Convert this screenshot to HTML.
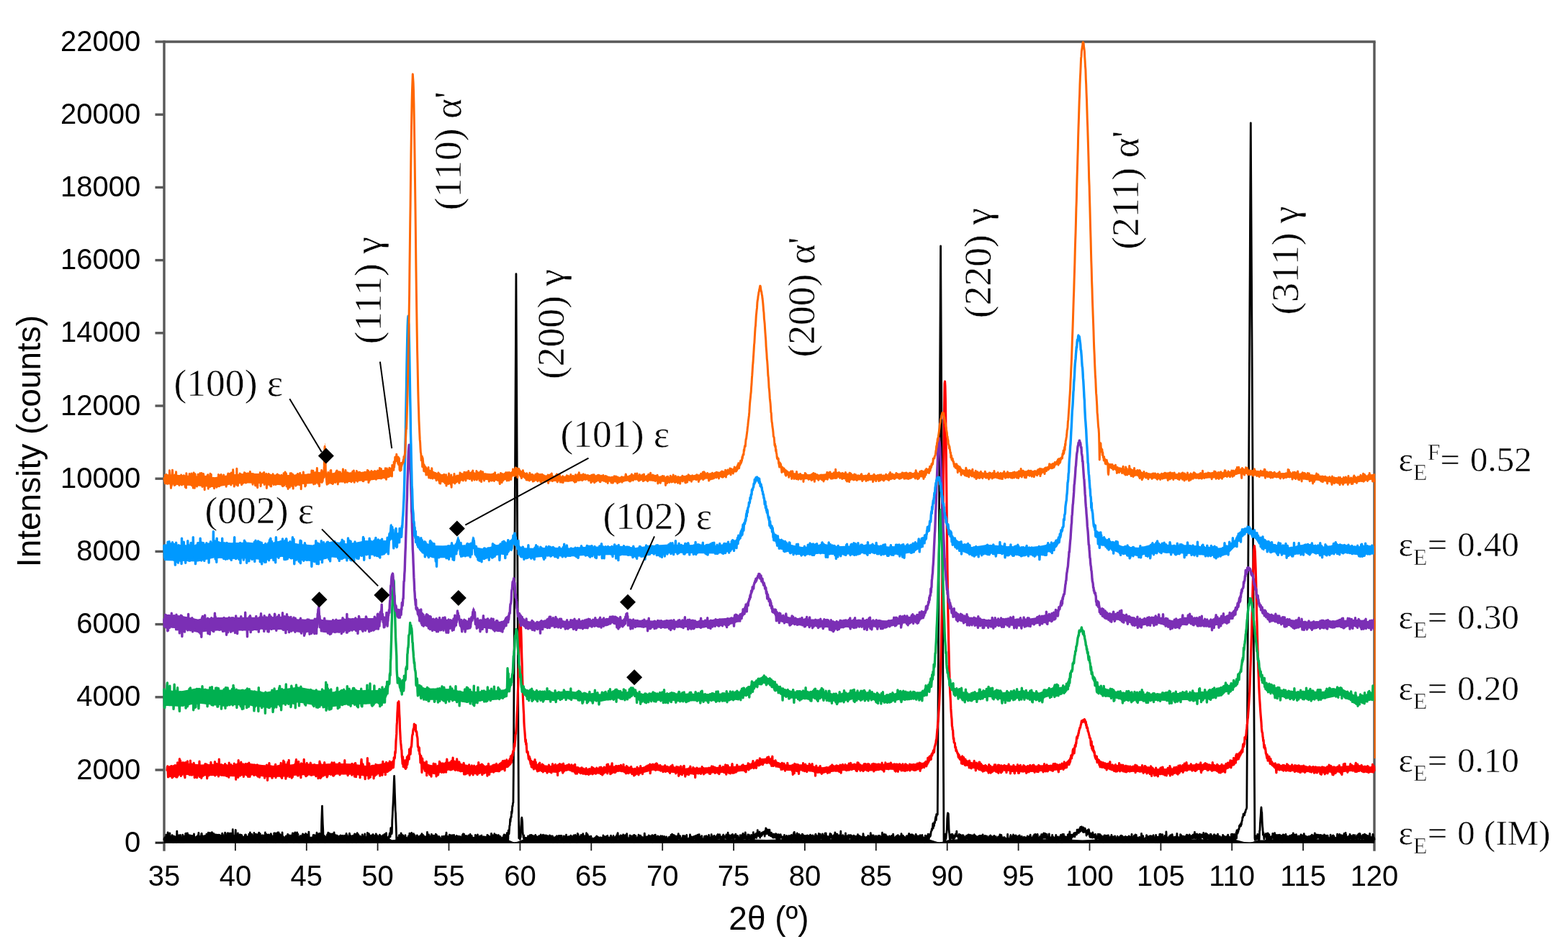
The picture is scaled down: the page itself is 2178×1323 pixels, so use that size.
<!DOCTYPE html>
<html lang="en"><head><meta charset="utf-8"><title>XRD patterns</title>
<style>
html,body{margin:0;padding:0;background:#fff;}
body{width:2178px;height:1323px;overflow:hidden;}
svg{display:block;filter:blur(0.7px);}
text{white-space:pre;}
</style></head><body>
<svg width="2178" height="1323" viewBox="0 0 2178 1323">
<rect x="0" y="0" width="2178" height="1323" fill="#fff"/>
<g stroke="#585858" stroke-width="3.4" fill="none" stroke-linecap="butt">
<line x1="228.0" y1="58.0" x2="1910.7" y2="58.0"/>
<line x1="1909.0" y1="58.0" x2="1909.0" y2="1182.7"/>
<line x1="228.0" y1="56.3" x2="228.0" y2="1182.7"/>
<line x1="215.5" y1="1171.2" x2="228.0" y2="1171.2"/>
<line x1="215.5" y1="1070.0" x2="228.0" y2="1070.0"/>
<line x1="215.5" y1="968.8" x2="228.0" y2="968.8"/>
<line x1="215.5" y1="867.6" x2="228.0" y2="867.6"/>
<line x1="215.5" y1="766.4" x2="228.0" y2="766.4"/>
<line x1="215.5" y1="665.2" x2="228.0" y2="665.2"/>
<line x1="215.5" y1="564.0" x2="228.0" y2="564.0"/>
<line x1="215.5" y1="462.8" x2="228.0" y2="462.8"/>
<line x1="215.5" y1="361.6" x2="228.0" y2="361.6"/>
<line x1="215.5" y1="260.4" x2="228.0" y2="260.4"/>
<line x1="215.5" y1="159.2" x2="228.0" y2="159.2"/>
<line x1="215.5" y1="58.0" x2="228.0" y2="58.0"/>
</g>
<g stroke="#1a1a1a" stroke-width="1.8" fill="none">
<line x1="216.0" y1="1171.2" x2="1909.0" y2="1171.2"/>
<line x1="326.9" y1="1171.2" x2="326.9" y2="1182.2"/>
<line x1="425.8" y1="1171.2" x2="425.8" y2="1182.2"/>
<line x1="524.6" y1="1171.2" x2="524.6" y2="1182.2"/>
<line x1="623.5" y1="1171.2" x2="623.5" y2="1182.2"/>
<line x1="722.4" y1="1171.2" x2="722.4" y2="1182.2"/>
<line x1="821.3" y1="1171.2" x2="821.3" y2="1182.2"/>
<line x1="920.2" y1="1171.2" x2="920.2" y2="1182.2"/>
<line x1="1019.1" y1="1171.2" x2="1019.1" y2="1182.2"/>
<line x1="1117.9" y1="1171.2" x2="1117.9" y2="1182.2"/>
<line x1="1216.8" y1="1171.2" x2="1216.8" y2="1182.2"/>
<line x1="1315.7" y1="1171.2" x2="1315.7" y2="1182.2"/>
<line x1="1414.6" y1="1171.2" x2="1414.6" y2="1182.2"/>
<line x1="1513.5" y1="1171.2" x2="1513.5" y2="1182.2"/>
<line x1="1612.4" y1="1171.2" x2="1612.4" y2="1182.2"/>
<line x1="1711.2" y1="1171.2" x2="1711.2" y2="1182.2"/>
<line x1="1810.1" y1="1171.2" x2="1810.1" y2="1182.2"/>
</g>
<g fill="none" stroke-linejoin="round" stroke-linecap="round">
<polygon fill="#000000" stroke="none" points="228.0,1162.7 436.8,1162.7 440.4,1162.8 442.4,1163.8 444.0,1163.8 452.3,1163.9 455.8,1162.8 532.6,1163.6 538.9,1164.2 544.4,1167.2 550.8,1166.8 556.7,1163.9 699.5,1165.3 703.8,1166.2 714.5,1170.8 720.0,1169.3 726.8,1166.4 733.5,1165.7 781.7,1166.2 1036.9,1166.2 1064.5,1167.1 1092.2,1166.2 1284.9,1166.2 1292.4,1167.1 1304.6,1170.7 1312.1,1169.0 1316.9,1167.2 1321.6,1167.1 1324.8,1166.4 1336.3,1166.2 1478.7,1166.3 1503.6,1167.5 1529.3,1166.3 1709.7,1166.2 1716.8,1166.9 1729.0,1170.3 1736.5,1171.2 1744.5,1168.2 1748.8,1167.5 1756.3,1167.4 1760.7,1166.3 1909.0,1166.2 1909.0,1171.2 228.0,1171.2"/>
<polyline stroke="#000000" stroke-width="2.8" points="228.0,1166.6 228.4,1164.7 228.8,1166.3 229.2,1170.4 229.6,1163.7 230.0,1165.6 230.4,1166.4 230.8,1160.1 231.2,1165.3 231.6,1161.0 232.0,1160.8 232.4,1163.9 232.7,1166.7 233.1,1156.9 233.5,1163.6 233.9,1166.6 234.3,1166.6 234.7,1164.2 235.1,1164.2 235.5,1160.6 235.9,1158.0 236.3,1168.9 236.7,1162.7 237.1,1166.2 237.5,1169.2 237.9,1168.4 238.3,1167.9 238.7,1165.4 239.1,1160.6 239.5,1161.0 239.9,1167.9 240.3,1170.4 240.7,1161.9 241.1,1166.0 241.4,1170.4 241.8,1167.3 242.2,1164.7 242.6,1162.5 243.0,1168.4 243.4,1163.5 243.8,1163.7 244.2,1169.1 244.6,1169.9 245.0,1170.4 245.4,1165.0 245.8,1155.1 246.2,1164.4 246.6,1161.9 247.0,1163.7 247.4,1165.9 247.8,1161.1 248.2,1160.8 248.6,1161.1 249.0,1161.8 249.4,1165.0 249.8,1168.5 250.1,1165.2 250.5,1160.4 250.9,1170.4 251.3,1170.4 251.7,1169.3 252.1,1164.0 252.5,1166.5 252.9,1165.0 253.3,1169.5 253.7,1160.2 254.1,1170.4 254.5,1167.5 254.9,1169.3 255.3,1168.8 255.7,1162.2 256.1,1166.8 256.5,1170.1 256.9,1166.0 257.3,1167.8 257.7,1158.4 258.1,1158.2 258.5,1165.9 258.9,1163.8 259.2,1168.7 259.6,1160.7 260.0,1164.6 260.4,1157.8 260.8,1167.3 261.2,1161.7 261.6,1160.1 262.0,1168.0 262.4,1169.4 262.8,1161.1 263.2,1167.9 263.6,1160.8 264.0,1162.6 264.4,1169.5 264.8,1161.2 265.2,1161.4 265.6,1167.0 266.0,1165.9 266.4,1164.9 266.8,1161.3 267.2,1168.2 267.6,1166.6 267.9,1165.3 268.3,1168.3 268.7,1164.4 269.1,1162.2 269.5,1158.9 269.9,1167.6 270.3,1168.8 270.7,1164.8 271.1,1168.6 271.5,1163.7 271.9,1169.0 272.3,1165.6 272.7,1168.6 273.1,1168.1 273.5,1162.3 273.9,1167.5 274.3,1163.9 274.7,1165.8 275.1,1160.6 275.5,1166.5 275.9,1157.4 276.3,1170.3 276.7,1166.5 277.0,1164.9 277.4,1166.0 277.8,1165.4 278.2,1166.3 278.6,1162.2 279.0,1169.2 279.4,1163.4 279.8,1158.9 280.2,1158.3 280.6,1170.0 281.0,1167.9 281.4,1161.7 281.8,1168.0 282.2,1162.0 282.6,1163.2 283.0,1163.2 283.4,1162.7 283.8,1167.3 284.2,1162.4 284.6,1161.5 285.0,1164.3 285.4,1164.1 285.7,1162.7 286.1,1169.1 286.5,1165.2 286.9,1159.2 287.3,1164.8 287.7,1164.8 288.1,1163.8 288.5,1165.6 288.9,1168.6 289.3,1157.1 289.7,1162.3 290.1,1166.9 290.5,1163.9 290.9,1164.8 291.3,1160.7 291.7,1157.3 292.1,1165.3 292.5,1161.9 292.9,1168.3 293.3,1167.7 293.7,1166.3 294.1,1162.7 294.4,1156.6 294.8,1158.9 295.2,1160.7 295.6,1169.1 296.0,1166.5 296.4,1162.0 296.8,1158.4 297.2,1162.3 297.6,1159.5 298.0,1164.7 298.4,1164.7 298.8,1163.5 299.2,1165.5 299.6,1159.8 300.0,1165.7 300.4,1161.7 300.8,1161.9 301.2,1164.8 301.6,1160.2 302.0,1166.1 302.4,1164.3 302.8,1160.7 303.2,1167.0 303.5,1167.3 303.9,1160.2 304.3,1163.5 304.7,1166.9 305.1,1160.4 305.5,1166.1 305.9,1166.7 306.3,1163.6 306.7,1161.6 307.1,1166.0 307.5,1164.5 307.9,1167.7 308.3,1161.7 308.7,1158.2 309.1,1159.7 309.5,1159.8 309.9,1168.0 310.3,1164.6 310.7,1166.5 311.1,1164.3 311.5,1164.0 311.9,1162.6 312.2,1167.9 312.6,1157.1 313.0,1163.0 313.4,1161.2 313.8,1162.0 314.2,1165.8 314.6,1165.4 315.0,1167.6 315.4,1161.9 315.8,1158.1 316.2,1169.0 316.6,1157.7 317.0,1170.1 317.4,1165.2 317.8,1167.3 318.2,1162.7 318.6,1162.5 319.0,1158.5 319.4,1158.0 319.8,1165.8 320.2,1162.4 320.6,1165.6 320.9,1161.5 321.3,1158.1 321.7,1163.5 322.1,1159.1 322.5,1167.8 322.9,1164.8 323.3,1152.7 323.7,1165.5 324.1,1164.7 324.5,1161.4 324.9,1169.0 325.3,1169.9 325.7,1165.7 326.1,1169.0 326.5,1162.6 326.9,1158.6 327.3,1153.4 327.7,1164.8 328.1,1163.9 328.5,1162.4 328.9,1168.9 329.3,1163.9 329.7,1163.4 330.0,1166.5 330.4,1158.0 330.8,1166.7 331.2,1167.3 331.6,1165.9 332.0,1161.8 332.4,1170.4 332.8,1166.5 333.2,1159.8 333.6,1168.4 334.0,1161.9 334.4,1161.6 334.8,1160.3 335.2,1161.2 335.6,1167.7 336.0,1160.9 336.4,1167.2 336.8,1167.3 337.2,1167.7 337.6,1163.7 338.0,1164.9 338.4,1164.5 338.7,1168.1 339.1,1163.1 339.5,1166.9 339.9,1164.1 340.3,1160.7 340.7,1160.1 341.1,1168.3 341.5,1160.1 341.9,1167.3 342.3,1165.5 342.7,1162.5 343.1,1169.4 343.5,1168.5 343.9,1168.3 344.3,1165.0 344.7,1170.4 345.1,1162.4 345.5,1163.9 345.9,1159.2 346.3,1170.2 346.7,1163.9 347.1,1162.9 347.4,1156.8 347.8,1158.8 348.2,1167.5 348.6,1166.6 349.0,1169.8 349.4,1168.9 349.8,1159.5 350.2,1165.8 350.6,1168.4 351.0,1169.3 351.4,1163.1 351.8,1166.5 352.2,1161.9 352.6,1162.3 353.0,1157.5 353.4,1165.7 353.8,1167.7 354.2,1165.6 354.6,1159.7 355.0,1170.0 355.4,1163.6 355.8,1159.5 356.2,1160.6 356.5,1160.7 356.9,1164.3 357.3,1167.0 357.7,1164.2 358.1,1162.0 358.5,1159.8 358.9,1158.8 359.3,1167.0 359.7,1157.2 360.1,1170.4 360.5,1165.6 360.9,1160.4 361.3,1158.7 361.7,1165.1 362.1,1165.7 362.5,1165.4 362.9,1164.4 363.3,1165.1 363.7,1163.0 364.1,1160.8 364.5,1161.9 364.9,1162.2 365.2,1164.0 365.6,1160.8 366.0,1167.5 366.4,1162.7 366.8,1166.9 367.2,1162.2 367.6,1169.9 368.0,1165.4 368.4,1157.0 368.8,1166.1 369.2,1161.3 369.6,1166.7 370.0,1159.5 370.4,1170.3 370.8,1164.3 371.2,1166.7 371.6,1162.0 372.0,1163.1 372.4,1160.2 372.8,1160.6 373.2,1159.9 373.6,1163.7 374.0,1168.1 374.3,1161.8 374.7,1163.5 375.1,1163.7 375.5,1165.4 375.9,1160.1 376.3,1158.6 376.7,1160.6 377.1,1168.6 377.5,1161.8 377.9,1169.8 378.3,1164.4 378.7,1162.2 379.1,1168.8 379.5,1165.1 379.9,1170.2 380.3,1167.6 380.7,1158.0 381.1,1162.4 381.5,1165.0 381.9,1157.9 382.3,1166.4 382.7,1159.2 383.0,1170.4 383.4,1164.3 383.8,1168.4 384.2,1158.1 384.6,1159.8 385.0,1159.6 385.4,1168.0 385.8,1156.8 386.2,1162.9 386.6,1167.6 387.0,1156.9 387.4,1161.8 387.8,1166.5 388.2,1158.8 388.6,1168.8 389.0,1160.0 389.4,1166.1 389.8,1163.4 390.2,1164.2 390.6,1165.8 391.0,1160.5 391.4,1162.3 391.7,1163.0 392.1,1157.0 392.5,1170.4 392.9,1167.0 393.3,1162.6 393.7,1166.5 394.1,1170.2 394.5,1166.1 394.9,1167.0 395.3,1165.6 395.7,1163.8 396.1,1166.2 396.5,1167.4 396.9,1170.4 397.3,1161.9 397.7,1170.4 398.1,1163.0 398.5,1162.7 398.9,1170.4 399.3,1162.0 399.7,1159.3 400.1,1161.9 400.5,1164.9 400.8,1163.9 401.2,1160.8 401.6,1161.7 402.0,1165.2 402.4,1161.5 402.8,1161.1 403.2,1167.9 403.6,1164.5 404.0,1168.0 404.4,1168.5 404.8,1169.0 405.2,1162.7 405.6,1160.3 406.0,1165.1 406.4,1158.0 406.8,1167.4 407.2,1165.1 407.6,1158.3 408.0,1170.4 408.4,1158.9 408.8,1169.7 409.2,1157.8 409.5,1167.5 409.9,1156.8 410.3,1165.9 410.7,1161.3 411.1,1159.9 411.5,1166.8 411.9,1164.3 412.3,1167.8 412.7,1156.8 413.1,1159.0 413.5,1160.9 413.9,1159.0 414.3,1168.3 414.7,1170.4 415.1,1165.9 415.5,1163.6 415.9,1167.8 416.3,1170.3 416.7,1164.6 417.1,1161.7 417.5,1164.7 417.9,1166.5 418.2,1169.0 418.6,1170.1 419.0,1161.8 419.4,1166.1 419.8,1160.7 420.2,1160.4 420.6,1158.9 421.0,1159.4 421.4,1165.1 421.8,1164.4 422.2,1160.1 422.6,1163.7 423.0,1168.1 423.4,1170.4 423.8,1165.0 424.2,1163.4 424.6,1158.5 425.0,1170.4 425.4,1160.7 425.8,1159.6 426.2,1160.2 426.6,1167.2 427.0,1163.9 427.3,1160.2 427.7,1163.7 428.1,1163.4 428.5,1163.7 428.9,1156.1 429.3,1164.3 429.7,1166.8 430.1,1165.7 430.5,1167.3 430.9,1166.9 431.3,1166.0 431.7,1168.8 432.1,1170.4 432.5,1164.9 432.9,1166.6 433.3,1170.4 433.7,1169.4 434.1,1169.4 434.5,1166.7 434.9,1162.5 435.3,1160.3 435.7,1169.6 436.0,1160.6 436.4,1160.9 436.8,1162.7 437.2,1160.6 437.6,1164.9 438.0,1165.6 438.4,1165.4 438.8,1169.7 439.2,1167.5 439.6,1169.1 440.0,1157.2 440.4,1160.6 440.8,1158.8 441.2,1170.4 441.6,1169.7 442.0,1170.4 442.4,1163.8 442.8,1159.3 443.2,1166.1 443.6,1158.2 444.0,1167.9 444.4,1160.5 444.8,1168.9 445.1,1161.8 445.5,1160.6 445.9,1161.4 446.3,1164.0 446.7,1142.6 447.1,1130.8 447.5,1120.1 447.9,1133.8 448.3,1145.1 448.7,1152.3 449.1,1164.3 449.5,1168.1 449.9,1166.8 450.3,1168.4 450.7,1161.6 451.1,1163.4 451.5,1170.4 451.9,1166.5 452.3,1163.5 452.7,1165.5 453.1,1168.6 453.5,1165.7 453.8,1169.3 454.2,1160.7 454.6,1167.1 455.0,1159.3 455.4,1164.1 455.8,1157.1 456.2,1166.6 456.6,1164.9 457.0,1164.6 457.4,1167.7 457.8,1158.2 458.2,1165.5 458.6,1165.8 459.0,1162.9 459.4,1168.3 459.8,1159.5 460.2,1164.2 460.6,1168.5 461.0,1159.0 461.4,1164.5 461.8,1163.6 462.2,1158.8 462.5,1167.9 462.9,1159.7 463.3,1165.5 463.7,1170.1 464.1,1157.0 464.5,1162.0 464.9,1160.9 465.3,1164.7 465.7,1160.4 466.1,1161.0 466.5,1168.8 466.9,1165.6 467.3,1169.3 467.7,1162.3 468.1,1161.0 468.5,1162.3 468.9,1164.1 469.3,1162.4 469.7,1170.2 470.1,1164.7 470.5,1170.2 470.9,1167.8 471.3,1168.8 471.6,1161.9 472.0,1167.8 472.4,1166.7 472.8,1163.4 473.2,1160.9 473.6,1168.9 474.0,1163.1 474.4,1161.6 474.8,1161.9 475.2,1164.1 475.6,1164.4 476.0,1162.1 476.4,1161.2 476.8,1162.2 477.2,1165.6 477.6,1165.2 478.0,1163.0 478.4,1167.3 478.8,1165.7 479.2,1161.2 479.6,1164.3 480.0,1167.1 480.3,1166.5 480.7,1169.1 481.1,1158.3 481.5,1170.4 481.9,1160.5 482.3,1162.7 482.7,1162.8 483.1,1170.2 483.5,1166.8 483.9,1163.6 484.3,1170.4 484.7,1167.2 485.1,1161.0 485.5,1158.2 485.9,1163.1 486.3,1167.8 486.7,1161.8 487.1,1161.3 487.5,1161.9 487.9,1165.8 488.3,1164.0 488.7,1168.1 489.0,1162.4 489.4,1170.4 489.8,1166.1 490.2,1161.4 490.6,1168.5 491.0,1166.5 491.4,1166.0 491.8,1167.3 492.2,1160.0 492.6,1158.9 493.0,1160.7 493.4,1160.7 493.8,1161.0 494.2,1159.6 494.6,1169.4 495.0,1170.4 495.4,1169.6 495.8,1164.4 496.2,1157.7 496.6,1160.6 497.0,1159.4 497.4,1164.9 497.8,1159.7 498.1,1169.4 498.5,1163.2 498.9,1162.0 499.3,1167.6 499.7,1166.9 500.1,1162.0 500.5,1163.3 500.9,1163.5 501.3,1163.8 501.7,1170.4 502.1,1165.4 502.5,1169.9 502.9,1165.0 503.3,1160.0 503.7,1164.1 504.1,1161.7 504.5,1167.5 504.9,1170.4 505.3,1165.5 505.7,1166.3 506.1,1167.1 506.5,1164.6 506.8,1159.0 507.2,1169.6 507.6,1165.1 508.0,1165.1 508.4,1165.6 508.8,1169.0 509.2,1169.4 509.6,1163.2 510.0,1164.9 510.4,1157.5 510.8,1160.7 511.2,1162.4 511.6,1162.0 512.0,1161.7 512.4,1158.6 512.8,1160.9 513.2,1164.1 513.6,1162.1 514.0,1161.1 514.4,1162.0 514.8,1170.4 515.2,1167.1 515.5,1166.8 515.9,1162.7 516.3,1165.2 516.7,1160.6 517.1,1165.8 517.5,1166.4 517.9,1159.6 518.3,1159.6 518.7,1162.7 519.1,1162.8 519.5,1165.6 519.9,1166.5 520.3,1169.2 520.7,1163.4 521.1,1161.2 521.5,1161.8 521.9,1169.6 522.3,1158.9 522.7,1168.6 523.1,1160.1 523.5,1165.0 523.9,1161.9 524.3,1164.1 524.6,1165.5 525.0,1161.8 525.4,1162.3 525.8,1168.5 526.2,1164.4 526.6,1166.9 527.0,1168.3 527.4,1160.1 527.8,1165.8 528.2,1161.3 528.6,1165.7 529.0,1169.3 529.4,1163.1 529.8,1169.8 530.2,1170.4 530.6,1161.9 531.0,1165.1 531.4,1161.6 531.8,1165.8 532.2,1160.6 532.6,1167.7 533.0,1167.7 533.3,1163.3 533.7,1168.4 534.1,1159.5 534.5,1169.4 534.9,1161.1 535.3,1168.3 535.7,1160.7 536.1,1159.4 536.5,1157.7 536.9,1169.7 537.3,1165.6 537.7,1163.3 538.1,1168.1 538.5,1170.4 538.9,1167.0 539.3,1164.4 539.7,1169.8 540.1,1162.8 540.5,1161.8 540.9,1160.7 541.3,1157.9 541.7,1163.1 542.1,1162.7 542.4,1157.4 542.8,1150.7 543.2,1156.4 543.6,1153.2 544.0,1158.9 544.4,1156.7 544.8,1139.8 545.2,1133.7 545.6,1124.0 546.0,1117.6 546.4,1108.7 546.8,1100.3 547.2,1087.2 547.6,1078.4 548.0,1088.9 548.4,1102.1 548.8,1112.6 549.2,1126.0 549.6,1130.6 550.0,1142.4 550.4,1153.6 550.8,1169.4 551.1,1164.7 551.5,1169.8 551.9,1168.4 552.3,1165.9 552.7,1164.1 553.1,1166.3 553.5,1165.6 553.9,1164.6 554.3,1160.8 554.7,1160.6 555.1,1164.2 555.5,1166.8 555.9,1165.3 556.3,1167.0 556.7,1167.3 557.1,1157.8 557.5,1159.8 557.9,1162.7 558.3,1160.1 558.7,1163.1 559.1,1165.5 559.5,1166.6 559.8,1160.9 560.2,1164.3 560.6,1162.7 561.0,1168.6 561.4,1168.1 561.8,1166.9 562.2,1168.0 562.6,1163.9 563.0,1160.7 563.4,1166.1 563.8,1163.8 564.2,1165.8 564.6,1164.6 565.0,1169.2 565.4,1170.4 565.8,1170.4 566.2,1164.5 566.6,1164.0 567.0,1163.6 567.4,1161.8 567.8,1166.8 568.2,1164.3 568.6,1165.0 568.9,1158.1 569.3,1161.0 569.7,1165.5 570.1,1168.9 570.5,1165.7 570.9,1161.5 571.3,1168.9 571.7,1157.4 572.1,1160.3 572.5,1165.1 572.9,1166.5 573.3,1163.2 573.7,1160.7 574.1,1167.1 574.5,1158.7 574.9,1162.9 575.3,1160.2 575.7,1161.9 576.1,1160.9 576.5,1167.1 576.9,1163.6 577.3,1167.2 577.6,1165.7 578.0,1167.4 578.4,1168.7 578.8,1166.9 579.2,1160.8 579.6,1160.8 580.0,1162.2 580.4,1165.5 580.8,1166.1 581.2,1170.3 581.6,1166.5 582.0,1165.6 582.4,1162.6 582.8,1168.0 583.2,1168.7 583.6,1166.4 584.0,1161.2 584.4,1169.5 584.8,1166.0 585.2,1160.4 585.6,1160.8 586.0,1158.6 586.3,1163.9 586.7,1163.3 587.1,1169.6 587.5,1168.1 587.9,1160.6 588.3,1166.3 588.7,1162.0 589.1,1166.2 589.5,1162.9 589.9,1163.5 590.3,1166.5 590.7,1163.0 591.1,1164.1 591.5,1165.9 591.9,1166.3 592.3,1166.2 592.7,1162.2 593.1,1161.5 593.5,1156.4 593.9,1163.5 594.3,1163.1 594.7,1168.1 595.1,1165.5 595.4,1169.3 595.8,1160.0 596.2,1165.9 596.6,1165.8 597.0,1162.1 597.4,1166.1 597.8,1163.0 598.2,1164.9 598.6,1165.6 599.0,1165.2 599.4,1159.5 599.8,1162.3 600.2,1162.5 600.6,1161.7 601.0,1165.4 601.4,1166.9 601.8,1161.2 602.2,1166.6 602.6,1164.3 603.0,1167.2 603.4,1165.7 603.8,1161.3 604.1,1169.0 604.5,1163.2 604.9,1163.7 605.3,1159.1 605.7,1169.1 606.1,1162.0 606.5,1160.4 606.9,1164.6 607.3,1166.2 607.7,1162.3 608.1,1169.4 608.5,1163.9 608.9,1165.6 609.3,1167.5 609.7,1162.3 610.1,1165.8 610.5,1163.4 610.9,1164.4 611.3,1167.5 611.7,1167.7 612.1,1166.8 612.5,1170.4 612.9,1167.1 613.2,1170.0 613.6,1165.6 614.0,1162.5 614.4,1170.4 614.8,1165.5 615.2,1168.3 615.6,1165.2 616.0,1165.3 616.4,1162.2 616.8,1165.6 617.2,1168.0 617.6,1168.5 618.0,1166.5 618.4,1169.4 618.8,1163.0 619.2,1160.6 619.6,1165.5 620.0,1157.2 620.4,1163.7 620.8,1162.1 621.2,1162.2 621.6,1169.0 621.9,1170.4 622.3,1164.4 622.7,1163.0 623.1,1164.7 623.5,1165.6 623.9,1166.5 624.3,1160.2 624.7,1165.0 625.1,1160.3 625.5,1162.2 625.9,1164.8 626.3,1170.4 626.7,1161.1 627.1,1161.6 627.5,1165.4 627.9,1166.7 628.3,1160.6 628.7,1169.7 629.1,1166.5 629.5,1166.3 629.9,1162.1 630.3,1169.4 630.6,1160.3 631.0,1164.6 631.4,1167.9 631.8,1164.6 632.2,1168.2 632.6,1163.3 633.0,1166.3 633.4,1162.3 633.8,1167.0 634.2,1161.4 634.6,1162.2 635.0,1164.6 635.4,1170.4 635.8,1169.9 636.2,1162.2 636.6,1168.5 637.0,1165.7 637.4,1167.3 637.8,1163.0 638.2,1162.4 638.6,1170.3 639.0,1162.7 639.4,1168.8 639.7,1165.0 640.1,1165.7 640.5,1170.4 640.9,1167.9 641.3,1166.6 641.7,1163.0 642.1,1161.7 642.5,1160.3 642.9,1164.8 643.3,1159.0 643.7,1163.6 644.1,1169.0 644.5,1159.2 644.9,1167.4 645.3,1163.1 645.7,1164.2 646.1,1164.8 646.5,1165.4 646.9,1164.6 647.3,1161.4 647.7,1163.3 648.1,1165.2 648.4,1165.9 648.8,1162.9 649.2,1162.4 649.6,1162.3 650.0,1162.6 650.4,1168.3 650.8,1160.8 651.2,1164.4 651.6,1164.9 652.0,1167.2 652.4,1161.3 652.8,1166.9 653.2,1159.5 653.6,1164.1 654.0,1169.7 654.4,1167.5 654.8,1165.5 655.2,1161.4 655.6,1168.7 656.0,1166.7 656.4,1165.1 656.8,1164.1 657.1,1166.2 657.5,1166.8 657.9,1166.5 658.3,1167.4 658.7,1164.3 659.1,1166.7 659.5,1167.0 659.9,1166.7 660.3,1160.3 660.7,1169.3 661.1,1166.3 661.5,1170.4 661.9,1163.5 662.3,1161.5 662.7,1167.6 663.1,1164.5 663.5,1160.0 663.9,1168.8 664.3,1164.3 664.7,1166.2 665.1,1165.5 665.5,1163.5 665.9,1165.2 666.2,1165.5 666.6,1162.0 667.0,1169.3 667.4,1164.6 667.8,1163.8 668.2,1164.4 668.6,1161.5 669.0,1161.1 669.4,1165.1 669.8,1166.9 670.2,1165.2 670.6,1164.2 671.0,1163.5 671.4,1163.3 671.8,1163.8 672.2,1162.7 672.6,1165.6 673.0,1167.5 673.4,1164.2 673.8,1165.7 674.2,1163.2 674.6,1165.0 674.9,1163.7 675.3,1168.7 675.7,1166.1 676.1,1164.1 676.5,1166.1 676.9,1160.3 677.3,1160.7 677.7,1162.1 678.1,1162.8 678.5,1161.6 678.9,1166.7 679.3,1165.6 679.7,1162.3 680.1,1168.0 680.5,1163.9 680.9,1163.9 681.3,1169.0 681.7,1162.7 682.1,1167.0 682.5,1158.3 682.9,1168.2 683.3,1163.9 683.6,1166.7 684.0,1161.4 684.4,1160.8 684.8,1162.0 685.2,1161.1 685.6,1163.3 686.0,1163.9 686.4,1167.8 686.8,1158.7 687.2,1161.2 687.6,1168.2 688.0,1162.4 688.4,1167.8 688.8,1161.9 689.2,1160.2 689.6,1167.3 690.0,1162.5 690.4,1163.4 690.8,1166.0 691.2,1166.5 691.6,1163.9 692.0,1160.6 692.4,1161.5 692.7,1160.7 693.1,1162.7 693.5,1169.3 693.9,1165.4 694.3,1163.8 694.7,1162.6 695.1,1162.4 695.5,1166.7 695.9,1165.2 696.3,1165.1 696.7,1167.7 697.1,1168.3 697.5,1165.5 697.9,1164.2 698.3,1168.1 698.7,1164.1 699.1,1167.2 699.5,1161.3 699.9,1166.3 700.3,1159.8 700.7,1164.0 701.1,1167.1 701.4,1166.3 701.8,1160.7 702.2,1165.0 702.6,1164.8 703.0,1167.1 703.4,1160.3 703.8,1166.6 704.2,1157.6 704.6,1165.6 705.0,1165.6 705.4,1159.0 705.8,1167.1 706.2,1153.9 706.6,1155.4 707.0,1158.8 707.4,1153.7 707.8,1147.4 708.2,1147.3 708.6,1138.5 709.0,1141.9 709.4,1137.4 709.8,1135.0 710.2,1135.6 710.5,1128.0 710.9,1130.5 711.3,1127.3 711.7,1120.1 712.1,1120.5 712.5,1115.8 712.9,1115.5 713.3,1074.6 713.7,997.7 714.1,921.4 714.5,844.3 714.9,768.8 715.3,689.8 715.7,613.0 716.1,535.5 716.5,459.1 716.9,380.6 717.3,463.2 717.7,547.1 718.1,626.8 718.5,711.6 718.9,793.3 719.2,875.6 719.6,956.5 720.0,1040.2 720.4,1123.2 720.8,1164.9 721.2,1163.2 721.6,1162.8 722.0,1160.9 722.4,1166.5 722.8,1157.1 723.2,1163.4 723.6,1149.5 724.0,1145.3 724.4,1137.6 724.8,1136.1 725.2,1138.7 725.6,1143.1 726.0,1155.6 726.4,1159.2 726.8,1160.9 727.2,1164.5 727.6,1160.7 727.9,1163.9 728.3,1168.3 728.7,1165.4 729.1,1167.5 729.5,1164.4 729.9,1167.2 730.3,1167.7 730.7,1167.2 731.1,1164.4 731.5,1168.8 731.9,1170.4 732.3,1164.8 732.7,1164.7 733.1,1169.1 733.5,1162.0 733.9,1167.5 734.3,1164.7 734.7,1167.1 735.1,1167.3 735.5,1164.5 735.9,1161.2 736.3,1160.6 736.7,1168.1 737.0,1167.5 737.4,1165.9 737.8,1166.0 738.2,1160.4 738.6,1164.1 739.0,1167.7 739.4,1165.1 739.8,1161.5 740.2,1162.9 740.6,1163.3 741.0,1167.3 741.4,1165.7 741.8,1162.0 742.2,1165.8 742.6,1165.0 743.0,1162.3 743.4,1164.5 743.8,1160.5 744.2,1162.5 744.6,1162.0 745.0,1162.5 745.4,1162.8 745.7,1165.8 746.1,1166.6 746.5,1167.6 746.9,1165.7 747.3,1162.9 747.7,1165.3 748.1,1167.2 748.5,1168.3 748.9,1161.6 749.3,1169.1 749.7,1165.8 750.1,1164.6 750.5,1165.8 750.9,1163.1 751.3,1159.9 751.7,1164.6 752.1,1161.4 752.5,1168.3 752.9,1169.5 753.3,1168.0 753.7,1165.7 754.1,1166.9 754.4,1160.2 754.8,1163.3 755.2,1161.2 755.6,1169.8 756.0,1164.4 756.4,1168.2 756.8,1160.8 757.2,1162.7 757.6,1166.0 758.0,1161.5 758.4,1161.9 758.8,1161.0 759.2,1163.5 759.6,1164.5 760.0,1163.3 760.4,1161.6 760.8,1162.0 761.2,1168.4 761.6,1168.3 762.0,1164.8 762.4,1163.3 762.8,1167.2 763.2,1164.8 763.5,1160.8 763.9,1165.9 764.3,1164.7 764.7,1165.7 765.1,1162.8 765.5,1167.2 765.9,1162.0 766.3,1164.4 766.7,1162.6 767.1,1163.9 767.5,1161.9 767.9,1164.7 768.3,1170.4 768.7,1167.9 769.1,1168.5 769.5,1164.1 769.9,1165.0 770.3,1169.0 770.7,1168.0 771.1,1163.7 771.5,1166.2 771.9,1167.2 772.2,1166.4 772.6,1165.5 773.0,1161.9 773.4,1161.7 773.8,1164.9 774.2,1170.4 774.6,1168.4 775.0,1165.3 775.4,1167.5 775.8,1166.4 776.2,1161.5 776.6,1161.7 777.0,1162.5 777.4,1163.7 777.8,1164.2 778.2,1161.5 778.6,1162.5 779.0,1166.4 779.4,1163.1 779.8,1166.5 780.2,1161.5 780.6,1168.9 781.0,1168.5 781.3,1169.3 781.7,1165.0 782.1,1168.6 782.5,1165.5 782.9,1170.4 783.3,1162.0 783.7,1163.4 784.1,1165.2 784.5,1166.5 784.9,1165.2 785.3,1162.5 785.7,1165.2 786.1,1165.6 786.5,1160.1 786.9,1164.6 787.3,1165.8 787.7,1163.2 788.1,1163.4 788.5,1163.7 788.9,1166.0 789.3,1165.7 789.7,1162.7 790.0,1165.8 790.4,1162.8 790.8,1164.7 791.2,1164.3 791.6,1162.3 792.0,1170.4 792.4,1167.1 792.8,1161.2 793.2,1164.9 793.6,1167.4 794.0,1163.4 794.4,1166.2 794.8,1162.7 795.2,1165.4 795.6,1165.8 796.0,1163.0 796.4,1167.3 796.8,1161.0 797.2,1166.8 797.6,1165.7 798.0,1168.6 798.4,1166.1 798.7,1165.7 799.1,1160.5 799.5,1161.9 799.9,1163.6 800.3,1168.2 800.7,1170.4 801.1,1169.3 801.5,1170.4 801.9,1168.3 802.3,1158.3 802.7,1164.0 803.1,1159.4 803.5,1168.3 803.9,1163.9 804.3,1166.2 804.7,1162.9 805.1,1164.7 805.5,1165.8 805.9,1162.4 806.3,1167.5 806.7,1162.7 807.1,1160.3 807.5,1163.1 807.8,1165.5 808.2,1168.5 808.6,1164.7 809.0,1166.2 809.4,1159.9 809.8,1158.7 810.2,1161.1 810.6,1167.7 811.0,1163.1 811.4,1162.9 811.8,1165.0 812.2,1161.9 812.6,1166.3 813.0,1162.7 813.4,1167.5 813.8,1162.7 814.2,1161.7 814.6,1157.7 815.0,1166.5 815.4,1161.9 815.8,1161.0 816.2,1159.5 816.5,1163.0 816.9,1161.7 817.3,1165.2 817.7,1163.9 818.1,1169.2 818.5,1163.8 818.9,1162.8 819.3,1166.2 819.7,1163.0 820.1,1164.9 820.5,1166.2 820.9,1162.2 821.3,1165.5 821.7,1168.9 822.1,1165.4 822.5,1165.8 822.9,1170.4 823.3,1166.8 823.7,1165.2 824.1,1167.4 824.5,1166.4 824.9,1167.2 825.2,1165.4 825.6,1168.3 826.0,1164.9 826.4,1164.5 826.8,1163.9 827.2,1166.5 827.6,1166.2 828.0,1168.5 828.4,1162.7 828.8,1161.9 829.2,1166.0 829.6,1167.4 830.0,1168.1 830.4,1163.2 830.8,1166.3 831.2,1169.8 831.6,1164.5 832.0,1164.0 832.4,1170.4 832.8,1166.3 833.2,1164.6 833.6,1168.2 834.0,1163.8 834.3,1163.9 834.7,1166.2 835.1,1166.0 835.5,1164.6 835.9,1164.4 836.3,1165.9 836.7,1165.6 837.1,1170.0 837.5,1165.7 837.9,1161.0 838.3,1170.1 838.7,1162.1 839.1,1164.7 839.5,1167.2 839.9,1165.3 840.3,1162.9 840.7,1164.7 841.1,1164.6 841.5,1166.9 841.9,1166.1 842.3,1162.3 842.7,1163.2 843.0,1163.5 843.4,1167.2 843.8,1161.4 844.2,1165.2 844.6,1168.1 845.0,1163.9 845.4,1165.4 845.8,1165.1 846.2,1168.1 846.6,1164.1 847.0,1167.5 847.4,1164.2 847.8,1165.9 848.2,1162.0 848.6,1161.2 849.0,1168.9 849.4,1170.4 849.8,1164.8 850.2,1164.7 850.6,1168.1 851.0,1163.4 851.4,1164.7 851.7,1164.8 852.1,1161.5 852.5,1170.4 852.9,1167.6 853.3,1168.3 853.7,1166.8 854.1,1164.5 854.5,1164.4 854.9,1163.3 855.3,1168.5 855.7,1165.6 856.1,1165.4 856.5,1160.8 856.9,1168.4 857.3,1165.6 857.7,1159.0 858.1,1157.6 858.5,1162.0 858.9,1161.9 859.3,1162.5 859.7,1162.9 860.1,1164.9 860.5,1167.9 860.8,1162.2 861.2,1164.5 861.6,1167.7 862.0,1160.8 862.4,1161.0 862.8,1164.4 863.2,1162.3 863.6,1161.8 864.0,1167.0 864.4,1164.9 864.8,1162.4 865.2,1166.9 865.6,1160.0 866.0,1164.0 866.4,1168.1 866.8,1169.3 867.2,1167.7 867.6,1161.9 868.0,1162.7 868.4,1160.7 868.8,1161.8 869.2,1167.1 869.5,1169.9 869.9,1167.7 870.3,1162.3 870.7,1158.6 871.1,1162.4 871.5,1166.8 871.9,1164.6 872.3,1165.7 872.7,1166.9 873.1,1168.0 873.5,1168.9 873.9,1164.7 874.3,1165.4 874.7,1164.8 875.1,1160.9 875.5,1166.7 875.9,1169.3 876.3,1166.2 876.7,1163.7 877.1,1161.8 877.5,1164.0 877.9,1164.2 878.3,1167.6 878.6,1164.8 879.0,1162.8 879.4,1166.0 879.8,1160.8 880.2,1162.3 880.6,1170.4 881.0,1160.5 881.4,1166.3 881.8,1161.4 882.2,1166.4 882.6,1162.8 883.0,1161.5 883.4,1165.0 883.8,1166.5 884.2,1165.4 884.6,1164.7 885.0,1167.1 885.4,1164.7 885.8,1166.4 886.2,1163.4 886.6,1168.1 887.0,1160.2 887.3,1161.5 887.7,1165.5 888.1,1161.1 888.5,1167.4 888.9,1166.2 889.3,1165.4 889.7,1161.1 890.1,1164.7 890.5,1169.5 890.9,1170.1 891.3,1164.3 891.7,1163.3 892.1,1164.0 892.5,1164.7 892.9,1169.3 893.3,1169.6 893.7,1165.9 894.1,1163.8 894.5,1163.2 894.9,1164.4 895.3,1158.2 895.7,1162.4 896.0,1168.1 896.4,1162.7 896.8,1162.9 897.2,1168.5 897.6,1163.2 898.0,1163.0 898.4,1163.0 898.8,1166.3 899.2,1167.8 899.6,1163.1 900.0,1167.6 900.4,1162.4 900.8,1165.2 901.2,1160.8 901.6,1165.8 902.0,1166.6 902.4,1165.3 902.8,1165.3 903.2,1162.0 903.6,1163.9 904.0,1165.8 904.4,1167.1 904.8,1161.8 905.1,1163.9 905.5,1167.9 905.9,1160.6 906.3,1170.4 906.7,1169.3 907.1,1163.0 907.5,1164.2 907.9,1165.1 908.3,1164.6 908.7,1160.8 909.1,1163.9 909.5,1165.7 909.9,1165.9 910.3,1160.2 910.7,1166.2 911.1,1165.4 911.5,1163.2 911.9,1166.6 912.3,1163.9 912.7,1163.7 913.1,1167.2 913.5,1161.8 913.8,1166.3 914.2,1166.3 914.6,1162.3 915.0,1164.2 915.4,1165.5 915.8,1163.4 916.2,1168.3 916.6,1164.0 917.0,1163.9 917.4,1168.1 917.8,1161.7 918.2,1162.9 918.6,1164.1 919.0,1165.2 919.4,1163.1 919.8,1170.0 920.2,1161.8 920.6,1164.1 921.0,1164.1 921.4,1168.4 921.8,1166.7 922.2,1169.7 922.5,1163.1 922.9,1162.4 923.3,1169.9 923.7,1166.2 924.1,1168.7 924.5,1168.4 924.9,1164.6 925.3,1168.1 925.7,1163.0 926.1,1164.4 926.5,1165.7 926.9,1166.4 927.3,1167.5 927.7,1169.8 928.1,1165.5 928.5,1167.6 928.9,1165.3 929.3,1163.2 929.7,1163.1 930.1,1165.9 930.5,1165.3 930.9,1169.1 931.3,1167.2 931.6,1165.7 932.0,1160.4 932.4,1163.0 932.8,1161.5 933.2,1164.5 933.6,1159.2 934.0,1167.0 934.4,1167.9 934.8,1165.4 935.2,1160.4 935.6,1165.4 936.0,1164.0 936.4,1166.5 936.8,1160.9 937.2,1163.8 937.6,1165.0 938.0,1165.4 938.4,1165.7 938.8,1162.2 939.2,1168.9 939.6,1168.1 940.0,1162.3 940.3,1166.7 940.7,1168.9 941.1,1163.2 941.5,1162.3 941.9,1160.9 942.3,1158.7 942.7,1160.8 943.1,1163.7 943.5,1165.1 943.9,1164.2 944.3,1165.4 944.7,1161.6 945.1,1166.3 945.5,1165.3 945.9,1165.1 946.3,1169.7 946.7,1164.8 947.1,1165.4 947.5,1164.9 947.9,1168.9 948.3,1164.0 948.7,1161.5 949.1,1169.5 949.4,1166.4 949.8,1167.2 950.2,1168.3 950.6,1161.6 951.0,1166.4 951.4,1165.0 951.8,1162.1 952.2,1168.3 952.6,1166.7 953.0,1167.1 953.4,1163.1 953.8,1160.5 954.2,1167.1 954.6,1166.9 955.0,1167.5 955.4,1167.8 955.8,1168.1 956.2,1168.0 956.6,1165.4 957.0,1166.8 957.4,1168.2 957.8,1164.5 958.1,1167.7 958.5,1159.9 958.9,1166.9 959.3,1163.0 959.7,1163.1 960.1,1162.7 960.5,1165.9 960.9,1163.2 961.3,1164.0 961.7,1170.0 962.1,1165.9 962.5,1167.9 962.9,1165.5 963.3,1162.7 963.7,1163.3 964.1,1165.2 964.5,1163.3 964.9,1164.3 965.3,1161.9 965.7,1162.2 966.1,1165.8 966.5,1166.4 966.8,1166.2 967.2,1161.2 967.6,1161.9 968.0,1162.1 968.4,1164.8 968.8,1160.9 969.2,1160.1 969.6,1170.4 970.0,1167.1 970.4,1167.1 970.8,1166.3 971.2,1159.7 971.6,1164.8 972.0,1166.8 972.4,1166.3 972.8,1165.9 973.2,1167.5 973.6,1162.7 974.0,1168.2 974.4,1163.6 974.8,1161.6 975.2,1168.1 975.6,1167.7 975.9,1166.0 976.3,1167.1 976.7,1169.4 977.1,1169.2 977.5,1168.9 977.9,1166.1 978.3,1163.7 978.7,1162.2 979.1,1166.7 979.5,1165.2 979.9,1163.9 980.3,1165.2 980.7,1165.8 981.1,1161.7 981.5,1167.6 981.9,1165.6 982.3,1164.1 982.7,1164.5 983.1,1165.4 983.5,1167.1 983.9,1162.2 984.3,1162.0 984.6,1160.3 985.0,1165.1 985.4,1167.3 985.8,1167.5 986.2,1167.6 986.6,1164.2 987.0,1165.4 987.4,1168.3 987.8,1166.1 988.2,1159.6 988.6,1166.5 989.0,1165.4 989.4,1162.1 989.8,1162.2 990.2,1164.6 990.6,1165.8 991.0,1163.1 991.4,1164.7 991.8,1168.6 992.2,1161.3 992.6,1166.2 993.0,1167.3 993.3,1165.7 993.7,1165.1 994.1,1165.8 994.5,1162.9 994.9,1163.3 995.3,1163.3 995.7,1166.1 996.1,1160.7 996.5,1163.3 996.9,1161.3 997.3,1159.5 997.7,1163.0 998.1,1165.2 998.5,1162.1 998.9,1163.1 999.3,1160.5 999.7,1159.7 1000.1,1163.8 1000.5,1162.5 1000.9,1165.5 1001.3,1162.6 1001.7,1166.3 1002.1,1166.4 1002.4,1165.8 1002.8,1166.5 1003.2,1167.2 1003.6,1165.8 1004.0,1161.9 1004.4,1160.7 1004.8,1160.1 1005.2,1166.6 1005.6,1162.4 1006.0,1161.9 1006.4,1162.8 1006.8,1164.2 1007.2,1162.4 1007.6,1163.3 1008.0,1163.0 1008.4,1164.6 1008.8,1160.0 1009.2,1162.3 1009.6,1163.2 1010.0,1162.9 1010.4,1166.5 1010.8,1165.4 1011.1,1157.2 1011.5,1166.2 1011.9,1164.8 1012.3,1160.1 1012.7,1162.6 1013.1,1163.4 1013.5,1165.8 1013.9,1167.5 1014.3,1161.5 1014.7,1165.1 1015.1,1163.8 1015.5,1160.9 1015.9,1165.1 1016.3,1163.2 1016.7,1165.4 1017.1,1159.7 1017.5,1159.5 1017.9,1165.1 1018.3,1161.8 1018.7,1165.9 1019.1,1162.9 1019.5,1165.0 1019.8,1163.2 1020.2,1162.7 1020.6,1160.3 1021.0,1162.4 1021.4,1161.8 1021.8,1159.2 1022.2,1160.8 1022.6,1166.2 1023.0,1162.5 1023.4,1161.7 1023.8,1167.4 1024.2,1164.9 1024.6,1161.5 1025.0,1165.3 1025.4,1163.6 1025.8,1164.7 1026.2,1167.2 1026.6,1165.8 1027.0,1166.4 1027.4,1163.6 1027.8,1162.3 1028.2,1160.6 1028.6,1166.4 1028.9,1163.4 1029.3,1169.3 1029.7,1163.9 1030.1,1164.5 1030.5,1168.3 1030.9,1160.2 1031.3,1168.1 1031.7,1159.3 1032.1,1158.4 1032.5,1162.7 1032.9,1159.9 1033.3,1164.3 1033.7,1164.9 1034.1,1160.7 1034.5,1162.6 1034.9,1164.9 1035.3,1156.9 1035.7,1164.9 1036.1,1162.1 1036.5,1165.3 1036.9,1164.5 1037.3,1164.2 1037.6,1166.8 1038.0,1166.4 1038.4,1165.1 1038.8,1159.8 1039.2,1165.6 1039.6,1162.3 1040.0,1164.8 1040.4,1160.2 1040.8,1162.1 1041.2,1162.8 1041.6,1164.0 1042.0,1166.0 1042.4,1166.7 1042.8,1166.2 1043.2,1167.5 1043.6,1160.4 1044.0,1163.5 1044.4,1161.0 1044.8,1163.0 1045.2,1167.6 1045.6,1163.7 1046.0,1163.1 1046.4,1156.6 1046.7,1163.3 1047.1,1159.0 1047.5,1165.5 1047.9,1162.0 1048.3,1163.1 1048.7,1162.9 1049.1,1163.6 1049.5,1161.1 1049.9,1158.9 1050.3,1158.3 1050.7,1164.4 1051.1,1162.3 1051.5,1161.0 1051.9,1159.2 1052.3,1153.6 1052.7,1158.5 1053.1,1156.2 1053.5,1161.7 1053.9,1157.7 1054.3,1156.5 1054.7,1156.9 1055.1,1156.0 1055.4,1160.3 1055.8,1164.2 1056.2,1158.4 1056.6,1160.6 1057.0,1161.2 1057.4,1160.4 1057.8,1161.6 1058.2,1157.5 1058.6,1160.6 1059.0,1157.5 1059.4,1157.7 1059.8,1158.6 1060.2,1156.2 1060.6,1158.2 1061.0,1157.3 1061.4,1157.7 1061.8,1158.4 1062.2,1162.2 1062.6,1154.6 1063.0,1155.6 1063.4,1158.1 1063.8,1151.0 1064.1,1157.8 1064.5,1158.9 1064.9,1152.5 1065.3,1152.6 1065.7,1157.9 1066.1,1158.3 1066.5,1155.8 1066.9,1156.4 1067.3,1153.2 1067.7,1159.5 1068.1,1160.7 1068.5,1157.7 1068.9,1153.1 1069.3,1158.0 1069.7,1160.5 1070.1,1161.4 1070.5,1158.0 1070.9,1161.8 1071.3,1157.2 1071.7,1157.6 1072.1,1158.6 1072.5,1160.4 1072.9,1163.1 1073.2,1159.3 1073.6,1161.2 1074.0,1164.0 1074.4,1163.4 1074.8,1159.2 1075.2,1162.1 1075.6,1163.8 1076.0,1162.2 1076.4,1162.6 1076.8,1161.5 1077.2,1163.9 1077.6,1158.6 1078.0,1163.5 1078.4,1159.2 1078.8,1166.1 1079.2,1162.1 1079.6,1167.1 1080.0,1162.4 1080.4,1160.0 1080.8,1161.4 1081.2,1162.4 1081.6,1159.7 1081.9,1164.6 1082.3,1165.9 1082.7,1167.7 1083.1,1165.1 1083.5,1164.0 1083.9,1162.7 1084.3,1159.6 1084.7,1163.4 1085.1,1163.7 1085.5,1162.3 1085.9,1164.0 1086.3,1163.6 1086.7,1163.6 1087.1,1169.0 1087.5,1163.5 1087.9,1167.0 1088.3,1162.6 1088.7,1167.6 1089.1,1168.7 1089.5,1160.5 1089.9,1168.6 1090.3,1163.4 1090.6,1164.8 1091.0,1163.1 1091.4,1169.9 1091.8,1165.6 1092.2,1168.5 1092.6,1161.5 1093.0,1162.7 1093.4,1165.8 1093.8,1167.7 1094.2,1166.4 1094.6,1165.0 1095.0,1166.7 1095.4,1163.7 1095.8,1161.3 1096.2,1165.2 1096.6,1163.4 1097.0,1165.0 1097.4,1167.3 1097.8,1163.9 1098.2,1162.9 1098.6,1160.8 1099.0,1162.4 1099.4,1170.4 1099.7,1160.5 1100.1,1163.0 1100.5,1166.2 1100.9,1166.3 1101.3,1161.0 1101.7,1167.8 1102.1,1164.5 1102.5,1157.7 1102.9,1159.0 1103.3,1156.4 1103.7,1158.1 1104.1,1159.0 1104.5,1164.5 1104.9,1167.7 1105.3,1162.5 1105.7,1164.3 1106.1,1161.3 1106.5,1169.9 1106.9,1161.3 1107.3,1157.8 1107.7,1170.1 1108.1,1168.9 1108.4,1164.7 1108.8,1160.6 1109.2,1167.3 1109.6,1162.5 1110.0,1159.3 1110.4,1164.1 1110.8,1163.0 1111.2,1166.5 1111.6,1160.9 1112.0,1164.6 1112.4,1163.8 1112.8,1164.5 1113.2,1167.7 1113.6,1160.9 1114.0,1165.7 1114.4,1159.1 1114.8,1163.7 1115.2,1159.9 1115.6,1161.4 1116.0,1162.7 1116.4,1161.7 1116.8,1166.2 1117.2,1161.3 1117.5,1166.4 1117.9,1161.8 1118.3,1163.6 1118.7,1162.9 1119.1,1166.8 1119.5,1161.4 1119.9,1162.3 1120.3,1166.8 1120.7,1169.2 1121.1,1164.6 1121.5,1161.0 1121.9,1167.4 1122.3,1165.5 1122.7,1163.0 1123.1,1161.7 1123.5,1165.5 1123.9,1167.1 1124.3,1162.1 1124.7,1167.4 1125.1,1164.1 1125.5,1160.1 1125.9,1165.1 1126.2,1160.8 1126.6,1167.2 1127.0,1163.9 1127.4,1165.0 1127.8,1161.7 1128.2,1164.2 1128.6,1165.1 1129.0,1160.9 1129.4,1164.9 1129.8,1167.4 1130.2,1164.5 1130.6,1164.6 1131.0,1162.5 1131.4,1167.1 1131.8,1167.7 1132.2,1168.2 1132.6,1159.8 1133.0,1159.2 1133.4,1164.0 1133.8,1165.7 1134.2,1161.1 1134.6,1166.7 1134.9,1166.9 1135.3,1168.8 1135.7,1163.0 1136.1,1162.7 1136.5,1167.6 1136.9,1163.2 1137.3,1158.5 1137.7,1167.9 1138.1,1166.8 1138.5,1166.7 1138.9,1161.8 1139.3,1159.1 1139.7,1162.3 1140.1,1162.4 1140.5,1163.1 1140.9,1163.3 1141.3,1165.1 1141.7,1164.2 1142.1,1164.3 1142.5,1159.0 1142.9,1169.0 1143.3,1165.8 1143.7,1165.8 1144.0,1162.5 1144.4,1161.1 1144.8,1165.1 1145.2,1165.4 1145.6,1163.8 1146.0,1158.1 1146.4,1161.3 1146.8,1166.0 1147.2,1157.8 1147.6,1161.4 1148.0,1161.4 1148.4,1164.0 1148.8,1167.1 1149.2,1163.9 1149.6,1166.9 1150.0,1162.6 1150.4,1164.9 1150.8,1167.8 1151.2,1163.5 1151.6,1165.3 1152.0,1168.3 1152.4,1164.0 1152.7,1160.6 1153.1,1158.4 1153.5,1160.8 1153.9,1163.9 1154.3,1159.1 1154.7,1163.2 1155.1,1163.1 1155.5,1161.5 1155.9,1166.7 1156.3,1167.7 1156.7,1164.1 1157.1,1165.2 1157.5,1167.2 1157.9,1160.9 1158.3,1166.2 1158.7,1167.6 1159.1,1167.3 1159.5,1159.8 1159.9,1157.0 1160.3,1165.8 1160.7,1158.5 1161.1,1163.0 1161.4,1166.4 1161.8,1168.4 1162.2,1162.0 1162.6,1164.0 1163.0,1159.2 1163.4,1161.4 1163.8,1163.1 1164.2,1161.6 1164.6,1165.9 1165.0,1166.3 1165.4,1165.5 1165.8,1160.9 1166.2,1164.1 1166.6,1162.9 1167.0,1168.6 1167.4,1166.8 1167.8,1155.2 1168.2,1164.6 1168.6,1162.1 1169.0,1166.0 1169.4,1164.4 1169.8,1168.9 1170.2,1162.6 1170.5,1167.3 1170.9,1160.7 1171.3,1168.1 1171.7,1167.8 1172.1,1165.9 1172.5,1166.6 1172.9,1162.4 1173.3,1162.1 1173.7,1168.5 1174.1,1165.7 1174.5,1158.0 1174.9,1166.5 1175.3,1162.1 1175.7,1161.6 1176.1,1162.8 1176.5,1166.8 1176.9,1167.5 1177.3,1166.9 1177.7,1164.9 1178.1,1166.5 1178.5,1160.7 1178.9,1164.3 1179.2,1161.9 1179.6,1164.6 1180.0,1161.8 1180.4,1162.7 1180.8,1160.6 1181.2,1161.2 1181.6,1161.2 1182.0,1160.8 1182.4,1166.1 1182.8,1165.0 1183.2,1164.9 1183.6,1166.6 1184.0,1161.9 1184.4,1166.8 1184.8,1166.1 1185.2,1162.1 1185.6,1163.6 1186.0,1161.2 1186.4,1163.4 1186.8,1162.1 1187.2,1162.6 1187.6,1164.7 1187.9,1169.2 1188.3,1162.5 1188.7,1165.2 1189.1,1165.1 1189.5,1162.7 1189.9,1164.8 1190.3,1167.6 1190.7,1161.7 1191.1,1167.9 1191.5,1159.7 1191.9,1163.2 1192.3,1165.9 1192.7,1164.6 1193.1,1163.9 1193.5,1161.6 1193.9,1165.4 1194.3,1161.8 1194.7,1165.2 1195.1,1164.4 1195.5,1163.2 1195.9,1165.5 1196.3,1170.0 1196.7,1163.2 1197.0,1163.2 1197.4,1163.0 1197.8,1164.4 1198.2,1163.3 1198.6,1166.1 1199.0,1158.6 1199.4,1161.6 1199.8,1167.1 1200.2,1166.6 1200.6,1162.8 1201.0,1164.5 1201.4,1163.6 1201.8,1165.3 1202.2,1165.4 1202.6,1164.8 1203.0,1166.4 1203.4,1167.3 1203.8,1163.4 1204.2,1164.4 1204.6,1166.9 1205.0,1163.5 1205.4,1164.9 1205.7,1161.5 1206.1,1166.9 1206.5,1162.9 1206.9,1165.2 1207.3,1169.0 1207.7,1162.4 1208.1,1164.1 1208.5,1164.8 1208.9,1163.5 1209.3,1157.6 1209.7,1166.4 1210.1,1161.8 1210.5,1165.7 1210.9,1167.7 1211.3,1161.0 1211.7,1164.0 1212.1,1165.6 1212.5,1167.4 1212.9,1165.7 1213.3,1160.8 1213.7,1166.5 1214.1,1167.0 1214.5,1162.3 1214.8,1167.1 1215.2,1165.5 1215.6,1167.4 1216.0,1166.3 1216.4,1167.4 1216.8,1161.7 1217.2,1162.6 1217.6,1167.8 1218.0,1167.7 1218.4,1165.5 1218.8,1163.0 1219.2,1164.2 1219.6,1166.6 1220.0,1161.4 1220.4,1161.9 1220.8,1162.3 1221.2,1162.3 1221.6,1169.6 1222.0,1161.3 1222.4,1163.1 1222.8,1167.4 1223.2,1164.3 1223.5,1163.1 1223.9,1163.2 1224.3,1168.6 1224.7,1162.9 1225.1,1164.6 1225.5,1157.1 1225.9,1167.0 1226.3,1160.2 1226.7,1168.9 1227.1,1163.5 1227.5,1160.2 1227.9,1169.2 1228.3,1159.4 1228.7,1163.2 1229.1,1161.9 1229.5,1166.0 1229.9,1163.8 1230.3,1160.0 1230.7,1163.4 1231.1,1165.9 1231.5,1168.8 1231.9,1165.4 1232.2,1162.2 1232.6,1163.6 1233.0,1165.8 1233.4,1167.1 1233.8,1166.8 1234.2,1165.3 1234.6,1164.0 1235.0,1163.5 1235.4,1161.8 1235.8,1165.0 1236.2,1166.4 1236.6,1168.9 1237.0,1163.2 1237.4,1165.2 1237.8,1166.1 1238.2,1165.4 1238.6,1161.5 1239.0,1164.9 1239.4,1168.8 1239.8,1164.0 1240.2,1167.3 1240.6,1159.2 1241.0,1161.8 1241.3,1169.1 1241.7,1166.9 1242.1,1163.8 1242.5,1165.2 1242.9,1167.0 1243.3,1165.3 1243.7,1167.2 1244.1,1163.9 1244.5,1162.8 1244.9,1167.1 1245.3,1166.4 1245.7,1161.7 1246.1,1164.2 1246.5,1164.2 1246.9,1168.3 1247.3,1160.7 1247.7,1164.9 1248.1,1166.2 1248.5,1168.1 1248.9,1163.1 1249.3,1165.6 1249.7,1164.9 1250.0,1167.0 1250.4,1162.1 1250.8,1162.2 1251.2,1166.7 1251.6,1164.0 1252.0,1158.7 1252.4,1160.2 1252.8,1167.5 1253.2,1164.9 1253.6,1166.1 1254.0,1168.2 1254.4,1161.3 1254.8,1167.9 1255.2,1163.3 1255.6,1164.7 1256.0,1163.1 1256.4,1167.5 1256.8,1165.6 1257.2,1164.5 1257.6,1167.2 1258.0,1166.7 1258.4,1164.6 1258.7,1164.2 1259.1,1161.8 1259.5,1164.0 1259.9,1161.6 1260.3,1167.6 1260.7,1163.2 1261.1,1166.0 1261.5,1164.1 1261.9,1166.4 1262.3,1159.3 1262.7,1158.5 1263.1,1167.2 1263.5,1162.0 1263.9,1163.2 1264.3,1160.0 1264.7,1164.6 1265.1,1163.8 1265.5,1162.2 1265.9,1168.7 1266.3,1162.1 1266.7,1159.6 1267.1,1164.7 1267.5,1169.9 1267.8,1161.4 1268.2,1163.2 1268.6,1162.4 1269.0,1160.8 1269.4,1167.6 1269.8,1166.6 1270.2,1162.3 1270.6,1164.1 1271.0,1164.6 1271.4,1165.3 1271.8,1165.9 1272.2,1159.4 1272.6,1165.4 1273.0,1161.4 1273.4,1163.9 1273.8,1162.1 1274.2,1165.9 1274.6,1163.1 1275.0,1166.3 1275.4,1161.8 1275.8,1165.9 1276.2,1168.9 1276.5,1165.8 1276.9,1163.5 1277.3,1162.2 1277.7,1166.4 1278.1,1160.6 1278.5,1161.3 1278.9,1163.9 1279.3,1162.4 1279.7,1167.4 1280.1,1167.4 1280.5,1160.6 1280.9,1160.5 1281.3,1163.1 1281.7,1163.3 1282.1,1168.6 1282.5,1168.8 1282.9,1166.8 1283.3,1164.3 1283.7,1164.4 1284.1,1170.4 1284.5,1163.9 1284.9,1164.5 1285.3,1161.2 1285.6,1162.4 1286.0,1166.7 1286.4,1164.3 1286.8,1162.5 1287.2,1165.1 1287.6,1167.9 1288.0,1161.5 1288.4,1162.4 1288.8,1162.1 1289.2,1159.2 1289.6,1163.4 1290.0,1168.4 1290.4,1165.0 1290.8,1163.1 1291.2,1162.9 1291.6,1159.3 1292.0,1162.5 1292.4,1161.6 1292.8,1159.7 1293.2,1156.0 1293.6,1155.1 1294.0,1154.3 1294.3,1151.8 1294.7,1153.5 1295.1,1151.7 1295.5,1148.4 1295.9,1144.5 1296.3,1150.9 1296.7,1145.9 1297.1,1144.4 1297.5,1147.6 1297.9,1142.3 1298.3,1144.0 1298.7,1142.7 1299.1,1138.7 1299.5,1136.4 1299.9,1134.7 1300.3,1139.6 1300.7,1131.6 1301.1,1134.0 1301.5,1131.4 1301.9,1131.2 1302.3,1131.9 1302.7,1060.1 1303.0,988.2 1303.4,915.3 1303.8,846.5 1304.2,774.7 1304.6,700.6 1305.0,628.7 1305.4,556.9 1305.8,484.4 1306.2,415.4 1306.6,342.0 1307.0,415.8 1307.4,491.2 1307.8,566.0 1308.2,640.5 1308.6,717.7 1309.0,790.1 1309.4,863.6 1309.8,939.4 1310.2,1016.1 1310.6,1088.4 1311.0,1169.0 1311.4,1160.9 1311.8,1164.4 1312.1,1162.6 1312.5,1169.3 1312.9,1165.4 1313.3,1159.2 1313.7,1166.5 1314.1,1164.8 1314.5,1158.8 1314.9,1157.4 1315.3,1153.1 1315.7,1137.6 1316.1,1133.1 1316.5,1129.8 1316.9,1130.5 1317.3,1130.8 1317.7,1141.9 1318.1,1152.6 1318.5,1157.3 1318.9,1161.2 1319.3,1166.0 1319.7,1166.4 1320.1,1168.0 1320.5,1163.5 1320.8,1159.8 1321.2,1161.2 1321.6,1162.4 1322.0,1159.4 1322.4,1164.3 1322.8,1163.8 1323.2,1159.5 1323.6,1165.6 1324.0,1166.5 1324.4,1169.3 1324.8,1161.6 1325.2,1164.9 1325.6,1164.1 1326.0,1164.5 1326.4,1160.8 1326.8,1162.0 1327.2,1159.1 1327.6,1160.8 1328.0,1162.0 1328.4,1159.8 1328.8,1155.2 1329.2,1160.7 1329.5,1161.5 1329.9,1162.2 1330.3,1162.0 1330.7,1161.4 1331.1,1162.2 1331.5,1167.2 1331.9,1166.3 1332.3,1159.4 1332.7,1159.5 1333.1,1167.1 1333.5,1166.8 1333.9,1161.1 1334.3,1160.3 1334.7,1168.9 1335.1,1169.7 1335.5,1167.5 1335.9,1163.7 1336.3,1162.4 1336.7,1163.9 1337.1,1160.7 1337.5,1168.6 1337.9,1163.8 1338.3,1161.0 1338.6,1165.3 1339.0,1169.3 1339.4,1164.1 1339.8,1163.1 1340.2,1166.1 1340.6,1168.6 1341.0,1165.8 1341.4,1164.4 1341.8,1165.7 1342.2,1161.3 1342.6,1164.1 1343.0,1164.1 1343.4,1164.3 1343.8,1165.0 1344.2,1160.6 1344.6,1163.9 1345.0,1166.1 1345.4,1159.8 1345.8,1166.7 1346.2,1164.0 1346.6,1166.0 1347.0,1165.2 1347.3,1166.6 1347.7,1160.4 1348.1,1167.3 1348.5,1163.1 1348.9,1166.4 1349.3,1168.4 1349.7,1164.1 1350.1,1161.0 1350.5,1163.6 1350.9,1168.8 1351.3,1162.9 1351.7,1165.1 1352.1,1161.7 1352.5,1164.2 1352.9,1160.1 1353.3,1159.8 1353.7,1167.4 1354.1,1166.5 1354.5,1161.1 1354.9,1167.5 1355.3,1165.5 1355.7,1166.8 1356.0,1162.4 1356.4,1168.2 1356.8,1167.0 1357.2,1168.2 1357.6,1165.9 1358.0,1164.2 1358.4,1168.3 1358.8,1162.3 1359.2,1166.5 1359.6,1170.2 1360.0,1165.1 1360.4,1161.5 1360.8,1162.8 1361.2,1169.2 1361.6,1163.4 1362.0,1161.4 1362.4,1169.3 1362.8,1164.9 1363.2,1161.3 1363.6,1164.6 1364.0,1169.3 1364.4,1163.7 1364.8,1162.4 1365.1,1159.9 1365.5,1161.6 1365.9,1165.1 1366.3,1165.7 1366.7,1168.2 1367.1,1167.4 1367.5,1164.7 1367.9,1165.5 1368.3,1161.3 1368.7,1162.0 1369.1,1162.3 1369.5,1164.5 1369.9,1164.7 1370.3,1168.4 1370.7,1161.8 1371.1,1163.2 1371.5,1168.7 1371.9,1164.7 1372.3,1163.7 1372.7,1166.5 1373.1,1167.7 1373.5,1163.6 1373.8,1164.8 1374.2,1162.1 1374.6,1167.4 1375.0,1161.9 1375.4,1165.9 1375.8,1160.8 1376.2,1162.3 1376.6,1161.9 1377.0,1165.4 1377.4,1162.6 1377.8,1169.9 1378.2,1165.2 1378.6,1167.1 1379.0,1166.5 1379.4,1166.7 1379.8,1162.5 1380.2,1169.1 1380.6,1165.5 1381.0,1161.3 1381.4,1169.9 1381.8,1162.9 1382.2,1164.7 1382.6,1168.9 1382.9,1168.0 1383.3,1162.7 1383.7,1167.7 1384.1,1167.2 1384.5,1166.3 1384.9,1164.9 1385.3,1168.1 1385.7,1167.8 1386.1,1170.4 1386.5,1163.0 1386.9,1164.5 1387.3,1168.2 1387.7,1164.4 1388.1,1162.7 1388.5,1163.6 1388.9,1159.9 1389.3,1163.4 1389.7,1165.3 1390.1,1167.3 1390.5,1166.7 1390.9,1160.4 1391.3,1169.6 1391.6,1163.3 1392.0,1165.6 1392.4,1163.6 1392.8,1168.5 1393.2,1168.7 1393.6,1167.2 1394.0,1167.0 1394.4,1166.1 1394.8,1163.6 1395.2,1168.3 1395.6,1163.8 1396.0,1167.9 1396.4,1169.4 1396.8,1167.6 1397.2,1165.3 1397.6,1167.9 1398.0,1165.3 1398.4,1165.3 1398.8,1166.8 1399.2,1167.5 1399.6,1159.5 1400.0,1163.8 1400.3,1168.0 1400.7,1166.3 1401.1,1165.6 1401.5,1167.5 1401.9,1168.4 1402.3,1170.3 1402.7,1169.0 1403.1,1165.0 1403.5,1162.3 1403.9,1160.5 1404.3,1162.0 1404.7,1165.9 1405.1,1168.6 1405.5,1169.9 1405.9,1164.4 1406.3,1162.9 1406.7,1169.0 1407.1,1161.9 1407.5,1159.9 1407.9,1168.8 1408.3,1168.1 1408.7,1167.1 1409.1,1165.5 1409.4,1170.4 1409.8,1164.4 1410.2,1161.1 1410.6,1165.6 1411.0,1160.9 1411.4,1162.7 1411.8,1166.5 1412.2,1162.3 1412.6,1166.1 1413.0,1163.0 1413.4,1167.6 1413.8,1162.4 1414.2,1167.0 1414.6,1165.9 1415.0,1164.0 1415.4,1161.4 1415.8,1166.8 1416.2,1160.8 1416.6,1165.3 1417.0,1165.2 1417.4,1167.3 1417.8,1163.7 1418.1,1163.6 1418.5,1162.9 1418.9,1167.0 1419.3,1162.4 1419.7,1164.8 1420.1,1166.4 1420.5,1164.4 1420.9,1168.1 1421.3,1165.0 1421.7,1166.4 1422.1,1169.2 1422.5,1163.2 1422.9,1167.0 1423.3,1166.9 1423.7,1166.3 1424.1,1165.6 1424.5,1163.8 1424.9,1165.6 1425.3,1165.5 1425.7,1167.7 1426.1,1169.8 1426.5,1166.7 1426.8,1167.7 1427.2,1161.9 1427.6,1162.7 1428.0,1165.0 1428.4,1164.2 1428.8,1164.0 1429.2,1164.3 1429.6,1167.2 1430.0,1164.0 1430.4,1161.8 1430.8,1163.3 1431.2,1160.1 1431.6,1163.8 1432.0,1163.8 1432.4,1163.8 1432.8,1167.4 1433.2,1167.3 1433.6,1167.6 1434.0,1164.3 1434.4,1163.8 1434.8,1164.8 1435.2,1161.9 1435.6,1168.2 1435.9,1164.0 1436.3,1166.3 1436.7,1159.8 1437.1,1162.2 1437.5,1167.5 1437.9,1166.5 1438.3,1159.4 1438.7,1165.8 1439.1,1167.5 1439.5,1167.1 1439.9,1168.9 1440.3,1164.1 1440.7,1167.9 1441.1,1159.3 1441.5,1162.2 1441.9,1164.1 1442.3,1168.3 1442.7,1164.6 1443.1,1167.5 1443.5,1169.6 1443.9,1164.2 1444.3,1170.4 1444.6,1162.3 1445.0,1165.9 1445.4,1165.5 1445.8,1168.6 1446.2,1163.7 1446.6,1159.6 1447.0,1160.5 1447.4,1165.9 1447.8,1159.6 1448.2,1162.7 1448.6,1163.7 1449.0,1163.0 1449.4,1164.2 1449.8,1157.8 1450.2,1163.9 1450.6,1163.5 1451.0,1164.3 1451.4,1160.2 1451.8,1158.3 1452.2,1162.7 1452.6,1162.3 1453.0,1162.4 1453.4,1161.1 1453.7,1165.5 1454.1,1159.3 1454.5,1163.5 1454.9,1165.1 1455.3,1163.6 1455.7,1162.9 1456.1,1165.2 1456.5,1166.5 1456.9,1167.8 1457.3,1159.0 1457.7,1163.8 1458.1,1163.3 1458.5,1164.2 1458.9,1163.7 1459.3,1168.4 1459.7,1165.4 1460.1,1167.0 1460.5,1164.2 1460.9,1166.1 1461.3,1163.1 1461.7,1160.3 1462.1,1164.8 1462.4,1166.1 1462.8,1163.1 1463.2,1165.6 1463.6,1164.6 1464.0,1163.9 1464.4,1166.5 1464.8,1166.2 1465.2,1164.1 1465.6,1165.6 1466.0,1169.0 1466.4,1164.0 1466.8,1160.5 1467.2,1165.2 1467.6,1170.4 1468.0,1167.4 1468.4,1164.9 1468.8,1165.5 1469.2,1164.5 1469.6,1162.8 1470.0,1168.3 1470.4,1167.4 1470.8,1164.6 1471.1,1165.6 1471.5,1164.3 1471.9,1164.9 1472.3,1163.6 1472.7,1162.0 1473.1,1161.8 1473.5,1160.3 1473.9,1162.4 1474.3,1170.4 1474.7,1167.2 1475.1,1167.5 1475.5,1170.4 1475.9,1159.4 1476.3,1162.8 1476.7,1167.4 1477.1,1166.0 1477.5,1159.5 1477.9,1169.6 1478.3,1162.5 1478.7,1162.3 1479.1,1167.3 1479.5,1166.6 1479.9,1167.6 1480.2,1163.1 1480.6,1167.0 1481.0,1165.8 1481.4,1165.3 1481.8,1163.2 1482.2,1166.4 1482.6,1164.6 1483.0,1162.5 1483.4,1159.8 1483.8,1168.2 1484.2,1165.6 1484.6,1162.8 1485.0,1158.9 1485.4,1165.5 1485.8,1155.8 1486.2,1163.1 1486.6,1161.9 1487.0,1163.3 1487.4,1160.2 1487.8,1167.1 1488.2,1164.3 1488.6,1161.0 1488.9,1160.1 1489.3,1162.8 1489.7,1160.7 1490.1,1163.1 1490.5,1161.1 1490.9,1159.8 1491.3,1159.5 1491.7,1158.0 1492.1,1161.9 1492.5,1161.3 1492.9,1162.9 1493.3,1157.3 1493.7,1159.7 1494.1,1159.3 1494.5,1157.3 1494.9,1159.1 1495.3,1159.9 1495.7,1159.3 1496.1,1153.2 1496.5,1154.5 1496.9,1153.6 1497.3,1153.1 1497.6,1155.1 1498.0,1156.1 1498.4,1157.5 1498.8,1155.3 1499.2,1153.0 1499.6,1153.8 1500.0,1150.9 1500.4,1155.6 1500.8,1149.4 1501.2,1152.8 1501.6,1150.9 1502.0,1154.4 1502.4,1148.9 1502.8,1153.3 1503.2,1153.4 1503.6,1151.8 1504.0,1155.1 1504.4,1156.3 1504.8,1150.0 1505.2,1151.3 1505.6,1156.5 1506.0,1153.7 1506.4,1155.1 1506.7,1153.3 1507.1,1151.2 1507.5,1152.4 1507.9,1156.4 1508.3,1154.7 1508.7,1156.3 1509.1,1161.2 1509.5,1154.7 1509.9,1157.9 1510.3,1159.6 1510.7,1155.2 1511.1,1153.3 1511.5,1156.9 1511.9,1155.4 1512.3,1152.7 1512.7,1154.0 1513.1,1159.0 1513.5,1162.0 1513.9,1159.3 1514.3,1163.5 1514.7,1159.6 1515.1,1158.0 1515.4,1161.9 1515.8,1162.1 1516.2,1162.7 1516.6,1163.8 1517.0,1158.7 1517.4,1164.1 1517.8,1157.0 1518.2,1161.9 1518.6,1162.9 1519.0,1163.6 1519.4,1160.8 1519.8,1159.9 1520.2,1162.5 1520.6,1162.4 1521.0,1164.2 1521.4,1164.6 1521.8,1159.3 1522.2,1168.1 1522.6,1168.0 1523.0,1162.0 1523.4,1163.2 1523.8,1165.5 1524.1,1164.3 1524.5,1163.5 1524.9,1164.8 1525.3,1159.1 1525.7,1163.2 1526.1,1164.2 1526.5,1160.6 1526.9,1168.7 1527.3,1161.5 1527.7,1159.4 1528.1,1166.6 1528.5,1162.1 1528.9,1165.3 1529.3,1161.0 1529.7,1163.7 1530.1,1162.8 1530.5,1163.1 1530.9,1166.3 1531.3,1163.4 1531.7,1162.5 1532.1,1163.4 1532.5,1170.4 1532.9,1166.2 1533.2,1165.0 1533.6,1167.2 1534.0,1160.8 1534.4,1164.3 1534.8,1164.3 1535.2,1165.2 1535.6,1161.1 1536.0,1167.7 1536.4,1161.3 1536.8,1167.5 1537.2,1164.9 1537.6,1162.6 1538.0,1169.0 1538.4,1161.1 1538.8,1169.2 1539.2,1166.9 1539.6,1161.0 1540.0,1167.2 1540.4,1164.7 1540.8,1166.0 1541.2,1166.1 1541.6,1165.0 1541.9,1165.1 1542.3,1163.8 1542.7,1162.6 1543.1,1167.7 1543.5,1167.6 1543.9,1160.4 1544.3,1164.9 1544.7,1167.2 1545.1,1166.7 1545.5,1164.4 1545.9,1165.7 1546.3,1163.0 1546.7,1164.3 1547.1,1164.3 1547.5,1163.1 1547.9,1164.5 1548.3,1166.2 1548.7,1162.0 1549.1,1164.0 1549.5,1168.7 1549.9,1165.5 1550.3,1170.1 1550.7,1164.7 1551.0,1165.4 1551.4,1165.3 1551.8,1164.6 1552.2,1162.1 1552.6,1164.9 1553.0,1165.6 1553.4,1167.2 1553.8,1168.2 1554.2,1163.7 1554.6,1165.5 1555.0,1164.2 1555.4,1166.5 1555.8,1165.5 1556.2,1162.0 1556.6,1163.2 1557.0,1166.9 1557.4,1161.2 1557.8,1169.8 1558.2,1161.7 1558.6,1164.7 1559.0,1161.9 1559.4,1162.8 1559.7,1170.4 1560.1,1164.4 1560.5,1169.6 1560.9,1163.7 1561.3,1166.2 1561.7,1163.4 1562.1,1170.4 1562.5,1163.9 1562.9,1166.1 1563.3,1162.4 1563.7,1169.8 1564.1,1166.2 1564.5,1163.5 1564.9,1165.4 1565.3,1168.6 1565.7,1163.1 1566.1,1168.0 1566.5,1167.0 1566.9,1170.3 1567.3,1164.2 1567.7,1164.9 1568.1,1161.9 1568.4,1168.3 1568.8,1166.0 1569.2,1170.4 1569.6,1163.1 1570.0,1168.2 1570.4,1168.8 1570.8,1163.6 1571.2,1165.4 1571.6,1164.7 1572.0,1159.3 1572.4,1166.2 1572.8,1163.7 1573.2,1164.4 1573.6,1168.6 1574.0,1163.4 1574.4,1166.9 1574.8,1167.0 1575.2,1162.1 1575.6,1161.1 1576.0,1167.9 1576.4,1162.9 1576.8,1163.5 1577.2,1160.0 1577.5,1166.6 1577.9,1165.9 1578.3,1160.3 1578.7,1165.1 1579.1,1164.4 1579.5,1163.7 1579.9,1165.5 1580.3,1168.4 1580.7,1164.7 1581.1,1165.1 1581.5,1168.5 1581.9,1166.2 1582.3,1164.9 1582.7,1163.3 1583.1,1168.0 1583.5,1170.1 1583.9,1165.7 1584.3,1166.1 1584.7,1166.0 1585.1,1166.5 1585.5,1158.4 1585.9,1162.4 1586.2,1163.6 1586.6,1163.6 1587.0,1163.6 1587.4,1166.6 1587.8,1161.7 1588.2,1167.8 1588.6,1169.3 1589.0,1165.5 1589.4,1166.0 1589.8,1167.0 1590.2,1168.4 1590.6,1168.0 1591.0,1165.0 1591.4,1164.4 1591.8,1164.9 1592.2,1163.0 1592.6,1160.6 1593.0,1163.0 1593.4,1164.1 1593.8,1165.8 1594.2,1163.7 1594.6,1162.7 1594.9,1164.3 1595.3,1168.4 1595.7,1166.6 1596.1,1170.4 1596.5,1164.7 1596.9,1161.8 1597.3,1165.5 1597.7,1162.5 1598.1,1163.2 1598.5,1161.6 1598.9,1168.4 1599.3,1167.7 1599.7,1162.3 1600.1,1164.6 1600.5,1169.1 1600.9,1165.6 1601.3,1161.8 1601.7,1162.8 1602.1,1160.7 1602.5,1163.3 1602.9,1169.1 1603.3,1165.1 1603.7,1165.6 1604.0,1164.2 1604.4,1165.3 1604.8,1163.7 1605.2,1170.4 1605.6,1160.5 1606.0,1166.3 1606.4,1167.7 1606.8,1163.7 1607.2,1162.9 1607.6,1166.0 1608.0,1170.4 1608.4,1165.4 1608.8,1163.3 1609.2,1163.2 1609.6,1167.9 1610.0,1165.6 1610.4,1164.8 1610.8,1159.4 1611.2,1160.9 1611.6,1160.1 1612.0,1159.1 1612.4,1169.6 1612.7,1167.0 1613.1,1165.5 1613.5,1162.4 1613.9,1163.8 1614.3,1165.3 1614.7,1159.6 1615.1,1168.0 1615.5,1165.3 1615.9,1168.5 1616.3,1163.7 1616.7,1165.4 1617.1,1164.7 1617.5,1165.0 1617.9,1161.3 1618.3,1163.9 1618.7,1168.0 1619.1,1163.1 1619.5,1166.5 1619.9,1155.8 1620.3,1161.9 1620.7,1164.7 1621.1,1164.3 1621.5,1166.5 1621.8,1167.2 1622.2,1169.6 1622.6,1166.1 1623.0,1170.4 1623.4,1167.0 1623.8,1162.7 1624.2,1163.2 1624.6,1165.9 1625.0,1167.1 1625.4,1162.2 1625.8,1160.7 1626.2,1162.3 1626.6,1164.3 1627.0,1168.8 1627.4,1167.9 1627.8,1166.5 1628.2,1159.6 1628.6,1163.1 1629.0,1168.1 1629.4,1162.8 1629.8,1167.0 1630.2,1168.7 1630.5,1165.5 1630.9,1167.5 1631.3,1168.2 1631.7,1164.6 1632.1,1163.1 1632.5,1168.2 1632.9,1165.7 1633.3,1169.0 1633.7,1162.8 1634.1,1164.1 1634.5,1163.1 1634.9,1158.4 1635.3,1165.2 1635.7,1165.5 1636.1,1163.2 1636.5,1163.5 1636.9,1165.1 1637.3,1166.3 1637.7,1167.7 1638.1,1163.9 1638.5,1168.2 1638.9,1167.2 1639.2,1165.7 1639.6,1159.6 1640.0,1166.3 1640.4,1165.3 1640.8,1160.6 1641.2,1167.6 1641.6,1161.8 1642.0,1162.4 1642.4,1166.7 1642.8,1165.1 1643.2,1164.5 1643.6,1162.2 1644.0,1164.8 1644.4,1163.4 1644.8,1162.6 1645.2,1167.5 1645.6,1165.3 1646.0,1164.1 1646.4,1162.8 1646.8,1163.8 1647.2,1163.4 1647.6,1167.0 1648.0,1160.7 1648.3,1166.0 1648.7,1160.1 1649.1,1167.0 1649.5,1162.2 1649.9,1163.9 1650.3,1161.2 1650.7,1161.6 1651.1,1165.9 1651.5,1167.4 1651.9,1162.4 1652.3,1160.0 1652.7,1163.1 1653.1,1162.5 1653.5,1166.1 1653.9,1162.2 1654.3,1165.8 1654.7,1162.4 1655.1,1161.6 1655.5,1161.7 1655.9,1162.3 1656.3,1164.5 1656.7,1161.1 1657.0,1160.1 1657.4,1162.3 1657.8,1164.6 1658.2,1159.7 1658.6,1163.0 1659.0,1163.4 1659.4,1156.5 1659.8,1160.2 1660.2,1164.9 1660.6,1163.9 1661.0,1161.0 1661.4,1160.8 1661.8,1162.1 1662.2,1159.2 1662.6,1158.9 1663.0,1167.4 1663.4,1161.5 1663.8,1162.9 1664.2,1161.9 1664.6,1164.3 1665.0,1161.4 1665.4,1160.0 1665.7,1165.5 1666.1,1164.9 1666.5,1159.1 1666.9,1166.9 1667.3,1162.8 1667.7,1168.5 1668.1,1162.6 1668.5,1161.5 1668.9,1159.9 1669.3,1161.5 1669.7,1163.2 1670.1,1161.9 1670.5,1163.5 1670.9,1161.7 1671.3,1163.2 1671.7,1157.3 1672.1,1165.0 1672.5,1164.2 1672.9,1164.2 1673.3,1165.0 1673.7,1166.6 1674.1,1159.6 1674.5,1168.1 1674.8,1158.2 1675.2,1164.6 1675.6,1161.2 1676.0,1159.4 1676.4,1158.9 1676.8,1165.3 1677.2,1164.3 1677.6,1160.2 1678.0,1164.2 1678.4,1162.9 1678.8,1162.6 1679.2,1165.5 1679.6,1161.1 1680.0,1167.6 1680.4,1165.2 1680.8,1163.7 1681.2,1159.4 1681.6,1168.9 1682.0,1159.4 1682.4,1163.1 1682.8,1163.3 1683.2,1161.4 1683.5,1163.7 1683.9,1165.4 1684.3,1168.9 1684.7,1162.8 1685.1,1163.7 1685.5,1165.1 1685.9,1161.5 1686.3,1159.9 1686.7,1167.8 1687.1,1160.0 1687.5,1167.3 1687.9,1167.0 1688.3,1165.0 1688.7,1161.4 1689.1,1167.3 1689.5,1163.5 1689.9,1166.6 1690.3,1160.8 1690.7,1169.3 1691.1,1165.7 1691.5,1159.1 1691.9,1163.1 1692.2,1168.4 1692.6,1162.5 1693.0,1163.7 1693.4,1166.3 1693.8,1167.8 1694.2,1162.1 1694.6,1164.5 1695.0,1163.8 1695.4,1166.9 1695.8,1166.2 1696.2,1166.0 1696.6,1163.6 1697.0,1164.5 1697.4,1168.1 1697.8,1163.8 1698.2,1167.6 1698.6,1160.4 1699.0,1164.9 1699.4,1161.6 1699.8,1163.8 1700.2,1164.8 1700.6,1166.6 1701.0,1162.7 1701.3,1163.9 1701.7,1163.6 1702.1,1162.9 1702.5,1164.7 1702.9,1165.3 1703.3,1168.4 1703.7,1162.9 1704.1,1166.6 1704.5,1162.4 1704.9,1166.3 1705.3,1160.5 1705.7,1160.2 1706.1,1168.4 1706.5,1164.7 1706.9,1167.4 1707.3,1162.8 1707.7,1167.2 1708.1,1163.7 1708.5,1165.2 1708.9,1166.3 1709.3,1169.5 1709.7,1163.9 1710.0,1167.2 1710.4,1159.5 1710.8,1170.1 1711.2,1164.5 1711.6,1164.0 1712.0,1159.2 1712.4,1167.1 1712.8,1165.0 1713.2,1161.3 1713.6,1162.4 1714.0,1161.1 1714.4,1159.4 1714.8,1166.9 1715.2,1163.4 1715.6,1162.2 1716.0,1166.3 1716.4,1163.8 1716.8,1162.8 1717.2,1156.7 1717.6,1164.9 1718.0,1153.8 1718.4,1157.4 1718.8,1154.0 1719.1,1158.0 1719.5,1154.1 1719.9,1156.1 1720.3,1152.5 1720.7,1152.9 1721.1,1152.3 1721.5,1147.3 1721.9,1149.5 1722.3,1147.1 1722.7,1145.8 1723.1,1146.1 1723.5,1148.2 1723.9,1144.0 1724.3,1146.2 1724.7,1142.9 1725.1,1140.8 1725.5,1140.1 1725.9,1135.7 1726.3,1136.3 1726.7,1134.9 1727.1,1131.1 1727.5,1132.5 1727.8,1130.9 1728.2,1131.0 1728.6,1133.0 1729.0,1130.3 1729.4,1128.5 1729.8,1129.2 1730.2,1126.7 1730.6,1125.3 1731.0,1124.7 1731.4,1124.1 1731.8,1121.9 1732.2,1053.1 1732.6,986.6 1733.0,917.8 1733.4,850.0 1733.8,783.1 1734.2,713.6 1734.6,647.1 1735.0,579.8 1735.4,509.7 1735.8,442.4 1736.2,374.9 1736.5,306.5 1736.9,238.9 1737.3,170.8 1737.7,243.4 1738.1,314.5 1738.5,382.2 1738.9,455.6 1739.3,524.9 1739.7,596.4 1740.1,667.6 1740.5,738.6 1740.9,809.8 1741.3,879.6 1741.7,951.0 1742.1,1020.8 1742.5,1093.5 1742.9,1164.7 1743.3,1167.4 1743.7,1162.9 1744.1,1163.4 1744.5,1161.8 1744.9,1164.9 1745.3,1166.4 1745.6,1162.1 1746.0,1163.0 1746.4,1164.5 1746.8,1159.3 1747.2,1160.3 1747.6,1160.2 1748.0,1166.8 1748.4,1160.1 1748.8,1168.8 1749.2,1165.7 1749.6,1154.6 1750.0,1153.9 1750.4,1144.0 1750.8,1137.8 1751.2,1132.9 1751.6,1125.5 1752.0,1122.0 1752.4,1127.8 1752.8,1129.1 1753.2,1141.1 1753.6,1148.1 1754.0,1151.7 1754.3,1160.2 1754.7,1156.7 1755.1,1158.2 1755.5,1161.6 1755.9,1166.2 1756.3,1161.2 1756.7,1160.1 1757.1,1162.3 1757.5,1161.0 1757.9,1161.7 1758.3,1158.6 1758.7,1158.5 1759.1,1160.9 1759.5,1167.3 1759.9,1166.1 1760.3,1165.8 1760.7,1163.0 1761.1,1157.9 1761.5,1161.8 1761.9,1163.7 1762.3,1166.4 1762.7,1160.9 1763.0,1159.8 1763.4,1170.4 1763.8,1167.5 1764.2,1164.9 1764.6,1163.4 1765.0,1165.2 1765.4,1166.2 1765.8,1162.6 1766.2,1162.6 1766.6,1164.7 1767.0,1163.1 1767.4,1164.3 1767.8,1158.3 1768.2,1162.7 1768.6,1162.5 1769.0,1163.4 1769.4,1164.6 1769.8,1166.8 1770.2,1163.7 1770.6,1157.7 1771.0,1162.4 1771.4,1167.2 1771.8,1166.9 1772.1,1166.6 1772.5,1160.3 1772.9,1160.9 1773.3,1161.7 1773.7,1167.4 1774.1,1160.6 1774.5,1168.4 1774.9,1166.7 1775.3,1167.6 1775.7,1160.5 1776.1,1167.9 1776.5,1163.2 1776.9,1164.0 1777.3,1160.5 1777.7,1160.3 1778.1,1164.2 1778.5,1165.2 1778.9,1161.3 1779.3,1165.9 1779.7,1167.7 1780.1,1167.3 1780.5,1161.2 1780.8,1170.4 1781.2,1160.8 1781.6,1163.3 1782.0,1167.1 1782.4,1159.9 1782.8,1164.0 1783.2,1161.9 1783.6,1166.4 1784.0,1160.7 1784.4,1166.0 1784.8,1168.1 1785.2,1162.9 1785.6,1168.3 1786.0,1159.4 1786.4,1164.1 1786.8,1168.1 1787.2,1162.1 1787.6,1165.1 1788.0,1168.1 1788.4,1165.9 1788.8,1162.4 1789.2,1163.0 1789.6,1162.8 1789.9,1166.7 1790.3,1162.4 1790.7,1164.2 1791.1,1162.3 1791.5,1162.0 1791.9,1161.2 1792.3,1167.2 1792.7,1166.0 1793.1,1165.7 1793.5,1164.1 1793.9,1160.9 1794.3,1160.4 1794.7,1163.5 1795.1,1168.1 1795.5,1166.5 1795.9,1163.0 1796.3,1157.9 1796.7,1162.8 1797.1,1163.9 1797.5,1164.1 1797.9,1166.3 1798.3,1165.3 1798.6,1160.2 1799.0,1163.2 1799.4,1165.7 1799.8,1162.8 1800.2,1162.1 1800.6,1159.7 1801.0,1163.2 1801.4,1168.8 1801.8,1167.2 1802.2,1162.8 1802.6,1162.7 1803.0,1164.4 1803.4,1166.7 1803.8,1161.8 1804.2,1165.4 1804.6,1164.4 1805.0,1169.1 1805.4,1166.7 1805.8,1162.5 1806.2,1161.8 1806.6,1165.4 1807.0,1159.8 1807.3,1162.7 1807.7,1160.8 1808.1,1162.7 1808.5,1170.0 1808.9,1160.9 1809.3,1163.7 1809.7,1168.9 1810.1,1161.4 1810.5,1164.6 1810.9,1165.5 1811.3,1158.7 1811.7,1164.7 1812.1,1164.2 1812.5,1161.3 1812.9,1163.5 1813.3,1164.0 1813.7,1167.3 1814.1,1164.6 1814.5,1162.5 1814.9,1167.4 1815.3,1167.7 1815.7,1164.6 1816.1,1164.6 1816.4,1166.6 1816.8,1163.0 1817.2,1163.3 1817.6,1166.7 1818.0,1162.5 1818.4,1163.9 1818.8,1167.4 1819.2,1166.5 1819.6,1169.4 1820.0,1163.8 1820.4,1161.7 1820.8,1162.6 1821.2,1162.6 1821.6,1165.0 1822.0,1168.3 1822.4,1160.1 1822.8,1163.3 1823.2,1161.7 1823.6,1166.0 1824.0,1168.7 1824.4,1161.8 1824.8,1166.7 1825.1,1165.0 1825.5,1160.7 1825.9,1168.2 1826.3,1157.8 1826.7,1164.7 1827.1,1162.6 1827.5,1163.9 1827.9,1165.6 1828.3,1164.1 1828.7,1159.9 1829.1,1164.9 1829.5,1162.6 1829.9,1162.1 1830.3,1163.9 1830.7,1160.2 1831.1,1163.2 1831.5,1163.9 1831.9,1163.8 1832.3,1160.7 1832.7,1165.2 1833.1,1162.9 1833.5,1166.2 1833.8,1160.4 1834.2,1165.8 1834.6,1166.6 1835.0,1161.0 1835.4,1164.3 1835.8,1165.1 1836.2,1160.8 1836.6,1162.1 1837.0,1166.3 1837.4,1161.3 1837.8,1163.5 1838.2,1167.5 1838.6,1167.7 1839.0,1162.0 1839.4,1159.9 1839.8,1167.3 1840.2,1165.9 1840.6,1167.4 1841.0,1164.0 1841.4,1165.1 1841.8,1161.2 1842.2,1162.7 1842.6,1164.1 1842.9,1162.3 1843.3,1168.7 1843.7,1164.8 1844.1,1161.2 1844.5,1164.0 1844.9,1166.2 1845.3,1166.5 1845.7,1164.8 1846.1,1166.5 1846.5,1168.6 1846.9,1164.4 1847.3,1166.8 1847.7,1168.3 1848.1,1160.1 1848.5,1162.5 1848.9,1168.3 1849.3,1163.7 1849.7,1167.8 1850.1,1162.8 1850.5,1167.3 1850.9,1164.1 1851.3,1161.1 1851.6,1165.0 1852.0,1160.9 1852.4,1167.7 1852.8,1161.9 1853.2,1164.4 1853.6,1167.7 1854.0,1170.0 1854.4,1164.2 1854.8,1167.4 1855.2,1167.3 1855.6,1165.0 1856.0,1168.9 1856.4,1165.7 1856.8,1167.2 1857.2,1163.5 1857.6,1159.2 1858.0,1162.3 1858.4,1167.0 1858.8,1169.2 1859.2,1164.9 1859.6,1167.2 1860.0,1167.4 1860.3,1161.5 1860.7,1159.3 1861.1,1164.3 1861.5,1162.6 1861.9,1163.1 1862.3,1161.8 1862.7,1166.6 1863.1,1160.7 1863.5,1162.3 1863.9,1168.0 1864.3,1168.3 1864.7,1168.2 1865.1,1162.7 1865.5,1164.6 1865.9,1160.7 1866.3,1166.2 1866.7,1162.0 1867.1,1158.5 1867.5,1164.8 1867.9,1164.8 1868.3,1164.3 1868.7,1164.9 1869.1,1157.5 1869.4,1167.9 1869.8,1160.1 1870.2,1168.3 1870.6,1166.8 1871.0,1165.8 1871.4,1168.3 1871.8,1166.3 1872.2,1163.1 1872.6,1169.0 1873.0,1162.5 1873.4,1162.3 1873.8,1167.5 1874.2,1166.3 1874.6,1163.8 1875.0,1159.3 1875.4,1161.5 1875.8,1163.9 1876.2,1162.8 1876.6,1161.3 1877.0,1165.3 1877.4,1163.5 1877.8,1162.1 1878.1,1165.8 1878.5,1164.0 1878.9,1165.2 1879.3,1162.2 1879.7,1160.4 1880.1,1166.7 1880.5,1162.2 1880.9,1162.3 1881.3,1164.7 1881.7,1164.1 1882.1,1160.7 1882.5,1165.3 1882.9,1163.4 1883.3,1163.9 1883.7,1164.5 1884.1,1163.1 1884.5,1165.6 1884.9,1167.6 1885.3,1160.8 1885.7,1163.0 1886.1,1162.6 1886.5,1160.4 1886.9,1161.0 1887.2,1158.9 1887.6,1162.0 1888.0,1165.8 1888.4,1164.2 1888.8,1158.4 1889.2,1159.1 1889.6,1163.2 1890.0,1162.1 1890.4,1162.6 1890.8,1165.2 1891.2,1161.8 1891.6,1163.4 1892.0,1165.9 1892.4,1163.2 1892.8,1164.4 1893.2,1160.2 1893.6,1162.3 1894.0,1165.2 1894.4,1160.5 1894.8,1163.8 1895.2,1162.0 1895.6,1159.2 1895.9,1164.7 1896.3,1167.2 1896.7,1166.2 1897.1,1166.4 1897.5,1160.3 1897.9,1161.5 1898.3,1166.7 1898.7,1162.6 1899.1,1163.2 1899.5,1165.6 1899.9,1161.5 1900.3,1161.8 1900.7,1164.1 1901.1,1166.0 1901.5,1162.4 1901.9,1166.0 1902.3,1162.9 1902.7,1158.5 1903.1,1165.6 1903.5,1164.6 1903.9,1165.2 1904.3,1168.8 1904.6,1163.6 1905.0,1164.2 1905.4,1168.2 1905.8,1164.8 1906.2,1170.4 1906.6,1162.9 1907.0,1159.3 1907.4,1160.4 1907.8,1170.4 1908.2,1163.7 1908.6,1164.7 1909.0,1166.3"/>
<polygon fill="#ff0000" stroke="none" points="232.0,1064.9 255.3,1060.3 278.6,1062.4 302.0,1061.8 324.9,1063.0 348.2,1060.9 372.0,1064.1 394.9,1063.4 418.2,1060.7 441.6,1062.1 464.9,1060.7 488.3,1061.3 511.6,1064.5 541.7,1058.9 544.8,1057.6 546.4,1055.9 548.4,1047.8 550.0,1029.3 552.3,981.6 553.1,972.8 553.5,972.8 557.5,1039.8 559.1,1051.5 559.8,1053.9 561.0,1055.4 562.6,1055.6 564.6,1054.6 566.2,1052.3 567.8,1048.3 570.1,1037.7 574.1,1012.2 575.3,1007.3 576.1,1006.3 577.6,1010.4 582.0,1038.6 584.8,1051.2 587.9,1057.9 589.9,1059.8 592.3,1061.1 597.4,1062.7 604.5,1063.9 627.9,1057.2 651.2,1064.1 674.6,1064.5 690.4,1062.5 700.3,1059.8 706.2,1056.0 708.6,1053.1 710.5,1049.6 713.3,1041.0 715.7,1026.0 718.5,985.5 721.6,883.7 722.8,863.3 724.0,883.9 727.2,986.0 729.9,1026.7 732.3,1041.9 735.1,1050.6 737.0,1054.3 739.4,1057.3 742.2,1059.7 745.4,1061.5 752.5,1063.1 763.2,1063.9 790.8,1062.8 814.2,1068.9 860.8,1063.4 884.2,1068.4 907.5,1062.2 954.2,1068.2 977.1,1066.6 1012.3,1065.3 1031.3,1063.9 1038.0,1062.8 1047.1,1060.1 1057.4,1054.7 1063.4,1053.5 1070.5,1054.6 1084.3,1060.4 1093.4,1062.8 1102.9,1063.0 1117.2,1062.1 1140.5,1066.6 1163.8,1063.4 1186.8,1061.8 1210.1,1063.2 1233.4,1061.1 1253.2,1062.7 1262.7,1062.9 1274.6,1062.0 1282.1,1060.0 1287.2,1056.7 1291.6,1052.2 1294.7,1046.7 1297.5,1039.3 1299.5,1031.0 1301.5,1018.2 1304.2,985.4 1306.2,939.6 1307.8,875.0 1311.4,582.9 1312.5,528.7 1313.7,582.7 1316.9,852.2 1318.5,925.6 1320.1,969.2 1322.4,1005.6 1325.6,1029.2 1327.6,1037.3 1329.9,1043.7 1332.7,1048.7 1336.3,1052.7 1340.2,1055.5 1345.4,1057.7 1360.0,1062.0 1373.5,1064.9 1396.4,1062.9 1420.1,1065.1 1443.1,1063.5 1463.6,1062.8 1476.3,1061.1 1479.9,1059.6 1483.0,1057.1 1485.8,1053.6 1488.2,1049.3 1492.5,1037.3 1500.8,1007.5 1503.2,1002.1 1505.2,1000.7 1507.1,1002.5 1509.1,1006.9 1517.4,1035.9 1522.2,1048.4 1524.5,1052.6 1527.3,1056.0 1530.5,1058.4 1534.4,1060.0 1544.3,1062.3 1559.0,1064.4 1583.1,1064.8 1606.4,1068.7 1629.4,1067.5 1653.1,1062.4 1676.0,1061.6 1699.4,1064.2 1710.4,1057.8 1714.8,1054.3 1718.8,1050.0 1725.9,1038.0 1727.8,1032.4 1729.8,1024.1 1732.6,1004.4 1734.6,980.2 1736.5,941.0 1740.9,788.0 1741.7,767.2 1742.5,759.6 1743.3,767.5 1744.1,788.8 1748.0,933.1 1750.8,989.5 1752.8,1012.3 1755.1,1029.2 1757.9,1041.1 1761.9,1050.9 1765.4,1056.2 1769.4,1060.1 1774.1,1062.0 1780.1,1063.1 1792.7,1063.3 1814.5,1064.8 1839.4,1065.4 1862.3,1065.1 1885.7,1062.7 1909.0,1066.4 1909.0,1074.7 1885.7,1071.1 1862.3,1073.4 1839.4,1073.7 1812.9,1072.9 1781.2,1071.0 1774.5,1069.7 1769.4,1067.4 1765.8,1063.5 1762.7,1058.5 1758.7,1048.6 1755.5,1034.8 1752.8,1014.4 1750.8,990.8 1748.0,933.5 1744.1,788.8 1743.3,767.5 1742.5,759.6 1741.7,767.2 1740.9,788.0 1736.5,941.5 1734.6,981.4 1732.2,1010.2 1729.0,1031.6 1725.1,1045.3 1718.4,1057.4 1714.4,1061.9 1709.7,1066.0 1699.4,1072.1 1689.5,1071.5 1676.0,1069.8 1653.1,1070.6 1629.4,1075.8 1606.4,1077.1 1583.1,1073.1 1559.0,1072.6 1544.3,1070.4 1534.8,1068.0 1530.9,1066.3 1527.7,1063.7 1524.9,1060.1 1522.6,1055.7 1517.8,1042.2 1509.1,1008.9 1507.1,1004.1 1505.2,1002.2 1503.2,1003.6 1500.8,1009.4 1492.1,1043.7 1487.8,1056.4 1485.4,1061.1 1482.6,1064.8 1479.9,1067.2 1476.3,1069.0 1471.5,1070.1 1463.2,1070.9 1420.1,1073.4 1396.4,1071.2 1373.5,1073.1 1359.6,1070.0 1346.2,1065.7 1341.0,1063.4 1337.1,1060.5 1333.5,1056.3 1330.3,1050.4 1328.0,1043.4 1326.0,1034.9 1322.4,1007.7 1320.1,970.3 1318.5,926.1 1316.9,852.3 1313.7,582.7 1312.5,528.7 1311.4,582.9 1307.8,875.2 1306.2,940.2 1304.2,986.8 1301.5,1020.8 1299.5,1034.6 1297.1,1045.4 1294.3,1053.5 1290.8,1059.9 1286.4,1064.6 1281.3,1067.9 1273.4,1070.1 1261.1,1071.0 1233.4,1069.4 1210.1,1071.5 1186.8,1070.1 1163.8,1071.7 1140.5,1074.9 1117.2,1070.4 1102.9,1071.3 1093.4,1070.9 1084.3,1068.2 1070.5,1061.7 1063.4,1060.4 1056.6,1062.0 1047.1,1067.4 1043.6,1068.8 1032.5,1071.8 1010.8,1073.7 977.1,1074.9 954.2,1076.6 907.5,1070.6 884.2,1076.8 860.8,1071.8 814.2,1077.3 790.8,1071.1 762.4,1072.5 752.5,1071.8 745.7,1070.2 743.0,1068.7 740.2,1066.3 737.8,1063.3 735.9,1059.5 732.7,1049.1 730.3,1034.0 728.7,1016.7 727.2,988.1 724.0,884.5 722.8,863.7 721.6,884.3 718.5,987.7 716.9,1016.2 715.3,1033.5 712.9,1048.5 709.8,1058.9 707.8,1062.6 705.4,1065.6 702.6,1067.9 699.1,1069.9 689.2,1072.9 674.2,1075.2 651.2,1075.4 627.9,1069.1 604.5,1076.2 597.4,1074.9 592.7,1073.4 589.9,1071.6 587.9,1069.2 584.8,1060.9 582.4,1048.9 578.0,1017.9 576.9,1012.6 576.1,1011.4 575.3,1012.5 574.1,1017.6 570.1,1045.4 567.8,1057.7 565.0,1065.0 563.4,1066.5 561.8,1066.3 560.6,1064.8 559.5,1061.5 557.9,1051.0 553.5,978.3 553.1,978.4 552.3,987.2 550.0,1035.8 548.0,1058.8 546.8,1064.8 545.2,1068.7 543.2,1071.1 540.1,1072.7 511.6,1079.1 488.3,1076.4 464.9,1076.4 441.6,1078.2 418.2,1076.9 394.9,1079.6 372.0,1080.3 348.2,1077.1 324.9,1079.2 302.0,1078.0 278.6,1078.6 255.3,1076.5 232.0,1081.1"/>
<polyline stroke="#ff0000" stroke-width="3.2" points="232.0,1070.5 232.4,1065.9 232.7,1064.9 233.1,1070.6 233.5,1079.8 233.9,1071.9 234.3,1072.0 234.7,1075.8 235.1,1076.4 235.5,1078.3 235.9,1076.1 236.3,1068.3 236.7,1069.3 237.1,1072.7 237.5,1068.3 237.9,1064.6 238.3,1075.6 238.7,1076.1 239.1,1080.9 239.5,1077.0 239.9,1069.1 240.3,1079.8 240.7,1076.3 241.1,1078.2 241.4,1071.2 241.8,1073.5 242.2,1068.9 242.6,1078.3 243.0,1063.5 243.4,1070.4 243.8,1068.7 244.2,1075.1 244.6,1079.9 245.0,1074.3 245.4,1064.5 245.8,1080.0 246.2,1078.4 246.6,1059.8 247.0,1078.1 247.4,1069.5 247.8,1069.5 248.2,1063.7 248.6,1068.3 249.0,1072.5 249.4,1054.7 249.8,1066.0 250.1,1069.2 250.5,1056.8 250.9,1064.6 251.3,1078.5 251.7,1064.1 252.1,1070.4 252.5,1076.8 252.9,1063.6 253.3,1065.8 253.7,1059.8 254.1,1061.6 254.5,1072.4 254.9,1059.9 255.3,1060.3 255.7,1062.2 256.1,1078.1 256.5,1068.6 256.9,1080.6 257.3,1065.7 257.7,1059.5 258.1,1072.1 258.5,1067.0 258.9,1075.2 259.2,1059.9 259.6,1063.2 260.0,1069.5 260.4,1057.9 260.8,1072.5 261.2,1068.2 261.6,1069.7 262.0,1072.4 262.4,1065.4 262.8,1063.8 263.2,1076.8 263.6,1065.7 264.0,1076.3 264.4,1057.1 264.8,1073.5 265.2,1074.7 265.6,1077.0 266.0,1061.9 266.4,1066.8 266.8,1077.0 267.2,1064.0 267.6,1070.2 267.9,1073.5 268.3,1071.7 268.7,1071.5 269.1,1060.3 269.5,1062.9 269.9,1070.8 270.3,1080.7 270.7,1069.9 271.1,1073.3 271.5,1064.8 271.9,1065.6 272.3,1074.2 272.7,1072.7 273.1,1064.4 273.5,1080.7 273.9,1064.0 274.3,1066.3 274.7,1068.4 275.1,1069.5 275.5,1073.8 275.9,1077.8 276.3,1065.9 276.7,1063.8 277.0,1058.2 277.4,1079.6 277.8,1073.3 278.2,1067.8 278.6,1072.1 279.0,1075.6 279.4,1074.4 279.8,1081.3 280.2,1079.2 280.6,1075.6 281.0,1071.3 281.4,1067.0 281.8,1071.7 282.2,1078.1 282.6,1065.9 283.0,1071.8 283.4,1064.7 283.8,1071.5 284.2,1069.3 284.6,1069.3 285.0,1061.5 285.4,1065.1 285.7,1073.9 286.1,1067.3 286.5,1065.2 286.9,1062.2 287.3,1071.0 287.7,1081.8 288.1,1073.1 288.5,1065.5 288.9,1069.5 289.3,1063.4 289.7,1078.0 290.1,1070.5 290.5,1075.8 290.9,1064.7 291.3,1068.8 291.7,1070.5 292.1,1066.7 292.5,1075.7 292.9,1059.3 293.3,1068.3 293.7,1067.7 294.1,1075.8 294.4,1075.8 294.8,1063.2 295.2,1070.7 295.6,1076.3 296.0,1072.6 296.4,1075.4 296.8,1066.1 297.2,1067.2 297.6,1063.9 298.0,1066.7 298.4,1058.6 298.8,1078.0 299.2,1071.1 299.6,1073.3 300.0,1068.3 300.4,1062.0 300.8,1061.4 301.2,1072.8 301.6,1074.3 302.0,1075.4 302.4,1076.4 302.8,1071.9 303.2,1061.5 303.5,1079.0 303.9,1068.6 304.3,1055.1 304.7,1065.7 305.1,1062.4 305.5,1072.4 305.9,1071.5 306.3,1074.5 306.7,1066.3 307.1,1069.3 307.5,1062.7 307.9,1077.2 308.3,1067.0 308.7,1063.4 309.1,1075.5 309.5,1070.1 309.9,1071.4 310.3,1067.1 310.7,1077.5 311.1,1076.9 311.5,1077.4 311.9,1069.0 312.2,1074.1 312.6,1061.5 313.0,1066.3 313.4,1077.8 313.8,1063.2 314.2,1065.1 314.6,1069.7 315.0,1069.2 315.4,1078.6 315.8,1071.7 316.2,1064.7 316.6,1072.5 317.0,1067.8 317.4,1069.2 317.8,1080.2 318.2,1060.1 318.6,1077.6 319.0,1064.4 319.4,1070.3 319.8,1074.5 320.2,1075.8 320.6,1075.9 320.9,1062.6 321.3,1073.0 321.7,1075.2 322.1,1065.8 322.5,1074.4 322.9,1075.2 323.3,1074.5 323.7,1073.5 324.1,1070.9 324.5,1074.1 324.9,1068.7 325.3,1061.1 325.7,1067.2 326.1,1073.5 326.5,1072.5 326.9,1076.7 327.3,1072.3 327.7,1083.1 328.1,1062.6 328.5,1079.4 328.9,1072.5 329.3,1071.0 329.7,1079.8 330.0,1061.9 330.4,1067.6 330.8,1080.3 331.2,1056.6 331.6,1068.9 332.0,1067.7 332.4,1077.1 332.8,1065.7 333.2,1066.6 333.6,1078.0 334.0,1061.2 334.4,1066.5 334.8,1059.2 335.2,1066.5 335.6,1065.7 336.0,1067.1 336.4,1072.4 336.8,1064.7 337.2,1069.3 337.6,1061.8 338.0,1066.2 338.4,1079.4 338.7,1075.4 339.1,1073.7 339.5,1067.0 339.9,1065.9 340.3,1062.9 340.7,1066.6 341.1,1061.5 341.5,1075.4 341.9,1062.4 342.3,1073.2 342.7,1077.1 343.1,1068.2 343.5,1061.5 343.9,1075.1 344.3,1065.7 344.7,1079.4 345.1,1074.5 345.5,1071.2 345.9,1060.2 346.3,1064.8 346.7,1071.9 347.1,1079.3 347.4,1064.9 347.8,1070.2 348.2,1073.7 348.6,1064.9 349.0,1076.2 349.4,1070.6 349.8,1065.5 350.2,1063.8 350.6,1074.5 351.0,1069.4 351.4,1070.1 351.8,1071.4 352.2,1076.1 352.6,1069.1 353.0,1077.5 353.4,1063.1 353.8,1064.4 354.2,1068.6 354.6,1070.9 355.0,1068.2 355.4,1076.5 355.8,1074.1 356.2,1077.0 356.5,1077.4 356.9,1063.7 357.3,1062.9 357.7,1073.9 358.1,1079.2 358.5,1066.5 358.9,1073.2 359.3,1074.9 359.7,1076.6 360.1,1077.9 360.5,1080.1 360.9,1067.1 361.3,1065.2 361.7,1073.7 362.1,1074.6 362.5,1066.6 362.9,1074.0 363.3,1065.5 363.7,1067.1 364.1,1072.7 364.5,1069.3 364.9,1065.0 365.2,1069.4 365.6,1067.8 366.0,1066.2 366.4,1068.1 366.8,1072.5 367.2,1064.9 367.6,1081.1 368.0,1070.4 368.4,1073.5 368.8,1075.5 369.2,1072.7 369.6,1073.3 370.0,1069.3 370.4,1063.2 370.8,1068.9 371.2,1076.1 371.6,1084.5 372.0,1075.3 372.4,1074.6 372.8,1069.4 373.2,1063.6 373.6,1063.4 374.0,1060.6 374.3,1072.4 374.7,1065.6 375.1,1077.6 375.5,1075.6 375.9,1071.6 376.3,1066.5 376.7,1065.0 377.1,1066.5 377.5,1073.9 377.9,1081.2 378.3,1081.2 378.7,1075.6 379.1,1066.8 379.5,1076.8 379.9,1067.3 380.3,1070.2 380.7,1066.6 381.1,1066.9 381.5,1070.2 381.9,1069.7 382.3,1065.1 382.7,1062.3 383.0,1080.7 383.4,1066.2 383.8,1067.1 384.2,1074.2 384.6,1073.6 385.0,1071.3 385.4,1071.9 385.8,1070.7 386.2,1064.9 386.6,1068.1 387.0,1074.7 387.4,1072.4 387.8,1064.4 388.2,1066.4 388.6,1064.2 389.0,1065.2 389.4,1076.3 389.8,1078.8 390.2,1060.3 390.6,1072.9 391.0,1080.5 391.4,1074.6 391.7,1081.4 392.1,1072.3 392.5,1068.4 392.9,1070.5 393.3,1070.6 393.7,1057.2 394.1,1071.8 394.5,1068.4 394.9,1058.9 395.3,1076.2 395.7,1076.6 396.1,1067.6 396.5,1069.0 396.9,1082.1 397.3,1062.5 397.7,1077.4 398.1,1065.9 398.5,1078.9 398.9,1067.5 399.3,1072.2 399.7,1059.4 400.1,1074.3 400.5,1072.5 400.8,1070.6 401.2,1056.3 401.6,1073.4 402.0,1079.7 402.4,1076.9 402.8,1067.8 403.2,1072.1 403.6,1070.8 404.0,1070.9 404.4,1073.5 404.8,1065.4 405.2,1081.1 405.6,1072.6 406.0,1078.0 406.4,1079.6 406.8,1071.0 407.2,1072.5 407.6,1070.8 408.0,1075.2 408.4,1067.9 408.8,1070.6 409.2,1062.7 409.5,1072.7 409.9,1071.2 410.3,1071.5 410.7,1061.0 411.1,1058.0 411.5,1055.6 411.9,1072.2 412.3,1065.5 412.7,1070.3 413.1,1074.0 413.5,1078.0 413.9,1065.9 414.3,1077.9 414.7,1058.4 415.1,1064.9 415.5,1069.8 415.9,1074.4 416.3,1076.0 416.7,1075.5 417.1,1075.3 417.5,1071.1 417.9,1080.7 418.2,1062.1 418.6,1061.0 419.0,1068.5 419.4,1070.8 419.8,1068.9 420.2,1061.8 420.6,1075.7 421.0,1063.2 421.4,1062.2 421.8,1072.4 422.2,1055.4 422.6,1062.0 423.0,1070.4 423.4,1065.6 423.8,1067.8 424.2,1077.3 424.6,1077.1 425.0,1078.6 425.4,1069.6 425.8,1068.1 426.2,1060.4 426.6,1077.6 427.0,1074.4 427.3,1068.9 427.7,1075.0 428.1,1074.9 428.5,1068.8 428.9,1071.0 429.3,1069.3 429.7,1063.0 430.1,1067.7 430.5,1072.6 430.9,1067.2 431.3,1060.0 431.7,1067.4 432.1,1077.1 432.5,1070.0 432.9,1066.2 433.3,1077.1 433.7,1071.7 434.1,1075.2 434.5,1074.4 434.9,1071.9 435.3,1075.3 435.7,1075.0 436.0,1065.2 436.4,1076.2 436.8,1062.7 437.2,1064.0 437.6,1063.3 438.0,1066.2 438.4,1076.2 438.8,1078.7 439.2,1077.3 439.6,1074.0 440.0,1068.3 440.4,1071.4 440.8,1071.1 441.2,1069.9 441.6,1064.7 442.0,1081.7 442.4,1075.2 442.8,1076.5 443.2,1076.3 443.6,1064.4 444.0,1058.0 444.4,1074.6 444.8,1060.7 445.1,1081.4 445.5,1073.1 445.9,1064.7 446.3,1080.0 446.7,1069.1 447.1,1064.0 447.5,1072.8 447.9,1073.3 448.3,1072.7 448.7,1071.1 449.1,1078.1 449.5,1071.2 449.9,1073.1 450.3,1068.6 450.7,1059.6 451.1,1069.6 451.5,1076.8 451.9,1067.6 452.3,1073.0 452.7,1076.4 453.1,1076.9 453.5,1070.7 453.8,1064.4 454.2,1080.0 454.6,1066.1 455.0,1078.3 455.4,1067.1 455.8,1063.1 456.2,1064.6 456.6,1069.1 457.0,1074.6 457.4,1066.6 457.8,1071.0 458.2,1069.9 458.6,1073.4 459.0,1070.6 459.4,1076.3 459.8,1072.1 460.2,1061.9 460.6,1061.3 461.0,1059.9 461.4,1074.4 461.8,1069.5 462.2,1074.9 462.5,1077.9 462.9,1067.0 463.3,1078.1 463.7,1077.4 464.1,1059.9 464.5,1062.0 464.9,1062.0 465.3,1076.0 465.7,1074.2 466.1,1062.7 466.5,1066.5 466.9,1064.3 467.3,1068.8 467.7,1068.0 468.1,1064.5 468.5,1065.4 468.9,1072.4 469.3,1069.7 469.7,1067.4 470.1,1066.0 470.5,1074.2 470.9,1070.0 471.3,1060.6 471.6,1060.5 472.0,1076.8 472.4,1069.9 472.8,1062.3 473.2,1072.1 473.6,1069.9 474.0,1068.8 474.4,1066.7 474.8,1062.7 475.2,1073.2 475.6,1071.5 476.0,1068.8 476.4,1071.3 476.8,1067.6 477.2,1074.6 477.6,1073.5 478.0,1070.8 478.4,1065.9 478.8,1056.7 479.2,1068.9 479.6,1074.0 480.0,1065.8 480.3,1072.9 480.7,1063.5 481.1,1070.3 481.5,1069.3 481.9,1067.3 482.3,1071.9 482.7,1072.5 483.1,1077.7 483.5,1072.2 483.9,1068.2 484.3,1066.0 484.7,1074.1 485.1,1075.0 485.5,1070.5 485.9,1070.0 486.3,1070.9 486.7,1068.1 487.1,1072.2 487.5,1066.9 487.9,1065.9 488.3,1073.4 488.7,1077.2 489.0,1061.3 489.4,1069.8 489.8,1065.3 490.2,1069.4 490.6,1075.2 491.0,1070.8 491.4,1063.2 491.8,1070.2 492.2,1077.3 492.6,1079.1 493.0,1060.9 493.4,1065.6 493.8,1060.7 494.2,1078.6 494.6,1079.6 495.0,1068.2 495.4,1065.1 495.8,1070.2 496.2,1067.8 496.6,1075.0 497.0,1066.3 497.4,1071.5 497.8,1064.7 498.1,1069.7 498.5,1072.3 498.9,1064.3 499.3,1065.4 499.7,1065.8 500.1,1080.7 500.5,1070.9 500.9,1064.4 501.3,1075.0 501.7,1058.7 502.1,1055.3 502.5,1063.3 502.9,1069.0 503.3,1072.0 503.7,1074.6 504.1,1061.9 504.5,1066.0 504.9,1069.7 505.3,1070.1 505.7,1065.5 506.1,1077.2 506.5,1073.1 506.8,1076.1 507.2,1082.6 507.6,1074.0 508.0,1066.4 508.4,1074.1 508.8,1070.1 509.2,1070.3 509.6,1074.1 510.0,1067.7 510.4,1053.5 510.8,1077.0 511.2,1075.0 511.6,1066.4 512.0,1082.0 512.4,1074.3 512.8,1060.8 513.2,1072.9 513.6,1073.1 514.0,1074.9 514.4,1080.2 514.8,1071.9 515.2,1074.2 515.5,1075.8 515.9,1071.5 516.3,1064.5 516.7,1074.5 517.1,1071.2 517.5,1069.3 517.9,1075.4 518.3,1064.0 518.7,1069.6 519.1,1081.8 519.5,1071.8 519.9,1073.2 520.3,1068.7 520.7,1078.2 521.1,1071.6 521.5,1066.7 521.9,1062.3 522.3,1068.3 522.7,1066.2 523.1,1076.3 523.5,1073.2 523.9,1072.8 524.3,1069.1 524.6,1063.0 525.0,1072.6 525.4,1067.8 525.8,1064.6 526.2,1065.8 526.6,1074.9 527.0,1067.4 527.4,1075.1 527.8,1078.2 528.2,1072.1 528.6,1071.4 529.0,1071.1 529.4,1066.7 529.8,1072.5 530.2,1063.6 530.6,1071.6 531.0,1077.3 531.4,1065.3 531.8,1058.4 532.2,1064.2 532.6,1072.3 533.0,1061.6 533.3,1071.7 533.7,1063.7 534.1,1063.9 534.5,1072.9 534.9,1067.9 535.3,1076.7 535.7,1064.3 536.1,1065.6 536.5,1059.4 536.9,1066.2 537.3,1065.3 537.7,1067.4 538.1,1072.6 538.5,1064.4 538.9,1067.3 539.3,1060.9 539.7,1070.2 540.1,1068.9 540.5,1070.4 540.9,1063.1 541.3,1058.1 541.7,1067.6 542.1,1067.4 542.4,1059.0 542.8,1068.6 543.2,1067.4 543.6,1065.1 544.0,1059.7 544.4,1066.2 544.8,1066.7 545.2,1061.1 545.6,1058.1 546.0,1066.2 546.4,1066.7 546.8,1062.1 547.2,1052.8 547.6,1052.5 548.0,1054.2 548.4,1053.2 548.8,1044.7 549.2,1046.6 549.6,1041.4 550.0,1029.6 550.4,1025.2 550.8,1019.9 551.1,1008.1 551.5,1003.4 551.9,991.7 552.3,985.2 552.7,976.4 553.1,976.5 553.5,976.4 553.9,974.9 554.3,981.2 554.7,992.1 555.1,998.0 555.5,1012.5 555.9,1019.6 556.3,1027.4 556.7,1032.2 557.1,1035.9 557.5,1040.9 557.9,1042.7 558.3,1052.0 558.7,1054.6 559.1,1061.5 559.5,1051.6 559.8,1055.1 560.2,1065.4 560.6,1064.1 561.0,1057.1 561.4,1058.2 561.8,1057.6 562.2,1066.8 562.6,1065.2 563.0,1062.2 563.4,1068.5 563.8,1063.8 564.2,1061.8 564.6,1066.7 565.0,1056.9 565.4,1052.0 565.8,1062.6 566.2,1059.1 566.6,1056.0 567.0,1049.9 567.4,1053.5 567.8,1050.2 568.2,1055.1 568.6,1041.2 568.9,1045.3 569.3,1047.5 569.7,1046.5 570.1,1048.1 570.5,1041.8 570.9,1038.2 571.3,1038.4 571.7,1036.3 572.1,1029.5 572.5,1023.4 572.9,1020.9 573.3,1020.9 573.7,1015.9 574.1,1013.4 574.5,1012.5 574.9,1013.8 575.3,1006.1 575.7,1009.7 576.1,1011.1 576.5,1009.6 576.9,1013.1 577.3,1007.6 577.6,1016.5 578.0,1016.3 578.4,1016.4 578.8,1017.3 579.2,1022.9 579.6,1023.7 580.0,1026.4 580.4,1037.8 580.8,1037.4 581.2,1037.5 581.6,1043.4 582.0,1042.5 582.4,1039.2 582.8,1047.9 583.2,1047.6 583.6,1050.8 584.0,1059.9 584.4,1058.1 584.8,1050.4 585.2,1054.6 585.6,1061.8 586.0,1073.4 586.3,1064.0 586.7,1054.2 587.1,1060.8 587.5,1059.9 587.9,1066.6 588.3,1065.5 588.7,1062.9 589.1,1059.9 589.5,1064.2 589.9,1068.7 590.3,1071.3 590.7,1061.7 591.1,1070.6 591.5,1065.2 591.9,1060.2 592.3,1058.3 592.7,1077.7 593.1,1067.0 593.5,1073.4 593.9,1064.5 594.3,1067.7 594.7,1073.7 595.1,1069.5 595.4,1066.6 595.8,1071.3 596.2,1073.3 596.6,1076.4 597.0,1076.5 597.4,1072.7 597.8,1070.0 598.2,1073.7 598.6,1076.4 599.0,1079.1 599.4,1069.9 599.8,1066.5 600.2,1073.5 600.6,1072.3 601.0,1072.5 601.4,1072.2 601.8,1070.4 602.2,1061.1 602.6,1068.2 603.0,1074.0 603.4,1067.0 603.8,1066.4 604.1,1074.4 604.5,1067.1 604.9,1061.9 605.3,1071.0 605.7,1071.4 606.1,1078.9 606.5,1067.3 606.9,1067.9 607.3,1067.6 607.7,1066.3 608.1,1070.5 608.5,1076.8 608.9,1074.9 609.3,1068.7 609.7,1066.4 610.1,1063.4 610.5,1058.3 610.9,1067.0 611.3,1069.0 611.7,1071.6 612.1,1060.3 612.5,1071.1 612.9,1067.3 613.2,1069.9 613.6,1073.5 614.0,1068.0 614.4,1064.5 614.8,1061.2 615.2,1060.9 615.6,1065.2 616.0,1071.7 616.4,1073.4 616.8,1065.6 617.2,1072.4 617.6,1072.5 618.0,1071.5 618.4,1061.7 618.8,1060.5 619.2,1065.3 619.6,1073.1 620.0,1060.4 620.4,1059.4 620.8,1055.1 621.2,1061.5 621.6,1066.2 621.9,1062.8 622.3,1067.9 622.7,1062.7 623.1,1064.8 623.5,1061.3 623.9,1066.8 624.3,1064.7 624.7,1069.5 625.1,1063.0 625.5,1065.2 625.9,1064.9 626.3,1070.0 626.7,1059.7 627.1,1057.7 627.5,1059.9 627.9,1059.3 628.3,1069.2 628.7,1059.0 629.1,1053.2 629.5,1066.6 629.9,1064.8 630.3,1064.4 630.6,1062.1 631.0,1065.1 631.4,1058.0 631.8,1069.9 632.2,1065.6 632.6,1070.3 633.0,1067.1 633.4,1063.1 633.8,1064.0 634.2,1064.7 634.6,1054.9 635.0,1057.5 635.4,1068.2 635.8,1070.6 636.2,1064.1 636.6,1065.4 637.0,1061.5 637.4,1067.1 637.8,1058.8 638.2,1060.6 638.6,1071.2 639.0,1061.6 639.4,1069.3 639.7,1062.7 640.1,1071.8 640.5,1071.6 640.9,1067.3 641.3,1065.6 641.7,1065.3 642.1,1069.6 642.5,1064.2 642.9,1067.7 643.3,1067.2 643.7,1070.9 644.1,1060.4 644.5,1076.0 644.9,1062.6 645.3,1075.3 645.7,1065.8 646.1,1065.9 646.5,1076.0 646.9,1067.5 647.3,1069.1 647.7,1072.5 648.1,1064.1 648.4,1074.9 648.8,1072.4 649.2,1067.2 649.6,1068.4 650.0,1067.0 650.4,1074.3 650.8,1070.7 651.2,1064.4 651.6,1062.9 652.0,1075.3 652.4,1077.3 652.8,1070.9 653.2,1069.7 653.6,1066.6 654.0,1075.2 654.4,1070.0 654.8,1072.5 655.2,1063.9 655.6,1064.6 656.0,1071.7 656.4,1073.4 656.8,1070.2 657.1,1076.8 657.5,1072.0 657.9,1070.5 658.3,1070.1 658.7,1064.2 659.1,1068.4 659.5,1070.0 659.9,1067.5 660.3,1074.6 660.7,1069.3 661.1,1068.7 661.5,1069.5 661.9,1075.2 662.3,1071.6 662.7,1064.4 663.1,1076.6 663.5,1070.4 663.9,1071.7 664.3,1071.8 664.7,1059.5 665.1,1074.6 665.5,1065.2 665.9,1069.9 666.2,1068.8 666.6,1073.1 667.0,1067.8 667.4,1063.2 667.8,1071.5 668.2,1069.0 668.6,1071.3 669.0,1065.8 669.4,1062.2 669.8,1076.6 670.2,1065.9 670.6,1063.0 671.0,1065.0 671.4,1069.9 671.8,1072.0 672.2,1074.7 672.6,1064.8 673.0,1065.4 673.4,1073.0 673.8,1065.7 674.2,1071.8 674.6,1071.4 674.9,1071.0 675.3,1068.5 675.7,1071.6 676.1,1064.8 676.5,1070.5 676.9,1078.2 677.3,1074.6 677.7,1074.2 678.1,1069.2 678.5,1061.4 678.9,1066.6 679.3,1071.8 679.7,1076.3 680.1,1071.8 680.5,1071.7 680.9,1068.9 681.3,1069.9 681.7,1068.5 682.1,1068.6 682.5,1068.9 682.9,1069.5 683.3,1071.1 683.6,1065.6 684.0,1070.0 684.4,1063.9 684.8,1068.4 685.2,1071.1 685.6,1073.1 686.0,1063.0 686.4,1064.3 686.8,1063.2 687.2,1068.3 687.6,1063.2 688.0,1068.1 688.4,1071.2 688.8,1067.8 689.2,1064.4 689.6,1061.4 690.0,1070.1 690.4,1068.9 690.8,1063.6 691.2,1068.2 691.6,1071.6 692.0,1066.8 692.4,1069.3 692.7,1063.9 693.1,1071.7 693.5,1071.7 693.9,1061.7 694.3,1070.4 694.7,1061.5 695.1,1066.5 695.5,1066.2 695.9,1068.3 696.3,1060.2 696.7,1066.3 697.1,1068.3 697.5,1065.5 697.9,1064.9 698.3,1057.6 698.7,1065.4 699.1,1061.5 699.5,1064.9 699.9,1061.2 700.3,1066.7 700.7,1057.1 701.1,1070.8 701.4,1058.3 701.8,1061.4 702.2,1064.7 702.6,1063.8 703.0,1063.5 703.4,1059.8 703.8,1055.9 704.2,1060.2 704.6,1060.8 705.0,1065.6 705.4,1061.0 705.8,1059.4 706.2,1064.4 706.6,1058.6 707.0,1061.0 707.4,1058.9 707.8,1062.8 708.2,1054.6 708.6,1056.0 709.0,1061.6 709.4,1050.9 709.8,1053.4 710.2,1060.0 710.5,1055.8 710.9,1049.7 711.3,1054.6 711.7,1048.1 712.1,1050.2 712.5,1045.0 712.9,1043.3 713.3,1044.0 713.7,1043.3 714.1,1039.0 714.5,1033.5 714.9,1037.5 715.3,1031.9 715.7,1027.9 716.1,1020.7 716.5,1019.9 716.9,1015.8 717.3,1010.0 717.7,1001.6 718.1,992.9 718.5,986.7 718.9,977.8 719.2,966.2 719.6,955.4 720.0,943.1 720.4,925.8 720.8,913.0 721.2,897.9 721.6,883.4 722.0,873.8 722.4,867.2 722.8,864.3 723.2,865.4 723.6,871.6 724.0,882.5 724.4,897.6 724.8,913.9 725.2,924.9 725.6,942.5 726.0,954.6 726.4,968.2 726.8,977.5 727.2,986.2 727.6,992.6 727.9,1003.5 728.3,1010.3 728.7,1014.4 729.1,1019.3 729.5,1025.8 729.9,1031.2 730.3,1027.9 730.7,1034.7 731.1,1032.8 731.5,1040.3 731.9,1045.5 732.3,1045.6 732.7,1045.4 733.1,1044.6 733.5,1048.1 733.9,1050.8 734.3,1054.7 734.7,1054.9 735.1,1051.2 735.5,1052.0 735.9,1057.0 736.3,1054.0 736.7,1059.6 737.0,1061.2 737.4,1062.4 737.8,1057.7 738.2,1065.7 738.6,1060.1 739.0,1064.1 739.4,1066.5 739.8,1060.7 740.2,1058.5 740.6,1059.0 741.0,1064.8 741.4,1069.0 741.8,1064.3 742.2,1066.0 742.6,1065.3 743.0,1055.6 743.4,1062.4 743.8,1065.7 744.2,1059.1 744.6,1068.1 745.0,1066.3 745.4,1069.3 745.7,1068.9 746.1,1067.3 746.5,1071.9 746.9,1068.1 747.3,1066.2 747.7,1064.2 748.1,1063.8 748.5,1061.7 748.9,1071.2 749.3,1070.6 749.7,1060.2 750.1,1064.9 750.5,1065.9 750.9,1069.5 751.3,1067.0 751.7,1070.5 752.1,1068.8 752.5,1071.4 752.9,1065.0 753.3,1062.2 753.7,1070.0 754.1,1066.5 754.4,1072.8 754.8,1063.4 755.2,1067.0 755.6,1065.1 756.0,1071.2 756.4,1070.7 756.8,1069.2 757.2,1070.9 757.6,1071.3 758.0,1069.3 758.4,1065.4 758.8,1065.9 759.2,1069.5 759.6,1069.9 760.0,1074.1 760.4,1069.0 760.8,1067.5 761.2,1066.4 761.6,1072.2 762.0,1069.0 762.4,1063.1 762.8,1069.9 763.2,1071.7 763.5,1072.3 763.9,1066.6 764.3,1071.4 764.7,1071.9 765.1,1073.0 765.5,1070.0 765.9,1074.0 766.3,1072.9 766.7,1070.3 767.1,1069.7 767.5,1061.7 767.9,1069.2 768.3,1069.4 768.7,1065.4 769.1,1063.7 769.5,1072.3 769.9,1069.5 770.3,1066.6 770.7,1071.6 771.1,1069.3 771.5,1062.4 771.9,1072.5 772.2,1069.5 772.6,1066.9 773.0,1066.2 773.4,1064.6 773.8,1071.2 774.2,1066.1 774.6,1077.4 775.0,1063.2 775.4,1067.3 775.8,1063.0 776.2,1068.4 776.6,1068.8 777.0,1071.3 777.4,1061.5 777.8,1067.6 778.2,1064.8 778.6,1062.7 779.0,1063.6 779.4,1069.7 779.8,1062.3 780.2,1069.5 780.6,1071.2 781.0,1066.4 781.3,1070.0 781.7,1074.1 782.1,1073.1 782.5,1061.2 782.9,1069.4 783.3,1071.8 783.7,1067.4 784.1,1064.2 784.5,1068.3 784.9,1069.9 785.3,1069.7 785.7,1064.5 786.1,1070.3 786.5,1065.5 786.9,1063.9 787.3,1070.0 787.7,1069.1 788.1,1067.9 788.5,1069.5 788.9,1063.1 789.3,1065.4 789.7,1066.4 790.0,1067.8 790.4,1062.3 790.8,1069.4 791.2,1068.4 791.6,1067.1 792.0,1070.4 792.4,1065.1 792.8,1063.8 793.2,1065.8 793.6,1068.1 794.0,1062.8 794.4,1068.8 794.8,1071.8 795.2,1067.1 795.6,1069.3 796.0,1066.4 796.4,1066.3 796.8,1071.1 797.2,1063.6 797.6,1069.9 798.0,1073.1 798.4,1063.2 798.7,1062.4 799.1,1069.9 799.5,1075.2 799.9,1066.4 800.3,1071.1 800.7,1072.2 801.1,1070.9 801.5,1075.1 801.9,1067.9 802.3,1068.8 802.7,1066.5 803.1,1068.3 803.5,1069.6 803.9,1070.4 804.3,1067.9 804.7,1072.6 805.1,1071.2 805.5,1073.2 805.9,1071.3 806.3,1074.6 806.7,1074.0 807.1,1071.6 807.5,1067.1 807.8,1069.1 808.2,1066.8 808.6,1072.1 809.0,1073.9 809.4,1072.1 809.8,1075.2 810.2,1073.0 810.6,1068.3 811.0,1073.3 811.4,1069.0 811.8,1069.0 812.2,1071.0 812.6,1070.7 813.0,1074.6 813.4,1075.8 813.8,1075.3 814.2,1067.6 814.6,1073.3 815.0,1073.0 815.4,1071.2 815.8,1069.5 816.2,1073.0 816.5,1074.0 816.9,1074.3 817.3,1075.9 817.7,1076.3 818.1,1070.7 818.5,1068.5 818.9,1073.4 819.3,1068.9 819.7,1074.4 820.1,1071.7 820.5,1074.8 820.9,1072.0 821.3,1068.6 821.7,1070.4 822.1,1066.1 822.5,1070.5 822.9,1074.2 823.3,1075.8 823.7,1067.0 824.1,1071.1 824.5,1074.3 824.9,1071.3 825.2,1068.1 825.6,1069.8 826.0,1069.9 826.4,1070.9 826.8,1071.4 827.2,1073.9 827.6,1075.2 828.0,1073.4 828.4,1071.7 828.8,1067.2 829.2,1072.6 829.6,1072.4 830.0,1073.7 830.4,1070.4 830.8,1070.0 831.2,1070.2 831.6,1074.2 832.0,1068.3 832.4,1069.1 832.8,1066.7 833.2,1073.6 833.6,1069.6 834.0,1074.0 834.3,1075.5 834.7,1066.1 835.1,1067.3 835.5,1072.8 835.9,1068.1 836.3,1072.2 836.7,1077.0 837.1,1074.5 837.5,1072.7 837.9,1070.8 838.3,1075.1 838.7,1073.5 839.1,1066.0 839.5,1068.2 839.9,1066.6 840.3,1070.3 840.7,1073.3 841.1,1073.1 841.5,1068.4 841.9,1069.8 842.3,1071.6 842.7,1068.3 843.0,1062.7 843.4,1070.5 843.8,1075.0 844.2,1066.5 844.6,1062.0 845.0,1067.6 845.4,1066.1 845.8,1070.8 846.2,1066.5 846.6,1066.7 847.0,1065.9 847.4,1065.3 847.8,1075.7 848.2,1072.4 848.6,1075.2 849.0,1066.9 849.4,1068.3 849.8,1062.7 850.2,1060.8 850.6,1073.9 851.0,1070.2 851.4,1067.5 851.7,1071.2 852.1,1070.3 852.5,1067.5 852.9,1070.8 853.3,1070.3 853.7,1073.6 854.1,1067.7 854.5,1069.3 854.9,1073.3 855.3,1072.5 855.7,1064.3 856.1,1069.0 856.5,1067.0 856.9,1071.4 857.3,1066.6 857.7,1065.0 858.1,1068.3 858.5,1066.0 858.9,1071.4 859.3,1064.3 859.7,1071.0 860.1,1065.5 860.5,1068.4 860.8,1070.8 861.2,1068.8 861.6,1071.2 862.0,1065.0 862.4,1063.3 862.8,1069.8 863.2,1065.1 863.6,1071.7 864.0,1071.5 864.4,1071.7 864.8,1068.1 865.2,1069.4 865.6,1070.0 866.0,1062.3 866.4,1071.3 866.8,1067.7 867.2,1072.9 867.6,1070.8 868.0,1072.4 868.4,1069.3 868.8,1072.2 869.2,1071.5 869.5,1074.9 869.9,1067.2 870.3,1064.7 870.7,1074.3 871.1,1073.7 871.5,1068.3 871.9,1065.9 872.3,1068.0 872.7,1071.8 873.1,1074.6 873.5,1070.7 873.9,1070.6 874.3,1071.6 874.7,1067.9 875.1,1067.0 875.5,1071.0 875.9,1071.8 876.3,1065.9 876.7,1065.4 877.1,1074.0 877.5,1068.0 877.9,1075.6 878.3,1068.3 878.6,1070.7 879.0,1073.7 879.4,1072.7 879.8,1070.0 880.2,1074.2 880.6,1077.8 881.0,1074.0 881.4,1072.2 881.8,1068.4 882.2,1077.0 882.6,1071.4 883.0,1074.4 883.4,1071.5 883.8,1070.8 884.2,1075.0 884.6,1074.5 885.0,1066.1 885.4,1066.9 885.8,1072.5 886.2,1070.8 886.6,1073.9 887.0,1076.9 887.3,1067.8 887.7,1071.5 888.1,1070.8 888.5,1069.1 888.9,1073.8 889.3,1074.0 889.7,1064.7 890.1,1070.4 890.5,1070.4 890.9,1071.3 891.3,1068.7 891.7,1072.0 892.1,1067.5 892.5,1075.7 892.9,1069.8 893.3,1069.0 893.7,1068.7 894.1,1067.0 894.5,1066.9 894.9,1068.2 895.3,1071.0 895.7,1069.9 896.0,1070.3 896.4,1069.2 896.8,1067.4 897.2,1065.3 897.6,1069.7 898.0,1069.5 898.4,1066.4 898.8,1070.9 899.2,1064.1 899.6,1069.6 900.0,1067.8 900.4,1064.8 900.8,1067.7 901.2,1063.5 901.6,1064.9 902.0,1069.6 902.4,1065.5 902.8,1062.1 903.2,1074.7 903.6,1071.1 904.0,1069.3 904.4,1065.7 904.8,1064.9 905.1,1068.7 905.5,1063.0 905.9,1066.9 906.3,1062.4 906.7,1067.4 907.1,1062.2 907.5,1068.8 907.9,1066.8 908.3,1069.1 908.7,1064.6 909.1,1066.9 909.5,1064.1 909.9,1068.1 910.3,1061.9 910.7,1070.3 911.1,1066.7 911.5,1069.4 911.9,1060.9 912.3,1065.7 912.7,1061.5 913.1,1065.1 913.5,1063.3 913.8,1068.9 914.2,1068.5 914.6,1066.1 915.0,1064.0 915.4,1068.6 915.8,1066.9 916.2,1068.9 916.6,1067.0 917.0,1063.6 917.4,1065.0 917.8,1071.2 918.2,1070.1 918.6,1068.0 919.0,1068.6 919.4,1068.6 919.8,1065.9 920.2,1065.4 920.6,1070.4 921.0,1072.7 921.4,1065.3 921.8,1071.2 922.2,1066.1 922.5,1067.3 922.9,1071.2 923.3,1071.8 923.7,1063.5 924.1,1067.0 924.5,1072.5 924.9,1067.7 925.3,1070.3 925.7,1065.9 926.1,1066.0 926.5,1067.8 926.9,1066.7 927.3,1065.5 927.7,1068.4 928.1,1069.9 928.5,1070.5 928.9,1072.1 929.3,1068.5 929.7,1071.7 930.1,1071.5 930.5,1074.4 930.9,1072.4 931.3,1070.5 931.6,1064.8 932.0,1068.7 932.4,1068.1 932.8,1065.5 933.2,1066.8 933.6,1069.4 934.0,1063.0 934.4,1070.8 934.8,1070.1 935.2,1067.9 935.6,1067.3 936.0,1066.4 936.4,1069.2 936.8,1069.7 937.2,1069.5 937.6,1072.6 938.0,1068.4 938.4,1070.2 938.8,1075.0 939.2,1068.8 939.6,1065.6 940.0,1067.0 940.3,1068.2 940.7,1067.5 941.1,1071.9 941.5,1066.2 941.9,1070.3 942.3,1066.2 942.7,1078.3 943.1,1075.9 943.5,1072.5 943.9,1074.8 944.3,1069.1 944.7,1075.8 945.1,1067.4 945.5,1064.9 945.9,1070.2 946.3,1073.6 946.7,1072.5 947.1,1075.3 947.5,1076.7 947.9,1071.9 948.3,1070.6 948.7,1072.2 949.1,1065.2 949.4,1074.1 949.8,1068.2 950.2,1064.4 950.6,1070.0 951.0,1068.2 951.4,1074.5 951.8,1079.1 952.2,1075.3 952.6,1073.3 953.0,1075.9 953.4,1074.3 953.8,1071.3 954.2,1068.8 954.6,1075.9 955.0,1073.8 955.4,1069.1 955.8,1074.3 956.2,1075.8 956.6,1076.7 957.0,1067.8 957.4,1068.0 957.8,1072.4 958.1,1070.4 958.5,1070.8 958.9,1065.2 959.3,1068.5 959.7,1071.9 960.1,1073.1 960.5,1074.3 960.9,1072.0 961.3,1074.9 961.7,1071.3 962.1,1070.3 962.5,1069.4 962.9,1066.6 963.3,1069.0 963.7,1075.4 964.1,1074.0 964.5,1072.9 964.9,1074.4 965.3,1068.2 965.7,1080.5 966.1,1071.3 966.5,1069.6 966.8,1070.5 967.2,1069.8 967.6,1069.8 968.0,1067.2 968.4,1070.7 968.8,1074.7 969.2,1068.3 969.6,1072.3 970.0,1068.4 970.4,1075.0 970.8,1069.2 971.2,1071.8 971.6,1073.9 972.0,1068.1 972.4,1072.1 972.8,1069.8 973.2,1073.0 973.6,1075.4 974.0,1071.2 974.4,1071.8 974.8,1071.6 975.2,1065.7 975.6,1068.1 975.9,1070.6 976.3,1072.6 976.7,1067.4 977.1,1072.7 977.5,1076.0 977.9,1069.3 978.3,1069.6 978.7,1070.6 979.1,1074.5 979.5,1071.8 979.9,1069.1 980.3,1068.3 980.7,1072.2 981.1,1071.8 981.5,1069.3 981.9,1072.4 982.3,1070.4 982.7,1070.5 983.1,1070.3 983.5,1070.8 983.9,1069.5 984.3,1070.0 984.6,1068.8 985.0,1067.2 985.4,1075.1 985.8,1071.9 986.2,1067.6 986.6,1075.5 987.0,1074.1 987.4,1070.3 987.8,1066.4 988.2,1065.9 988.6,1064.9 989.0,1072.3 989.4,1067.7 989.8,1067.4 990.2,1067.9 990.6,1065.3 991.0,1071.8 991.4,1069.6 991.8,1072.4 992.2,1069.3 992.6,1071.9 993.0,1066.4 993.3,1074.4 993.7,1068.9 994.1,1070.9 994.5,1072.4 994.9,1072.3 995.3,1069.3 995.7,1069.9 996.1,1073.4 996.5,1071.2 996.9,1071.7 997.3,1074.2 997.7,1069.4 998.1,1073.3 998.5,1068.3 998.9,1075.7 999.3,1074.2 999.7,1064.6 1000.1,1064.2 1000.5,1069.5 1000.9,1070.2 1001.3,1071.7 1001.7,1067.8 1002.1,1072.2 1002.4,1072.3 1002.8,1070.9 1003.2,1069.0 1003.6,1071.3 1004.0,1069.9 1004.4,1065.5 1004.8,1071.4 1005.2,1068.9 1005.6,1071.7 1006.0,1073.7 1006.4,1072.0 1006.8,1070.1 1007.2,1069.5 1007.6,1062.9 1008.0,1068.6 1008.4,1074.0 1008.8,1076.1 1009.2,1069.4 1009.6,1067.9 1010.0,1063.5 1010.4,1073.2 1010.8,1069.0 1011.1,1063.8 1011.5,1069.1 1011.9,1068.7 1012.3,1074.2 1012.7,1071.2 1013.1,1066.9 1013.5,1074.1 1013.9,1068.6 1014.3,1067.5 1014.7,1075.0 1015.1,1068.3 1015.5,1073.2 1015.9,1068.1 1016.3,1070.2 1016.7,1063.5 1017.1,1061.6 1017.5,1068.6 1017.9,1074.4 1018.3,1066.9 1018.7,1071.7 1019.1,1068.0 1019.5,1069.0 1019.8,1073.9 1020.2,1071.4 1020.6,1067.4 1021.0,1068.7 1021.4,1069.1 1021.8,1067.4 1022.2,1073.1 1022.6,1070.5 1023.0,1072.3 1023.4,1067.7 1023.8,1063.0 1024.2,1066.7 1024.6,1068.1 1025.0,1065.9 1025.4,1070.7 1025.8,1069.8 1026.2,1068.9 1026.6,1066.1 1027.0,1070.7 1027.4,1065.4 1027.8,1068.0 1028.2,1069.2 1028.6,1068.1 1028.9,1066.8 1029.3,1069.7 1029.7,1068.5 1030.1,1070.3 1030.5,1063.9 1030.9,1066.6 1031.3,1069.0 1031.7,1070.0 1032.1,1062.9 1032.5,1064.1 1032.9,1064.7 1033.3,1070.4 1033.7,1064.5 1034.1,1064.6 1034.5,1066.3 1034.9,1072.0 1035.3,1071.1 1035.7,1066.9 1036.1,1072.9 1036.5,1064.7 1036.9,1065.7 1037.3,1064.5 1037.6,1067.9 1038.0,1068.7 1038.4,1068.6 1038.8,1066.7 1039.2,1060.8 1039.6,1061.8 1040.0,1069.8 1040.4,1067.5 1040.8,1066.7 1041.2,1067.1 1041.6,1062.2 1042.0,1064.4 1042.4,1067.8 1042.8,1064.5 1043.2,1062.5 1043.6,1062.4 1044.0,1066.0 1044.4,1065.6 1044.8,1061.0 1045.2,1063.3 1045.6,1060.3 1046.0,1057.5 1046.4,1066.8 1046.7,1066.6 1047.1,1067.6 1047.5,1062.6 1047.9,1066.7 1048.3,1062.4 1048.7,1063.3 1049.1,1062.0 1049.5,1059.7 1049.9,1062.2 1050.3,1067.5 1050.7,1066.1 1051.1,1056.8 1051.5,1062.1 1051.9,1062.7 1052.3,1056.5 1052.7,1062.7 1053.1,1059.9 1053.5,1058.3 1053.9,1064.0 1054.3,1062.3 1054.7,1059.7 1055.1,1063.2 1055.4,1053.9 1055.8,1062.9 1056.2,1062.5 1056.6,1059.0 1057.0,1055.5 1057.4,1057.1 1057.8,1059.6 1058.2,1055.7 1058.6,1059.0 1059.0,1060.7 1059.4,1062.7 1059.8,1061.3 1060.2,1055.6 1060.6,1057.6 1061.0,1058.9 1061.4,1059.9 1061.8,1057.5 1062.2,1059.3 1062.6,1058.2 1063.0,1059.6 1063.4,1055.5 1063.8,1057.2 1064.1,1056.4 1064.5,1058.5 1064.9,1060.2 1065.3,1060.3 1065.7,1052.6 1066.1,1053.7 1066.5,1055.6 1066.9,1055.1 1067.3,1055.2 1067.7,1051.8 1068.1,1054.3 1068.5,1055.5 1068.9,1059.5 1069.3,1059.0 1069.7,1059.8 1070.1,1061.1 1070.5,1056.8 1070.9,1055.0 1071.3,1058.5 1071.7,1064.3 1072.1,1059.0 1072.5,1053.4 1072.9,1051.2 1073.2,1062.7 1073.6,1057.8 1074.0,1064.5 1074.4,1064.3 1074.8,1060.7 1075.2,1058.0 1075.6,1061.2 1076.0,1060.0 1076.4,1062.8 1076.8,1059.9 1077.2,1056.8 1077.6,1062.4 1078.0,1065.1 1078.4,1063.7 1078.8,1060.0 1079.2,1063.5 1079.6,1061.5 1080.0,1062.1 1080.4,1065.3 1080.8,1061.7 1081.2,1062.9 1081.6,1060.8 1081.9,1063.0 1082.3,1065.3 1082.7,1061.7 1083.1,1065.4 1083.5,1063.0 1083.9,1063.9 1084.3,1063.2 1084.7,1062.1 1085.1,1069.3 1085.5,1063.1 1085.9,1062.5 1086.3,1060.3 1086.7,1068.3 1087.1,1069.0 1087.5,1063.5 1087.9,1065.8 1088.3,1064.1 1088.7,1064.4 1089.1,1061.0 1089.5,1062.8 1089.9,1063.1 1090.3,1069.7 1090.6,1071.1 1091.0,1067.0 1091.4,1067.4 1091.8,1065.8 1092.2,1066.0 1092.6,1068.0 1093.0,1064.7 1093.4,1068.0 1093.8,1060.4 1094.2,1064.8 1094.6,1066.1 1095.0,1064.7 1095.4,1068.1 1095.8,1064.4 1096.2,1069.5 1096.6,1068.0 1097.0,1068.1 1097.4,1067.4 1097.8,1065.9 1098.2,1064.4 1098.6,1066.5 1099.0,1068.8 1099.4,1067.3 1099.7,1069.7 1100.1,1067.8 1100.5,1071.8 1100.9,1063.0 1101.3,1076.5 1101.7,1071.0 1102.1,1064.8 1102.5,1067.1 1102.9,1073.3 1103.3,1074.7 1103.7,1061.4 1104.1,1066.7 1104.5,1067.6 1104.9,1071.1 1105.3,1067.3 1105.7,1066.9 1106.1,1062.4 1106.5,1070.3 1106.9,1062.6 1107.3,1071.6 1107.7,1068.4 1108.1,1067.5 1108.4,1062.5 1108.8,1065.6 1109.2,1067.1 1109.6,1075.4 1110.0,1068.2 1110.4,1064.9 1110.8,1065.4 1111.2,1064.1 1111.6,1069.8 1112.0,1065.5 1112.4,1065.6 1112.8,1065.0 1113.2,1069.3 1113.6,1068.8 1114.0,1065.8 1114.4,1064.9 1114.8,1070.9 1115.2,1066.6 1115.6,1060.6 1116.0,1069.8 1116.4,1069.1 1116.8,1065.5 1117.2,1069.4 1117.5,1071.7 1117.9,1069.8 1118.3,1068.4 1118.7,1062.0 1119.1,1071.2 1119.5,1064.4 1119.9,1069.3 1120.3,1067.6 1120.7,1072.6 1121.1,1071.6 1121.5,1066.4 1121.9,1068.0 1122.3,1065.6 1122.7,1068.2 1123.1,1068.6 1123.5,1064.6 1123.9,1067.2 1124.3,1061.7 1124.7,1071.0 1125.1,1065.7 1125.5,1068.2 1125.9,1070.8 1126.2,1064.5 1126.6,1069.6 1127.0,1066.8 1127.4,1063.2 1127.8,1067.5 1128.2,1061.5 1128.6,1071.1 1129.0,1068.4 1129.4,1070.0 1129.8,1066.0 1130.2,1066.1 1130.6,1070.8 1131.0,1072.1 1131.4,1070.5 1131.8,1072.2 1132.2,1069.1 1132.6,1078.2 1133.0,1070.8 1133.4,1071.9 1133.8,1064.0 1134.2,1070.3 1134.6,1072.5 1134.9,1070.8 1135.3,1070.1 1135.7,1073.4 1136.1,1073.1 1136.5,1068.8 1136.9,1073.0 1137.3,1069.2 1137.7,1069.9 1138.1,1066.3 1138.5,1069.3 1138.9,1067.6 1139.3,1064.5 1139.7,1070.7 1140.1,1073.6 1140.5,1071.5 1140.9,1069.3 1141.3,1075.4 1141.7,1067.9 1142.1,1073.3 1142.5,1072.4 1142.9,1073.8 1143.3,1071.2 1143.7,1069.7 1144.0,1073.4 1144.4,1069.5 1144.8,1069.1 1145.2,1067.3 1145.6,1069.7 1146.0,1072.1 1146.4,1072.2 1146.8,1071.6 1147.2,1067.3 1147.6,1072.4 1148.0,1066.6 1148.4,1070.7 1148.8,1071.1 1149.2,1068.2 1149.6,1074.4 1150.0,1069.3 1150.4,1071.0 1150.8,1069.7 1151.2,1072.8 1151.6,1072.6 1152.0,1069.2 1152.4,1073.7 1152.7,1069.5 1153.1,1066.9 1153.5,1064.9 1153.9,1065.7 1154.3,1065.4 1154.7,1065.7 1155.1,1065.9 1155.5,1063.6 1155.9,1063.0 1156.3,1064.0 1156.7,1066.3 1157.1,1065.6 1157.5,1064.6 1157.9,1070.7 1158.3,1068.8 1158.7,1070.4 1159.1,1070.6 1159.5,1065.8 1159.9,1066.3 1160.3,1064.8 1160.7,1064.7 1161.1,1068.5 1161.4,1071.3 1161.8,1063.8 1162.2,1064.8 1162.6,1067.1 1163.0,1064.5 1163.4,1064.4 1163.8,1065.1 1164.2,1070.8 1164.6,1071.8 1165.0,1071.9 1165.4,1067.0 1165.8,1065.8 1166.2,1072.4 1166.6,1069.2 1167.0,1063.2 1167.4,1065.8 1167.8,1065.3 1168.2,1074.1 1168.6,1068.4 1169.0,1069.4 1169.4,1066.8 1169.8,1063.0 1170.2,1068.1 1170.5,1062.3 1170.9,1069.0 1171.3,1064.2 1171.7,1066.7 1172.1,1069.5 1172.5,1066.6 1172.9,1067.3 1173.3,1066.0 1173.7,1068.2 1174.1,1062.7 1174.5,1063.6 1174.9,1070.2 1175.3,1066.6 1175.7,1068.9 1176.1,1070.6 1176.5,1064.8 1176.9,1064.3 1177.3,1066.0 1177.7,1064.1 1178.1,1068.7 1178.5,1067.2 1178.9,1070.2 1179.2,1061.0 1179.6,1064.6 1180.0,1069.9 1180.4,1068.3 1180.8,1067.7 1181.2,1067.8 1181.6,1060.4 1182.0,1067.2 1182.4,1064.9 1182.8,1067.1 1183.2,1069.4 1183.6,1063.3 1184.0,1068.7 1184.4,1062.9 1184.8,1066.0 1185.2,1068.0 1185.6,1067.3 1186.0,1066.0 1186.4,1065.1 1186.8,1062.0 1187.2,1066.7 1187.6,1065.2 1187.9,1064.4 1188.3,1066.1 1188.7,1062.9 1189.1,1070.8 1189.5,1067.5 1189.9,1067.3 1190.3,1071.7 1190.7,1062.7 1191.1,1059.8 1191.5,1065.1 1191.9,1066.4 1192.3,1060.1 1192.7,1063.2 1193.1,1066.5 1193.5,1065.4 1193.9,1069.1 1194.3,1062.5 1194.7,1064.2 1195.1,1071.1 1195.5,1069.6 1195.9,1066.9 1196.3,1065.5 1196.7,1064.8 1197.0,1069.4 1197.4,1068.3 1197.8,1066.4 1198.2,1070.6 1198.6,1069.8 1199.0,1071.5 1199.4,1067.7 1199.8,1067.5 1200.2,1061.8 1200.6,1065.4 1201.0,1070.0 1201.4,1067.0 1201.8,1061.7 1202.2,1065.7 1202.6,1067.0 1203.0,1062.0 1203.4,1063.0 1203.8,1069.0 1204.2,1070.5 1204.6,1068.8 1205.0,1067.1 1205.4,1067.0 1205.7,1061.6 1206.1,1071.3 1206.5,1068.8 1206.9,1068.3 1207.3,1062.2 1207.7,1065.3 1208.1,1068.9 1208.5,1066.1 1208.9,1067.7 1209.3,1066.2 1209.7,1067.4 1210.1,1064.3 1210.5,1067.3 1210.9,1066.2 1211.3,1062.0 1211.7,1068.7 1212.1,1063.7 1212.5,1068.5 1212.9,1067.1 1213.3,1061.4 1213.7,1071.9 1214.1,1069.4 1214.5,1070.3 1214.8,1070.5 1215.2,1066.2 1215.6,1061.8 1216.0,1066.2 1216.4,1063.0 1216.8,1069.8 1217.2,1069.8 1217.6,1062.4 1218.0,1063.2 1218.4,1069.6 1218.8,1067.0 1219.2,1063.8 1219.6,1065.7 1220.0,1062.2 1220.4,1069.7 1220.8,1068.0 1221.2,1062.1 1221.6,1066.2 1222.0,1062.7 1222.4,1067.9 1222.8,1065.8 1223.2,1064.1 1223.5,1063.2 1223.9,1063.7 1224.3,1066.5 1224.7,1069.1 1225.1,1060.2 1225.5,1067.9 1225.9,1066.6 1226.3,1070.1 1226.7,1066.9 1227.1,1069.1 1227.5,1065.8 1227.9,1072.1 1228.3,1067.2 1228.7,1065.5 1229.1,1065.7 1229.5,1065.6 1229.9,1059.9 1230.3,1062.8 1230.7,1066.8 1231.1,1064.1 1231.5,1062.6 1231.9,1068.3 1232.2,1064.5 1232.6,1061.9 1233.0,1066.9 1233.4,1061.5 1233.8,1065.1 1234.2,1068.8 1234.6,1063.4 1235.0,1061.3 1235.4,1064.1 1235.8,1067.0 1236.2,1065.1 1236.6,1062.6 1237.0,1065.9 1237.4,1060.2 1237.8,1061.0 1238.2,1063.3 1238.6,1065.8 1239.0,1065.9 1239.4,1063.0 1239.8,1066.2 1240.2,1064.8 1240.6,1067.1 1241.0,1067.6 1241.3,1067.7 1241.7,1062.1 1242.1,1062.0 1242.5,1065.0 1242.9,1071.1 1243.3,1068.2 1243.7,1068.5 1244.1,1072.1 1244.5,1062.1 1244.9,1070.9 1245.3,1064.7 1245.7,1070.7 1246.1,1062.0 1246.5,1069.5 1246.9,1063.3 1247.3,1072.3 1247.7,1067.5 1248.1,1069.8 1248.5,1069.1 1248.9,1062.1 1249.3,1066.5 1249.7,1062.8 1250.0,1062.0 1250.4,1065.3 1250.8,1065.4 1251.2,1063.2 1251.6,1068.5 1252.0,1070.9 1252.4,1065.1 1252.8,1070.7 1253.2,1070.2 1253.6,1063.9 1254.0,1061.8 1254.4,1068.4 1254.8,1067.6 1255.2,1070.8 1255.6,1066.4 1256.0,1065.7 1256.4,1067.9 1256.8,1067.8 1257.2,1071.4 1257.6,1061.8 1258.0,1069.0 1258.4,1066.0 1258.7,1066.6 1259.1,1062.7 1259.5,1067.2 1259.9,1070.6 1260.3,1069.5 1260.7,1063.8 1261.1,1069.6 1261.5,1066.0 1261.9,1066.3 1262.3,1065.6 1262.7,1069.9 1263.1,1066.4 1263.5,1062.1 1263.9,1071.0 1264.3,1069.5 1264.7,1065.3 1265.1,1067.6 1265.5,1064.6 1265.9,1062.7 1266.3,1064.5 1266.7,1066.6 1267.1,1064.2 1267.5,1063.1 1267.8,1069.5 1268.2,1065.7 1268.6,1062.3 1269.0,1063.0 1269.4,1065.7 1269.8,1070.5 1270.2,1069.9 1270.6,1067.3 1271.0,1062.6 1271.4,1063.4 1271.8,1068.0 1272.2,1070.1 1272.6,1062.7 1273.0,1067.8 1273.4,1063.7 1273.8,1066.1 1274.2,1061.1 1274.6,1069.0 1275.0,1067.5 1275.4,1068.3 1275.8,1061.0 1276.2,1066.9 1276.5,1062.5 1276.9,1064.0 1277.3,1060.1 1277.7,1066.7 1278.1,1071.4 1278.5,1067.3 1278.9,1060.9 1279.3,1068.1 1279.7,1066.9 1280.1,1066.8 1280.5,1067.1 1280.9,1062.5 1281.3,1061.3 1281.7,1063.1 1282.1,1063.8 1282.5,1063.0 1282.9,1062.8 1283.3,1062.2 1283.7,1066.6 1284.1,1060.6 1284.5,1062.2 1284.9,1061.5 1285.3,1059.4 1285.6,1059.9 1286.0,1058.5 1286.4,1060.6 1286.8,1064.8 1287.2,1062.7 1287.6,1060.6 1288.0,1062.0 1288.4,1058.1 1288.8,1053.4 1289.2,1060.0 1289.6,1054.8 1290.0,1054.9 1290.4,1055.5 1290.8,1051.9 1291.2,1054.8 1291.6,1051.1 1292.0,1055.7 1292.4,1050.6 1292.8,1055.2 1293.2,1055.4 1293.6,1050.7 1294.0,1048.2 1294.3,1047.6 1294.7,1050.0 1295.1,1047.3 1295.5,1046.0 1295.9,1047.0 1296.3,1043.3 1296.7,1044.7 1297.1,1042.2 1297.5,1045.4 1297.9,1040.7 1298.3,1037.6 1298.7,1036.7 1299.1,1035.1 1299.5,1033.4 1299.9,1032.6 1300.3,1028.3 1300.7,1028.9 1301.1,1023.9 1301.5,1018.5 1301.9,1013.9 1302.3,1011.2 1302.7,1003.9 1303.0,1003.2 1303.4,998.8 1303.8,991.2 1304.2,985.8 1304.6,979.1 1305.0,970.2 1305.4,960.8 1305.8,952.0 1306.2,940.0 1306.6,927.1 1307.0,914.0 1307.4,894.9 1307.8,873.1 1308.2,851.7 1308.6,827.8 1309.0,798.6 1309.4,767.8 1309.8,732.5 1310.2,695.0 1310.6,656.8 1311.0,617.0 1311.4,582.2 1311.8,555.7 1312.1,533.2 1312.5,530.0 1312.9,536.4 1313.3,553.5 1313.7,582.6 1314.1,617.4 1314.5,658.4 1314.9,694.8 1315.3,732.9 1315.7,768.0 1316.1,800.1 1316.5,825.6 1316.9,853.4 1317.3,873.3 1317.7,893.5 1318.1,909.8 1318.5,927.1 1318.9,938.9 1319.3,951.9 1319.7,962.1 1320.1,968.9 1320.5,976.7 1320.8,984.4 1321.2,990.2 1321.6,995.8 1322.0,999.3 1322.4,1009.1 1322.8,1010.3 1323.2,1014.5 1323.6,1014.5 1324.0,1022.2 1324.4,1027.0 1324.8,1025.7 1325.2,1031.8 1325.6,1032.2 1326.0,1032.8 1326.4,1032.7 1326.8,1039.0 1327.2,1038.6 1327.6,1038.5 1328.0,1043.6 1328.4,1042.1 1328.8,1043.0 1329.2,1045.0 1329.5,1045.1 1329.9,1046.7 1330.3,1047.5 1330.7,1047.2 1331.1,1051.7 1331.5,1052.8 1331.9,1048.9 1332.3,1049.8 1332.7,1051.7 1333.1,1054.7 1333.5,1055.3 1333.9,1053.4 1334.3,1054.9 1334.7,1054.5 1335.1,1053.6 1335.5,1060.9 1335.9,1058.4 1336.3,1053.5 1336.7,1050.9 1337.1,1061.6 1337.5,1054.0 1337.9,1057.2 1338.3,1059.3 1338.6,1052.5 1339.0,1059.8 1339.4,1056.7 1339.8,1060.9 1340.2,1063.2 1340.6,1056.5 1341.0,1055.2 1341.4,1063.6 1341.8,1063.1 1342.2,1057.9 1342.6,1057.7 1343.0,1062.8 1343.4,1061.7 1343.8,1058.9 1344.2,1059.3 1344.6,1061.4 1345.0,1058.0 1345.4,1063.2 1345.8,1060.5 1346.2,1067.0 1346.6,1057.1 1347.0,1064.7 1347.3,1062.5 1347.7,1062.1 1348.1,1063.5 1348.5,1067.4 1348.9,1062.4 1349.3,1067.9 1349.7,1063.6 1350.1,1062.0 1350.5,1062.6 1350.9,1063.8 1351.3,1065.8 1351.7,1063.0 1352.1,1061.8 1352.5,1066.7 1352.9,1059.0 1353.3,1057.5 1353.7,1064.8 1354.1,1063.8 1354.5,1064.7 1354.9,1066.3 1355.3,1070.9 1355.7,1063.3 1356.0,1064.6 1356.4,1060.2 1356.8,1063.2 1357.2,1065.0 1357.6,1067.2 1358.0,1065.7 1358.4,1065.9 1358.8,1061.7 1359.2,1068.0 1359.6,1066.1 1360.0,1059.0 1360.4,1069.6 1360.8,1059.1 1361.2,1063.8 1361.6,1065.6 1362.0,1065.3 1362.4,1068.0 1362.8,1061.6 1363.2,1070.5 1363.6,1063.1 1364.0,1070.2 1364.4,1063.7 1364.8,1069.0 1365.1,1072.1 1365.5,1067.3 1365.9,1068.3 1366.3,1064.7 1366.7,1069.8 1367.1,1071.3 1367.5,1064.9 1367.9,1064.4 1368.3,1065.2 1368.7,1063.6 1369.1,1070.2 1369.5,1069.3 1369.9,1064.4 1370.3,1070.4 1370.7,1067.1 1371.1,1070.9 1371.5,1068.1 1371.9,1069.2 1372.3,1069.6 1372.7,1070.8 1373.1,1074.1 1373.5,1065.1 1373.8,1062.5 1374.2,1067.7 1374.6,1070.2 1375.0,1065.5 1375.4,1067.0 1375.8,1064.6 1376.2,1074.1 1376.6,1067.0 1377.0,1069.1 1377.4,1066.6 1377.8,1069.1 1378.2,1072.6 1378.6,1070.6 1379.0,1069.1 1379.4,1071.2 1379.8,1070.5 1380.2,1065.7 1380.6,1066.0 1381.0,1067.9 1381.4,1062.8 1381.8,1070.7 1382.2,1066.7 1382.6,1066.2 1382.9,1062.9 1383.3,1072.2 1383.7,1070.8 1384.1,1068.0 1384.5,1069.4 1384.9,1072.9 1385.3,1066.9 1385.7,1069.0 1386.1,1069.6 1386.5,1063.2 1386.9,1074.3 1387.3,1067.5 1387.7,1067.0 1388.1,1063.3 1388.5,1065.3 1388.9,1071.6 1389.3,1069.7 1389.7,1065.6 1390.1,1068.2 1390.5,1074.0 1390.9,1063.8 1391.3,1065.6 1391.6,1066.8 1392.0,1072.4 1392.4,1067.1 1392.8,1066.6 1393.2,1068.4 1393.6,1068.0 1394.0,1069.5 1394.4,1064.1 1394.8,1066.3 1395.2,1063.7 1395.6,1063.9 1396.0,1066.1 1396.4,1070.7 1396.8,1066.7 1397.2,1069.7 1397.6,1067.0 1398.0,1073.6 1398.4,1067.1 1398.8,1070.2 1399.2,1065.3 1399.6,1070.2 1400.0,1064.9 1400.3,1065.7 1400.7,1065.2 1401.1,1062.2 1401.5,1067.6 1401.9,1066.9 1402.3,1068.8 1402.7,1068.0 1403.1,1069.9 1403.5,1075.0 1403.9,1066.8 1404.3,1071.4 1404.7,1068.0 1405.1,1071.6 1405.5,1065.6 1405.9,1069.4 1406.3,1071.4 1406.7,1068.4 1407.1,1067.8 1407.5,1067.9 1407.9,1063.4 1408.3,1068.6 1408.7,1070.6 1409.1,1074.7 1409.4,1074.8 1409.8,1067.7 1410.2,1065.6 1410.6,1065.7 1411.0,1068.6 1411.4,1068.9 1411.8,1068.5 1412.2,1069.9 1412.6,1070.4 1413.0,1069.8 1413.4,1062.6 1413.8,1067.7 1414.2,1067.6 1414.6,1074.5 1415.0,1071.1 1415.4,1074.3 1415.8,1066.2 1416.2,1064.4 1416.6,1065.5 1417.0,1067.6 1417.4,1063.3 1417.8,1064.8 1418.1,1067.7 1418.5,1069.1 1418.9,1067.4 1419.3,1066.7 1419.7,1070.2 1420.1,1067.5 1420.5,1071.1 1420.9,1065.7 1421.3,1071.8 1421.7,1063.7 1422.1,1070.3 1422.5,1069.9 1422.9,1064.4 1423.3,1065.2 1423.7,1070.6 1424.1,1068.7 1424.5,1069.7 1424.9,1068.3 1425.3,1067.4 1425.7,1074.5 1426.1,1065.5 1426.5,1073.4 1426.8,1065.3 1427.2,1066.9 1427.6,1064.6 1428.0,1065.3 1428.4,1064.9 1428.8,1068.3 1429.2,1072.8 1429.6,1068.0 1430.0,1066.1 1430.4,1070.1 1430.8,1063.4 1431.2,1068.1 1431.6,1064.6 1432.0,1069.5 1432.4,1067.0 1432.8,1071.3 1433.2,1064.8 1433.6,1065.3 1434.0,1069.3 1434.4,1063.6 1434.8,1067.2 1435.2,1071.3 1435.6,1066.8 1435.9,1063.1 1436.3,1067.7 1436.7,1067.9 1437.1,1073.5 1437.5,1065.2 1437.9,1071.5 1438.3,1068.9 1438.7,1067.7 1439.1,1067.0 1439.5,1069.5 1439.9,1071.7 1440.3,1072.3 1440.7,1070.4 1441.1,1070.4 1441.5,1071.7 1441.9,1065.9 1442.3,1072.7 1442.7,1063.4 1443.1,1064.6 1443.5,1066.3 1443.9,1068.5 1444.3,1064.9 1444.6,1070.2 1445.0,1066.2 1445.4,1067.1 1445.8,1066.2 1446.2,1068.2 1446.6,1067.2 1447.0,1065.5 1447.4,1069.5 1447.8,1070.6 1448.2,1071.1 1448.6,1069.7 1449.0,1072.8 1449.4,1064.8 1449.8,1067.7 1450.2,1069.9 1450.6,1061.6 1451.0,1065.5 1451.4,1067.9 1451.8,1071.6 1452.2,1069.7 1452.6,1072.0 1453.0,1069.8 1453.4,1070.7 1453.7,1067.0 1454.1,1062.9 1454.5,1068.4 1454.9,1064.6 1455.3,1071.9 1455.7,1065.4 1456.1,1070.5 1456.5,1065.0 1456.9,1065.0 1457.3,1068.8 1457.7,1065.2 1458.1,1068.2 1458.5,1066.5 1458.9,1066.1 1459.3,1064.2 1459.7,1069.8 1460.1,1065.6 1460.5,1070.7 1460.9,1070.2 1461.3,1064.3 1461.7,1065.5 1462.1,1067.1 1462.4,1071.3 1462.8,1065.3 1463.2,1061.6 1463.6,1066.4 1464.0,1066.1 1464.4,1066.3 1464.8,1069.2 1465.2,1067.2 1465.6,1061.4 1466.0,1068.9 1466.4,1067.7 1466.8,1064.3 1467.2,1064.8 1467.6,1068.3 1468.0,1062.4 1468.4,1067.4 1468.8,1068.9 1469.2,1064.0 1469.6,1069.0 1470.0,1071.2 1470.4,1072.8 1470.8,1066.8 1471.1,1069.3 1471.5,1066.7 1471.9,1062.8 1472.3,1068.7 1472.7,1065.3 1473.1,1065.6 1473.5,1066.2 1473.9,1068.3 1474.3,1066.4 1474.7,1064.2 1475.1,1061.0 1475.5,1064.4 1475.9,1064.5 1476.3,1067.7 1476.7,1064.5 1477.1,1069.3 1477.5,1066.7 1477.9,1063.7 1478.3,1058.8 1478.7,1065.9 1479.1,1067.2 1479.5,1062.7 1479.9,1065.3 1480.2,1065.6 1480.6,1061.8 1481.0,1064.7 1481.4,1066.7 1481.8,1065.6 1482.2,1060.4 1482.6,1062.6 1483.0,1058.8 1483.4,1061.7 1483.8,1060.7 1484.2,1059.1 1484.6,1059.7 1485.0,1062.7 1485.4,1056.3 1485.8,1060.6 1486.2,1057.8 1486.6,1058.6 1487.0,1053.2 1487.4,1052.9 1487.8,1050.0 1488.2,1049.5 1488.6,1053.9 1488.9,1049.2 1489.3,1049.7 1489.7,1049.9 1490.1,1043.6 1490.5,1041.6 1490.9,1040.9 1491.3,1045.8 1491.7,1040.1 1492.1,1046.8 1492.5,1042.4 1492.9,1038.5 1493.3,1035.5 1493.7,1035.2 1494.1,1037.5 1494.5,1032.3 1494.9,1033.4 1495.3,1027.5 1495.7,1024.3 1496.1,1025.7 1496.5,1026.2 1496.9,1022.3 1497.3,1022.5 1497.6,1022.2 1498.0,1018.6 1498.4,1018.8 1498.8,1015.2 1499.2,1014.4 1499.6,1012.7 1500.0,1011.1 1500.4,1011.6 1500.8,1009.8 1501.2,1007.5 1501.6,1006.9 1502.0,1004.0 1502.4,1001.9 1502.8,1003.7 1503.2,1003.1 1503.6,1001.4 1504.0,1001.1 1504.4,1003.2 1504.8,1000.7 1505.2,1003.0 1505.6,1001.4 1506.0,1001.4 1506.4,999.6 1506.7,1000.9 1507.1,1000.9 1507.5,1002.0 1507.9,1005.3 1508.3,1003.1 1508.7,1008.4 1509.1,1006.7 1509.5,1011.6 1509.9,1009.9 1510.3,1012.3 1510.7,1011.6 1511.1,1016.1 1511.5,1016.4 1511.9,1017.7 1512.3,1019.2 1512.7,1021.3 1513.1,1022.1 1513.5,1025.3 1513.9,1025.0 1514.3,1026.0 1514.7,1026.5 1515.1,1032.7 1515.4,1036.1 1515.8,1030.9 1516.2,1030.4 1516.6,1040.1 1517.0,1035.9 1517.4,1040.4 1517.8,1042.6 1518.2,1037.3 1518.6,1040.9 1519.0,1044.5 1519.4,1043.0 1519.8,1046.4 1520.2,1044.8 1520.6,1050.4 1521.0,1050.8 1521.4,1053.2 1521.8,1051.5 1522.2,1054.8 1522.6,1053.6 1523.0,1054.4 1523.4,1051.0 1523.8,1058.1 1524.1,1059.6 1524.5,1057.6 1524.9,1057.9 1525.3,1058.0 1525.7,1058.2 1526.1,1058.7 1526.5,1056.4 1526.9,1062.8 1527.3,1061.1 1527.7,1062.4 1528.1,1065.8 1528.5,1061.1 1528.9,1059.2 1529.3,1061.0 1529.7,1059.2 1530.1,1061.1 1530.5,1059.5 1530.9,1066.5 1531.3,1061.1 1531.7,1063.1 1532.1,1064.4 1532.5,1059.8 1532.9,1064.7 1533.2,1061.2 1533.6,1066.6 1534.0,1062.2 1534.4,1063.8 1534.8,1060.9 1535.2,1067.5 1535.6,1061.2 1536.0,1065.8 1536.4,1063.8 1536.8,1063.6 1537.2,1069.8 1537.6,1062.7 1538.0,1062.1 1538.4,1062.2 1538.8,1061.3 1539.2,1064.9 1539.6,1063.9 1540.0,1063.7 1540.4,1064.2 1540.8,1067.8 1541.2,1061.8 1541.6,1059.3 1541.9,1058.8 1542.3,1069.0 1542.7,1066.6 1543.1,1064.4 1543.5,1067.5 1543.9,1064.9 1544.3,1065.5 1544.7,1069.9 1545.1,1062.8 1545.5,1068.4 1545.9,1065.6 1546.3,1064.4 1546.7,1068.9 1547.1,1069.5 1547.5,1071.5 1547.9,1064.2 1548.3,1067.5 1548.7,1071.2 1549.1,1070.4 1549.5,1062.5 1549.9,1072.1 1550.3,1070.1 1550.7,1069.9 1551.0,1071.6 1551.4,1065.3 1551.8,1071.9 1552.2,1066.4 1552.6,1064.3 1553.0,1064.3 1553.4,1068.0 1553.8,1063.9 1554.2,1065.4 1554.6,1060.5 1555.0,1066.3 1555.4,1072.0 1555.8,1070.4 1556.2,1065.1 1556.6,1069.8 1557.0,1066.1 1557.4,1063.1 1557.8,1067.1 1558.2,1065.0 1558.6,1070.7 1559.0,1065.1 1559.4,1063.4 1559.7,1067.9 1560.1,1063.3 1560.5,1072.0 1560.9,1070.0 1561.3,1069.6 1561.7,1069.0 1562.1,1065.7 1562.5,1066.1 1562.9,1072.3 1563.3,1064.4 1563.7,1066.1 1564.1,1064.3 1564.5,1072.9 1564.9,1067.3 1565.3,1066.3 1565.7,1065.9 1566.1,1071.8 1566.5,1064.9 1566.9,1071.4 1567.3,1070.5 1567.7,1068.1 1568.1,1065.4 1568.4,1069.8 1568.8,1070.7 1569.2,1072.0 1569.6,1068.6 1570.0,1065.1 1570.4,1071.7 1570.8,1068.8 1571.2,1071.3 1571.6,1068.1 1572.0,1069.0 1572.4,1068.1 1572.8,1070.1 1573.2,1069.9 1573.6,1070.2 1574.0,1065.0 1574.4,1070.6 1574.8,1066.0 1575.2,1069.1 1575.6,1069.6 1576.0,1065.8 1576.4,1070.3 1576.8,1063.1 1577.2,1073.6 1577.5,1069.5 1577.9,1070.7 1578.3,1065.6 1578.7,1063.8 1579.1,1068.3 1579.5,1064.5 1579.9,1069.1 1580.3,1066.2 1580.7,1067.7 1581.1,1066.8 1581.5,1067.7 1581.9,1070.8 1582.3,1067.9 1582.7,1072.1 1583.1,1066.5 1583.5,1072.2 1583.9,1071.9 1584.3,1068.4 1584.7,1068.0 1585.1,1070.7 1585.5,1066.7 1585.9,1070.3 1586.2,1068.5 1586.6,1063.5 1587.0,1068.9 1587.4,1068.1 1587.8,1068.7 1588.2,1074.5 1588.6,1068.6 1589.0,1071.6 1589.4,1067.5 1589.8,1068.9 1590.2,1064.5 1590.6,1071.9 1591.0,1064.8 1591.4,1066.1 1591.8,1068.5 1592.2,1068.9 1592.6,1066.4 1593.0,1074.8 1593.4,1073.2 1593.8,1072.4 1594.2,1068.2 1594.6,1073.7 1594.9,1073.1 1595.3,1066.6 1595.7,1069.3 1596.1,1073.5 1596.5,1067.6 1596.9,1068.0 1597.3,1075.7 1597.7,1075.2 1598.1,1067.7 1598.5,1064.9 1598.9,1074.2 1599.3,1071.1 1599.7,1078.3 1600.1,1073.0 1600.5,1066.8 1600.9,1070.1 1601.3,1067.6 1601.7,1069.6 1602.1,1071.7 1602.5,1069.6 1602.9,1074.5 1603.3,1073.5 1603.7,1077.9 1604.0,1072.8 1604.4,1071.4 1604.8,1069.8 1605.2,1073.6 1605.6,1067.0 1606.0,1077.3 1606.4,1068.8 1606.8,1072.3 1607.2,1074.7 1607.6,1074.3 1608.0,1072.1 1608.4,1078.8 1608.8,1071.8 1609.2,1070.6 1609.6,1071.1 1610.0,1069.4 1610.4,1069.7 1610.8,1069.6 1611.2,1072.6 1611.6,1075.7 1612.0,1067.2 1612.4,1075.7 1612.7,1074.8 1613.1,1069.3 1613.5,1070.1 1613.9,1066.5 1614.3,1074.8 1614.7,1070.9 1615.1,1066.0 1615.5,1076.0 1615.9,1072.8 1616.3,1075.4 1616.7,1069.4 1617.1,1075.3 1617.5,1075.7 1617.9,1077.2 1618.3,1071.5 1618.7,1074.0 1619.1,1072.6 1619.5,1073.3 1619.9,1072.7 1620.3,1077.8 1620.7,1070.4 1621.1,1073.2 1621.5,1070.9 1621.8,1068.8 1622.2,1067.3 1622.6,1071.3 1623.0,1073.3 1623.4,1074.9 1623.8,1073.7 1624.2,1072.8 1624.6,1070.2 1625.0,1064.6 1625.4,1078.0 1625.8,1066.9 1626.2,1074.6 1626.6,1075.3 1627.0,1072.8 1627.4,1074.4 1627.8,1071.3 1628.2,1069.3 1628.6,1076.5 1629.0,1075.9 1629.4,1069.0 1629.8,1074.5 1630.2,1073.7 1630.5,1073.0 1630.9,1066.7 1631.3,1074.4 1631.7,1071.5 1632.1,1072.3 1632.5,1073.6 1632.9,1071.1 1633.3,1073.1 1633.7,1066.1 1634.1,1068.1 1634.5,1075.0 1634.9,1069.3 1635.3,1070.0 1635.7,1070.4 1636.1,1076.2 1636.5,1072.3 1636.9,1064.2 1637.3,1069.8 1637.7,1067.1 1638.1,1074.1 1638.5,1072.3 1638.9,1071.2 1639.2,1063.6 1639.6,1069.1 1640.0,1070.5 1640.4,1069.7 1640.8,1071.4 1641.2,1070.5 1641.6,1068.2 1642.0,1065.3 1642.4,1066.2 1642.8,1063.6 1643.2,1073.3 1643.6,1069.9 1644.0,1067.4 1644.4,1065.6 1644.8,1068.8 1645.2,1061.0 1645.6,1063.1 1646.0,1069.5 1646.4,1065.1 1646.8,1066.8 1647.2,1068.1 1647.6,1066.5 1648.0,1059.5 1648.3,1062.4 1648.7,1070.9 1649.1,1069.4 1649.5,1067.1 1649.9,1068.9 1650.3,1066.1 1650.7,1064.1 1651.1,1065.3 1651.5,1066.3 1651.9,1067.9 1652.3,1067.9 1652.7,1066.2 1653.1,1065.9 1653.5,1069.2 1653.9,1065.0 1654.3,1061.9 1654.7,1068.3 1655.1,1063.8 1655.5,1065.2 1655.9,1071.2 1656.3,1064.8 1656.7,1070.1 1657.0,1067.9 1657.4,1068.6 1657.8,1064.3 1658.2,1066.6 1658.6,1065.4 1659.0,1068.3 1659.4,1070.8 1659.8,1064.1 1660.2,1064.2 1660.6,1071.4 1661.0,1064.0 1661.4,1068.6 1661.8,1061.9 1662.2,1070.2 1662.6,1067.2 1663.0,1068.4 1663.4,1064.3 1663.8,1068.4 1664.2,1062.9 1664.6,1068.4 1665.0,1067.5 1665.4,1062.8 1665.7,1064.0 1666.1,1063.0 1666.5,1064.2 1666.9,1064.9 1667.3,1066.6 1667.7,1059.8 1668.1,1071.0 1668.5,1073.6 1668.9,1065.9 1669.3,1070.8 1669.7,1070.8 1670.1,1068.1 1670.5,1070.0 1670.9,1067.4 1671.3,1066.9 1671.7,1067.0 1672.1,1064.8 1672.5,1062.2 1672.9,1066.2 1673.3,1068.3 1673.7,1067.3 1674.1,1060.6 1674.5,1068.5 1674.8,1061.8 1675.2,1067.2 1675.6,1063.4 1676.0,1061.6 1676.4,1068.9 1676.8,1062.2 1677.2,1070.5 1677.6,1069.6 1678.0,1067.6 1678.4,1070.2 1678.8,1066.9 1679.2,1064.2 1679.6,1062.9 1680.0,1064.1 1680.4,1067.3 1680.8,1063.5 1681.2,1067.4 1681.6,1068.8 1682.0,1068.3 1682.4,1070.2 1682.8,1064.6 1683.2,1070.4 1683.5,1071.3 1683.9,1068.9 1684.3,1059.6 1684.7,1067.8 1685.1,1069.8 1685.5,1070.3 1685.9,1063.2 1686.3,1068.1 1686.7,1064.1 1687.1,1067.1 1687.5,1063.8 1687.9,1070.1 1688.3,1069.8 1688.7,1066.4 1689.1,1068.7 1689.5,1068.0 1689.9,1066.2 1690.3,1071.3 1690.7,1062.4 1691.1,1067.1 1691.5,1063.2 1691.9,1066.4 1692.2,1072.3 1692.6,1070.4 1693.0,1064.9 1693.4,1073.6 1693.8,1072.1 1694.2,1069.5 1694.6,1068.6 1695.0,1064.7 1695.4,1074.0 1695.8,1069.7 1696.2,1064.8 1696.6,1071.7 1697.0,1062.3 1697.4,1067.2 1697.8,1069.8 1698.2,1072.4 1698.6,1068.4 1699.0,1067.5 1699.4,1066.6 1699.8,1064.1 1700.2,1066.2 1700.6,1064.3 1701.0,1064.3 1701.3,1072.7 1701.7,1073.2 1702.1,1066.3 1702.5,1067.4 1702.9,1061.7 1703.3,1065.5 1703.7,1062.3 1704.1,1064.5 1704.5,1063.7 1704.9,1066.4 1705.3,1060.1 1705.7,1067.0 1706.1,1066.7 1706.5,1065.3 1706.9,1064.0 1707.3,1064.5 1707.7,1059.8 1708.1,1063.1 1708.5,1060.8 1708.9,1056.9 1709.3,1065.7 1709.7,1061.1 1710.0,1066.8 1710.4,1057.1 1710.8,1061.9 1711.2,1057.7 1711.6,1057.9 1712.0,1060.4 1712.4,1061.4 1712.8,1063.0 1713.2,1062.6 1713.6,1053.4 1714.0,1062.5 1714.4,1058.9 1714.8,1058.0 1715.2,1059.6 1715.6,1058.2 1716.0,1054.0 1716.4,1060.1 1716.8,1049.7 1717.2,1051.4 1717.6,1048.2 1718.0,1051.9 1718.4,1053.2 1718.8,1054.8 1719.1,1049.2 1719.5,1048.1 1719.9,1050.9 1720.3,1055.0 1720.7,1049.1 1721.1,1052.8 1721.5,1051.6 1721.9,1046.2 1722.3,1048.2 1722.7,1049.9 1723.1,1047.5 1723.5,1047.0 1723.9,1047.5 1724.3,1043.4 1724.7,1043.0 1725.1,1045.5 1725.5,1043.9 1725.9,1045.0 1726.3,1037.9 1726.7,1034.4 1727.1,1035.2 1727.5,1037.6 1727.8,1032.8 1728.2,1035.0 1728.6,1033.4 1729.0,1024.5 1729.4,1025.6 1729.8,1027.1 1730.2,1026.6 1730.6,1022.6 1731.0,1020.4 1731.4,1014.7 1731.8,1013.2 1732.2,1006.6 1732.6,1006.0 1733.0,999.4 1733.4,997.5 1733.8,991.0 1734.2,986.0 1734.6,980.3 1735.0,974.0 1735.4,967.2 1735.8,960.8 1736.2,948.5 1736.5,940.1 1736.9,929.0 1737.3,919.0 1737.7,905.7 1738.1,892.6 1738.5,881.6 1738.9,864.2 1739.3,851.5 1739.7,832.5 1740.1,817.0 1740.5,802.2 1740.9,790.6 1741.3,775.5 1741.7,764.8 1742.1,761.8 1742.5,758.7 1742.9,762.4 1743.3,767.0 1743.7,777.7 1744.1,788.8 1744.5,801.6 1744.9,817.8 1745.3,833.0 1745.6,852.0 1746.0,864.5 1746.4,880.1 1746.8,897.3 1747.2,908.7 1747.6,922.4 1748.0,934.0 1748.4,944.4 1748.8,955.3 1749.2,963.3 1749.6,970.9 1750.0,976.4 1750.4,983.2 1750.8,989.3 1751.2,994.6 1751.6,999.5 1752.0,1004.0 1752.4,1011.2 1752.8,1015.8 1753.2,1018.0 1753.6,1018.2 1754.0,1023.7 1754.3,1024.7 1754.7,1030.0 1755.1,1028.2 1755.5,1034.7 1755.9,1039.0 1756.3,1035.0 1756.7,1037.0 1757.1,1041.0 1757.5,1039.2 1757.9,1042.0 1758.3,1047.1 1758.7,1047.2 1759.1,1049.4 1759.5,1051.4 1759.9,1053.7 1760.3,1048.9 1760.7,1050.9 1761.1,1057.2 1761.5,1053.4 1761.9,1054.3 1762.3,1056.3 1762.7,1057.2 1763.0,1051.4 1763.4,1056.4 1763.8,1057.0 1764.2,1061.3 1764.6,1057.9 1765.0,1054.7 1765.4,1060.4 1765.8,1061.2 1766.2,1062.1 1766.6,1058.5 1767.0,1063.2 1767.4,1060.3 1767.8,1061.0 1768.2,1063.6 1768.6,1064.1 1769.0,1063.3 1769.4,1064.4 1769.8,1063.5 1770.2,1063.7 1770.6,1063.8 1771.0,1066.5 1771.4,1060.8 1771.8,1063.4 1772.1,1068.0 1772.5,1069.1 1772.9,1073.9 1773.3,1065.8 1773.7,1069.0 1774.1,1069.5 1774.5,1068.8 1774.9,1062.5 1775.3,1063.6 1775.7,1063.8 1776.1,1069.3 1776.5,1062.5 1776.9,1067.8 1777.3,1070.0 1777.7,1067.2 1778.1,1065.2 1778.5,1064.6 1778.9,1064.5 1779.3,1068.2 1779.7,1067.6 1780.1,1066.9 1780.5,1068.1 1780.8,1070.0 1781.2,1068.1 1781.6,1065.0 1782.0,1063.4 1782.4,1068.6 1782.8,1071.1 1783.2,1065.3 1783.6,1063.6 1784.0,1064.1 1784.4,1067.0 1784.8,1064.4 1785.2,1068.3 1785.6,1066.1 1786.0,1064.6 1786.4,1071.2 1786.8,1067.1 1787.2,1069.8 1787.6,1061.8 1788.0,1064.7 1788.4,1070.1 1788.8,1070.4 1789.2,1063.0 1789.6,1068.6 1789.9,1069.1 1790.3,1066.7 1790.7,1071.1 1791.1,1067.0 1791.5,1066.0 1791.9,1066.7 1792.3,1066.6 1792.7,1071.3 1793.1,1069.1 1793.5,1068.9 1793.9,1066.9 1794.3,1066.6 1794.7,1062.9 1795.1,1066.3 1795.5,1065.1 1795.9,1068.7 1796.3,1066.2 1796.7,1069.0 1797.1,1067.5 1797.5,1067.4 1797.9,1070.0 1798.3,1072.4 1798.6,1063.6 1799.0,1065.8 1799.4,1065.9 1799.8,1071.8 1800.2,1067.7 1800.6,1065.0 1801.0,1064.2 1801.4,1067.8 1801.8,1067.2 1802.2,1070.1 1802.6,1067.1 1803.0,1072.4 1803.4,1066.8 1803.8,1063.8 1804.2,1071.9 1804.6,1064.1 1805.0,1069.6 1805.4,1066.8 1805.8,1073.5 1806.2,1068.1 1806.6,1073.4 1807.0,1064.9 1807.3,1065.7 1807.7,1071.2 1808.1,1066.5 1808.5,1064.9 1808.9,1070.8 1809.3,1070.7 1809.7,1072.2 1810.1,1065.7 1810.5,1066.1 1810.9,1064.1 1811.3,1067.3 1811.7,1071.4 1812.1,1070.6 1812.5,1073.5 1812.9,1071.5 1813.3,1065.3 1813.7,1065.8 1814.1,1071.9 1814.5,1068.1 1814.9,1070.2 1815.3,1070.4 1815.7,1066.3 1816.1,1067.1 1816.4,1070.1 1816.8,1068.5 1817.2,1067.9 1817.6,1068.6 1818.0,1068.5 1818.4,1067.9 1818.8,1068.6 1819.2,1065.2 1819.6,1072.5 1820.0,1067.3 1820.4,1067.2 1820.8,1066.5 1821.2,1069.6 1821.6,1073.1 1822.0,1072.3 1822.4,1068.9 1822.8,1066.5 1823.2,1070.4 1823.6,1069.7 1824.0,1065.5 1824.4,1066.4 1824.8,1071.1 1825.1,1066.2 1825.5,1074.2 1825.9,1071.8 1826.3,1069.8 1826.7,1067.2 1827.1,1070.1 1827.5,1065.8 1827.9,1066.4 1828.3,1072.4 1828.7,1073.7 1829.1,1073.5 1829.5,1073.9 1829.9,1073.0 1830.3,1070.2 1830.7,1066.5 1831.1,1071.0 1831.5,1069.4 1831.9,1066.5 1832.3,1069.5 1832.7,1066.6 1833.1,1071.9 1833.5,1067.7 1833.8,1075.3 1834.2,1071.3 1834.6,1067.6 1835.0,1072.3 1835.4,1076.3 1835.8,1075.2 1836.2,1070.3 1836.6,1065.9 1837.0,1066.5 1837.4,1070.9 1837.8,1072.7 1838.2,1068.6 1838.6,1066.3 1839.0,1073.3 1839.4,1070.9 1839.8,1070.2 1840.2,1076.0 1840.6,1067.8 1841.0,1070.2 1841.4,1074.2 1841.8,1071.0 1842.2,1070.9 1842.6,1073.5 1842.9,1072.9 1843.3,1067.5 1843.7,1065.5 1844.1,1074.8 1844.5,1070.3 1844.9,1071.1 1845.3,1067.0 1845.7,1067.9 1846.1,1063.2 1846.5,1068.2 1846.9,1066.4 1847.3,1068.3 1847.7,1067.5 1848.1,1066.6 1848.5,1064.3 1848.9,1071.9 1849.3,1065.0 1849.7,1069.9 1850.1,1074.0 1850.5,1070.2 1850.9,1076.3 1851.3,1067.9 1851.6,1071.5 1852.0,1076.8 1852.4,1071.3 1852.8,1065.8 1853.2,1067.4 1853.6,1074.9 1854.0,1071.1 1854.4,1071.5 1854.8,1070.1 1855.2,1074.3 1855.6,1069.6 1856.0,1072.3 1856.4,1067.5 1856.8,1067.1 1857.2,1069.0 1857.6,1067.0 1858.0,1065.7 1858.4,1068.7 1858.8,1070.9 1859.2,1068.1 1859.6,1069.4 1860.0,1071.6 1860.3,1063.5 1860.7,1072.5 1861.1,1066.1 1861.5,1070.1 1861.9,1070.7 1862.3,1074.2 1862.7,1069.7 1863.1,1066.4 1863.5,1072.9 1863.9,1076.5 1864.3,1072.7 1864.7,1068.5 1865.1,1072.1 1865.5,1066.0 1865.9,1070.2 1866.3,1061.9 1866.7,1064.2 1867.1,1070.4 1867.5,1069.2 1867.9,1067.4 1868.3,1061.4 1868.7,1067.1 1869.1,1069.4 1869.4,1069.8 1869.8,1065.3 1870.2,1070.0 1870.6,1070.8 1871.0,1070.3 1871.4,1069.4 1871.8,1073.3 1872.2,1072.0 1872.6,1065.6 1873.0,1066.6 1873.4,1070.0 1873.8,1066.7 1874.2,1068.0 1874.6,1067.8 1875.0,1065.0 1875.4,1069.5 1875.8,1061.6 1876.2,1067.2 1876.6,1064.8 1877.0,1069.5 1877.4,1070.6 1877.8,1068.0 1878.1,1063.5 1878.5,1068.9 1878.9,1070.5 1879.3,1071.1 1879.7,1066.6 1880.1,1069.1 1880.5,1070.2 1880.9,1066.5 1881.3,1067.2 1881.7,1070.0 1882.1,1070.7 1882.5,1072.4 1882.9,1062.2 1883.3,1060.4 1883.7,1068.3 1884.1,1066.3 1884.5,1072.5 1884.9,1067.7 1885.3,1071.5 1885.7,1062.1 1886.1,1065.1 1886.5,1064.1 1886.9,1070.1 1887.2,1071.3 1887.6,1065.3 1888.0,1071.4 1888.4,1066.4 1888.8,1065.7 1889.2,1065.4 1889.6,1070.2 1890.0,1070.1 1890.4,1069.8 1890.8,1068.7 1891.2,1063.3 1891.6,1071.6 1892.0,1068.2 1892.4,1065.3 1892.8,1071.1 1893.2,1069.8 1893.6,1072.7 1894.0,1071.6 1894.4,1071.3 1894.8,1066.4 1895.2,1072.7 1895.6,1071.8 1895.9,1065.2 1896.3,1068.9 1896.7,1065.5 1897.1,1071.9 1897.5,1072.2 1897.9,1068.6 1898.3,1072.1 1898.7,1066.2 1899.1,1072.6 1899.5,1064.5 1899.9,1067.8 1900.3,1066.9 1900.7,1065.2 1901.1,1073.6 1901.5,1067.6 1901.9,1072.8 1902.3,1069.0 1902.7,1068.6 1903.1,1068.2 1903.5,1072.4 1903.9,1070.3 1904.3,1068.5 1904.6,1066.5 1905.0,1072.5 1905.4,1071.0 1905.8,1067.5 1906.2,1066.8 1906.6,1062.3 1907.0,1070.0 1907.4,1071.5 1907.8,1067.7 1908.2,1071.1 1908.6,1064.8 1909.0,1071.0"/>
<polygon fill="#00b050" stroke="none" points="228.0,959.1 251.3,960.4 274.7,955.9 298.0,958.4 344.7,958.6 368.0,961.9 391.4,957.8 414.7,954.6 438.0,958.9 461.4,961.4 484.7,958.7 516.3,959.3 525.8,958.7 531.8,957.4 536.1,954.5 538.5,951.6 539.7,947.9 540.9,939.9 542.8,907.0 545.6,819.4 546.4,806.1 546.8,806.0 550.8,913.6 551.9,932.4 553.5,943.6 555.1,946.9 556.3,947.6 557.9,947.5 560.2,945.0 561.8,940.3 564.6,921.9 568.9,874.2 569.7,869.6 570.5,868.7 572.1,878.2 576.5,927.8 578.8,943.7 580.4,949.1 582.4,952.5 585.2,954.5 589.1,955.8 596.6,956.6 624.7,957.3 648.4,961.9 671.4,959.9 690.0,959.3 699.9,958.2 702.2,957.3 703.4,955.9 704.2,951.1 705.4,930.3 705.8,929.9 707.4,950.7 707.8,951.2 708.2,950.8 709.0,949.0 710.5,942.4 712.5,926.1 715.7,882.1 716.9,872.7 717.3,872.7 718.1,877.9 722.0,930.6 724.4,946.7 726.4,952.6 728.7,956.0 732.3,958.5 737.4,959.9 750.1,961.4 764.7,962.2 788.5,960.1 811.8,963.1 835.1,964.5 858.5,959.8 867.2,961.5 870.7,961.5 873.1,960.7 877.5,957.5 879.0,957.0 880.6,957.6 886.6,962.8 890.9,963.9 928.5,962.9 975.2,964.2 1019.5,962.9 1025.8,961.6 1033.7,958.2 1039.2,954.8 1054.3,943.4 1058.2,941.4 1061.8,940.8 1064.9,941.3 1068.5,942.9 1080.8,952.5 1087.9,956.8 1094.2,959.0 1103.3,960.4 1115.2,961.2 1138.5,959.7 1161.8,965.1 1185.2,961.4 1208.5,961.9 1231.9,966.5 1255.2,960.9 1269.4,961.8 1278.5,961.3 1282.9,958.7 1286.4,955.7 1289.2,952.4 1291.6,948.4 1295.1,938.5 1297.9,921.6 1299.5,903.4 1301.1,874.2 1305.4,731.9 1306.6,714.7 1307.8,732.3 1312.1,875.7 1313.7,904.9 1315.3,923.1 1317.7,938.1 1321.2,948.8 1323.6,953.0 1326.0,955.8 1329.5,958.5 1333.5,960.5 1339.8,962.6 1348.5,964.3 1371.9,958.0 1395.2,962.9 1418.5,960.0 1441.9,963.0 1454.9,958.3 1465.2,954.0 1472.3,955.2 1477.1,954.3 1479.9,952.3 1482.2,949.1 1486.6,938.8 1489.3,928.3 1497.6,884.8 1500.0,877.2 1501.2,875.4 1502.0,875.2 1504.0,877.6 1506.0,883.7 1514.7,924.4 1519.4,941.0 1522.2,947.2 1524.9,951.4 1528.5,954.7 1532.9,956.9 1540.8,959.1 1552.6,961.1 1581.9,964.0 1649.9,962.8 1675.6,961.4 1688.7,957.3 1699.0,953.2 1707.3,951.8 1712.8,949.2 1716.8,945.3 1720.3,938.9 1723.1,930.3 1725.5,918.9 1727.8,903.0 1734.6,841.7 1735.8,835.1 1736.9,832.8 1738.1,835.3 1739.3,842.0 1745.6,900.8 1749.6,926.0 1752.0,935.3 1754.7,942.6 1757.9,947.7 1761.5,951.2 1765.8,953.7 1774.9,957.1 1792.3,960.9 1815.7,960.6 1839.0,961.1 1862.3,956.0 1885.7,967.9 1909.0,961.3 1909.0,971.7 1885.7,978.3 1862.3,966.4 1839.0,971.5 1815.7,970.9 1792.3,971.0 1782.8,969.2 1775.3,967.0 1766.2,963.1 1762.3,960.6 1758.3,956.3 1755.1,950.6 1752.4,942.6 1750.0,932.4 1745.6,902.9 1739.3,842.0 1738.1,835.3 1736.9,832.8 1735.8,835.1 1734.6,841.8 1727.5,908.5 1725.1,925.0 1722.7,937.2 1719.9,946.6 1716.4,953.8 1712.0,958.5 1706.5,961.4 1699.0,963.0 1688.7,967.3 1675.6,971.5 1648.3,973.1 1581.9,974.3 1552.2,971.3 1540.8,969.1 1532.9,966.6 1528.5,964.1 1525.3,960.8 1522.6,956.3 1519.8,949.5 1515.1,931.2 1506.0,884.3 1504.0,877.8 1502.0,875.2 1501.2,875.4 1500.0,877.2 1497.6,885.3 1488.9,934.8 1486.2,946.1 1481.8,957.7 1479.5,961.3 1476.7,963.6 1471.9,964.9 1465.2,964.0 1454.9,968.5 1441.9,973.3 1418.5,970.4 1395.2,973.2 1371.9,968.3 1348.5,974.4 1340.6,972.7 1334.7,970.8 1330.3,968.5 1326.8,965.6 1324.0,962.1 1321.6,957.5 1318.1,945.6 1315.3,926.9 1313.7,907.8 1312.1,877.6 1307.8,732.4 1306.6,714.7 1305.4,732.0 1301.1,876.1 1299.5,906.3 1297.9,925.5 1295.1,944.3 1291.6,956.3 1289.2,961.0 1286.4,964.8 1282.9,968.2 1278.5,971.0 1269.4,971.9 1255.2,971.2 1231.9,976.9 1208.5,972.3 1185.2,971.8 1161.8,975.5 1138.5,970.1 1115.2,971.6 1103.7,970.8 1094.2,969.2 1087.9,966.7 1080.8,961.9 1068.5,951.1 1064.9,949.2 1061.8,948.6 1058.2,949.3 1054.3,951.5 1039.6,964.1 1033.7,968.2 1025.8,971.8 1019.5,973.3 975.2,974.7 928.5,973.4 891.7,974.3 887.0,973.1 880.6,967.3 879.0,966.6 877.5,967.2 872.7,970.9 870.3,971.8 866.4,971.7 858.5,970.3 835.1,975.0 811.8,973.5 788.5,970.6 764.7,973.2 749.7,972.7 737.8,971.5 732.7,969.9 729.1,967.1 726.8,963.0 724.8,956.3 722.0,936.1 718.1,881.0 717.3,875.8 716.9,875.7 715.7,885.4 712.5,931.3 710.5,948.9 708.6,958.4 707.8,960.3 707.4,960.0 705.8,940.2 705.4,940.7 703.8,965.4 703.0,967.8 701.8,968.9 697.9,971.0 690.4,972.5 671.4,973.9 648.4,976.7 624.7,972.9 597.8,972.8 590.3,972.1 586.0,970.5 583.2,968.0 580.8,963.1 579.2,956.7 576.9,939.5 572.1,881.3 570.5,871.2 569.7,872.1 568.9,877.0 564.6,929.0 561.8,950.9 559.8,958.4 557.9,961.1 556.7,961.0 555.9,960.2 553.9,955.4 552.3,945.1 550.8,920.4 546.8,809.8 546.4,810.0 545.6,823.5 542.8,913.7 540.9,949.4 539.7,959.1 537.7,967.0 535.3,971.7 531.4,975.3 526.6,976.9 519.5,978.0 508.0,978.7 484.7,978.9 461.4,982.5 438.0,980.5 414.7,976.2 391.4,979.4 368.0,983.5 344.7,980.2 298.0,979.9 274.7,977.5 251.3,982.0 228.0,980.7"/>
<polyline stroke="#00b050" stroke-width="3.4" points="228.0,957.9 228.4,981.9 228.8,983.7 229.2,965.2 229.6,967.4 230.0,979.7 230.4,978.3 230.8,972.4 231.2,965.6 231.6,968.3 232.0,952.1 232.4,948.9 232.7,973.8 233.1,962.9 233.5,977.2 233.9,971.2 234.3,958.6 234.7,968.9 235.1,966.3 235.5,979.6 235.9,953.1 236.3,977.6 236.7,974.4 237.1,968.3 237.5,961.3 237.9,978.3 238.3,974.6 238.7,969.7 239.1,975.9 239.5,971.4 239.9,969.0 240.3,974.6 240.7,968.1 241.1,985.4 241.4,976.2 241.8,961.8 242.2,951.2 242.6,969.3 243.0,959.5 243.4,975.9 243.8,977.0 244.2,961.0 244.6,972.7 245.0,967.6 245.4,961.7 245.8,969.8 246.2,969.9 246.6,955.7 247.0,966.6 247.4,962.9 247.8,972.4 248.2,974.5 248.6,970.6 249.0,982.9 249.4,988.4 249.8,967.3 250.1,977.9 250.5,961.8 250.9,972.2 251.3,979.3 251.7,968.6 252.1,964.6 252.5,962.1 252.9,977.2 253.3,964.4 253.7,973.8 254.1,980.4 254.5,979.2 254.9,961.7 255.3,972.0 255.7,963.7 256.1,975.5 256.5,962.8 256.9,972.2 257.3,969.6 257.7,963.4 258.1,984.1 258.5,966.1 258.9,973.6 259.2,973.3 259.6,978.4 260.0,966.7 260.4,981.8 260.8,968.9 261.2,978.1 261.6,977.4 262.0,978.8 262.4,969.5 262.8,959.6 263.2,957.1 263.6,962.4 264.0,974.3 264.4,956.0 264.8,972.6 265.2,973.8 265.6,975.2 266.0,960.0 266.4,968.5 266.8,962.1 267.2,962.1 267.6,968.2 267.9,974.0 268.3,959.6 268.7,986.8 269.1,967.5 269.5,963.2 269.9,975.5 270.3,983.6 270.7,971.7 271.1,965.7 271.5,960.7 271.9,982.7 272.3,970.4 272.7,963.1 273.1,958.8 273.5,957.4 273.9,977.1 274.3,964.1 274.7,971.9 275.1,963.6 275.5,961.1 275.9,984.6 276.3,975.2 276.7,957.4 277.0,960.5 277.4,974.1 277.8,962.3 278.2,971.8 278.6,962.5 279.0,966.7 279.4,975.4 279.8,965.7 280.2,962.1 280.6,968.1 281.0,953.8 281.4,962.6 281.8,966.2 282.2,962.3 282.6,966.2 283.0,964.0 283.4,971.3 283.8,970.4 284.2,967.8 284.6,963.8 285.0,958.2 285.4,976.7 285.7,975.0 286.1,975.2 286.5,972.0 286.9,975.2 287.3,973.1 287.7,970.7 288.1,981.8 288.5,964.1 288.9,960.9 289.3,966.4 289.7,961.1 290.1,959.5 290.5,969.0 290.9,975.5 291.3,971.6 291.7,955.5 292.1,975.0 292.5,971.6 292.9,971.6 293.3,963.0 293.7,976.1 294.1,979.6 294.4,954.6 294.8,964.0 295.2,961.9 295.6,970.5 296.0,980.1 296.4,966.6 296.8,962.0 297.2,971.5 297.6,968.8 298.0,967.9 298.4,968.7 298.8,972.6 299.2,978.9 299.6,956.2 300.0,966.4 300.4,965.9 300.8,972.0 301.2,955.9 301.6,961.8 302.0,982.1 302.4,969.9 302.8,982.0 303.2,960.4 303.5,956.8 303.9,962.1 304.3,960.9 304.7,973.7 305.1,971.8 305.5,968.2 305.9,966.5 306.3,965.4 306.7,961.8 307.1,966.5 307.5,985.1 307.9,976.5 308.3,972.2 308.7,969.9 309.1,974.3 309.5,971.2 309.9,980.1 310.3,973.9 310.7,968.9 311.1,957.9 311.5,966.2 311.9,972.4 312.2,959.3 312.6,974.0 313.0,984.2 313.4,955.8 313.8,979.7 314.2,955.8 314.6,964.3 315.0,962.2 315.4,957.2 315.8,980.2 316.2,956.0 316.6,966.2 317.0,963.6 317.4,962.7 317.8,967.8 318.2,974.7 318.6,964.4 319.0,979.7 319.4,963.6 319.8,965.5 320.2,975.8 320.6,972.4 320.9,977.1 321.3,969.0 321.7,968.2 322.1,962.3 322.5,957.5 322.9,970.8 323.3,980.0 323.7,968.5 324.1,952.4 324.5,974.9 324.9,955.6 325.3,964.5 325.7,974.1 326.1,965.1 326.5,973.5 326.9,972.9 327.3,967.1 327.7,976.5 328.1,965.9 328.5,958.3 328.9,983.5 329.3,974.1 329.7,965.3 330.0,972.7 330.4,965.0 330.8,970.1 331.2,965.2 331.6,959.4 332.0,975.4 332.4,978.3 332.8,978.8 333.2,967.7 333.6,973.1 334.0,980.6 334.4,981.4 334.8,974.3 335.2,959.4 335.6,967.1 336.0,983.7 336.4,985.4 336.8,966.8 337.2,959.1 337.6,960.5 338.0,984.9 338.4,972.9 338.7,966.9 339.1,973.2 339.5,972.3 339.9,970.6 340.3,963.4 340.7,964.9 341.1,959.3 341.5,960.9 341.9,973.9 342.3,968.7 342.7,983.6 343.1,960.3 343.5,957.0 343.9,958.8 344.3,975.1 344.7,974.8 345.1,977.7 345.5,982.0 345.9,969.2 346.3,957.7 346.7,971.2 347.1,961.4 347.4,969.1 347.8,973.6 348.2,971.7 348.6,975.7 349.0,963.7 349.4,967.9 349.8,975.4 350.2,977.0 350.6,979.7 351.0,966.1 351.4,978.9 351.8,974.1 352.2,976.1 352.6,971.1 353.0,987.9 353.4,968.0 353.8,961.0 354.2,982.2 354.6,963.4 355.0,967.0 355.4,968.4 355.8,972.9 356.2,972.3 356.5,978.3 356.9,962.9 357.3,976.2 357.7,977.9 358.1,980.6 358.5,978.7 358.9,988.5 359.3,955.6 359.7,978.0 360.1,980.9 360.5,968.9 360.9,969.6 361.3,963.8 361.7,962.1 362.1,968.2 362.5,965.1 362.9,963.2 363.3,975.1 363.7,983.6 364.1,981.9 364.5,969.6 364.9,968.7 365.2,964.7 365.6,973.3 366.0,980.6 366.4,981.3 366.8,968.2 367.2,964.7 367.6,966.7 368.0,969.1 368.4,991.2 368.8,962.0 369.2,976.5 369.6,973.6 370.0,982.3 370.4,973.0 370.8,979.5 371.2,966.5 371.6,970.6 372.0,967.8 372.4,966.0 372.8,983.3 373.2,980.5 373.6,976.9 374.0,972.4 374.3,983.5 374.7,972.5 375.1,977.0 375.5,978.8 375.9,981.7 376.3,973.5 376.7,972.9 377.1,975.4 377.5,976.0 377.9,959.1 378.3,961.8 378.7,972.2 379.1,989.5 379.5,983.2 379.9,972.1 380.3,983.9 380.7,971.0 381.1,957.0 381.5,966.0 381.9,972.9 382.3,971.9 382.7,971.3 383.0,962.7 383.4,964.4 383.8,982.9 384.2,971.3 384.6,966.0 385.0,967.8 385.4,973.0 385.8,966.3 386.2,970.7 386.6,960.3 387.0,967.7 387.4,970.1 387.8,956.0 388.2,970.5 388.6,953.5 389.0,981.1 389.4,972.9 389.8,977.8 390.2,965.3 390.6,986.7 391.0,975.2 391.4,964.7 391.7,957.7 392.1,969.0 392.5,974.6 392.9,977.0 393.3,976.6 393.7,966.5 394.1,970.2 394.5,971.5 394.9,976.8 395.3,973.8 395.7,969.6 396.1,958.9 396.5,979.3 396.9,964.5 397.3,951.0 397.7,974.5 398.1,962.2 398.5,975.0 398.9,969.0 399.3,968.5 399.7,972.8 400.1,970.0 400.5,975.4 400.8,978.2 401.2,971.4 401.6,968.2 402.0,965.0 402.4,974.8 402.8,969.9 403.2,962.9 403.6,971.6 404.0,982.6 404.4,978.6 404.8,953.2 405.2,955.5 405.6,963.2 406.0,972.4 406.4,971.2 406.8,962.3 407.2,963.1 407.6,977.3 408.0,965.4 408.4,964.0 408.8,977.2 409.2,965.6 409.5,975.9 409.9,959.7 410.3,983.7 410.7,971.8 411.1,962.0 411.5,952.0 411.9,973.7 412.3,955.2 412.7,971.3 413.1,965.8 413.5,969.0 413.9,963.0 414.3,969.6 414.7,959.1 415.1,962.2 415.5,980.9 415.9,956.7 416.3,965.8 416.7,975.5 417.1,960.6 417.5,964.5 417.9,954.2 418.2,963.1 418.6,959.6 419.0,973.5 419.4,973.0 419.8,964.9 420.2,968.9 420.6,959.5 421.0,968.5 421.4,973.0 421.8,975.6 422.2,966.3 422.6,968.9 423.0,974.1 423.4,978.5 423.8,973.4 424.2,973.5 424.6,980.1 425.0,963.1 425.4,968.8 425.8,963.5 426.2,971.1 426.6,970.2 427.0,965.6 427.3,975.9 427.7,961.7 428.1,959.0 428.5,967.6 428.9,972.7 429.3,970.0 429.7,969.8 430.1,972.6 430.5,966.6 430.9,961.1 431.3,960.2 431.7,958.6 432.1,971.7 432.5,965.2 432.9,961.7 433.3,967.8 433.7,968.0 434.1,970.4 434.5,977.2 434.9,980.0 435.3,973.6 435.7,980.8 436.0,981.5 436.4,971.5 436.8,976.2 437.2,971.8 437.6,978.1 438.0,962.3 438.4,964.9 438.8,966.8 439.2,958.9 439.6,982.9 440.0,976.5 440.4,965.6 440.8,966.9 441.2,976.1 441.6,983.2 442.0,970.0 442.4,977.3 442.8,963.7 443.2,971.7 443.6,974.3 444.0,982.1 444.4,968.1 444.8,979.0 445.1,979.0 445.5,973.8 445.9,969.8 446.3,970.1 446.7,965.1 447.1,974.8 447.5,958.0 447.9,961.7 448.3,959.7 448.7,978.3 449.1,982.8 449.5,970.0 449.9,960.0 450.3,975.3 450.7,982.3 451.1,979.5 451.5,981.6 451.9,963.5 452.3,973.3 452.7,948.3 453.1,987.3 453.5,975.6 453.8,985.6 454.2,951.4 454.6,964.6 455.0,969.9 455.4,956.9 455.8,967.7 456.2,968.6 456.6,973.3 457.0,959.2 457.4,986.1 457.8,975.8 458.2,975.4 458.6,975.3 459.0,961.8 459.4,985.6 459.8,958.0 460.2,984.8 460.6,978.7 461.0,963.5 461.4,966.0 461.8,977.4 462.2,979.1 462.5,965.9 462.9,968.3 463.3,975.2 463.7,973.8 464.1,975.4 464.5,964.7 464.9,977.8 465.3,972.9 465.7,965.7 466.1,963.6 466.5,962.1 466.9,972.9 467.3,963.3 467.7,974.3 468.1,962.8 468.5,955.9 468.9,963.6 469.3,984.6 469.7,963.9 470.1,963.6 470.5,963.1 470.9,975.6 471.3,967.0 471.6,983.0 472.0,961.8 472.4,973.8 472.8,972.0 473.2,960.5 473.6,976.1 474.0,966.5 474.4,962.1 474.8,959.5 475.2,963.8 475.6,979.6 476.0,972.2 476.4,962.3 476.8,971.7 477.2,970.8 477.6,958.2 478.0,961.6 478.4,978.1 478.8,967.8 479.2,960.6 479.6,969.4 480.0,973.7 480.3,966.9 480.7,967.2 481.1,974.0 481.5,965.9 481.9,972.3 482.3,953.6 482.7,975.3 483.1,969.6 483.5,979.0 483.9,963.0 484.3,971.9 484.7,979.0 485.1,957.3 485.5,964.5 485.9,976.2 486.3,960.0 486.7,969.5 487.1,981.2 487.5,961.8 487.9,965.8 488.3,970.4 488.7,968.2 489.0,973.6 489.4,969.2 489.8,961.7 490.2,957.5 490.6,956.4 491.0,968.3 491.4,966.4 491.8,956.4 492.2,959.5 492.6,979.2 493.0,975.1 493.4,969.6 493.8,959.3 494.2,959.4 494.6,977.1 495.0,959.7 495.4,972.8 495.8,980.5 496.2,981.5 496.6,968.9 497.0,980.1 497.4,982.9 497.8,964.0 498.1,964.0 498.5,971.9 498.9,972.8 499.3,964.6 499.7,969.9 500.1,975.3 500.5,967.5 500.9,969.6 501.3,970.6 501.7,957.2 502.1,981.0 502.5,967.6 502.9,981.9 503.3,974.4 503.7,973.6 504.1,969.5 504.5,975.0 504.9,969.0 505.3,973.7 505.7,961.4 506.1,967.8 506.5,975.1 506.8,960.4 507.2,972.6 507.6,970.6 508.0,976.5 508.4,976.8 508.8,964.0 509.2,976.0 509.6,964.2 510.0,952.1 510.4,975.3 510.8,975.0 511.2,973.2 511.6,963.5 512.0,962.2 512.4,970.0 512.8,971.7 513.2,958.9 513.6,967.0 514.0,950.0 514.4,975.0 514.8,976.3 515.2,964.2 515.5,969.8 515.9,965.1 516.3,980.0 516.7,975.7 517.1,981.0 517.5,971.1 517.9,980.1 518.3,972.9 518.7,961.5 519.1,978.9 519.5,971.6 519.9,953.0 520.3,977.0 520.7,964.2 521.1,966.0 521.5,963.7 521.9,967.1 522.3,972.2 522.7,975.3 523.1,967.0 523.5,969.5 523.9,968.4 524.3,971.7 524.6,970.0 525.0,973.5 525.4,972.6 525.8,976.8 526.2,977.3 526.6,960.3 527.0,957.6 527.4,958.1 527.8,981.6 528.2,965.1 528.6,968.8 529.0,971.4 529.4,977.0 529.8,960.5 530.2,979.8 530.6,968.0 531.0,954.9 531.4,968.9 531.8,960.6 532.2,961.9 532.6,976.0 533.0,976.0 533.3,961.4 533.7,969.5 534.1,961.2 534.5,976.1 534.9,962.5 535.3,961.9 535.7,961.1 536.1,963.0 536.5,953.9 536.9,954.9 537.3,954.7 537.7,947.4 538.1,963.9 538.5,956.6 538.9,949.4 539.3,947.4 539.7,949.8 540.1,948.7 540.5,950.6 540.9,949.4 541.3,938.1 541.7,935.5 542.1,938.4 542.4,920.7 542.8,914.9 543.2,901.2 543.6,889.2 544.0,872.6 544.4,859.2 544.8,845.3 545.2,833.7 545.6,823.9 546.0,816.4 546.4,809.7 546.8,806.2 547.2,808.2 547.6,823.4 548.0,831.6 548.4,843.6 548.8,858.0 549.2,873.0 549.6,887.7 550.0,894.6 550.4,903.5 550.8,911.3 551.1,930.4 551.5,937.1 551.9,942.2 552.3,949.1 552.7,945.2 553.1,946.5 553.5,942.3 553.9,946.8 554.3,947.4 554.7,945.7 555.1,943.5 555.5,945.7 555.9,950.2 556.3,952.3 556.7,956.6 557.1,960.3 557.5,950.6 557.9,959.7 558.3,965.0 558.7,947.7 559.1,945.4 559.5,948.0 559.8,957.2 560.2,952.1 560.6,960.0 561.0,956.0 561.4,939.2 561.8,939.6 562.2,946.0 562.6,942.4 563.0,944.8 563.4,940.8 563.8,928.8 564.2,928.1 564.6,926.8 565.0,925.8 565.4,929.8 565.8,909.5 566.2,907.5 566.6,900.5 567.0,899.9 567.4,895.1 567.8,883.0 568.2,882.5 568.6,881.3 568.9,880.3 569.3,872.4 569.7,865.5 570.1,874.0 570.5,873.6 570.9,869.2 571.3,877.9 571.7,872.8 572.1,877.2 572.5,883.1 572.9,892.5 573.3,893.5 573.7,902.3 574.1,906.2 574.5,912.9 574.9,916.3 575.3,922.0 575.7,920.5 576.1,927.2 576.5,931.1 576.9,932.2 577.3,934.9 577.6,941.2 578.0,951.8 578.4,952.9 578.8,953.0 579.2,942.9 579.6,947.6 580.0,960.8 580.4,966.8 580.8,957.7 581.2,954.8 581.6,965.2 582.0,954.4 582.4,963.6 582.8,952.4 583.2,957.9 583.6,955.1 584.0,956.7 584.4,967.5 584.8,970.6 585.2,954.0 585.6,956.8 586.0,957.9 586.3,967.6 586.7,957.1 587.1,966.2 587.5,956.7 587.9,968.7 588.3,958.9 588.7,972.1 589.1,965.8 589.5,965.1 589.9,965.5 590.3,969.4 590.7,969.0 591.1,961.2 591.5,961.3 591.9,972.5 592.3,958.8 592.7,965.3 593.1,957.4 593.5,955.4 593.9,970.1 594.3,963.2 594.7,958.9 595.1,974.5 595.4,956.9 595.8,974.4 596.2,964.5 596.6,971.3 597.0,970.1 597.4,967.4 597.8,968.8 598.2,968.6 598.6,970.7 599.0,969.1 599.4,969.9 599.8,964.5 600.2,964.2 600.6,958.8 601.0,967.1 601.4,966.7 601.8,958.3 602.2,962.3 602.6,961.8 603.0,960.5 603.4,975.3 603.8,975.1 604.1,968.0 604.5,958.3 604.9,960.2 605.3,958.4 605.7,967.6 606.1,961.3 606.5,960.6 606.9,962.8 607.3,958.6 607.7,957.2 608.1,971.3 608.5,976.0 608.9,958.7 609.3,960.9 609.7,964.4 610.1,960.1 610.5,956.7 610.9,974.3 611.3,961.9 611.7,961.3 612.1,960.1 612.5,969.6 612.9,958.9 613.2,965.0 613.6,956.9 614.0,954.0 614.4,968.1 614.8,972.7 615.2,964.8 615.6,968.0 616.0,973.4 616.4,973.9 616.8,955.1 617.2,958.3 617.6,968.4 618.0,967.2 618.4,960.5 618.8,964.2 619.2,976.7 619.6,967.3 620.0,967.7 620.4,969.3 620.8,961.6 621.2,963.9 621.6,972.1 621.9,967.0 622.3,960.5 622.7,964.5 623.1,971.3 623.5,962.9 623.9,974.9 624.3,968.1 624.7,959.9 625.1,960.5 625.5,954.2 625.9,971.1 626.3,961.3 626.7,969.3 627.1,961.7 627.5,964.4 627.9,956.9 628.3,961.8 628.7,973.8 629.1,970.4 629.5,963.1 629.9,966.8 630.3,965.7 630.6,965.4 631.0,970.7 631.4,965.2 631.8,965.1 632.2,960.0 632.6,964.1 633.0,953.8 633.4,973.0 633.8,972.1 634.2,968.7 634.6,975.6 635.0,969.3 635.4,971.7 635.8,968.1 636.2,969.4 636.6,969.5 637.0,966.8 637.4,965.4 637.8,968.2 638.2,980.9 638.6,961.3 639.0,971.4 639.4,961.4 639.7,964.7 640.1,972.5 640.5,963.9 640.9,969.7 641.3,964.1 641.7,964.6 642.1,968.8 642.5,965.9 642.9,968.9 643.3,974.4 643.7,967.7 644.1,965.3 644.5,971.7 644.9,962.3 645.3,961.9 645.7,958.0 646.1,966.1 646.5,968.9 646.9,963.9 647.3,967.2 647.7,970.4 648.1,965.2 648.4,955.1 648.8,975.4 649.2,964.6 649.6,970.4 650.0,956.3 650.4,963.0 650.8,972.5 651.2,964.5 651.6,966.5 652.0,969.7 652.4,965.0 652.8,958.4 653.2,977.9 653.6,961.5 654.0,969.1 654.4,970.5 654.8,961.7 655.2,968.1 655.6,963.2 656.0,970.8 656.4,969.5 656.8,971.7 657.1,979.0 657.5,965.1 657.9,968.7 658.3,953.1 658.7,980.8 659.1,962.3 659.5,965.6 659.9,976.9 660.3,970.4 660.7,973.9 661.1,971.4 661.5,971.1 661.9,962.8 662.3,973.4 662.7,966.3 663.1,976.7 663.5,964.3 663.9,955.1 664.3,965.2 664.7,965.1 665.1,969.5 665.5,970.6 665.9,973.0 666.2,972.9 666.6,971.9 667.0,973.1 667.4,972.1 667.8,972.5 668.2,962.9 668.6,963.1 669.0,970.9 669.4,960.2 669.8,969.3 670.2,963.3 670.6,965.8 671.0,966.4 671.4,962.0 671.8,967.4 672.2,959.9 672.6,975.0 673.0,972.4 673.4,961.1 673.8,968.7 674.2,971.5 674.6,973.3 674.9,967.3 675.3,974.8 675.7,974.1 676.1,970.5 676.5,962.2 676.9,974.0 677.3,955.0 677.7,966.4 678.1,961.1 678.5,966.5 678.9,970.3 679.3,959.9 679.7,959.9 680.1,970.7 680.5,962.0 680.9,963.8 681.3,973.6 681.7,969.2 682.1,970.9 682.5,957.2 682.9,960.8 683.3,967.9 683.6,965.9 684.0,960.6 684.4,969.1 684.8,966.6 685.2,963.3 685.6,969.1 686.0,968.7 686.4,954.3 686.8,964.2 687.2,967.9 687.6,962.0 688.0,964.6 688.4,961.9 688.8,961.7 689.2,970.6 689.6,962.9 690.0,963.2 690.4,962.3 690.8,969.4 691.2,962.1 691.6,967.8 692.0,955.5 692.4,966.6 692.7,960.8 693.1,968.5 693.5,971.6 693.9,958.0 694.3,962.0 694.7,965.1 695.1,965.5 695.5,961.7 695.9,961.7 696.3,966.4 696.7,968.1 697.1,966.2 697.5,969.5 697.9,961.2 698.3,970.3 698.7,963.0 699.1,962.0 699.5,966.1 699.9,963.3 700.3,968.6 700.7,961.5 701.1,966.1 701.4,960.6 701.8,964.6 702.2,963.6 702.6,962.6 703.0,967.6 703.4,967.4 703.8,960.1 704.2,962.5 704.6,949.1 705.0,928.8 705.4,936.1 705.8,937.3 706.2,936.2 706.6,953.2 707.0,950.3 707.4,960.8 707.8,956.6 708.2,954.7 708.6,947.4 709.0,944.3 709.4,952.4 709.8,952.0 710.2,944.2 710.5,942.6 710.9,948.0 711.3,938.9 711.7,936.6 712.1,936.4 712.5,930.2 712.9,920.6 713.3,911.7 713.7,911.5 714.1,905.4 714.5,903.2 714.9,897.5 715.3,887.3 715.7,883.4 716.1,882.2 716.5,880.8 716.9,876.1 717.3,874.6 717.7,876.5 718.1,878.1 718.5,883.1 718.9,889.6 719.2,898.2 719.6,902.4 720.0,909.6 720.4,910.4 720.8,922.0 721.2,927.9 721.6,926.0 722.0,930.5 722.4,940.9 722.8,938.3 723.2,937.2 723.6,940.4 724.0,951.1 724.4,955.0 724.8,956.2 725.2,961.3 725.6,958.4 726.0,961.5 726.4,954.9 726.8,955.1 727.2,953.9 727.6,956.3 727.9,957.9 728.3,965.1 728.7,959.6 729.1,960.7 729.5,964.4 729.9,960.7 730.3,965.6 730.7,960.1 731.1,967.5 731.5,962.3 731.9,963.1 732.3,971.3 732.7,959.6 733.1,965.3 733.5,962.9 733.9,960.8 734.3,968.6 734.7,973.5 735.1,962.3 735.5,969.3 735.9,969.9 736.3,959.0 736.7,958.9 737.0,964.3 737.4,961.2 737.8,965.8 738.2,967.5 738.6,957.1 739.0,974.3 739.4,968.1 739.8,968.2 740.2,960.3 740.6,972.7 741.0,964.4 741.4,963.4 741.8,970.9 742.2,969.3 742.6,964.7 743.0,970.1 743.4,961.6 743.8,968.6 744.2,963.2 744.6,972.2 745.0,968.4 745.4,959.5 745.7,964.7 746.1,961.2 746.5,974.6 746.9,961.3 747.3,963.9 747.7,965.8 748.1,965.0 748.5,963.9 748.9,963.3 749.3,968.4 749.7,963.2 750.1,960.9 750.5,961.5 750.9,973.3 751.3,968.5 751.7,972.1 752.1,961.5 752.5,964.4 752.9,966.0 753.3,970.3 753.7,961.1 754.1,971.3 754.4,975.0 754.8,968.4 755.2,973.3 755.6,964.7 756.0,967.9 756.4,961.0 756.8,969.5 757.2,966.8 757.6,964.0 758.0,966.7 758.4,970.0 758.8,967.4 759.2,965.4 759.6,969.5 760.0,956.6 760.4,963.7 760.8,969.1 761.2,969.3 761.6,964.4 762.0,969.7 762.4,967.4 762.8,964.0 763.2,960.8 763.5,967.8 763.9,965.2 764.3,968.1 764.7,975.1 765.1,962.2 765.5,964.2 765.9,969.0 766.3,963.2 766.7,963.1 767.1,967.8 767.5,972.2 767.9,964.0 768.3,965.9 768.7,971.6 769.1,972.4 769.5,967.3 769.9,968.3 770.3,963.6 770.7,972.1 771.1,959.7 771.5,971.6 771.9,972.7 772.2,975.5 772.6,967.2 773.0,969.5 773.4,964.6 773.8,970.4 774.2,970.8 774.6,968.6 775.0,966.0 775.4,966.3 775.8,962.0 776.2,968.7 776.6,964.7 777.0,962.2 777.4,971.1 777.8,962.9 778.2,972.5 778.6,964.0 779.0,970.1 779.4,966.5 779.8,962.7 780.2,962.9 780.6,971.3 781.0,968.6 781.3,968.5 781.7,964.4 782.1,968.2 782.5,964.3 782.9,966.1 783.3,958.9 783.7,966.2 784.1,967.8 784.5,961.4 784.9,961.2 785.3,965.2 785.7,965.1 786.1,972.5 786.5,968.3 786.9,965.0 787.3,965.4 787.7,968.7 788.1,969.4 788.5,962.3 788.9,969.8 789.3,968.4 789.7,967.8 790.0,962.4 790.4,968.2 790.8,970.7 791.2,968.4 791.6,966.4 792.0,968.6 792.4,969.8 792.8,956.9 793.2,971.9 793.6,972.4 794.0,963.6 794.4,963.2 794.8,965.6 795.2,967.0 795.6,965.0 796.0,962.6 796.4,963.4 796.8,964.2 797.2,965.7 797.6,964.3 798.0,966.3 798.4,965.3 798.7,967.4 799.1,965.3 799.5,963.5 799.9,968.1 800.3,969.8 800.7,968.6 801.1,962.7 801.5,966.8 801.9,961.8 802.3,967.6 802.7,964.3 803.1,972.8 803.5,970.0 803.9,960.1 804.3,969.3 804.7,973.2 805.1,962.0 805.5,969.1 805.9,961.5 806.3,965.3 806.7,971.3 807.1,966.0 807.5,964.0 807.8,973.1 808.2,966.9 808.6,973.1 809.0,977.4 809.4,968.1 809.8,976.0 810.2,971.5 810.6,969.6 811.0,963.7 811.4,963.2 811.8,966.2 812.2,966.6 812.6,969.0 813.0,968.4 813.4,963.8 813.8,969.8 814.2,964.5 814.6,970.9 815.0,969.3 815.4,976.9 815.8,967.6 816.2,966.8 816.5,969.7 816.9,975.4 817.3,971.6 817.7,973.7 818.1,971.6 818.5,969.0 818.9,961.4 819.3,968.8 819.7,970.2 820.1,971.5 820.5,972.8 820.9,969.3 821.3,973.9 821.7,967.0 822.1,973.8 822.5,964.7 822.9,971.9 823.3,977.1 823.7,974.9 824.1,964.8 824.5,972.5 824.9,967.1 825.2,965.2 825.6,970.5 826.0,965.8 826.4,959.3 826.8,971.0 827.2,962.9 827.6,965.5 828.0,968.5 828.4,974.0 828.8,968.8 829.2,972.4 829.6,967.2 830.0,962.7 830.4,971.8 830.8,968.2 831.2,969.3 831.6,968.8 832.0,979.0 832.4,975.1 832.8,972.2 833.2,969.7 833.6,968.6 834.0,972.6 834.3,970.6 834.7,973.2 835.1,972.2 835.5,970.6 835.9,964.8 836.3,962.3 836.7,968.9 837.1,971.7 837.5,965.3 837.9,964.2 838.3,963.4 838.7,963.5 839.1,964.3 839.5,967.0 839.9,962.3 840.3,971.2 840.7,965.5 841.1,961.5 841.5,964.4 841.9,968.5 842.3,969.2 842.7,970.5 843.0,968.3 843.4,970.1 843.8,966.4 844.2,971.8 844.6,971.5 845.0,963.3 845.4,960.5 845.8,971.7 846.2,962.5 846.6,967.7 847.0,962.2 847.4,957.8 847.8,969.8 848.2,971.7 848.6,966.9 849.0,966.8 849.4,968.3 849.8,962.7 850.2,966.8 850.6,966.0 851.0,961.1 851.4,967.0 851.7,971.8 852.1,972.3 852.5,972.0 852.9,960.5 853.3,967.9 853.7,967.9 854.1,967.7 854.5,963.4 854.9,958.5 855.3,966.4 855.7,965.1 856.1,975.2 856.5,958.2 856.9,967.0 857.3,969.4 857.7,967.9 858.1,964.5 858.5,967.7 858.9,960.3 859.3,964.2 859.7,969.5 860.1,963.3 860.5,963.3 860.8,964.1 861.2,965.5 861.6,960.4 862.0,971.1 862.4,966.5 862.8,967.0 863.2,967.9 863.6,967.0 864.0,963.1 864.4,971.5 864.8,962.7 865.2,963.9 865.6,970.6 866.0,966.3 866.4,957.9 866.8,969.3 867.2,960.0 867.6,968.1 868.0,972.8 868.4,966.9 868.8,959.4 869.2,970.0 869.5,966.8 869.9,968.6 870.3,970.3 870.7,966.3 871.1,966.1 871.5,971.9 871.9,969.3 872.3,969.7 872.7,965.7 873.1,963.6 873.5,961.9 873.9,967.6 874.3,958.0 874.7,969.2 875.1,963.1 875.5,968.2 875.9,967.3 876.3,956.2 876.7,955.9 877.1,960.1 877.5,967.1 877.9,960.9 878.3,963.8 878.6,962.9 879.0,955.9 879.4,960.3 879.8,957.3 880.2,959.9 880.6,958.4 881.0,960.8 881.4,962.7 881.8,967.4 882.2,963.5 882.6,959.0 883.0,966.3 883.4,962.6 883.8,966.5 884.2,967.4 884.6,976.5 885.0,970.6 885.4,966.7 885.8,966.2 886.2,967.9 886.6,971.3 887.0,970.8 887.3,971.6 887.7,964.9 888.1,961.4 888.5,972.7 888.9,968.6 889.3,971.9 889.7,978.2 890.1,969.1 890.5,965.1 890.9,965.0 891.3,968.6 891.7,967.1 892.1,975.0 892.5,971.8 892.9,969.2 893.3,970.5 893.7,972.3 894.1,972.9 894.5,972.8 894.9,965.5 895.3,970.2 895.7,975.8 896.0,963.9 896.4,969.7 896.8,968.7 897.2,964.1 897.6,976.7 898.0,968.9 898.4,968.9 898.8,971.8 899.2,974.7 899.6,971.5 900.0,967.4 900.4,966.4 900.8,975.8 901.2,973.5 901.6,966.1 902.0,963.9 902.4,972.3 902.8,970.3 903.2,972.4 903.6,964.1 904.0,970.6 904.4,972.7 904.8,974.7 905.1,965.1 905.5,970.9 905.9,966.6 906.3,963.5 906.7,962.8 907.1,962.1 907.5,966.1 907.9,968.4 908.3,966.4 908.7,974.6 909.1,965.7 909.5,963.2 909.9,967.6 910.3,963.6 910.7,966.9 911.1,975.0 911.5,967.7 911.9,970.8 912.3,972.9 912.7,970.2 913.1,964.0 913.5,970.8 913.8,968.6 914.2,970.0 914.6,970.6 915.0,971.9 915.4,966.2 915.8,969.6 916.2,969.3 916.6,962.5 917.0,965.3 917.4,968.3 917.8,974.0 918.2,970.6 918.6,969.1 919.0,965.4 919.4,971.2 919.8,962.0 920.2,967.3 920.6,968.6 921.0,966.6 921.4,976.6 921.8,970.8 922.2,973.7 922.5,958.7 922.9,969.2 923.3,972.8 923.7,971.1 924.1,972.7 924.5,976.3 924.9,967.3 925.3,975.5 925.7,965.4 926.1,969.3 926.5,965.3 926.9,963.8 927.3,966.5 927.7,976.8 928.1,970.0 928.5,968.1 928.9,965.4 929.3,966.1 929.7,973.6 930.1,971.8 930.5,965.5 930.9,963.8 931.3,969.7 931.6,968.7 932.0,975.4 932.4,975.6 932.8,962.7 933.2,965.8 933.6,972.3 934.0,971.3 934.4,972.4 934.8,963.2 935.2,970.6 935.6,963.5 936.0,972.2 936.4,965.4 936.8,963.7 937.2,966.2 937.6,966.3 938.0,973.5 938.4,966.2 938.8,976.2 939.2,974.9 939.6,969.2 940.0,973.5 940.3,971.4 940.7,969.4 941.1,970.5 941.5,973.3 941.9,968.2 942.3,973.6 942.7,962.5 943.1,961.5 943.5,961.6 943.9,963.5 944.3,969.2 944.7,974.8 945.1,969.8 945.5,970.0 945.9,974.1 946.3,969.0 946.7,972.1 947.1,966.9 947.5,963.5 947.9,962.8 948.3,964.6 948.7,974.8 949.1,966.9 949.4,972.1 949.8,969.0 950.2,961.9 950.6,969.2 951.0,967.5 951.4,970.3 951.8,968.9 952.2,974.3 952.6,973.3 953.0,975.6 953.4,973.8 953.8,971.9 954.2,975.0 954.6,974.6 955.0,969.8 955.4,968.1 955.8,965.2 956.2,967.8 956.6,967.3 957.0,974.1 957.4,970.6 957.8,968.1 958.1,962.5 958.5,963.2 958.9,971.1 959.3,972.4 959.7,962.1 960.1,972.7 960.5,969.8 960.9,966.9 961.3,968.9 961.7,971.1 962.1,965.2 962.5,971.2 962.9,971.7 963.3,966.1 963.7,968.6 964.1,970.5 964.5,970.8 964.9,969.2 965.3,969.2 965.7,966.5 966.1,961.7 966.5,962.8 966.8,963.3 967.2,967.6 967.6,964.3 968.0,968.3 968.4,974.1 968.8,967.1 969.2,971.1 969.6,972.0 970.0,963.1 970.4,968.8 970.8,963.6 971.2,965.3 971.6,966.7 972.0,964.9 972.4,965.7 972.8,977.0 973.2,973.2 973.6,961.3 974.0,968.9 974.4,968.3 974.8,970.2 975.2,960.3 975.6,965.1 975.9,972.6 976.3,971.5 976.7,969.9 977.1,975.3 977.5,967.2 977.9,965.1 978.3,971.0 978.7,966.6 979.1,968.8 979.5,964.7 979.9,973.0 980.3,965.1 980.7,968.8 981.1,970.0 981.5,970.7 981.9,965.9 982.3,967.2 982.7,973.5 983.1,975.1 983.5,974.4 983.9,976.5 984.3,970.5 984.6,972.9 985.0,968.1 985.4,968.3 985.8,969.8 986.2,964.6 986.6,967.6 987.0,972.1 987.4,965.0 987.8,967.6 988.2,973.5 988.6,965.0 989.0,963.8 989.4,971.9 989.8,966.9 990.2,963.8 990.6,971.7 991.0,966.5 991.4,967.9 991.8,964.4 992.2,972.7 992.6,965.2 993.0,970.2 993.3,971.1 993.7,967.6 994.1,964.9 994.5,975.2 994.9,961.1 995.3,969.5 995.7,967.5 996.1,974.2 996.5,969.6 996.9,969.3 997.3,960.9 997.7,967.3 998.1,968.8 998.5,973.2 998.9,968.9 999.3,974.6 999.7,965.6 1000.1,965.8 1000.5,970.9 1000.9,970.7 1001.3,967.9 1001.7,966.6 1002.1,972.0 1002.4,971.6 1002.8,965.9 1003.2,974.1 1003.6,963.7 1004.0,972.9 1004.4,969.5 1004.8,973.9 1005.2,970.6 1005.6,963.8 1006.0,969.8 1006.4,965.4 1006.8,973.9 1007.2,972.7 1007.6,972.2 1008.0,969.6 1008.4,964.8 1008.8,968.0 1009.2,960.8 1009.6,964.2 1010.0,975.7 1010.4,963.4 1010.8,965.9 1011.1,964.9 1011.5,965.3 1011.9,968.6 1012.3,970.9 1012.7,973.0 1013.1,970.2 1013.5,972.6 1013.9,969.6 1014.3,960.9 1014.7,965.1 1015.1,967.9 1015.5,970.6 1015.9,968.3 1016.3,965.7 1016.7,967.0 1017.1,962.8 1017.5,967.4 1017.9,961.2 1018.3,967.5 1018.7,972.8 1019.1,963.6 1019.5,963.5 1019.8,963.5 1020.2,967.4 1020.6,969.6 1021.0,965.2 1021.4,961.9 1021.8,964.8 1022.2,967.4 1022.6,967.5 1023.0,964.4 1023.4,971.3 1023.8,960.3 1024.2,968.2 1024.6,966.0 1025.0,962.0 1025.4,971.9 1025.8,967.5 1026.2,962.2 1026.6,969.1 1027.0,966.2 1027.4,962.6 1027.8,966.0 1028.2,967.6 1028.6,966.9 1028.9,972.7 1029.3,959.9 1029.7,969.4 1030.1,968.4 1030.5,957.3 1030.9,962.3 1031.3,966.4 1031.7,956.6 1032.1,969.7 1032.5,962.2 1032.9,956.2 1033.3,956.2 1033.7,956.9 1034.1,963.9 1034.5,957.9 1034.9,964.1 1035.3,963.4 1035.7,963.5 1036.1,961.1 1036.5,966.5 1036.9,963.6 1037.3,965.9 1037.6,956.3 1038.0,962.5 1038.4,965.4 1038.8,960.7 1039.2,962.0 1039.6,954.7 1040.0,963.2 1040.4,961.3 1040.8,969.0 1041.2,954.6 1041.6,955.8 1042.0,961.2 1042.4,962.6 1042.8,963.3 1043.2,955.5 1043.6,953.0 1044.0,950.7 1044.4,947.0 1044.8,949.9 1045.2,956.8 1045.6,961.2 1046.0,952.1 1046.4,955.2 1046.7,948.7 1047.1,957.1 1047.5,956.5 1047.9,951.1 1048.3,952.0 1048.7,948.1 1049.1,949.7 1049.5,947.8 1049.9,953.3 1050.3,948.9 1050.7,946.0 1051.1,949.2 1051.5,953.9 1051.9,954.7 1052.3,947.8 1052.7,945.7 1053.1,943.5 1053.5,948.8 1053.9,943.1 1054.3,944.5 1054.7,944.7 1055.1,950.0 1055.4,944.4 1055.8,950.7 1056.2,949.7 1056.6,943.1 1057.0,942.7 1057.4,945.7 1057.8,950.8 1058.2,949.5 1058.6,947.8 1059.0,949.2 1059.4,941.1 1059.8,946.5 1060.2,947.8 1060.6,947.4 1061.0,941.2 1061.4,938.9 1061.8,948.5 1062.2,942.4 1062.6,941.8 1063.0,943.3 1063.4,945.8 1063.8,940.9 1064.1,949.8 1064.5,951.8 1064.9,946.2 1065.3,945.8 1065.7,943.3 1066.1,949.4 1066.5,949.9 1066.9,949.8 1067.3,949.8 1067.7,943.7 1068.1,943.9 1068.5,949.8 1068.9,943.5 1069.3,942.9 1069.7,952.0 1070.1,949.7 1070.5,949.4 1070.9,945.2 1071.3,944.5 1071.7,951.3 1072.1,954.5 1072.5,946.1 1072.9,954.7 1073.2,954.7 1073.6,946.6 1074.0,954.3 1074.4,952.9 1074.8,948.6 1075.2,955.1 1075.6,957.1 1076.0,959.0 1076.4,947.7 1076.8,959.8 1077.2,951.6 1077.6,957.6 1078.0,959.0 1078.4,954.0 1078.8,951.4 1079.2,957.7 1079.6,954.6 1080.0,954.8 1080.4,954.2 1080.8,955.7 1081.2,962.9 1081.6,958.4 1081.9,956.8 1082.3,959.1 1082.7,961.3 1083.1,955.5 1083.5,954.4 1083.9,960.4 1084.3,963.9 1084.7,962.7 1085.1,961.9 1085.5,964.5 1085.9,963.7 1086.3,957.1 1086.7,961.9 1087.1,973.1 1087.5,956.9 1087.9,961.5 1088.3,961.6 1088.7,966.5 1089.1,961.5 1089.5,962.9 1089.9,958.7 1090.3,960.2 1090.6,960.0 1091.0,967.3 1091.4,959.2 1091.8,968.3 1092.2,963.5 1092.6,965.7 1093.0,961.7 1093.4,966.1 1093.8,967.3 1094.2,958.5 1094.6,962.0 1095.0,968.0 1095.4,960.2 1095.8,971.0 1096.2,960.6 1096.6,970.7 1097.0,964.1 1097.4,965.0 1097.8,962.3 1098.2,964.3 1098.6,966.9 1099.0,969.1 1099.4,962.9 1099.7,967.1 1100.1,961.8 1100.5,966.5 1100.9,965.4 1101.3,961.3 1101.7,958.6 1102.1,970.0 1102.5,963.3 1102.9,976.4 1103.3,967.4 1103.7,970.2 1104.1,967.5 1104.5,965.8 1104.9,964.9 1105.3,963.2 1105.7,964.6 1106.1,968.8 1106.5,965.7 1106.9,963.9 1107.3,960.8 1107.7,968.1 1108.1,962.8 1108.4,971.5 1108.8,964.0 1109.2,964.1 1109.6,960.7 1110.0,966.8 1110.4,961.1 1110.8,973.3 1111.2,962.3 1111.6,960.8 1112.0,963.2 1112.4,962.7 1112.8,963.3 1113.2,971.9 1113.6,967.9 1114.0,963.1 1114.4,961.7 1114.8,960.9 1115.2,970.2 1115.6,959.9 1116.0,965.5 1116.4,966.5 1116.8,968.2 1117.2,968.8 1117.5,970.5 1117.9,964.6 1118.3,970.7 1118.7,967.8 1119.1,955.8 1119.5,969.7 1119.9,966.8 1120.3,964.2 1120.7,961.1 1121.1,965.4 1121.5,970.8 1121.9,961.7 1122.3,968.2 1122.7,964.2 1123.1,965.4 1123.5,965.8 1123.9,971.6 1124.3,963.3 1124.7,964.9 1125.1,969.3 1125.5,970.7 1125.9,973.9 1126.2,961.5 1126.6,962.1 1127.0,974.1 1127.4,962.3 1127.8,963.7 1128.2,965.1 1128.6,963.1 1129.0,962.3 1129.4,960.4 1129.8,961.2 1130.2,968.8 1130.6,964.3 1131.0,958.3 1131.4,963.0 1131.8,970.4 1132.2,959.3 1132.6,957.3 1133.0,964.5 1133.4,960.1 1133.8,970.7 1134.2,963.0 1134.6,972.2 1134.9,966.5 1135.3,965.9 1135.7,960.3 1136.1,974.4 1136.5,969.2 1136.9,971.1 1137.3,965.0 1137.7,961.1 1138.1,969.4 1138.5,966.8 1138.9,970.5 1139.3,966.8 1139.7,959.2 1140.1,961.8 1140.5,958.5 1140.9,964.1 1141.3,956.5 1141.7,957.9 1142.1,959.0 1142.5,964.0 1142.9,966.5 1143.3,958.3 1143.7,971.9 1144.0,973.4 1144.4,963.8 1144.8,963.4 1145.2,968.1 1145.6,963.5 1146.0,967.1 1146.4,963.6 1146.8,961.8 1147.2,960.3 1147.6,969.5 1148.0,968.8 1148.4,973.4 1148.8,965.7 1149.2,968.1 1149.6,970.7 1150.0,969.1 1150.4,964.3 1150.8,973.2 1151.2,960.4 1151.6,974.0 1152.0,960.2 1152.4,973.9 1152.7,971.9 1153.1,970.1 1153.5,964.5 1153.9,969.3 1154.3,974.0 1154.7,971.6 1155.1,971.9 1155.5,977.3 1155.9,966.0 1156.3,967.5 1156.7,973.0 1157.1,973.1 1157.5,972.7 1157.9,964.1 1158.3,966.4 1158.7,972.5 1159.1,967.0 1159.5,971.4 1159.9,964.5 1160.3,964.4 1160.7,975.5 1161.1,968.7 1161.4,964.1 1161.8,968.9 1162.2,977.5 1162.6,978.5 1163.0,976.9 1163.4,976.6 1163.8,970.0 1164.2,972.9 1164.6,974.4 1165.0,973.2 1165.4,968.4 1165.8,974.8 1166.2,961.6 1166.6,966.8 1167.0,970.0 1167.4,967.1 1167.8,974.6 1168.2,974.7 1168.6,971.2 1169.0,970.7 1169.4,973.6 1169.8,964.1 1170.2,967.6 1170.5,969.4 1170.9,966.0 1171.3,965.9 1171.7,974.5 1172.1,975.8 1172.5,959.6 1172.9,963.7 1173.3,968.8 1173.7,968.6 1174.1,970.1 1174.5,972.8 1174.9,963.0 1175.3,964.4 1175.7,967.7 1176.1,967.8 1176.5,964.7 1176.9,970.0 1177.3,966.9 1177.7,974.6 1178.1,966.5 1178.5,968.8 1178.9,965.4 1179.2,970.0 1179.6,972.1 1180.0,964.5 1180.4,963.0 1180.8,967.7 1181.2,966.6 1181.6,959.7 1182.0,967.9 1182.4,971.0 1182.8,961.9 1183.2,967.6 1183.6,961.5 1184.0,964.2 1184.4,959.1 1184.8,961.2 1185.2,969.3 1185.6,968.2 1186.0,974.2 1186.4,958.4 1186.8,965.0 1187.2,975.5 1187.6,968.8 1187.9,971.3 1188.3,967.6 1188.7,969.4 1189.1,962.9 1189.5,968.6 1189.9,973.4 1190.3,967.5 1190.7,966.7 1191.1,960.0 1191.5,968.4 1191.9,964.7 1192.3,965.8 1192.7,971.0 1193.1,966.8 1193.5,967.0 1193.9,971.5 1194.3,970.4 1194.7,964.8 1195.1,961.9 1195.5,973.3 1195.9,960.2 1196.3,962.0 1196.7,972.2 1197.0,964.4 1197.4,961.3 1197.8,972.0 1198.2,969.7 1198.6,962.9 1199.0,960.1 1199.4,961.8 1199.8,967.9 1200.2,965.7 1200.6,959.5 1201.0,968.5 1201.4,973.8 1201.8,961.4 1202.2,971.3 1202.6,966.1 1203.0,967.9 1203.4,968.9 1203.8,971.5 1204.2,968.3 1204.6,967.8 1205.0,965.4 1205.4,970.2 1205.7,962.6 1206.1,973.8 1206.5,970.2 1206.9,965.9 1207.3,966.1 1207.7,968.7 1208.1,959.8 1208.5,966.7 1208.9,965.5 1209.3,962.6 1209.7,967.6 1210.1,965.5 1210.5,972.9 1210.9,969.9 1211.3,961.6 1211.7,968.4 1212.1,971.6 1212.5,968.8 1212.9,964.4 1213.3,966.2 1213.7,966.9 1214.1,964.2 1214.5,969.8 1214.8,967.5 1215.2,972.2 1215.6,971.4 1216.0,970.5 1216.4,971.2 1216.8,975.3 1217.2,966.0 1217.6,970.7 1218.0,976.4 1218.4,963.0 1218.8,968.2 1219.2,975.1 1219.6,977.5 1220.0,964.7 1220.4,970.6 1220.8,971.6 1221.2,966.1 1221.6,970.1 1222.0,970.7 1222.4,967.3 1222.8,971.8 1223.2,970.0 1223.5,966.0 1223.9,978.0 1224.3,963.7 1224.7,967.4 1225.1,965.8 1225.5,968.6 1225.9,973.9 1226.3,961.7 1226.7,967.3 1227.1,970.8 1227.5,972.0 1227.9,968.3 1228.3,976.2 1228.7,974.9 1229.1,972.7 1229.5,974.3 1229.9,972.6 1230.3,975.7 1230.7,967.4 1231.1,968.5 1231.5,965.9 1231.9,971.6 1232.2,971.1 1232.6,976.4 1233.0,973.5 1233.4,965.8 1233.8,974.3 1234.2,967.0 1234.6,974.8 1235.0,971.5 1235.4,973.7 1235.8,976.1 1236.2,969.5 1236.6,964.4 1237.0,973.7 1237.4,974.4 1237.8,975.3 1238.2,969.4 1238.6,965.3 1239.0,973.8 1239.4,972.0 1239.8,962.7 1240.2,966.1 1240.6,964.1 1241.0,971.7 1241.3,972.4 1241.7,971.2 1242.1,972.8 1242.5,968.0 1242.9,965.2 1243.3,975.1 1243.7,966.9 1244.1,972.3 1244.5,972.0 1244.9,964.4 1245.3,968.2 1245.7,968.7 1246.1,969.3 1246.5,967.2 1246.9,958.9 1247.3,967.0 1247.7,970.4 1248.1,960.8 1248.5,966.8 1248.9,965.7 1249.3,967.3 1249.7,969.6 1250.0,967.0 1250.4,968.0 1250.8,960.5 1251.2,973.4 1251.6,970.4 1252.0,975.6 1252.4,971.9 1252.8,962.2 1253.2,969.4 1253.6,970.5 1254.0,971.8 1254.4,968.0 1254.8,960.1 1255.2,968.0 1255.6,965.5 1256.0,968.9 1256.4,965.7 1256.8,972.4 1257.2,963.7 1257.6,969.2 1258.0,961.2 1258.4,969.6 1258.7,969.8 1259.1,971.7 1259.5,965.5 1259.9,970.3 1260.3,967.1 1260.7,971.8 1261.1,962.3 1261.5,967.3 1261.9,968.9 1262.3,964.1 1262.7,964.5 1263.1,971.6 1263.5,963.2 1263.9,969.1 1264.3,967.1 1264.7,961.1 1265.1,970.8 1265.5,969.6 1265.9,971.2 1266.3,964.3 1266.7,970.0 1267.1,970.6 1267.5,965.5 1267.8,968.9 1268.2,963.4 1268.6,961.5 1269.0,971.0 1269.4,965.9 1269.8,968.1 1270.2,961.8 1270.6,966.7 1271.0,963.2 1271.4,968.7 1271.8,966.3 1272.2,967.2 1272.6,972.0 1273.0,972.1 1273.4,966.4 1273.8,966.6 1274.2,963.1 1274.6,968.6 1275.0,965.2 1275.4,966.0 1275.8,968.8 1276.2,965.0 1276.5,965.6 1276.9,973.1 1277.3,969.5 1277.7,965.2 1278.1,967.9 1278.5,967.4 1278.9,967.6 1279.3,964.0 1279.7,968.4 1280.1,971.8 1280.5,969.5 1280.9,973.8 1281.3,963.5 1281.7,960.3 1282.1,963.7 1282.5,960.8 1282.9,960.9 1283.3,963.4 1283.7,961.0 1284.1,966.8 1284.5,962.3 1284.9,957.7 1285.3,958.7 1285.6,959.0 1286.0,952.6 1286.4,959.7 1286.8,961.2 1287.2,966.1 1287.6,956.7 1288.0,955.1 1288.4,955.2 1288.8,955.8 1289.2,958.8 1289.6,951.6 1290.0,959.4 1290.4,953.9 1290.8,961.3 1291.2,956.6 1291.6,948.3 1292.0,951.0 1292.4,953.3 1292.8,943.0 1293.2,943.7 1293.6,954.2 1294.0,948.6 1294.3,946.0 1294.7,937.7 1295.1,938.7 1295.5,944.0 1295.9,933.4 1296.3,933.6 1296.7,938.1 1297.1,923.4 1297.5,927.6 1297.9,926.6 1298.3,922.8 1298.7,916.3 1299.1,907.5 1299.5,907.9 1299.9,898.5 1300.3,892.2 1300.7,883.7 1301.1,872.6 1301.5,865.7 1301.9,855.4 1302.3,844.2 1302.7,830.4 1303.0,816.6 1303.4,802.7 1303.8,786.1 1304.2,770.1 1304.6,758.9 1305.0,744.1 1305.4,733.1 1305.8,724.2 1306.2,715.2 1306.6,708.8 1307.0,717.1 1307.4,722.9 1307.8,729.1 1308.2,747.3 1308.6,759.0 1309.0,776.9 1309.4,787.8 1309.8,804.2 1310.2,819.6 1310.6,832.3 1311.0,847.3 1311.4,855.9 1311.8,866.5 1312.1,877.7 1312.5,887.8 1312.9,892.5 1313.3,897.8 1313.7,907.8 1314.1,906.0 1314.5,915.1 1314.9,923.2 1315.3,928.6 1315.7,930.0 1316.1,935.1 1316.5,934.8 1316.9,934.5 1317.3,940.5 1317.7,941.8 1318.1,944.3 1318.5,943.9 1318.9,952.3 1319.3,944.6 1319.7,944.8 1320.1,948.5 1320.5,954.1 1320.8,955.3 1321.2,951.7 1321.6,950.9 1322.0,958.5 1322.4,950.6 1322.8,951.6 1323.2,958.5 1323.6,952.3 1324.0,949.6 1324.4,961.3 1324.8,960.6 1325.2,965.0 1325.6,961.7 1326.0,957.6 1326.4,959.2 1326.8,966.8 1327.2,961.8 1327.6,959.0 1328.0,964.8 1328.4,960.3 1328.8,956.6 1329.2,958.9 1329.5,963.0 1329.9,962.9 1330.3,958.6 1330.7,966.7 1331.1,971.0 1331.5,968.4 1331.9,966.7 1332.3,959.4 1332.7,957.7 1333.1,961.5 1333.5,967.3 1333.9,965.6 1334.3,966.2 1334.7,964.0 1335.1,970.0 1335.5,956.3 1335.9,961.6 1336.3,971.2 1336.7,967.9 1337.1,972.9 1337.5,972.9 1337.9,967.5 1338.3,964.0 1338.6,963.1 1339.0,964.5 1339.4,971.0 1339.8,965.8 1340.2,975.8 1340.6,966.8 1341.0,965.2 1341.4,958.2 1341.8,970.5 1342.2,971.6 1342.6,965.4 1343.0,962.9 1343.4,969.2 1343.8,969.3 1344.2,969.5 1344.6,973.7 1345.0,970.8 1345.4,967.8 1345.8,965.9 1346.2,965.1 1346.6,968.0 1347.0,966.8 1347.3,970.1 1347.7,973.4 1348.1,970.4 1348.5,964.7 1348.9,966.3 1349.3,963.8 1349.7,973.9 1350.1,965.4 1350.5,971.8 1350.9,963.0 1351.3,971.3 1351.7,963.5 1352.1,966.1 1352.5,962.8 1352.9,962.9 1353.3,970.5 1353.7,969.4 1354.1,961.8 1354.5,969.1 1354.9,963.3 1355.3,966.1 1355.7,970.5 1356.0,968.8 1356.4,968.1 1356.8,975.4 1357.2,967.7 1357.6,971.3 1358.0,967.3 1358.4,971.4 1358.8,965.5 1359.2,965.9 1359.6,971.1 1360.0,970.7 1360.4,958.2 1360.8,965.1 1361.2,958.2 1361.6,971.0 1362.0,971.4 1362.4,964.0 1362.8,967.2 1363.2,963.2 1363.6,962.5 1364.0,963.5 1364.4,965.4 1364.8,970.9 1365.1,970.7 1365.5,965.5 1365.9,959.6 1366.3,968.6 1366.7,966.5 1367.1,967.2 1367.5,968.5 1367.9,963.7 1368.3,962.5 1368.7,960.7 1369.1,961.9 1369.5,963.6 1369.9,968.5 1370.3,957.4 1370.7,967.4 1371.1,973.1 1371.5,966.3 1371.9,957.2 1372.3,958.4 1372.7,963.8 1373.1,954.4 1373.5,960.5 1373.8,958.5 1374.2,963.4 1374.6,967.3 1375.0,967.0 1375.4,959.3 1375.8,962.0 1376.2,956.8 1376.6,967.0 1377.0,963.0 1377.4,963.0 1377.8,959.5 1378.2,957.4 1378.6,956.3 1379.0,970.8 1379.4,962.9 1379.8,962.6 1380.2,971.8 1380.6,965.9 1381.0,968.5 1381.4,967.3 1381.8,968.0 1382.2,966.2 1382.6,960.2 1382.9,962.5 1383.3,967.9 1383.7,969.4 1384.1,965.9 1384.5,958.9 1384.9,968.5 1385.3,963.7 1385.7,970.8 1386.1,971.8 1386.5,964.2 1386.9,959.6 1387.3,962.3 1387.7,967.8 1388.1,969.1 1388.5,963.9 1388.9,964.8 1389.3,969.1 1389.7,959.9 1390.1,968.3 1390.5,963.5 1390.9,961.8 1391.3,967.9 1391.6,974.3 1392.0,977.3 1392.4,967.5 1392.8,968.6 1393.2,965.1 1393.6,969.2 1394.0,972.6 1394.4,963.5 1394.8,967.6 1395.2,965.3 1395.6,969.0 1396.0,973.1 1396.4,976.5 1396.8,963.1 1397.2,963.9 1397.6,969.1 1398.0,971.1 1398.4,966.5 1398.8,960.5 1399.2,966.4 1399.6,970.0 1400.0,973.7 1400.3,964.5 1400.7,962.5 1401.1,970.4 1401.5,963.6 1401.9,964.2 1402.3,973.9 1402.7,973.2 1403.1,969.8 1403.5,963.4 1403.9,969.9 1404.3,960.6 1404.7,961.6 1405.1,964.9 1405.5,965.7 1405.9,966.7 1406.3,964.2 1406.7,970.7 1407.1,966.5 1407.5,972.7 1407.9,959.9 1408.3,968.7 1408.7,959.8 1409.1,968.9 1409.4,970.6 1409.8,971.9 1410.2,966.0 1410.6,962.1 1411.0,969.8 1411.4,962.8 1411.8,966.2 1412.2,968.2 1412.6,957.7 1413.0,964.4 1413.4,966.5 1413.8,961.1 1414.2,968.0 1414.6,961.6 1415.0,964.2 1415.4,967.0 1415.8,972.7 1416.2,969.7 1416.6,966.1 1417.0,965.2 1417.4,961.3 1417.8,962.9 1418.1,968.6 1418.5,962.9 1418.9,972.0 1419.3,956.3 1419.7,966.0 1420.1,965.3 1420.5,961.7 1420.9,965.2 1421.3,960.5 1421.7,965.7 1422.1,967.0 1422.5,964.9 1422.9,972.2 1423.3,964.3 1423.7,969.8 1424.1,963.8 1424.5,969.3 1424.9,959.7 1425.3,959.5 1425.7,964.7 1426.1,965.2 1426.5,963.8 1426.8,966.8 1427.2,965.7 1427.6,970.9 1428.0,967.8 1428.4,964.6 1428.8,966.2 1429.2,968.4 1429.6,965.9 1430.0,968.2 1430.4,972.2 1430.8,960.2 1431.2,961.9 1431.6,970.0 1432.0,963.1 1432.4,970.2 1432.8,959.3 1433.2,967.5 1433.6,975.2 1434.0,964.5 1434.4,975.9 1434.8,962.8 1435.2,972.1 1435.6,968.5 1435.9,968.5 1436.3,965.9 1436.7,970.3 1437.1,963.8 1437.5,970.4 1437.9,969.3 1438.3,968.8 1438.7,971.9 1439.1,972.6 1439.5,960.8 1439.9,972.6 1440.3,969.3 1440.7,962.9 1441.1,963.4 1441.5,966.6 1441.9,970.5 1442.3,966.8 1442.7,965.2 1443.1,968.1 1443.5,974.2 1443.9,968.8 1444.3,964.6 1444.6,972.3 1445.0,971.5 1445.4,973.2 1445.8,965.8 1446.2,969.9 1446.6,970.2 1447.0,966.0 1447.4,964.7 1447.8,975.9 1448.2,971.5 1448.6,968.4 1449.0,970.0 1449.4,961.8 1449.8,959.7 1450.2,965.1 1450.6,958.8 1451.0,964.3 1451.4,967.4 1451.8,965.0 1452.2,959.0 1452.6,965.7 1453.0,962.1 1453.4,965.2 1453.7,966.9 1454.1,966.5 1454.5,959.2 1454.9,962.9 1455.3,966.6 1455.7,958.8 1456.1,959.1 1456.5,966.7 1456.9,957.9 1457.3,956.4 1457.7,958.7 1458.1,959.9 1458.5,969.6 1458.9,966.0 1459.3,962.2 1459.7,965.0 1460.1,959.6 1460.5,968.4 1460.9,960.6 1461.3,959.1 1461.7,960.7 1462.1,962.3 1462.4,959.0 1462.8,961.2 1463.2,959.6 1463.6,964.5 1464.0,966.5 1464.4,954.0 1464.8,968.5 1465.2,952.0 1465.6,954.1 1466.0,959.8 1466.4,954.5 1466.8,966.4 1467.2,966.5 1467.6,964.7 1468.0,951.3 1468.4,959.9 1468.8,955.2 1469.2,954.0 1469.6,952.4 1470.0,966.8 1470.4,958.1 1470.8,957.0 1471.1,964.8 1471.5,963.1 1471.9,957.1 1472.3,957.5 1472.7,964.6 1473.1,963.1 1473.5,956.3 1473.9,956.3 1474.3,964.1 1474.7,962.5 1475.1,956.9 1475.5,960.0 1475.9,956.6 1476.3,960.1 1476.7,952.6 1477.1,959.2 1477.5,958.3 1477.9,963.2 1478.3,961.7 1478.7,961.5 1479.1,958.0 1479.5,961.7 1479.9,955.9 1480.2,956.1 1480.6,957.6 1481.0,959.8 1481.4,950.2 1481.8,950.5 1482.2,952.3 1482.6,953.1 1483.0,951.9 1483.4,957.7 1483.8,947.7 1484.2,949.7 1484.6,953.3 1485.0,945.5 1485.4,943.4 1485.8,949.2 1486.2,942.0 1486.6,935.7 1487.0,941.3 1487.4,934.6 1487.8,933.9 1488.2,932.1 1488.6,932.6 1488.9,933.3 1489.3,931.5 1489.7,930.2 1490.1,922.0 1490.5,923.4 1490.9,921.0 1491.3,919.9 1491.7,921.7 1492.1,916.2 1492.5,913.2 1492.9,910.6 1493.3,909.6 1493.7,904.9 1494.1,905.3 1494.5,904.2 1494.9,898.3 1495.3,898.3 1495.7,896.9 1496.1,894.3 1496.5,891.6 1496.9,887.7 1497.3,885.6 1497.6,885.1 1498.0,882.8 1498.4,883.3 1498.8,878.5 1499.2,876.2 1499.6,877.7 1500.0,877.9 1500.4,876.7 1500.8,876.0 1501.2,876.3 1501.6,876.1 1502.0,873.6 1502.4,871.9 1502.8,874.7 1503.2,877.1 1503.6,875.6 1504.0,879.0 1504.4,881.2 1504.8,877.8 1505.2,877.2 1505.6,881.1 1506.0,884.0 1506.4,883.6 1506.7,887.1 1507.1,888.5 1507.5,890.5 1507.9,892.4 1508.3,896.7 1508.7,896.9 1509.1,898.7 1509.5,902.9 1509.9,901.7 1510.3,906.3 1510.7,908.0 1511.1,906.1 1511.5,911.2 1511.9,915.3 1512.3,917.4 1512.7,912.2 1513.1,915.4 1513.5,918.1 1513.9,921.1 1514.3,921.6 1514.7,926.6 1515.1,931.2 1515.4,926.4 1515.8,930.2 1516.2,936.7 1516.6,935.8 1517.0,934.1 1517.4,937.6 1517.8,938.7 1518.2,943.2 1518.6,940.3 1519.0,942.4 1519.4,945.2 1519.8,941.5 1520.2,946.9 1520.6,942.6 1521.0,952.7 1521.4,944.8 1521.8,951.9 1522.2,949.7 1522.6,949.0 1523.0,950.9 1523.4,960.1 1523.8,961.9 1524.1,948.2 1524.5,953.7 1524.9,953.7 1525.3,956.3 1525.7,963.5 1526.1,963.7 1526.5,955.9 1526.9,960.5 1527.3,956.0 1527.7,957.4 1528.1,955.3 1528.5,955.9 1528.9,961.9 1529.3,953.2 1529.7,964.4 1530.1,956.8 1530.5,956.8 1530.9,961.6 1531.3,964.9 1531.7,966.7 1532.1,966.9 1532.5,964.1 1532.9,962.5 1533.2,953.4 1533.6,964.7 1534.0,957.3 1534.4,960.5 1534.8,965.4 1535.2,964.2 1535.6,967.2 1536.0,958.3 1536.4,964.6 1536.8,964.6 1537.2,967.0 1537.6,964.8 1538.0,964.6 1538.4,958.9 1538.8,966.8 1539.2,961.3 1539.6,959.4 1540.0,964.5 1540.4,963.3 1540.8,960.4 1541.2,959.5 1541.6,967.2 1541.9,964.8 1542.3,957.2 1542.7,967.9 1543.1,966.7 1543.5,970.3 1543.9,961.7 1544.3,962.4 1544.7,957.8 1545.1,964.9 1545.5,959.9 1545.9,966.2 1546.3,961.5 1546.7,958.9 1547.1,974.3 1547.5,960.5 1547.9,973.3 1548.3,964.9 1548.7,968.1 1549.1,964.5 1549.5,962.8 1549.9,965.1 1550.3,963.4 1550.7,967.0 1551.0,963.8 1551.4,963.4 1551.8,963.0 1552.2,964.9 1552.6,965.2 1553.0,961.2 1553.4,962.0 1553.8,962.7 1554.2,966.3 1554.6,970.5 1555.0,969.9 1555.4,968.0 1555.8,964.7 1556.2,960.7 1556.6,964.6 1557.0,966.5 1557.4,967.8 1557.8,971.7 1558.2,968.4 1558.6,966.6 1559.0,965.3 1559.4,977.0 1559.7,963.4 1560.1,974.3 1560.5,963.2 1560.9,965.2 1561.3,973.0 1561.7,966.7 1562.1,973.7 1562.5,969.1 1562.9,971.3 1563.3,969.0 1563.7,972.0 1564.1,969.9 1564.5,970.8 1564.9,960.7 1565.3,972.6 1565.7,969.5 1566.1,964.7 1566.5,961.4 1566.9,961.8 1567.3,973.5 1567.7,960.4 1568.1,966.8 1568.4,963.0 1568.8,962.4 1569.2,969.2 1569.6,971.7 1570.0,967.6 1570.4,968.2 1570.8,973.5 1571.2,963.3 1571.6,975.7 1572.0,961.9 1572.4,966.4 1572.8,970.8 1573.2,972.8 1573.6,974.0 1574.0,971.8 1574.4,969.9 1574.8,969.4 1575.2,968.4 1575.6,972.7 1576.0,961.5 1576.4,964.2 1576.8,971.6 1577.2,963.2 1577.5,969.0 1577.9,969.6 1578.3,966.8 1578.7,963.4 1579.1,975.0 1579.5,962.2 1579.9,965.4 1580.3,976.5 1580.7,964.9 1581.1,965.6 1581.5,971.5 1581.9,972.9 1582.3,967.4 1582.7,967.7 1583.1,961.8 1583.5,968.8 1583.9,967.1 1584.3,969.8 1584.7,971.4 1585.1,971.5 1585.5,963.9 1585.9,964.4 1586.2,958.8 1586.6,971.7 1587.0,967.4 1587.4,967.5 1587.8,962.0 1588.2,974.1 1588.6,966.7 1589.0,970.6 1589.4,968.7 1589.8,973.8 1590.2,965.4 1590.6,972.4 1591.0,971.6 1591.4,972.4 1591.8,965.1 1592.2,976.4 1592.6,971.7 1593.0,967.3 1593.4,970.5 1593.8,962.7 1594.2,971.3 1594.6,976.4 1594.9,972.0 1595.3,965.1 1595.7,968.1 1596.1,963.4 1596.5,966.4 1596.9,965.5 1597.3,966.9 1597.7,973.0 1598.1,973.6 1598.5,972.6 1598.9,973.1 1599.3,965.4 1599.7,969.5 1600.1,970.6 1600.5,966.1 1600.9,968.2 1601.3,967.9 1601.7,963.6 1602.1,972.9 1602.5,975.6 1602.9,965.8 1603.3,963.6 1603.7,968.8 1604.0,966.2 1604.4,972.3 1604.8,965.8 1605.2,972.4 1605.6,967.3 1606.0,968.7 1606.4,967.0 1606.8,967.9 1607.2,965.0 1607.6,968.8 1608.0,964.8 1608.4,973.2 1608.8,972.5 1609.2,968.9 1609.6,971.0 1610.0,967.0 1610.4,968.7 1610.8,968.9 1611.2,970.3 1611.6,974.3 1612.0,971.1 1612.4,971.7 1612.7,966.5 1613.1,966.4 1613.5,966.7 1613.9,965.8 1614.3,970.9 1614.7,962.8 1615.1,966.9 1615.5,972.1 1615.9,968.1 1616.3,967.5 1616.7,963.3 1617.1,968.3 1617.5,972.2 1617.9,969.2 1618.3,965.7 1618.7,967.5 1619.1,964.1 1619.5,962.7 1619.9,966.3 1620.3,969.6 1620.7,973.5 1621.1,968.9 1621.5,962.5 1621.8,965.5 1622.2,973.5 1622.6,963.7 1623.0,970.4 1623.4,973.1 1623.8,968.9 1624.2,960.3 1624.6,977.6 1625.0,974.1 1625.4,961.0 1625.8,968.4 1626.2,976.0 1626.6,967.4 1627.0,969.7 1627.4,977.2 1627.8,967.5 1628.2,967.4 1628.6,967.8 1629.0,966.6 1629.4,963.6 1629.8,963.3 1630.2,965.9 1630.5,968.7 1630.9,970.1 1631.3,974.3 1631.7,965.7 1632.1,970.3 1632.5,975.8 1632.9,963.7 1633.3,961.3 1633.7,972.5 1634.1,966.4 1634.5,970.9 1634.9,971.1 1635.3,970.9 1635.7,975.0 1636.1,969.2 1636.5,969.4 1636.9,965.9 1637.3,973.0 1637.7,967.7 1638.1,969.3 1638.5,970.6 1638.9,966.4 1639.2,963.1 1639.6,970.8 1640.0,975.6 1640.4,963.5 1640.8,968.9 1641.2,967.6 1641.6,970.4 1642.0,965.3 1642.4,966.9 1642.8,961.7 1643.2,965.6 1643.6,967.7 1644.0,968.1 1644.4,965.0 1644.8,970.7 1645.2,962.7 1645.6,969.3 1646.0,970.7 1646.4,970.7 1646.8,968.3 1647.2,970.5 1647.6,971.2 1648.0,960.9 1648.3,968.5 1648.7,967.3 1649.1,970.8 1649.5,970.1 1649.9,970.1 1650.3,965.5 1650.7,964.8 1651.1,972.1 1651.5,964.7 1651.9,967.0 1652.3,973.2 1652.7,963.8 1653.1,962.1 1653.5,970.2 1653.9,973.0 1654.3,969.1 1654.7,966.0 1655.1,964.2 1655.5,967.7 1655.9,968.3 1656.3,967.4 1656.7,960.0 1657.0,969.7 1657.4,973.9 1657.8,972.2 1658.2,973.9 1658.6,963.2 1659.0,968.7 1659.4,967.8 1659.8,966.1 1660.2,965.4 1660.6,969.3 1661.0,968.2 1661.4,969.2 1661.8,973.7 1662.2,964.6 1662.6,967.0 1663.0,978.2 1663.4,967.7 1663.8,964.9 1664.2,966.2 1664.6,970.1 1665.0,969.4 1665.4,965.7 1665.7,957.5 1666.1,968.0 1666.5,956.7 1666.9,967.0 1667.3,969.5 1667.7,968.1 1668.1,962.5 1668.5,975.6 1668.9,966.9 1669.3,965.9 1669.7,965.8 1670.1,962.4 1670.5,973.1 1670.9,967.2 1671.3,972.2 1671.7,964.9 1672.1,970.4 1672.5,968.6 1672.9,969.7 1673.3,961.8 1673.7,958.8 1674.1,963.6 1674.5,961.3 1674.8,966.7 1675.2,962.2 1675.6,966.5 1676.0,964.2 1676.4,976.0 1676.8,965.4 1677.2,968.3 1677.6,961.6 1678.0,969.4 1678.4,962.5 1678.8,962.1 1679.2,959.6 1679.6,964.3 1680.0,971.3 1680.4,958.8 1680.8,964.8 1681.2,962.0 1681.6,972.4 1682.0,959.3 1682.4,965.7 1682.8,970.4 1683.2,965.3 1683.5,961.4 1683.9,962.4 1684.3,957.6 1684.7,964.5 1685.1,965.6 1685.5,969.3 1685.9,962.1 1686.3,961.9 1686.7,955.9 1687.1,967.1 1687.5,960.9 1687.9,959.1 1688.3,963.4 1688.7,969.8 1689.1,968.2 1689.5,964.5 1689.9,966.3 1690.3,957.3 1690.7,966.5 1691.1,966.1 1691.5,964.3 1691.9,966.5 1692.2,956.9 1692.6,959.9 1693.0,966.7 1693.4,960.0 1693.8,957.3 1694.2,959.2 1694.6,958.5 1695.0,966.1 1695.4,959.2 1695.8,955.6 1696.2,964.8 1696.6,965.9 1697.0,958.9 1697.4,960.3 1697.8,960.0 1698.2,964.3 1698.6,961.1 1699.0,955.5 1699.4,954.1 1699.8,962.6 1700.2,953.5 1700.6,955.4 1701.0,955.4 1701.3,960.1 1701.7,957.4 1702.1,953.6 1702.5,948.9 1702.9,952.7 1703.3,959.9 1703.7,956.2 1704.1,958.5 1704.5,952.0 1704.9,959.7 1705.3,959.7 1705.7,955.0 1706.1,956.2 1706.5,963.9 1706.9,956.7 1707.3,960.2 1707.7,960.8 1708.1,961.6 1708.5,953.7 1708.9,960.9 1709.3,955.3 1709.7,960.5 1710.0,949.7 1710.4,951.3 1710.8,950.2 1711.2,952.2 1711.6,955.8 1712.0,957.8 1712.4,958.5 1712.8,955.7 1713.2,953.0 1713.6,945.4 1714.0,954.6 1714.4,952.3 1714.8,952.0 1715.2,953.0 1715.6,953.3 1716.0,952.4 1716.4,948.8 1716.8,952.8 1717.2,946.5 1717.6,943.9 1718.0,951.1 1718.4,950.7 1718.8,948.1 1719.1,948.6 1719.5,940.6 1719.9,937.0 1720.3,941.4 1720.7,941.4 1721.1,944.7 1721.5,935.9 1721.9,936.0 1722.3,934.5 1722.7,933.8 1723.1,933.6 1723.5,930.6 1723.9,933.3 1724.3,926.3 1724.7,924.7 1725.1,921.6 1725.5,917.1 1725.9,919.6 1726.3,914.2 1726.7,916.8 1727.1,911.8 1727.5,900.2 1727.8,904.0 1728.2,901.7 1728.6,896.4 1729.0,894.0 1729.4,890.8 1729.8,888.3 1730.2,882.4 1730.6,880.0 1731.0,875.8 1731.4,873.5 1731.8,867.2 1732.2,861.7 1732.6,860.0 1733.0,853.1 1733.4,850.0 1733.8,846.8 1734.2,842.7 1734.6,839.7 1735.0,841.4 1735.4,838.4 1735.8,836.2 1736.2,831.5 1736.5,833.0 1736.9,833.4 1737.3,831.9 1737.7,832.7 1738.1,836.7 1738.5,836.8 1738.9,838.2 1739.3,841.6 1739.7,846.7 1740.1,850.1 1740.5,846.5 1740.9,855.9 1741.3,861.7 1741.7,863.1 1742.1,869.2 1742.5,870.8 1742.9,874.9 1743.3,880.8 1743.7,884.0 1744.1,886.4 1744.5,890.1 1744.9,892.9 1745.3,897.0 1745.6,900.4 1746.0,905.4 1746.4,904.8 1746.8,907.6 1747.2,916.8 1747.6,914.3 1748.0,919.4 1748.4,918.1 1748.8,922.1 1749.2,929.3 1749.6,928.5 1750.0,931.3 1750.4,934.2 1750.8,939.0 1751.2,933.1 1751.6,939.3 1752.0,941.4 1752.4,941.1 1752.8,945.7 1753.2,938.3 1753.6,948.6 1754.0,944.0 1754.3,944.8 1754.7,945.7 1755.1,942.8 1755.5,949.7 1755.9,944.0 1756.3,942.3 1756.7,954.5 1757.1,949.8 1757.5,949.8 1757.9,957.3 1758.3,950.6 1758.7,949.9 1759.1,949.2 1759.5,958.9 1759.9,954.8 1760.3,959.3 1760.7,951.1 1761.1,955.5 1761.5,961.8 1761.9,952.0 1762.3,959.1 1762.7,956.4 1763.0,950.2 1763.4,961.2 1763.8,956.8 1764.2,958.7 1764.6,954.2 1765.0,963.7 1765.4,952.8 1765.8,951.4 1766.2,954.8 1766.6,952.0 1767.0,956.5 1767.4,956.0 1767.8,956.3 1768.2,955.2 1768.6,962.2 1769.0,963.7 1769.4,957.8 1769.8,952.7 1770.2,959.7 1770.6,964.6 1771.0,969.7 1771.4,956.8 1771.8,957.4 1772.1,964.1 1772.5,956.4 1772.9,958.1 1773.3,961.9 1773.7,964.6 1774.1,970.6 1774.5,962.9 1774.9,955.4 1775.3,957.0 1775.7,967.4 1776.1,960.4 1776.5,961.1 1776.9,955.6 1777.3,960.1 1777.7,963.4 1778.1,968.4 1778.5,973.0 1778.9,964.6 1779.3,964.3 1779.7,961.6 1780.1,963.1 1780.5,964.3 1780.8,965.6 1781.2,963.0 1781.6,967.3 1782.0,962.3 1782.4,965.3 1782.8,961.0 1783.2,958.7 1783.6,964.6 1784.0,959.8 1784.4,961.3 1784.8,968.6 1785.2,962.7 1785.6,959.3 1786.0,962.8 1786.4,970.1 1786.8,965.9 1787.2,962.7 1787.6,962.5 1788.0,964.7 1788.4,969.7 1788.8,963.1 1789.2,962.1 1789.6,964.6 1789.9,960.2 1790.3,967.7 1790.7,966.4 1791.1,966.9 1791.5,960.9 1791.9,971.5 1792.3,967.1 1792.7,970.4 1793.1,969.6 1793.5,970.3 1793.9,961.2 1794.3,970.0 1794.7,964.9 1795.1,965.1 1795.5,961.7 1795.9,963.8 1796.3,962.7 1796.7,972.3 1797.1,963.1 1797.5,971.6 1797.9,956.8 1798.3,969.4 1798.6,967.3 1799.0,965.9 1799.4,964.2 1799.8,967.4 1800.2,964.6 1800.6,968.2 1801.0,963.1 1801.4,967.7 1801.8,973.4 1802.2,967.8 1802.6,970.0 1803.0,961.7 1803.4,963.0 1803.8,971.9 1804.2,963.7 1804.6,966.2 1805.0,962.8 1805.4,963.2 1805.8,969.4 1806.2,964.3 1806.6,959.3 1807.0,969.6 1807.3,964.6 1807.7,963.3 1808.1,969.7 1808.5,961.9 1808.9,962.3 1809.3,964.3 1809.7,971.6 1810.1,961.3 1810.5,966.4 1810.9,963.4 1811.3,971.9 1811.7,966.3 1812.1,963.4 1812.5,962.6 1812.9,970.1 1813.3,961.2 1813.7,966.4 1814.1,970.1 1814.5,956.1 1814.9,964.9 1815.3,971.1 1815.7,968.9 1816.1,964.6 1816.4,960.2 1816.8,963.0 1817.2,965.0 1817.6,972.5 1818.0,963.5 1818.4,966.5 1818.8,959.6 1819.2,961.0 1819.6,971.3 1820.0,957.5 1820.4,963.3 1820.8,962.7 1821.2,974.0 1821.6,962.2 1822.0,967.2 1822.4,967.8 1822.8,971.7 1823.2,959.9 1823.6,968.9 1824.0,960.1 1824.4,963.4 1824.8,966.0 1825.1,963.8 1825.5,965.7 1825.9,972.0 1826.3,964.9 1826.7,966.3 1827.1,966.5 1827.5,965.9 1827.9,965.3 1828.3,969.9 1828.7,970.2 1829.1,964.9 1829.5,966.3 1829.9,962.2 1830.3,958.6 1830.7,964.8 1831.1,966.6 1831.5,972.7 1831.9,960.6 1832.3,958.7 1832.7,965.6 1833.1,966.3 1833.5,962.5 1833.8,969.0 1834.2,958.6 1834.6,972.3 1835.0,967.6 1835.4,962.9 1835.8,965.7 1836.2,970.4 1836.6,967.7 1837.0,963.3 1837.4,969.1 1837.8,962.2 1838.2,964.9 1838.6,963.4 1839.0,966.5 1839.4,966.7 1839.8,964.0 1840.2,968.4 1840.6,970.1 1841.0,963.7 1841.4,960.2 1841.8,962.4 1842.2,967.8 1842.6,965.7 1842.9,957.2 1843.3,964.8 1843.7,968.1 1844.1,961.4 1844.5,961.0 1844.9,958.7 1845.3,960.9 1845.7,966.2 1846.1,960.7 1846.5,956.1 1846.9,965.4 1847.3,956.4 1847.7,966.3 1848.1,962.4 1848.5,961.6 1848.9,959.2 1849.3,958.7 1849.7,965.1 1850.1,965.9 1850.5,957.7 1850.9,966.7 1851.3,963.7 1851.6,965.0 1852.0,962.3 1852.4,959.2 1852.8,957.7 1853.2,963.5 1853.6,964.8 1854.0,961.5 1854.4,959.7 1854.8,961.6 1855.2,962.4 1855.6,968.0 1856.0,957.9 1856.4,958.5 1856.8,964.0 1857.2,964.7 1857.6,954.9 1858.0,957.1 1858.4,966.4 1858.8,969.4 1859.2,961.9 1859.6,961.5 1860.0,957.7 1860.3,956.4 1860.7,965.4 1861.1,956.1 1861.5,963.4 1861.9,964.9 1862.3,955.7 1862.7,958.1 1863.1,959.7 1863.5,956.6 1863.9,970.5 1864.3,964.2 1864.7,965.7 1865.1,961.4 1865.5,966.7 1865.9,961.3 1866.3,964.2 1866.7,960.5 1867.1,963.9 1867.5,962.1 1867.9,969.0 1868.3,962.9 1868.7,968.4 1869.1,969.8 1869.4,970.0 1869.8,962.6 1870.2,961.8 1870.6,970.1 1871.0,966.7 1871.4,970.2 1871.8,961.2 1872.2,964.1 1872.6,967.1 1873.0,967.2 1873.4,971.0 1873.8,963.9 1874.2,963.9 1874.6,970.1 1875.0,964.1 1875.4,966.2 1875.8,970.9 1876.2,972.7 1876.6,961.0 1877.0,965.0 1877.4,970.8 1877.8,972.3 1878.1,971.0 1878.5,975.4 1878.9,968.2 1879.3,968.7 1879.7,971.9 1880.1,970.5 1880.5,967.0 1880.9,969.1 1881.3,976.3 1881.7,968.8 1882.1,969.3 1882.5,973.5 1882.9,962.6 1883.3,977.7 1883.7,966.8 1884.1,978.3 1884.5,977.9 1884.9,974.3 1885.3,972.7 1885.7,970.5 1886.1,981.2 1886.5,977.1 1886.9,971.8 1887.2,976.2 1887.6,969.5 1888.0,975.2 1888.4,978.9 1888.8,968.5 1889.2,973.3 1889.6,965.0 1890.0,972.0 1890.4,970.8 1890.8,973.3 1891.2,972.5 1891.6,969.3 1892.0,966.6 1892.4,976.6 1892.8,967.2 1893.2,976.3 1893.6,976.6 1894.0,969.7 1894.4,967.6 1894.8,968.8 1895.2,977.7 1895.6,962.8 1895.9,972.1 1896.3,968.1 1896.7,971.8 1897.1,971.5 1897.5,974.2 1897.9,974.6 1898.3,967.7 1898.7,969.0 1899.1,974.8 1899.5,966.6 1899.9,967.0 1900.3,967.4 1900.7,961.7 1901.1,968.4 1901.5,972.1 1901.9,960.5 1902.3,972.5 1902.7,968.6 1903.1,962.1 1903.5,967.8 1903.9,970.3 1904.3,970.9 1904.6,965.9 1905.0,964.5 1905.4,967.7 1905.8,972.6 1906.2,967.5 1906.6,964.4 1907.0,952.9 1907.4,966.2 1907.8,964.0 1908.2,964.3 1908.6,971.8 1909.0,973.2"/>
<polygon fill="#7b2fb5" stroke="none" points="228.0,853.4 251.3,855.4 274.7,860.5 298.0,858.0 358.5,857.7 360.5,856.6 362.5,851.1 364.5,856.5 366.0,857.4 391.4,856.8 414.7,860.5 437.6,860.7 439.2,859.9 440.0,857.8 442.4,839.5 442.8,839.5 443.2,841.8 445.1,858.1 445.9,860.2 447.1,861.1 461.4,861.9 484.7,859.2 523.9,858.9 525.4,858.1 526.6,855.6 529.4,843.4 530.2,844.2 532.2,853.4 533.3,856.2 534.5,856.8 536.5,855.9 538.9,852.3 540.9,841.2 544.0,800.5 544.8,794.8 545.2,794.7 549.6,841.1 551.1,847.5 552.3,848.7 553.9,848.2 556.7,844.4 558.3,838.7 559.8,827.1 561.0,811.9 563.4,757.8 567.0,638.9 568.2,620.6 568.6,620.6 568.9,623.8 569.7,639.0 574.1,780.1 576.9,827.9 578.8,841.8 581.2,848.5 583.2,851.4 586.0,853.9 592.7,857.3 599.0,859.0 605.3,859.9 631.0,861.2 632.2,860.3 633.0,858.6 635.4,848.4 636.2,847.6 638.6,857.6 640.1,861.3 642.5,862.1 648.1,862.5 652.0,862.1 653.2,861.5 654.4,859.4 657.1,844.4 657.9,843.2 660.7,857.6 661.5,859.7 662.7,860.9 671.8,860.5 685.6,862.9 694.7,863.8 698.7,862.4 701.8,860.6 703.8,858.6 706.6,852.0 709.0,837.5 712.1,807.2 713.3,802.3 714.5,806.8 718.9,844.4 721.6,855.0 723.6,858.0 727.2,860.5 732.7,862.7 741.4,865.0 765.1,859.7 788.5,863.3 834.7,860.5 842.7,860.5 845.4,859.7 849.4,857.0 851.0,856.5 858.1,860.7 866.0,861.3 867.2,860.9 868.0,860.0 870.3,851.1 871.1,852.2 873.1,860.1 874.3,861.4 876.3,861.7 928.5,863.0 951.8,862.1 975.2,862.9 998.5,859.7 1012.7,858.6 1019.1,857.5 1024.6,855.4 1028.6,852.6 1032.1,848.5 1035.3,843.3 1038.4,836.3 1049.5,805.7 1051.9,801.5 1054.3,800.0 1056.6,801.5 1059.0,805.6 1068.9,833.3 1074.4,845.1 1077.2,849.1 1080.0,852.0 1083.1,854.2 1087.1,855.7 1099.7,858.0 1112.8,859.6 1138.5,861.2 1161.8,863.5 1185.2,860.9 1231.9,862.3 1255.2,857.0 1264.7,856.8 1271.8,855.8 1276.2,854.5 1279.7,852.5 1283.3,849.2 1286.0,845.2 1290.0,835.2 1293.2,818.0 1295.1,798.4 1297.1,768.3 1302.7,631.1 1303.8,613.3 1304.2,611.1 1304.6,611.1 1306.2,630.9 1311.8,768.1 1315.3,814.6 1318.1,831.8 1321.6,842.7 1324.0,846.9 1326.4,849.8 1329.5,852.5 1333.5,854.6 1341.4,856.8 1371.9,861.3 1395.2,859.4 1418.9,861.2 1456.9,855.6 1461.7,854.0 1465.2,852.1 1468.8,847.8 1472.7,840.5 1476.3,829.8 1479.1,817.0 1481.8,798.6 1486.6,751.2 1495.3,636.8 1497.3,619.9 1498.4,614.6 1499.2,613.3 1500.0,613.9 1501.2,618.4 1503.2,634.3 1512.3,755.3 1515.1,784.5 1517.8,806.8 1521.0,824.3 1524.5,836.3 1528.9,844.5 1531.7,847.5 1534.8,849.8 1538.8,851.4 1544.3,852.4 1559.0,852.8 1582.3,860.6 1605.6,856.3 1629.0,862.2 1652.3,856.7 1675.6,862.2 1687.9,860.0 1697.0,857.7 1703.7,855.3 1708.9,852.4 1712.8,848.7 1716.4,843.4 1719.5,836.6 1722.7,827.3 1731.4,794.8 1733.4,790.4 1735.0,789.5 1736.5,791.1 1738.5,796.1 1746.4,826.2 1751.2,839.3 1754.0,844.4 1756.7,848.0 1759.9,850.9 1763.8,853.1 1776.1,857.2 1789.2,860.4 1815.7,863.8 1885.7,860.9 1909.0,864.3 1909.0,874.2 1885.7,870.8 1815.7,873.6 1788.0,869.8 1775.7,866.6 1764.2,862.3 1760.3,859.8 1756.7,856.2 1754.0,852.0 1751.2,846.1 1746.4,831.1 1738.5,797.5 1736.5,792.1 1735.0,790.4 1733.4,791.4 1731.4,796.1 1722.3,833.8 1719.5,843.0 1716.4,850.8 1712.8,856.8 1708.9,861.1 1704.1,864.2 1697.4,866.9 1687.9,869.5 1675.6,871.8 1652.3,866.4 1629.0,872.0 1605.6,866.0 1582.3,870.2 1559.0,862.1 1544.7,861.4 1539.6,860.2 1535.2,858.3 1532.1,855.7 1529.3,852.3 1524.9,843.4 1521.4,830.2 1518.2,811.9 1515.4,789.4 1512.7,760.3 1503.2,634.3 1501.2,618.4 1500.0,613.9 1499.2,613.3 1498.4,614.6 1497.3,619.9 1495.3,636.8 1486.2,756.3 1481.4,803.8 1478.7,822.7 1475.5,838.0 1471.9,849.0 1468.0,856.6 1464.0,861.0 1460.1,863.2 1455.7,864.7 1418.9,870.8 1395.2,869.1 1371.9,870.9 1342.2,866.2 1334.7,864.0 1330.7,861.8 1327.6,859.1 1324.8,855.6 1322.4,851.2 1318.5,838.4 1315.7,821.0 1313.7,800.3 1311.8,769.3 1306.2,630.9 1304.6,611.1 1304.2,611.1 1303.8,613.3 1302.7,631.1 1296.7,776.7 1294.7,805.4 1292.8,824.3 1289.6,842.0 1287.6,848.5 1285.3,853.8 1282.5,858.0 1278.9,861.5 1275.4,863.6 1270.6,865.2 1263.9,866.2 1255.2,866.6 1231.9,872.1 1185.2,870.8 1161.8,873.4 1138.5,871.0 1112.4,869.4 1099.4,867.6 1087.5,865.1 1083.5,863.4 1080.4,861.0 1077.2,857.3 1074.4,852.6 1068.9,839.1 1059.4,808.8 1056.6,803.3 1054.3,801.7 1051.9,803.3 1049.5,808.0 1038.4,842.5 1035.3,850.5 1032.1,856.5 1028.6,861.2 1024.6,864.5 1019.5,866.8 1013.1,868.2 998.5,869.4 975.2,872.8 951.8,872.0 928.5,872.9 879.8,871.8 875.1,871.2 873.5,870.3 871.1,861.8 870.3,860.7 868.0,869.5 867.2,870.5 865.6,871.0 861.6,871.1 858.1,870.5 851.0,866.1 849.4,866.6 845.0,869.6 842.3,870.3 788.5,873.3 765.1,870.0 741.4,875.8 733.1,873.8 727.6,871.5 724.4,869.1 722.0,865.3 720.4,860.3 718.9,851.8 714.5,812.2 713.3,807.8 712.1,812.7 708.6,847.7 706.2,862.2 703.4,869.6 701.4,872.0 698.3,874.2 695.1,875.6 692.7,875.7 671.8,873.1 666.2,873.5 663.1,873.1 661.9,872.2 660.7,869.3 657.9,854.9 657.1,856.2 655.2,868.2 654.0,872.4 652.4,874.3 649.6,875.3 643.7,875.3 640.1,873.8 638.6,870.1 636.2,860.1 635.4,861.0 632.6,872.2 631.8,873.5 630.3,874.3 621.6,874.6 607.3,874.1 600.6,873.3 593.5,871.5 589.5,869.7 586.3,867.5 584.0,864.9 582.0,861.5 579.2,852.4 577.3,838.5 574.5,793.7 569.7,639.3 568.9,623.9 568.6,620.6 568.2,620.6 567.0,639.2 563.4,760.7 561.0,817.1 558.3,846.8 556.3,855.3 553.9,859.5 552.7,859.8 551.5,858.4 550.0,852.4 545.2,802.4 544.8,802.5 544.0,808.4 540.9,850.5 538.5,865.0 536.5,869.2 534.9,870.5 533.7,870.5 532.6,868.7 530.2,858.5 529.4,857.8 526.2,871.4 524.6,873.7 521.5,874.9 484.7,876.5 461.4,879.8 449.9,879.1 446.7,877.9 445.5,876.3 443.2,858.7 442.8,856.4 442.4,856.4 439.6,876.0 438.4,877.5 433.7,878.7 414.7,878.8 391.4,875.1 366.0,875.5 364.5,874.5 362.5,869.1 360.5,874.6 358.5,875.7 344.7,876.4 298.0,876.4 274.7,878.9 251.3,873.8 228.0,871.8"/>
<polyline stroke="#7b2fb5" stroke-width="3.4" points="228.0,860.5 228.4,870.4 228.8,868.4 229.2,870.6 229.6,856.2 230.0,854.4 230.4,871.8 230.8,855.4 231.2,855.9 231.6,867.9 232.0,867.4 232.4,862.2 232.7,876.8 233.1,857.2 233.5,876.2 233.9,864.1 234.3,855.4 234.7,857.3 235.1,863.6 235.5,872.4 235.9,866.5 236.3,867.6 236.7,866.3 237.1,862.1 237.5,866.3 237.9,868.2 238.3,852.1 238.7,857.0 239.1,861.1 239.5,861.7 239.9,870.9 240.3,857.5 240.7,862.0 241.1,864.4 241.4,865.0 241.8,855.7 242.2,870.6 242.6,860.7 243.0,857.4 243.4,862.0 243.8,866.9 244.2,858.7 244.6,874.8 245.0,854.1 245.4,867.8 245.8,860.5 246.2,856.9 246.6,874.7 247.0,867.1 247.4,865.4 247.8,857.2 248.2,867.0 248.6,859.4 249.0,865.2 249.4,879.9 249.8,859.7 250.1,867.7 250.5,859.2 250.9,875.9 251.3,855.3 251.7,871.9 252.1,860.8 252.5,856.0 252.9,884.5 253.3,860.9 253.7,860.2 254.1,862.0 254.5,874.8 254.9,867.8 255.3,864.9 255.7,877.4 256.1,870.2 256.5,878.1 256.9,860.0 257.3,859.9 257.7,863.8 258.1,858.8 258.5,873.9 258.9,860.6 259.2,863.6 259.6,866.3 260.0,871.6 260.4,862.5 260.8,875.9 261.2,870.9 261.6,853.4 262.0,873.9 262.4,869.7 262.8,862.7 263.2,875.0 263.6,871.5 264.0,860.8 264.4,875.9 264.8,860.1 265.2,870.9 265.6,868.9 266.0,874.7 266.4,866.8 266.8,858.6 267.2,868.2 267.6,877.9 267.9,866.8 268.3,864.6 268.7,860.9 269.1,872.3 269.5,870.2 269.9,872.4 270.3,869.8 270.7,869.0 271.1,865.5 271.5,866.2 271.9,864.5 272.3,867.8 272.7,868.4 273.1,874.0 273.5,874.7 273.9,872.1 274.3,864.3 274.7,869.9 275.1,873.0 275.5,870.7 275.9,866.7 276.3,873.1 276.7,878.7 277.0,863.9 277.4,869.3 277.8,877.0 278.2,861.4 278.6,880.7 279.0,861.6 279.4,864.5 279.8,885.3 280.2,863.9 280.6,858.4 281.0,867.4 281.4,856.5 281.8,868.2 282.2,874.7 282.6,876.4 283.0,863.7 283.4,865.9 283.8,872.2 284.2,864.4 284.6,854.9 285.0,862.5 285.4,863.6 285.7,864.2 286.1,871.9 286.5,866.3 286.9,868.7 287.3,871.1 287.7,872.5 288.1,865.1 288.5,859.1 288.9,880.4 289.3,866.9 289.7,869.8 290.1,867.0 290.5,869.5 290.9,870.9 291.3,881.3 291.7,873.0 292.1,871.9 292.5,875.2 292.9,874.0 293.3,870.4 293.7,858.7 294.1,868.8 294.4,874.3 294.8,860.7 295.2,871.6 295.6,876.8 296.0,870.8 296.4,863.7 296.8,877.6 297.2,872.8 297.6,869.7 298.0,863.8 298.4,852.3 298.8,868.3 299.2,856.9 299.6,874.7 300.0,868.7 300.4,871.0 300.8,866.8 301.2,864.7 301.6,864.9 302.0,862.6 302.4,864.0 302.8,863.8 303.2,859.5 303.5,874.2 303.9,873.0 304.3,863.9 304.7,875.3 305.1,865.5 305.5,863.4 305.9,866.2 306.3,865.7 306.7,861.0 307.1,861.8 307.5,862.7 307.9,866.1 308.3,865.6 308.7,871.4 309.1,860.5 309.5,877.4 309.9,866.3 310.3,877.2 310.7,872.3 311.1,858.4 311.5,865.1 311.9,872.5 312.2,876.9 312.6,868.9 313.0,865.5 313.4,870.1 313.8,876.6 314.2,861.9 314.6,882.2 315.0,867.6 315.4,866.7 315.8,863.4 316.2,866.9 316.6,878.7 317.0,867.1 317.4,865.2 317.8,863.8 318.2,858.2 318.6,869.8 319.0,861.0 319.4,864.8 319.8,862.5 320.2,876.6 320.6,878.2 320.9,869.6 321.3,873.6 321.7,858.7 322.1,868.0 322.5,863.4 322.9,876.7 323.3,876.7 323.7,858.7 324.1,868.4 324.5,865.7 324.9,865.6 325.3,865.6 325.7,868.1 326.1,864.4 326.5,879.5 326.9,872.0 327.3,866.6 327.7,855.9 328.1,863.9 328.5,860.2 328.9,862.7 329.3,869.2 329.7,880.6 330.0,859.5 330.4,862.2 330.8,864.4 331.2,869.2 331.6,873.8 332.0,870.7 332.4,868.9 332.8,872.3 333.2,865.8 333.6,862.3 334.0,860.8 334.4,874.0 334.8,856.6 335.2,865.6 335.6,872.9 336.0,869.1 336.4,863.2 336.8,875.0 337.2,868.5 337.6,863.3 338.0,864.9 338.4,870.4 338.7,872.6 339.1,869.2 339.5,872.0 339.9,860.4 340.3,870.9 340.7,851.3 341.1,870.7 341.5,869.1 341.9,864.2 342.3,864.3 342.7,860.2 343.1,871.6 343.5,884.7 343.9,862.0 344.3,866.6 344.7,863.0 345.1,866.2 345.5,868.5 345.9,859.4 346.3,857.5 346.7,874.8 347.1,870.0 347.4,855.8 347.8,857.5 348.2,878.6 348.6,861.9 349.0,862.1 349.4,867.7 349.8,861.6 350.2,868.6 350.6,863.1 351.0,875.1 351.4,864.7 351.8,862.0 352.2,870.4 352.6,865.5 353.0,862.9 353.4,863.4 353.8,862.3 354.2,860.5 354.6,871.3 355.0,872.3 355.4,870.5 355.8,856.4 356.2,874.8 356.5,862.1 356.9,864.9 357.3,867.4 357.7,871.5 358.1,864.8 358.5,872.0 358.9,863.9 359.3,878.1 359.7,867.7 360.1,874.4 360.5,862.4 360.9,872.2 361.3,873.5 361.7,862.7 362.1,865.6 362.5,852.8 362.9,861.7 363.3,866.0 363.7,871.5 364.1,873.2 364.5,867.8 364.9,865.4 365.2,864.2 365.6,860.8 366.0,862.7 366.4,857.9 366.8,877.4 367.2,855.7 367.6,868.9 368.0,867.5 368.4,864.6 368.8,870.5 369.2,873.7 369.6,862.3 370.0,857.9 370.4,863.4 370.8,873.7 371.2,864.3 371.6,865.0 372.0,877.6 372.4,861.5 372.8,870.4 373.2,878.0 373.6,856.5 374.0,861.2 374.3,854.1 374.7,859.2 375.1,857.7 375.5,866.3 375.9,861.0 376.3,857.0 376.7,871.2 377.1,874.4 377.5,873.2 377.9,867.5 378.3,865.9 378.7,860.9 379.1,862.3 379.5,869.1 379.9,869.1 380.3,865.2 380.7,862.7 381.1,864.1 381.5,853.2 381.9,854.2 382.3,873.5 382.7,858.6 383.0,859.2 383.4,859.3 383.8,876.2 384.2,867.7 384.6,868.3 385.0,870.9 385.4,857.2 385.8,872.5 386.2,863.7 386.6,860.0 387.0,872.8 387.4,854.6 387.8,865.5 388.2,872.2 388.6,868.0 389.0,860.8 389.4,863.4 389.8,860.4 390.2,867.4 390.6,861.6 391.0,871.7 391.4,865.1 391.7,864.9 392.1,874.1 392.5,851.7 392.9,872.7 393.3,866.6 393.7,875.4 394.1,865.5 394.5,861.6 394.9,865.7 395.3,856.7 395.7,870.2 396.1,873.1 396.5,859.7 396.9,879.6 397.3,867.7 397.7,869.7 398.1,865.2 398.5,853.7 398.9,870.0 399.3,865.9 399.7,864.3 400.1,862.7 400.5,873.4 400.8,857.6 401.2,870.8 401.6,878.6 402.0,873.8 402.4,876.8 402.8,872.8 403.2,860.2 403.6,875.6 404.0,857.5 404.4,865.9 404.8,877.1 405.2,863.2 405.6,862.2 406.0,867.3 406.4,862.9 406.8,872.8 407.2,860.5 407.6,874.3 408.0,858.1 408.4,859.0 408.8,869.9 409.2,875.5 409.5,863.3 409.9,878.2 410.3,859.3 410.7,876.1 411.1,864.7 411.5,864.0 411.9,869.5 412.3,870.2 412.7,868.3 413.1,864.2 413.5,872.1 413.9,869.6 414.3,874.5 414.7,875.3 415.1,872.0 415.5,872.8 415.9,865.7 416.3,868.5 416.7,861.2 417.1,875.6 417.5,859.3 417.9,878.7 418.2,871.7 418.6,880.1 419.0,863.1 419.4,863.2 419.8,863.8 420.2,871.1 420.6,862.2 421.0,868.9 421.4,873.3 421.8,872.9 422.2,874.9 422.6,883.3 423.0,870.8 423.4,881.0 423.8,864.5 424.2,864.2 424.6,864.7 425.0,877.8 425.4,869.5 425.8,867.4 426.2,874.5 426.6,866.5 427.0,860.9 427.3,861.4 427.7,873.8 428.1,861.8 428.5,862.3 428.9,861.2 429.3,863.1 429.7,874.8 430.1,881.3 430.5,869.7 430.9,870.4 431.3,870.8 431.7,875.4 432.1,874.4 432.5,880.4 432.9,865.7 433.3,879.3 433.7,871.5 434.1,864.9 434.5,874.6 434.9,864.9 435.3,866.6 435.7,877.9 436.0,869.6 436.4,870.4 436.8,880.6 437.2,860.2 437.6,866.9 438.0,866.7 438.4,874.9 438.8,866.1 439.2,869.3 439.6,880.4 440.0,859.7 440.4,872.1 440.8,867.7 441.2,852.9 441.6,853.1 442.0,846.4 442.4,852.0 442.8,843.1 443.2,851.5 443.6,857.3 444.0,856.2 444.4,871.7 444.8,867.9 445.1,867.0 445.5,862.3 445.9,864.6 446.3,876.9 446.7,874.7 447.1,867.1 447.5,874.5 447.9,867.3 448.3,876.8 448.7,862.9 449.1,863.0 449.5,867.8 449.9,875.9 450.3,875.7 450.7,859.2 451.1,866.6 451.5,876.4 451.9,873.7 452.3,868.4 452.7,869.5 453.1,875.0 453.5,867.0 453.8,873.8 454.2,868.4 454.6,865.0 455.0,866.1 455.4,879.9 455.8,872.0 456.2,878.1 456.6,870.7 457.0,870.2 457.4,879.3 457.8,879.8 458.2,881.4 458.6,871.3 459.0,863.4 459.4,867.9 459.8,880.7 460.2,866.4 460.6,871.5 461.0,865.4 461.4,873.1 461.8,872.8 462.2,865.5 462.5,861.7 462.9,870.9 463.3,877.1 463.7,877.1 464.1,866.9 464.5,869.9 464.9,866.7 465.3,878.5 465.7,873.8 466.1,862.1 466.5,869.6 466.9,861.1 467.3,872.3 467.7,871.2 468.1,878.0 468.5,863.4 468.9,873.4 469.3,867.7 469.7,865.2 470.1,869.8 470.5,872.2 470.9,878.2 471.3,865.7 471.6,864.7 472.0,868.0 472.4,871.5 472.8,866.7 473.2,872.6 473.6,870.3 474.0,875.3 474.4,880.5 474.8,862.1 475.2,864.7 475.6,874.6 476.0,858.6 476.4,861.7 476.8,878.1 477.2,877.9 477.6,860.8 478.0,867.3 478.4,872.5 478.8,863.5 479.2,865.6 479.6,871.0 480.0,869.8 480.3,861.8 480.7,868.6 481.1,871.3 481.5,879.1 481.9,853.4 482.3,879.0 482.7,874.6 483.1,866.4 483.5,872.6 483.9,868.1 484.3,860.3 484.7,868.0 485.1,876.9 485.5,876.5 485.9,867.9 486.3,874.0 486.7,869.1 487.1,864.6 487.5,874.4 487.9,866.9 488.3,868.8 488.7,863.3 489.0,876.0 489.4,871.5 489.8,872.1 490.2,860.4 490.6,865.4 491.0,867.2 491.4,869.8 491.8,869.5 492.2,874.6 492.6,870.9 493.0,869.2 493.4,869.7 493.8,858.9 494.2,875.2 494.6,876.5 495.0,865.2 495.4,864.3 495.8,869.9 496.2,862.6 496.6,862.1 497.0,880.4 497.4,872.6 497.8,865.5 498.1,866.0 498.5,856.5 498.9,858.0 499.3,872.4 499.7,869.6 500.1,867.4 500.5,867.1 500.9,870.9 501.3,866.3 501.7,867.1 502.1,863.9 502.5,864.3 502.9,872.3 503.3,876.0 503.7,873.5 504.1,877.3 504.5,864.9 504.9,860.8 505.3,871.1 505.7,870.3 506.1,862.3 506.5,861.0 506.8,861.7 507.2,872.1 507.6,876.2 508.0,865.2 508.4,856.9 508.8,858.1 509.2,859.4 509.6,870.4 510.0,866.1 510.4,872.6 510.8,868.5 511.2,871.3 511.6,873.5 512.0,863.8 512.4,874.0 512.8,877.9 513.2,863.9 513.6,871.4 514.0,870.9 514.4,864.6 514.8,869.7 515.2,865.9 515.5,876.6 515.9,865.2 516.3,863.5 516.7,873.7 517.1,865.8 517.5,866.6 517.9,863.3 518.3,865.8 518.7,876.0 519.1,862.5 519.5,875.4 519.9,864.6 520.3,857.2 520.7,861.6 521.1,872.7 521.5,873.9 521.9,859.0 522.3,868.6 522.7,865.6 523.1,873.7 523.5,872.7 523.9,865.8 524.3,853.8 524.6,853.3 525.0,859.5 525.4,874.1 525.8,867.7 526.2,864.0 526.6,853.9 527.0,870.1 527.4,860.6 527.8,864.3 528.2,850.6 528.6,854.6 529.0,849.6 529.4,860.5 529.8,851.1 530.2,840.1 530.6,856.5 531.0,858.3 531.4,853.3 531.8,859.7 532.2,864.9 532.6,862.7 533.0,866.8 533.3,871.9 533.7,860.1 534.1,871.4 534.5,860.6 534.9,861.0 535.3,864.6 535.7,862.5 536.1,861.8 536.5,862.8 536.9,851.4 537.3,868.1 537.7,864.5 538.1,870.1 538.5,864.0 538.9,862.7 539.3,855.4 539.7,855.3 540.1,850.3 540.5,847.6 540.9,851.4 541.3,841.1 541.7,834.9 542.1,832.4 542.4,822.1 542.8,813.7 543.2,815.5 543.6,806.5 544.0,801.4 544.4,800.1 544.8,798.1 545.2,799.8 545.6,797.1 546.0,801.2 546.4,810.2 546.8,814.2 547.2,819.0 547.6,827.3 548.0,827.7 548.4,837.5 548.8,840.1 549.2,844.7 549.6,848.5 550.0,841.6 550.4,844.9 550.8,848.0 551.1,849.4 551.5,852.5 551.9,856.2 552.3,847.5 552.7,854.3 553.1,847.7 553.5,847.6 553.9,858.0 554.3,850.7 554.7,857.2 555.1,855.5 555.5,858.2 555.9,849.9 556.3,854.3 556.7,849.5 557.1,854.4 557.5,846.9 557.9,847.2 558.3,837.5 558.7,837.6 559.1,841.8 559.5,837.6 559.8,832.0 560.2,831.9 560.6,819.4 561.0,807.7 561.4,807.7 561.8,797.7 562.2,792.8 562.6,778.7 563.0,767.5 563.4,759.1 563.8,744.3 564.2,731.6 564.6,717.7 565.0,701.5 565.4,692.4 565.8,675.2 566.2,664.4 566.6,653.8 567.0,638.0 567.4,627.4 567.8,622.5 568.2,618.2 568.6,619.8 568.9,622.7 569.3,627.6 569.7,639.2 570.1,652.6 570.5,660.3 570.9,679.1 571.3,691.6 571.7,710.1 572.1,715.4 572.5,734.3 572.9,746.4 573.3,763.5 573.7,770.2 574.1,782.2 574.5,791.5 574.9,802.4 575.3,809.1 575.7,819.9 576.1,824.4 576.5,832.3 576.9,835.5 577.3,840.9 577.6,833.3 578.0,846.3 578.4,844.5 578.8,847.1 579.2,847.8 579.6,844.9 580.0,848.7 580.4,853.3 580.8,854.0 581.2,851.3 581.6,850.4 582.0,848.0 582.4,856.7 582.8,862.9 583.2,858.2 583.6,852.7 584.0,861.9 584.4,857.8 584.8,847.0 585.2,866.1 585.6,852.4 586.0,861.2 586.3,868.8 586.7,852.8 587.1,857.9 587.5,856.1 587.9,854.1 588.3,870.1 588.7,862.6 589.1,864.3 589.5,862.0 589.9,858.9 590.3,867.3 590.7,866.8 591.1,860.1 591.5,864.9 591.9,854.8 592.3,863.5 592.7,853.8 593.1,860.8 593.5,857.2 593.9,856.1 594.3,854.8 594.7,866.9 595.1,869.8 595.4,873.0 595.8,856.4 596.2,864.1 596.6,869.4 597.0,856.5 597.4,874.5 597.8,867.8 598.2,856.9 598.6,863.1 599.0,867.7 599.4,864.0 599.8,867.5 600.2,868.9 600.6,876.4 601.0,871.4 601.4,871.5 601.8,860.1 602.2,871.2 602.6,869.4 603.0,868.9 603.4,869.6 603.8,875.5 604.1,870.7 604.5,866.4 604.9,864.4 605.3,865.2 605.7,860.3 606.1,859.7 606.5,877.8 606.9,864.9 607.3,865.6 607.7,865.1 608.1,864.6 608.5,877.8 608.9,862.5 609.3,865.4 609.7,861.8 610.1,864.1 610.5,858.4 610.9,862.9 611.3,870.9 611.7,875.7 612.1,871.6 612.5,875.6 612.9,862.4 613.2,873.9 613.6,861.9 614.0,863.3 614.4,864.9 614.8,866.0 615.2,858.7 615.6,861.5 616.0,876.1 616.4,865.9 616.8,858.7 617.2,861.6 617.6,867.2 618.0,858.0 618.4,861.1 618.8,865.2 619.2,872.0 619.6,875.3 620.0,879.1 620.4,869.7 620.8,872.5 621.2,871.7 621.6,863.8 621.9,863.5 622.3,877.9 622.7,879.2 623.1,861.0 623.5,864.0 623.9,872.3 624.3,863.5 624.7,873.1 625.1,867.5 625.5,867.5 625.9,861.6 626.3,866.7 626.7,868.4 627.1,869.6 627.5,863.8 627.9,871.2 628.3,876.2 628.7,870.6 629.1,868.1 629.5,875.0 629.9,860.0 630.3,875.4 630.6,865.5 631.0,866.4 631.4,863.4 631.8,855.3 632.2,863.3 632.6,861.6 633.0,866.9 633.4,869.1 633.8,859.5 634.2,864.8 634.6,856.9 635.0,859.7 635.4,849.0 635.8,860.1 636.2,851.7 636.6,857.1 637.0,860.4 637.4,855.7 637.8,859.6 638.2,863.4 638.6,865.0 639.0,867.2 639.4,869.7 639.7,868.5 640.1,861.9 640.5,866.3 640.9,861.5 641.3,873.1 641.7,877.7 642.1,870.5 642.5,863.2 642.9,867.9 643.3,870.7 643.7,873.7 644.1,871.0 644.5,862.4 644.9,861.3 645.3,872.4 645.7,862.2 646.1,878.0 646.5,874.1 646.9,862.5 647.3,864.9 647.7,866.9 648.1,866.5 648.4,866.9 648.8,866.6 649.2,872.0 649.6,866.3 650.0,867.5 650.4,863.9 650.8,863.7 651.2,867.6 651.6,859.9 652.0,868.9 652.4,864.0 652.8,872.7 653.2,869.3 653.6,871.1 654.0,860.5 654.4,861.0 654.8,857.7 655.2,863.1 655.6,859.1 656.0,862.2 656.4,855.7 656.8,850.3 657.1,856.7 657.5,849.9 657.9,847.1 658.3,852.1 658.7,851.2 659.1,859.2 659.5,850.7 659.9,858.8 660.3,867.3 660.7,861.7 661.1,864.4 661.5,862.6 661.9,867.6 662.3,873.3 662.7,871.1 663.1,872.5 663.5,859.7 663.9,864.3 664.3,867.9 664.7,868.8 665.1,862.8 665.5,868.9 665.9,868.4 666.2,871.4 666.6,864.7 667.0,877.7 667.4,861.9 667.8,867.9 668.2,874.9 668.6,865.4 669.0,869.4 669.4,874.0 669.8,868.1 670.2,874.3 670.6,869.1 671.0,861.6 671.4,855.6 671.8,870.5 672.2,861.8 672.6,860.7 673.0,870.1 673.4,861.7 673.8,866.1 674.2,862.6 674.6,865.7 674.9,867.5 675.3,861.3 675.7,867.8 676.1,878.3 676.5,864.3 676.9,870.5 677.3,859.9 677.7,859.9 678.1,867.3 678.5,866.1 678.9,865.6 679.3,867.2 679.7,871.1 680.1,868.6 680.5,868.1 680.9,861.8 681.3,867.3 681.7,872.8 682.1,869.7 682.5,859.7 682.9,867.0 683.3,870.6 683.6,870.1 684.0,865.0 684.4,867.6 684.8,874.3 685.2,860.2 685.6,875.2 686.0,866.3 686.4,871.1 686.8,874.3 687.2,877.0 687.6,869.9 688.0,874.1 688.4,875.2 688.8,866.9 689.2,865.1 689.6,862.6 690.0,870.9 690.4,876.0 690.8,862.8 691.2,871.3 691.6,871.6 692.0,876.5 692.4,872.7 692.7,866.3 693.1,867.6 693.5,876.4 693.9,874.6 694.3,872.7 694.7,868.8 695.1,869.7 695.5,876.8 695.9,868.6 696.3,868.4 696.7,864.4 697.1,868.6 697.5,874.4 697.9,878.1 698.3,871.1 698.7,872.9 699.1,874.0 699.5,873.1 699.9,872.4 700.3,866.9 700.7,867.8 701.1,863.1 701.4,867.8 701.8,861.3 702.2,864.6 702.6,859.3 703.0,869.6 703.4,864.1 703.8,857.9 704.2,861.9 704.6,858.9 705.0,862.2 705.4,857.1 705.8,864.9 706.2,856.1 706.6,861.4 707.0,856.9 707.4,852.0 707.8,852.7 708.2,852.4 708.6,843.6 709.0,839.5 709.4,839.5 709.8,837.7 710.2,833.0 710.5,824.3 710.9,820.0 711.3,819.1 711.7,813.7 712.1,808.4 712.5,810.6 712.9,807.5 713.3,806.3 713.7,803.6 714.1,809.7 714.5,810.6 714.9,809.9 715.3,815.9 715.7,822.5 716.1,830.5 716.5,826.5 716.9,831.4 717.3,834.3 717.7,836.6 718.1,844.9 718.5,846.2 718.9,851.8 719.2,853.1 719.6,856.6 720.0,854.6 720.4,854.0 720.8,852.3 721.2,861.1 721.6,852.7 722.0,855.3 722.4,855.8 722.8,865.9 723.2,855.3 723.6,869.6 724.0,865.9 724.4,865.0 724.8,861.2 725.2,857.4 725.6,863.5 726.0,863.2 726.4,862.6 726.8,867.3 727.2,860.7 727.6,866.4 727.9,862.1 728.3,865.8 728.7,869.9 729.1,866.9 729.5,862.3 729.9,867.9 730.3,872.7 730.7,865.6 731.1,860.0 731.5,872.6 731.9,870.3 732.3,866.7 732.7,871.8 733.1,871.9 733.5,873.9 733.9,873.4 734.3,872.7 734.7,871.3 735.1,871.1 735.5,866.9 735.9,870.0 736.3,866.9 736.7,865.4 737.0,865.0 737.4,866.5 737.8,866.2 738.2,866.1 738.6,872.5 739.0,862.4 739.4,875.4 739.8,868.4 740.2,867.7 740.6,870.5 741.0,864.2 741.4,875.0 741.8,875.1 742.2,868.3 742.6,876.1 743.0,870.2 743.4,870.5 743.8,873.0 744.2,869.5 744.6,871.6 745.0,868.7 745.4,869.3 745.7,866.2 746.1,864.4 746.5,874.5 746.9,872.3 747.3,870.9 747.7,872.7 748.1,873.6 748.5,871.5 748.9,873.2 749.3,865.9 749.7,872.9 750.1,870.1 750.5,880.1 750.9,865.7 751.3,863.5 751.7,866.7 752.1,862.7 752.5,866.0 752.9,869.8 753.3,864.4 753.7,874.6 754.1,868.6 754.4,865.4 754.8,869.8 755.2,869.8 755.6,867.8 756.0,870.8 756.4,866.2 756.8,863.2 757.2,871.2 757.6,870.1 758.0,871.2 758.4,865.0 758.8,864.3 759.2,865.8 759.6,864.0 760.0,860.9 760.4,872.6 760.8,870.3 761.2,860.3 761.6,863.3 762.0,859.9 762.4,870.5 762.8,865.6 763.2,857.3 763.5,872.5 763.9,866.9 764.3,865.1 764.7,857.1 765.1,868.0 765.5,866.7 765.9,862.5 766.3,869.8 766.7,860.6 767.1,869.9 767.5,866.1 767.9,864.4 768.3,858.7 768.7,866.9 769.1,868.4 769.5,869.3 769.9,866.9 770.3,871.5 770.7,867.7 771.1,867.9 771.5,868.7 771.9,857.5 772.2,871.1 772.6,867.3 773.0,865.5 773.4,870.5 773.8,860.3 774.2,866.9 774.6,869.4 775.0,867.4 775.4,871.9 775.8,870.3 776.2,865.7 776.6,868.9 777.0,865.5 777.4,860.3 777.8,864.5 778.2,868.3 778.6,860.2 779.0,872.5 779.4,860.1 779.8,861.3 780.2,869.4 780.6,866.0 781.0,866.4 781.3,863.5 781.7,868.4 782.1,869.0 782.5,868.0 782.9,869.4 783.3,866.5 783.7,865.4 784.1,870.5 784.5,869.0 784.9,868.8 785.3,874.0 785.7,868.2 786.1,866.5 786.5,865.0 786.9,873.0 787.3,862.9 787.7,861.8 788.1,867.6 788.5,868.6 788.9,873.9 789.3,870.0 789.7,868.1 790.0,872.5 790.4,868.9 790.8,865.2 791.2,867.2 791.6,871.7 792.0,871.6 792.4,867.5 792.8,861.6 793.2,867.1 793.6,867.6 794.0,862.2 794.4,867.2 794.8,865.9 795.2,865.9 795.6,862.3 796.0,871.5 796.4,874.2 796.8,874.1 797.2,865.9 797.6,872.6 798.0,860.3 798.4,870.0 798.7,872.8 799.1,862.4 799.5,870.3 799.9,870.3 800.3,875.4 800.7,866.2 801.1,863.9 801.5,863.1 801.9,873.0 802.3,872.7 802.7,870.5 803.1,871.9 803.5,863.0 803.9,870.5 804.3,860.7 804.7,869.9 805.1,872.4 805.5,866.4 805.9,871.4 806.3,872.7 806.7,871.2 807.1,871.2 807.5,870.0 807.8,865.6 808.2,869.5 808.6,870.7 809.0,862.8 809.4,873.7 809.8,869.0 810.2,868.1 810.6,863.7 811.0,872.5 811.4,865.4 811.8,862.8 812.2,862.0 812.6,870.5 813.0,871.6 813.4,869.2 813.8,872.6 814.2,867.5 814.6,861.2 815.0,864.0 815.4,872.4 815.8,863.0 816.2,872.8 816.5,864.5 816.9,865.9 817.3,860.2 817.7,866.8 818.1,861.8 818.5,864.3 818.9,865.8 819.3,860.6 819.7,864.0 820.1,863.9 820.5,868.1 820.9,868.2 821.3,864.1 821.7,863.4 822.1,871.1 822.5,869.1 822.9,866.1 823.3,869.5 823.7,861.1 824.1,863.5 824.5,867.2 824.9,867.4 825.2,863.5 825.6,864.9 826.0,870.2 826.4,868.9 826.8,858.6 827.2,864.1 827.6,867.9 828.0,861.6 828.4,867.5 828.8,865.0 829.2,861.8 829.6,868.9 830.0,870.1 830.4,867.6 830.8,870.6 831.2,864.2 831.6,862.6 832.0,870.8 832.4,860.5 832.8,864.8 833.2,863.6 833.6,858.1 834.0,865.5 834.3,868.1 834.7,864.3 835.1,872.1 835.5,866.9 835.9,866.4 836.3,866.2 836.7,860.9 837.1,864.8 837.5,862.1 837.9,867.1 838.3,870.2 838.7,859.0 839.1,865.0 839.5,861.6 839.9,862.7 840.3,864.9 840.7,865.5 841.1,864.3 841.5,863.4 841.9,864.1 842.3,860.5 842.7,866.1 843.0,864.0 843.4,861.9 843.8,865.5 844.2,860.4 844.6,864.9 845.0,863.5 845.4,862.4 845.8,866.8 846.2,862.4 846.6,859.7 847.0,863.3 847.4,857.1 847.8,866.8 848.2,865.9 848.6,862.1 849.0,860.5 849.4,862.6 849.8,864.5 850.2,856.9 850.6,863.6 851.0,859.2 851.4,858.8 851.7,857.0 852.1,861.8 852.5,865.5 852.9,859.1 853.3,866.3 853.7,865.1 854.1,857.2 854.5,857.4 854.9,862.8 855.3,857.5 855.7,864.3 856.1,862.3 856.5,864.5 856.9,871.8 857.3,858.7 857.7,864.6 858.1,863.4 858.5,872.3 858.9,873.9 859.3,865.6 859.7,860.0 860.1,868.7 860.5,864.5 860.8,871.5 861.2,866.5 861.6,857.4 862.0,860.7 862.4,863.6 862.8,863.2 863.2,862.9 863.6,864.8 864.0,863.5 864.4,863.0 864.8,870.8 865.2,865.3 865.6,864.9 866.0,866.8 866.4,862.7 866.8,861.1 867.2,867.9 867.6,867.3 868.0,859.8 868.4,866.7 868.8,856.9 869.2,857.5 869.5,861.3 869.9,853.1 870.3,856.8 870.7,859.5 871.1,852.2 871.5,858.8 871.9,856.4 872.3,869.1 872.7,866.3 873.1,866.3 873.5,864.5 873.9,864.7 874.3,863.8 874.7,869.1 875.1,861.1 875.5,863.7 875.9,874.0 876.3,864.4 876.7,865.1 877.1,862.2 877.5,868.7 877.9,872.9 878.3,864.7 878.6,870.5 879.0,873.3 879.4,865.7 879.8,861.0 880.2,863.2 880.6,866.2 881.0,864.2 881.4,867.0 881.8,866.9 882.2,862.9 882.6,871.4 883.0,864.5 883.4,862.4 883.8,864.0 884.2,864.0 884.6,866.4 885.0,869.2 885.4,867.4 885.8,862.5 886.2,869.6 886.6,869.2 887.0,866.1 887.3,865.6 887.7,868.5 888.1,866.2 888.5,869.9 888.9,863.1 889.3,868.9 889.7,865.1 890.1,867.9 890.5,865.9 890.9,868.1 891.3,870.1 891.7,870.8 892.1,862.6 892.5,864.2 892.9,870.9 893.3,867.5 893.7,864.6 894.1,871.2 894.5,864.0 894.9,861.1 895.3,864.8 895.7,866.6 896.0,865.6 896.4,866.6 896.8,869.1 897.2,863.3 897.6,870.3 898.0,864.7 898.4,869.6 898.8,864.2 899.2,863.1 899.6,876.7 900.0,863.8 900.4,868.5 900.8,871.9 901.2,859.3 901.6,871.8 902.0,868.5 902.4,873.6 902.8,864.1 903.2,867.2 903.6,873.6 904.0,868.9 904.4,864.8 904.8,872.1 905.1,871.3 905.5,870.3 905.9,865.3 906.3,871.0 906.7,865.0 907.1,869.0 907.5,868.3 907.9,865.9 908.3,866.6 908.7,863.4 909.1,873.6 909.5,863.1 909.9,872.7 910.3,871.8 910.7,869.5 911.1,866.9 911.5,871.4 911.9,872.9 912.3,865.6 912.7,864.6 913.1,866.9 913.5,864.2 913.8,862.4 914.2,867.9 914.6,864.5 915.0,867.7 915.4,870.6 915.8,864.1 916.2,864.4 916.6,862.9 917.0,865.0 917.4,864.5 917.8,868.8 918.2,872.3 918.6,862.6 919.0,866.7 919.4,866.6 919.8,870.4 920.2,864.9 920.6,863.9 921.0,869.3 921.4,871.4 921.8,867.1 922.2,870.4 922.5,870.4 922.9,863.1 923.3,872.0 923.7,864.6 924.1,870.7 924.5,868.1 924.9,867.0 925.3,871.9 925.7,862.4 926.1,868.7 926.5,866.4 926.9,865.0 927.3,863.6 927.7,862.9 928.1,867.1 928.5,869.5 928.9,869.9 929.3,873.6 929.7,868.1 930.1,862.8 930.5,866.6 930.9,869.5 931.3,865.1 931.6,875.5 932.0,868.2 932.4,862.2 932.8,864.3 933.2,866.1 933.6,869.7 934.0,873.1 934.4,871.4 934.8,863.3 935.2,869.0 935.6,867.4 936.0,861.6 936.4,868.4 936.8,874.2 937.2,869.0 937.6,871.1 938.0,865.3 938.4,867.4 938.8,868.8 939.2,868.5 939.6,867.5 940.0,869.0 940.3,866.6 940.7,866.9 941.1,868.1 941.5,871.0 941.9,863.2 942.3,862.2 942.7,866.6 943.1,864.9 943.5,865.1 943.9,861.8 944.3,864.5 944.7,865.5 945.1,864.1 945.5,864.4 945.9,870.8 946.3,865.1 946.7,871.2 947.1,870.2 947.5,866.9 947.9,861.9 948.3,870.5 948.7,865.4 949.1,872.6 949.4,866.4 949.8,868.8 950.2,869.8 950.6,863.0 951.0,861.6 951.4,857.7 951.8,869.1 952.2,864.8 952.6,865.8 953.0,864.6 953.4,865.4 953.8,864.4 954.2,867.9 954.6,862.6 955.0,862.2 955.4,861.4 955.8,874.6 956.2,869.6 956.6,865.2 957.0,862.1 957.4,870.0 957.8,861.1 958.1,872.8 958.5,869.2 958.9,867.9 959.3,863.8 959.7,868.2 960.1,874.1 960.5,864.8 960.9,862.5 961.3,870.8 961.7,869.1 962.1,867.1 962.5,862.1 962.9,864.9 963.3,873.7 963.7,869.5 964.1,873.2 964.5,872.3 964.9,869.4 965.3,862.7 965.7,870.9 966.1,867.7 966.5,866.5 966.8,865.9 967.2,866.5 967.6,868.5 968.0,871.4 968.4,871.2 968.8,865.7 969.2,866.6 969.6,868.2 970.0,865.4 970.4,870.5 970.8,868.8 971.2,867.0 971.6,863.3 972.0,866.0 972.4,866.4 972.8,871.8 973.2,872.3 973.6,859.3 974.0,872.0 974.4,864.3 974.8,869.7 975.2,864.3 975.6,865.0 975.9,865.6 976.3,863.4 976.7,868.6 977.1,868.0 977.5,863.8 977.9,870.8 978.3,866.9 978.7,865.9 979.1,863.7 979.5,862.2 979.9,869.3 980.3,867.4 980.7,868.3 981.1,864.2 981.5,865.6 981.9,863.5 982.3,863.8 982.7,858.8 983.1,869.6 983.5,872.2 983.9,863.8 984.3,872.1 984.6,871.0 985.0,870.7 985.4,872.3 985.8,864.8 986.2,868.6 986.6,864.9 987.0,873.4 987.4,862.1 987.8,867.6 988.2,869.4 988.6,870.0 989.0,868.0 989.4,868.1 989.8,871.0 990.2,868.7 990.6,865.1 991.0,863.4 991.4,862.4 991.8,868.3 992.2,866.5 992.6,868.7 993.0,867.6 993.3,870.3 993.7,865.7 994.1,860.6 994.5,862.5 994.9,863.0 995.3,862.7 995.7,862.3 996.1,862.7 996.5,863.5 996.9,863.9 997.3,869.4 997.7,866.4 998.1,868.4 998.5,870.0 998.9,866.7 999.3,867.5 999.7,861.0 1000.1,862.4 1000.5,868.7 1000.9,862.1 1001.3,865.8 1001.7,865.8 1002.1,863.1 1002.4,861.5 1002.8,861.2 1003.2,867.2 1003.6,869.7 1004.0,863.5 1004.4,865.2 1004.8,862.4 1005.2,865.3 1005.6,861.4 1006.0,863.9 1006.4,864.3 1006.8,865.9 1007.2,864.0 1007.6,864.3 1008.0,868.8 1008.4,861.4 1008.8,861.9 1009.2,867.5 1009.6,871.6 1010.0,860.8 1010.4,861.9 1010.8,859.6 1011.1,862.0 1011.5,867.6 1011.9,868.3 1012.3,862.9 1012.7,867.4 1013.1,860.7 1013.5,862.9 1013.9,865.6 1014.3,864.6 1014.7,864.7 1015.1,864.1 1015.5,861.1 1015.9,858.9 1016.3,863.1 1016.7,865.4 1017.1,864.0 1017.5,864.4 1017.9,865.3 1018.3,865.6 1018.7,865.1 1019.1,862.9 1019.5,870.1 1019.8,865.4 1020.2,859.7 1020.6,854.9 1021.0,856.9 1021.4,862.9 1021.8,854.3 1022.2,862.0 1022.6,861.1 1023.0,854.5 1023.4,857.1 1023.8,855.1 1024.2,859.0 1024.6,859.9 1025.0,862.1 1025.4,863.1 1025.8,858.9 1026.2,857.4 1026.6,856.2 1027.0,860.8 1027.4,857.6 1027.8,863.1 1028.2,853.6 1028.6,857.6 1028.9,854.7 1029.3,859.6 1029.7,854.9 1030.1,859.5 1030.5,854.5 1030.9,853.4 1031.3,852.3 1031.7,855.2 1032.1,846.6 1032.5,848.1 1032.9,852.1 1033.3,848.7 1033.7,848.3 1034.1,853.2 1034.5,848.3 1034.9,844.0 1035.3,850.2 1035.7,843.2 1036.1,839.9 1036.5,845.6 1036.9,848.1 1037.3,849.8 1037.6,843.6 1038.0,841.3 1038.4,841.2 1038.8,837.6 1039.2,841.6 1039.6,836.2 1040.0,836.2 1040.4,833.9 1040.8,832.1 1041.2,833.2 1041.6,830.5 1042.0,827.2 1042.4,830.3 1042.8,825.6 1043.2,825.3 1043.6,821.0 1044.0,823.4 1044.4,820.9 1044.8,821.2 1045.2,815.6 1045.6,817.3 1046.0,816.9 1046.4,815.9 1046.7,818.0 1047.1,812.7 1047.5,811.9 1047.9,810.0 1048.3,810.3 1048.7,808.1 1049.1,806.9 1049.5,808.8 1049.9,804.2 1050.3,806.2 1050.7,807.0 1051.1,803.4 1051.5,804.4 1051.9,803.5 1052.3,802.4 1052.7,800.5 1053.1,801.9 1053.5,801.0 1053.9,797.5 1054.3,798.0 1054.7,800.0 1055.1,797.7 1055.4,802.2 1055.8,804.1 1056.2,802.2 1056.6,801.5 1057.0,799.8 1057.4,803.6 1057.8,807.9 1058.2,806.5 1058.6,805.8 1059.0,804.2 1059.4,809.6 1059.8,808.2 1060.2,811.1 1060.6,813.1 1061.0,810.7 1061.4,810.4 1061.8,814.2 1062.2,813.4 1062.6,818.0 1063.0,815.9 1063.4,817.0 1063.8,816.9 1064.1,821.2 1064.5,824.7 1064.9,822.0 1065.3,824.3 1065.7,832.0 1066.1,825.8 1066.5,826.3 1066.9,829.6 1067.3,831.4 1067.7,831.4 1068.1,835.6 1068.5,834.3 1068.9,834.4 1069.3,833.0 1069.7,841.3 1070.1,834.6 1070.5,838.2 1070.9,837.4 1071.3,841.5 1071.7,845.4 1072.1,843.5 1072.5,842.6 1072.9,850.1 1073.2,850.5 1073.6,849.4 1074.0,847.2 1074.4,851.1 1074.8,848.5 1075.2,848.5 1075.6,847.4 1076.0,847.6 1076.4,847.0 1076.8,851.5 1077.2,852.3 1077.6,847.4 1078.0,852.4 1078.4,862.8 1078.8,853.2 1079.2,850.6 1079.6,854.3 1080.0,862.1 1080.4,852.9 1080.8,858.8 1081.2,856.8 1081.6,862.1 1081.9,859.3 1082.3,865.6 1082.7,851.9 1083.1,863.6 1083.5,855.5 1083.9,852.6 1084.3,857.3 1084.7,857.8 1085.1,856.0 1085.5,860.2 1085.9,860.1 1086.3,860.8 1086.7,863.1 1087.1,860.0 1087.5,861.1 1087.9,855.2 1088.3,859.0 1088.7,860.2 1089.1,862.3 1089.5,865.9 1089.9,859.7 1090.3,859.1 1090.6,863.3 1091.0,861.4 1091.4,856.8 1091.8,853.0 1092.2,857.3 1092.6,857.4 1093.0,858.3 1093.4,861.4 1093.8,861.5 1094.2,863.0 1094.6,859.9 1095.0,861.6 1095.4,862.6 1095.8,859.8 1096.2,860.5 1096.6,866.3 1097.0,869.1 1097.4,867.5 1097.8,868.6 1098.2,861.9 1098.6,861.6 1099.0,866.0 1099.4,867.3 1099.7,859.9 1100.1,855.9 1100.5,865.2 1100.9,862.3 1101.3,864.4 1101.7,857.2 1102.1,862.9 1102.5,860.9 1102.9,862.0 1103.3,862.6 1103.7,867.6 1104.1,860.5 1104.5,859.3 1104.9,859.0 1105.3,862.3 1105.7,861.6 1106.1,865.1 1106.5,866.7 1106.9,866.7 1107.3,868.2 1107.7,866.7 1108.1,865.7 1108.4,868.0 1108.8,867.6 1109.2,863.1 1109.6,866.8 1110.0,860.9 1110.4,865.1 1110.8,859.9 1111.2,866.3 1111.6,867.6 1112.0,860.8 1112.4,860.5 1112.8,864.0 1113.2,860.5 1113.6,859.1 1114.0,858.6 1114.4,862.4 1114.8,868.9 1115.2,864.1 1115.6,863.2 1116.0,865.7 1116.4,867.6 1116.8,867.6 1117.2,867.4 1117.5,870.8 1117.9,864.3 1118.3,860.8 1118.7,870.6 1119.1,866.9 1119.5,863.1 1119.9,861.7 1120.3,860.0 1120.7,857.5 1121.1,860.7 1121.5,867.8 1121.9,860.9 1122.3,863.0 1122.7,861.8 1123.1,864.8 1123.5,862.4 1123.9,869.8 1124.3,871.5 1124.7,858.0 1125.1,867.4 1125.5,865.7 1125.9,869.3 1126.2,868.0 1126.6,869.3 1127.0,868.9 1127.4,867.9 1127.8,868.9 1128.2,864.7 1128.6,872.7 1129.0,868.8 1129.4,862.2 1129.8,867.7 1130.2,870.9 1130.6,865.7 1131.0,863.1 1131.4,867.1 1131.8,866.5 1132.2,867.3 1132.6,861.3 1133.0,865.4 1133.4,864.1 1133.8,865.0 1134.2,869.8 1134.6,862.0 1134.9,863.0 1135.3,863.9 1135.7,862.3 1136.1,865.8 1136.5,872.5 1136.9,861.7 1137.3,866.9 1137.7,862.9 1138.1,863.3 1138.5,863.4 1138.9,862.7 1139.3,870.8 1139.7,860.2 1140.1,865.9 1140.5,862.9 1140.9,864.5 1141.3,865.0 1141.7,865.9 1142.1,868.0 1142.5,867.0 1142.9,872.2 1143.3,873.6 1143.7,864.4 1144.0,863.4 1144.4,868.0 1144.8,860.7 1145.2,870.0 1145.6,870.7 1146.0,868.4 1146.4,865.0 1146.8,861.6 1147.2,869.1 1147.6,863.3 1148.0,868.1 1148.4,867.6 1148.8,861.4 1149.2,861.9 1149.6,867.8 1150.0,865.5 1150.4,862.0 1150.8,868.8 1151.2,869.3 1151.6,866.2 1152.0,870.7 1152.4,875.0 1152.7,873.1 1153.1,866.8 1153.5,868.5 1153.9,872.2 1154.3,861.8 1154.7,875.8 1155.1,871.5 1155.5,863.9 1155.9,864.3 1156.3,869.3 1156.7,871.8 1157.1,863.8 1157.5,877.6 1157.9,869.2 1158.3,864.8 1158.7,875.9 1159.1,868.0 1159.5,872.2 1159.9,869.8 1160.3,866.2 1160.7,869.8 1161.1,873.5 1161.4,865.1 1161.8,868.9 1162.2,863.4 1162.6,868.1 1163.0,869.2 1163.4,875.3 1163.8,873.1 1164.2,868.8 1164.6,872.6 1165.0,868.1 1165.4,874.3 1165.8,872.4 1166.2,872.7 1166.6,870.5 1167.0,862.3 1167.4,865.9 1167.8,864.8 1168.2,862.7 1168.6,871.2 1169.0,871.6 1169.4,871.2 1169.8,864.6 1170.2,863.0 1170.5,868.6 1170.9,866.2 1171.3,871.7 1171.7,869.6 1172.1,866.0 1172.5,862.2 1172.9,870.7 1173.3,864.4 1173.7,862.9 1174.1,867.4 1174.5,862.9 1174.9,861.9 1175.3,869.6 1175.7,865.9 1176.1,866.6 1176.5,863.0 1176.9,866.4 1177.3,866.8 1177.7,870.4 1178.1,867.8 1178.5,865.6 1178.9,861.5 1179.2,862.8 1179.6,865.0 1180.0,861.7 1180.4,871.9 1180.8,858.9 1181.2,873.9 1181.6,867.7 1182.0,871.6 1182.4,870.5 1182.8,867.2 1183.2,869.6 1183.6,864.8 1184.0,868.0 1184.4,867.8 1184.8,866.5 1185.2,872.0 1185.6,867.3 1186.0,861.3 1186.4,872.5 1186.8,862.4 1187.2,865.1 1187.6,858.7 1187.9,868.9 1188.3,866.0 1188.7,866.8 1189.1,872.1 1189.5,867.6 1189.9,871.4 1190.3,863.2 1190.7,868.7 1191.1,867.4 1191.5,864.7 1191.9,865.0 1192.3,862.2 1192.7,866.3 1193.1,865.2 1193.5,871.0 1193.9,869.4 1194.3,862.3 1194.7,864.6 1195.1,864.7 1195.5,864.3 1195.9,867.6 1196.3,867.2 1196.7,865.5 1197.0,871.2 1197.4,864.1 1197.8,865.4 1198.2,865.3 1198.6,859.6 1199.0,863.4 1199.4,866.4 1199.8,867.3 1200.2,865.2 1200.6,874.4 1201.0,870.5 1201.4,862.6 1201.8,869.3 1202.2,863.1 1202.6,870.5 1203.0,867.7 1203.4,862.4 1203.8,861.5 1204.2,875.4 1204.6,863.2 1205.0,872.0 1205.4,863.9 1205.7,871.0 1206.1,868.5 1206.5,867.0 1206.9,859.5 1207.3,866.5 1207.7,858.7 1208.1,868.9 1208.5,858.2 1208.9,873.4 1209.3,869.5 1209.7,873.2 1210.1,868.7 1210.5,870.4 1210.9,874.8 1211.3,869.7 1211.7,865.7 1212.1,868.5 1212.5,862.9 1212.9,862.1 1213.3,867.6 1213.7,869.5 1214.1,869.1 1214.5,869.1 1214.8,867.6 1215.2,865.3 1215.6,866.0 1216.0,866.0 1216.4,870.1 1216.8,866.7 1217.2,861.7 1217.6,871.2 1218.0,868.1 1218.4,866.7 1218.8,874.1 1219.2,867.9 1219.6,863.0 1220.0,865.5 1220.4,870.8 1220.8,867.5 1221.2,862.5 1221.6,868.4 1222.0,864.6 1222.4,864.9 1222.8,864.7 1223.2,862.9 1223.5,873.6 1223.9,863.1 1224.3,869.0 1224.7,865.1 1225.1,865.0 1225.5,869.3 1225.9,873.5 1226.3,864.3 1226.7,873.1 1227.1,868.5 1227.5,871.0 1227.9,867.2 1228.3,871.7 1228.7,868.2 1229.1,867.0 1229.5,866.3 1229.9,872.1 1230.3,867.3 1230.7,871.5 1231.1,871.0 1231.5,871.5 1231.9,867.1 1232.2,868.7 1232.6,869.1 1233.0,868.7 1233.4,866.1 1233.8,862.9 1234.2,868.4 1234.6,862.6 1235.0,863.4 1235.4,870.0 1235.8,870.6 1236.2,865.5 1236.6,864.0 1237.0,868.6 1237.4,864.6 1237.8,867.9 1238.2,865.2 1238.6,863.0 1239.0,863.8 1239.4,867.4 1239.8,868.5 1240.2,863.5 1240.6,864.7 1241.0,862.3 1241.3,864.5 1241.7,858.3 1242.1,862.6 1242.5,863.6 1242.9,861.5 1243.3,869.9 1243.7,866.6 1244.1,861.9 1244.5,858.1 1244.9,869.0 1245.3,863.5 1245.7,859.5 1246.1,858.9 1246.5,861.5 1246.9,865.3 1247.3,862.4 1247.7,860.4 1248.1,860.5 1248.5,861.8 1248.9,861.6 1249.3,866.0 1249.7,856.6 1250.0,864.7 1250.4,856.3 1250.8,860.1 1251.2,860.5 1251.6,872.1 1252.0,868.5 1252.4,868.0 1252.8,862.6 1253.2,862.9 1253.6,856.8 1254.0,864.8 1254.4,859.2 1254.8,861.9 1255.2,863.5 1255.6,864.2 1256.0,859.1 1256.4,855.8 1256.8,863.0 1257.2,860.5 1257.6,859.0 1258.0,857.6 1258.4,862.2 1258.7,859.5 1259.1,862.4 1259.5,866.8 1259.9,855.9 1260.3,863.6 1260.7,857.8 1261.1,868.8 1261.5,861.0 1261.9,863.1 1262.3,861.0 1262.7,864.2 1263.1,866.3 1263.5,865.9 1263.9,862.0 1264.3,858.5 1264.7,865.2 1265.1,863.4 1265.5,859.6 1265.9,863.4 1266.3,855.3 1266.7,862.7 1267.1,863.3 1267.5,859.0 1267.8,853.7 1268.2,856.1 1268.6,866.5 1269.0,863.3 1269.4,862.4 1269.8,859.4 1270.2,855.9 1270.6,863.4 1271.0,862.1 1271.4,862.8 1271.8,857.2 1272.2,857.3 1272.6,864.8 1273.0,861.5 1273.4,863.4 1273.8,854.4 1274.2,866.2 1274.6,859.6 1275.0,854.8 1275.4,865.5 1275.8,864.2 1276.2,857.0 1276.5,861.8 1276.9,862.2 1277.3,851.0 1277.7,855.9 1278.1,856.1 1278.5,854.9 1278.9,858.1 1279.3,859.6 1279.7,853.9 1280.1,849.8 1280.5,854.6 1280.9,856.8 1281.3,853.7 1281.7,850.5 1282.1,858.7 1282.5,858.3 1282.9,855.1 1283.3,854.7 1283.7,855.4 1284.1,850.8 1284.5,851.1 1284.9,850.1 1285.3,851.5 1285.6,850.2 1286.0,847.8 1286.4,842.6 1286.8,848.0 1287.2,846.0 1287.6,844.6 1288.0,846.2 1288.4,841.2 1288.8,841.5 1289.2,840.5 1289.6,836.1 1290.0,838.0 1290.4,836.7 1290.8,830.1 1291.2,833.9 1291.6,827.4 1292.0,828.5 1292.4,827.4 1292.8,818.1 1293.2,823.4 1293.6,816.5 1294.0,816.2 1294.3,806.7 1294.7,803.9 1295.1,799.0 1295.5,796.5 1295.9,788.4 1296.3,783.8 1296.7,777.2 1297.1,769.2 1297.5,759.5 1297.9,751.8 1298.3,743.0 1298.7,737.7 1299.1,726.2 1299.5,714.9 1299.9,706.6 1300.3,695.4 1300.7,683.2 1301.1,669.2 1301.5,662.3 1301.9,651.2 1302.3,642.5 1302.7,630.2 1303.0,623.8 1303.4,615.3 1303.8,614.6 1304.2,608.7 1304.6,613.1 1305.0,613.9 1305.4,616.7 1305.8,621.8 1306.2,632.7 1306.6,640.9 1307.0,649.9 1307.4,662.8 1307.8,669.9 1308.2,682.8 1308.6,694.7 1309.0,703.1 1309.4,715.4 1309.8,724.9 1310.2,735.3 1310.6,741.8 1311.0,751.8 1311.4,759.7 1311.8,770.1 1312.1,776.5 1312.5,781.1 1312.9,791.1 1313.3,794.6 1313.7,799.7 1314.1,805.6 1314.5,807.4 1314.9,813.5 1315.3,820.0 1315.7,817.7 1316.1,825.6 1316.5,820.5 1316.9,829.0 1317.3,832.6 1317.7,837.0 1318.1,832.9 1318.5,834.0 1318.9,838.8 1319.3,845.1 1319.7,837.6 1320.1,841.5 1320.5,841.3 1320.8,846.1 1321.2,843.0 1321.6,848.3 1322.0,851.8 1322.4,848.5 1322.8,850.5 1323.2,849.7 1323.6,849.4 1324.0,857.3 1324.4,846.2 1324.8,851.5 1325.2,845.7 1325.6,852.3 1326.0,853.7 1326.4,856.7 1326.8,855.2 1327.2,856.7 1327.6,852.4 1328.0,851.3 1328.4,861.3 1328.8,855.0 1329.2,854.4 1329.5,860.1 1329.9,853.1 1330.3,863.4 1330.7,853.4 1331.1,856.9 1331.5,855.9 1331.9,857.5 1332.3,857.1 1332.7,856.6 1333.1,861.6 1333.5,861.8 1333.9,860.0 1334.3,853.3 1334.7,858.9 1335.1,857.2 1335.5,861.7 1335.9,854.1 1336.3,854.4 1336.7,861.1 1337.1,859.5 1337.5,861.9 1337.9,860.1 1338.3,863.7 1338.6,865.9 1339.0,856.0 1339.4,864.7 1339.8,856.3 1340.2,862.8 1340.6,859.9 1341.0,860.6 1341.4,860.0 1341.8,857.2 1342.2,856.8 1342.6,858.9 1343.0,853.7 1343.4,868.8 1343.8,861.3 1344.2,857.2 1344.6,864.4 1345.0,865.1 1345.4,866.0 1345.8,862.1 1346.2,864.8 1346.6,869.0 1347.0,865.2 1347.3,865.2 1347.7,866.6 1348.1,861.1 1348.5,862.8 1348.9,866.8 1349.3,859.3 1349.7,862.2 1350.1,868.7 1350.5,861.0 1350.9,862.0 1351.3,860.9 1351.7,862.8 1352.1,862.1 1352.5,866.6 1352.9,858.2 1353.3,866.6 1353.7,863.7 1354.1,869.4 1354.5,866.3 1354.9,869.0 1355.3,859.3 1355.7,868.6 1356.0,860.2 1356.4,868.4 1356.8,860.3 1357.2,865.3 1357.6,865.3 1358.0,866.5 1358.4,872.4 1358.8,856.6 1359.2,863.2 1359.6,868.0 1360.0,862.1 1360.4,867.3 1360.8,865.0 1361.2,859.6 1361.6,869.7 1362.0,862.9 1362.4,860.9 1362.8,864.6 1363.2,864.9 1363.6,862.0 1364.0,867.6 1364.4,867.7 1364.8,864.5 1365.1,872.6 1365.5,868.4 1365.9,869.4 1366.3,861.4 1366.7,872.5 1367.1,869.3 1367.5,861.6 1367.9,865.6 1368.3,866.6 1368.7,865.7 1369.1,866.9 1369.5,867.9 1369.9,867.9 1370.3,862.4 1370.7,869.4 1371.1,863.9 1371.5,866.9 1371.9,869.3 1372.3,867.4 1372.7,872.2 1373.1,862.2 1373.5,863.6 1373.8,863.9 1374.2,866.5 1374.6,869.5 1375.0,866.3 1375.4,866.0 1375.8,867.3 1376.2,864.2 1376.6,871.0 1377.0,870.6 1377.4,866.5 1377.8,870.6 1378.2,858.4 1378.6,864.6 1379.0,861.8 1379.4,866.2 1379.8,873.1 1380.2,867.6 1380.6,863.3 1381.0,862.6 1381.4,865.4 1381.8,861.7 1382.2,858.8 1382.6,870.7 1382.9,865.1 1383.3,862.2 1383.7,865.2 1384.1,866.7 1384.5,868.7 1384.9,865.6 1385.3,867.1 1385.7,861.6 1386.1,861.0 1386.5,859.9 1386.9,864.5 1387.3,869.5 1387.7,863.7 1388.1,861.8 1388.5,869.1 1388.9,861.9 1389.3,863.0 1389.7,868.2 1390.1,865.5 1390.5,859.0 1390.9,864.1 1391.3,870.9 1391.6,871.2 1392.0,860.5 1392.4,869.3 1392.8,870.1 1393.2,867.7 1393.6,860.5 1394.0,863.4 1394.4,871.4 1394.8,868.1 1395.2,868.3 1395.6,867.9 1396.0,861.0 1396.4,866.0 1396.8,867.1 1397.2,865.9 1397.6,860.3 1398.0,866.9 1398.4,861.6 1398.8,861.6 1399.2,869.1 1399.6,861.4 1400.0,862.4 1400.3,859.6 1400.7,863.3 1401.1,860.7 1401.5,862.6 1401.9,871.1 1402.3,867.2 1402.7,867.4 1403.1,862.8 1403.5,857.9 1403.9,860.4 1404.3,861.3 1404.7,859.0 1405.1,866.6 1405.5,862.6 1405.9,864.0 1406.3,865.9 1406.7,867.0 1407.1,860.7 1407.5,857.3 1407.9,866.8 1408.3,865.3 1408.7,872.8 1409.1,863.4 1409.4,867.9 1409.8,862.0 1410.2,862.1 1410.6,861.9 1411.0,865.7 1411.4,863.9 1411.8,861.3 1412.2,872.7 1412.6,865.5 1413.0,868.6 1413.4,860.9 1413.8,867.5 1414.2,866.5 1414.6,868.2 1415.0,868.1 1415.4,868.9 1415.8,860.8 1416.2,864.5 1416.6,865.9 1417.0,862.0 1417.4,858.6 1417.8,865.2 1418.1,860.6 1418.5,871.6 1418.9,873.2 1419.3,863.0 1419.7,867.5 1420.1,866.6 1420.5,864.2 1420.9,865.7 1421.3,867.8 1421.7,864.4 1422.1,857.9 1422.5,867.5 1422.9,867.1 1423.3,871.1 1423.7,862.1 1424.1,861.1 1424.5,864.3 1424.9,863.1 1425.3,863.1 1425.7,870.1 1426.1,861.2 1426.5,863.6 1426.8,863.3 1427.2,859.2 1427.6,858.9 1428.0,863.2 1428.4,864.3 1428.8,870.0 1429.2,859.0 1429.6,865.9 1430.0,862.2 1430.4,866.8 1430.8,862.7 1431.2,870.5 1431.6,863.9 1432.0,864.7 1432.4,861.6 1432.8,864.0 1433.2,864.1 1433.6,865.3 1434.0,863.3 1434.4,866.2 1434.8,863.0 1435.2,866.9 1435.6,861.0 1435.9,862.7 1436.3,867.9 1436.7,867.2 1437.1,860.6 1437.5,861.2 1437.9,863.7 1438.3,861.7 1438.7,861.3 1439.1,865.1 1439.5,861.2 1439.9,860.6 1440.3,858.9 1440.7,857.8 1441.1,861.2 1441.5,858.1 1441.9,863.3 1442.3,857.2 1442.7,865.0 1443.1,856.9 1443.5,860.7 1443.9,856.0 1444.3,868.8 1444.6,861.8 1445.0,863.1 1445.4,864.9 1445.8,858.1 1446.2,861.2 1446.6,864.3 1447.0,866.3 1447.4,856.1 1447.8,866.9 1448.2,862.8 1448.6,859.2 1449.0,861.2 1449.4,860.8 1449.8,856.3 1450.2,863.8 1450.6,864.6 1451.0,856.0 1451.4,861.5 1451.8,864.6 1452.2,861.3 1452.6,860.6 1453.0,860.7 1453.4,850.1 1453.7,854.4 1454.1,866.5 1454.5,859.5 1454.9,867.3 1455.3,858.3 1455.7,857.7 1456.1,862.9 1456.5,858.9 1456.9,855.3 1457.3,853.5 1457.7,862.0 1458.1,861.5 1458.5,858.2 1458.9,855.0 1459.3,859.5 1459.7,859.7 1460.1,862.9 1460.5,863.5 1460.9,852.5 1461.3,863.1 1461.7,861.8 1462.1,859.0 1462.4,854.0 1462.8,861.4 1463.2,857.8 1463.6,851.2 1464.0,858.4 1464.4,854.2 1464.8,860.8 1465.2,854.4 1465.6,855.9 1466.0,859.7 1466.4,847.5 1466.8,851.8 1467.2,855.4 1467.6,853.2 1468.0,855.1 1468.4,848.5 1468.8,854.6 1469.2,856.1 1469.6,854.9 1470.0,848.5 1470.4,848.5 1470.8,843.8 1471.1,845.0 1471.5,845.7 1471.9,846.6 1472.3,842.9 1472.7,843.0 1473.1,840.9 1473.5,838.5 1473.9,837.0 1474.3,835.0 1474.7,841.2 1475.1,837.1 1475.5,839.0 1475.9,831.0 1476.3,832.9 1476.7,828.8 1477.1,828.9 1477.5,826.2 1477.9,825.5 1478.3,825.9 1478.7,823.3 1479.1,819.5 1479.5,815.9 1479.9,811.9 1480.2,811.5 1480.6,807.1 1481.0,806.6 1481.4,800.4 1481.8,796.3 1482.2,794.6 1482.6,791.3 1483.0,789.1 1483.4,787.0 1483.8,781.5 1484.2,776.1 1484.6,774.0 1485.0,766.7 1485.4,767.5 1485.8,762.0 1486.2,756.5 1486.6,751.6 1487.0,748.5 1487.4,741.4 1487.8,735.4 1488.2,729.0 1488.6,726.8 1488.9,717.6 1489.3,714.9 1489.7,709.1 1490.1,702.1 1490.5,699.5 1490.9,693.5 1491.3,689.0 1491.7,683.4 1492.1,674.0 1492.5,672.1 1492.9,666.9 1493.3,662.1 1493.7,656.4 1494.1,649.6 1494.5,647.1 1494.9,641.0 1495.3,636.0 1495.7,631.0 1496.1,628.6 1496.5,626.9 1496.9,621.5 1497.3,619.4 1497.6,619.3 1498.0,615.3 1498.4,616.7 1498.8,615.5 1499.2,612.3 1499.6,612.3 1500.0,614.7 1500.4,614.8 1500.8,616.0 1501.2,619.8 1501.6,622.3 1502.0,621.6 1502.4,629.7 1502.8,632.2 1503.2,634.1 1503.6,641.4 1504.0,640.6 1504.4,647.5 1504.8,653.1 1505.2,658.7 1505.6,664.2 1506.0,667.1 1506.4,674.8 1506.7,677.4 1507.1,686.2 1507.5,690.0 1507.9,698.1 1508.3,703.4 1508.7,707.0 1509.1,713.8 1509.5,718.1 1509.9,722.9 1510.3,731.4 1510.7,734.4 1511.1,738.4 1511.5,744.1 1511.9,751.3 1512.3,757.4 1512.7,757.3 1513.1,763.9 1513.5,768.6 1513.9,775.1 1514.3,776.1 1514.7,782.8 1515.1,786.1 1515.4,787.2 1515.8,792.4 1516.2,793.8 1516.6,798.4 1517.0,804.3 1517.4,808.0 1517.8,809.0 1518.2,811.3 1518.6,816.6 1519.0,816.4 1519.4,821.0 1519.8,820.4 1520.2,823.7 1520.6,824.7 1521.0,825.1 1521.4,823.8 1521.8,827.1 1522.2,828.3 1522.6,836.4 1523.0,834.0 1523.4,840.8 1523.8,838.8 1524.1,839.1 1524.5,837.6 1524.9,835.7 1525.3,843.2 1525.7,840.0 1526.1,836.8 1526.5,840.8 1526.9,842.7 1527.3,850.6 1527.7,848.5 1528.1,846.4 1528.5,850.7 1528.9,853.2 1529.3,848.8 1529.7,848.1 1530.1,850.4 1530.5,852.6 1530.9,845.6 1531.3,856.1 1531.7,852.9 1532.1,852.6 1532.5,846.7 1532.9,847.4 1533.2,857.1 1533.6,853.6 1534.0,853.4 1534.4,852.7 1534.8,858.8 1535.2,849.0 1535.6,857.6 1536.0,855.9 1536.4,856.7 1536.8,859.7 1537.2,851.2 1537.6,852.9 1538.0,855.0 1538.4,853.0 1538.8,855.0 1539.2,856.1 1539.6,861.2 1540.0,857.2 1540.4,858.4 1540.8,857.4 1541.2,860.1 1541.6,852.8 1541.9,863.0 1542.3,861.9 1542.7,856.7 1543.1,855.4 1543.5,862.9 1543.9,864.2 1544.3,859.4 1544.7,853.8 1545.1,857.3 1545.5,855.3 1545.9,858.7 1546.3,851.1 1546.7,850.2 1547.1,855.8 1547.5,861.1 1547.9,858.9 1548.3,863.4 1548.7,862.0 1549.1,855.5 1549.5,859.9 1549.9,853.5 1550.3,858.2 1550.7,856.1 1551.0,856.2 1551.4,856.7 1551.8,858.0 1552.2,851.8 1552.6,857.5 1553.0,859.9 1553.4,856.3 1553.8,851.5 1554.2,857.1 1554.6,855.6 1555.0,852.8 1555.4,849.3 1555.8,861.5 1556.2,861.2 1556.6,856.6 1557.0,859.5 1557.4,859.2 1557.8,848.2 1558.2,863.4 1558.6,859.8 1559.0,858.3 1559.4,864.2 1559.7,861.6 1560.1,855.9 1560.5,855.2 1560.9,865.1 1561.3,858.2 1561.7,858.2 1562.1,860.3 1562.5,859.7 1562.9,857.0 1563.3,859.3 1563.7,858.7 1564.1,857.8 1564.5,854.1 1564.9,856.9 1565.3,863.2 1565.7,856.7 1566.1,865.9 1566.5,867.2 1566.9,860.0 1567.3,862.6 1567.7,857.7 1568.1,863.7 1568.4,856.4 1568.8,857.5 1569.2,862.1 1569.6,864.3 1570.0,858.0 1570.4,858.2 1570.8,862.9 1571.2,863.3 1571.6,861.0 1572.0,867.2 1572.4,859.8 1572.8,864.7 1573.2,868.8 1573.6,858.8 1574.0,863.6 1574.4,860.3 1574.8,861.2 1575.2,858.9 1575.6,859.5 1576.0,869.4 1576.4,862.0 1576.8,863.1 1577.2,867.9 1577.5,862.0 1577.9,867.8 1578.3,866.9 1578.7,868.4 1579.1,867.5 1579.5,863.4 1579.9,857.1 1580.3,872.4 1580.7,862.3 1581.1,869.1 1581.5,869.4 1581.9,867.9 1582.3,863.1 1582.7,864.2 1583.1,862.6 1583.5,860.0 1583.9,871.1 1584.3,864.7 1584.7,863.2 1585.1,864.6 1585.5,872.0 1585.9,865.2 1586.2,861.9 1586.6,866.1 1587.0,862.9 1587.4,866.3 1587.8,867.6 1588.2,866.5 1588.6,867.2 1589.0,860.7 1589.4,863.8 1589.8,859.5 1590.2,861.6 1590.6,866.9 1591.0,860.9 1591.4,864.8 1591.8,862.8 1592.2,863.7 1592.6,865.6 1593.0,860.4 1593.4,869.0 1593.8,858.5 1594.2,864.0 1594.6,865.4 1594.9,866.5 1595.3,868.6 1595.7,863.1 1596.1,857.8 1596.5,859.7 1596.9,864.1 1597.3,863.1 1597.7,869.2 1598.1,860.5 1598.5,861.4 1598.9,861.6 1599.3,862.9 1599.7,858.2 1600.1,858.3 1600.5,862.1 1600.9,858.4 1601.3,866.0 1601.7,865.0 1602.1,861.5 1602.5,860.9 1602.9,869.3 1603.3,863.0 1603.7,863.9 1604.0,859.2 1604.4,858.6 1604.8,859.8 1605.2,856.0 1605.6,867.9 1606.0,866.7 1606.4,864.8 1606.8,867.9 1607.2,863.0 1607.6,859.8 1608.0,858.1 1608.4,864.3 1608.8,864.1 1609.2,862.4 1609.6,853.9 1610.0,857.1 1610.4,864.0 1610.8,863.9 1611.2,863.8 1611.6,865.1 1612.0,860.9 1612.4,862.9 1612.7,862.5 1613.1,866.0 1613.5,859.4 1613.9,859.1 1614.3,860.0 1614.7,864.8 1615.1,865.2 1615.5,853.6 1615.9,860.6 1616.3,864.0 1616.7,866.2 1617.1,867.4 1617.5,864.2 1617.9,860.6 1618.3,860.8 1618.7,865.1 1619.1,870.0 1619.5,859.2 1619.9,869.7 1620.3,864.6 1620.7,865.9 1621.1,866.8 1621.5,864.1 1621.8,859.9 1622.2,870.5 1622.6,871.2 1623.0,870.4 1623.4,864.4 1623.8,867.5 1624.2,867.0 1624.6,866.5 1625.0,866.9 1625.4,866.3 1625.8,874.4 1626.2,871.1 1626.6,870.9 1627.0,863.7 1627.4,871.9 1627.8,867.0 1628.2,872.0 1628.6,873.1 1629.0,870.4 1629.4,871.2 1629.8,867.9 1630.2,865.6 1630.5,865.7 1630.9,865.7 1631.3,861.1 1631.7,868.3 1632.1,870.1 1632.5,872.4 1632.9,867.6 1633.3,866.7 1633.7,859.9 1634.1,870.7 1634.5,871.7 1634.9,867.6 1635.3,865.6 1635.7,871.3 1636.1,865.1 1636.5,862.0 1636.9,862.7 1637.3,869.9 1637.7,861.4 1638.1,872.9 1638.5,862.6 1638.9,867.1 1639.2,860.8 1639.6,869.9 1640.0,862.1 1640.4,861.0 1640.8,868.2 1641.2,867.5 1641.6,862.5 1642.0,864.1 1642.4,857.8 1642.8,854.9 1643.2,863.3 1643.6,866.8 1644.0,862.6 1644.4,863.0 1644.8,859.6 1645.2,867.4 1645.6,862.8 1646.0,859.2 1646.4,863.3 1646.8,861.6 1647.2,867.6 1647.6,862.4 1648.0,864.5 1648.3,865.2 1648.7,867.6 1649.1,860.4 1649.5,866.1 1649.9,860.5 1650.3,854.9 1650.7,863.5 1651.1,857.5 1651.5,856.9 1651.9,862.1 1652.3,859.9 1652.7,853.3 1653.1,860.9 1653.5,856.6 1653.9,866.4 1654.3,866.8 1654.7,856.6 1655.1,862.1 1655.5,857.0 1655.9,860.4 1656.3,859.9 1656.7,861.7 1657.0,868.2 1657.4,865.9 1657.8,863.8 1658.2,868.7 1658.6,862.4 1659.0,861.9 1659.4,858.9 1659.8,864.7 1660.2,866.5 1660.6,863.3 1661.0,859.8 1661.4,862.4 1661.8,863.8 1662.2,858.6 1662.6,868.3 1663.0,859.3 1663.4,869.9 1663.8,863.0 1664.2,862.6 1664.6,865.1 1665.0,861.7 1665.4,869.8 1665.7,869.5 1666.1,857.7 1666.5,862.0 1666.9,867.0 1667.3,859.1 1667.7,860.8 1668.1,869.9 1668.5,868.7 1668.9,860.5 1669.3,856.1 1669.7,868.1 1670.1,861.7 1670.5,866.4 1670.9,867.4 1671.3,867.0 1671.7,863.3 1672.1,868.3 1672.5,870.0 1672.9,862.5 1673.3,862.3 1673.7,860.3 1674.1,868.0 1674.5,867.4 1674.8,867.5 1675.2,869.0 1675.6,867.5 1676.0,865.9 1676.4,867.4 1676.8,861.0 1677.2,867.7 1677.6,865.0 1678.0,869.1 1678.4,868.4 1678.8,868.0 1679.2,869.7 1679.6,870.8 1680.0,863.4 1680.4,868.6 1680.8,868.0 1681.2,863.2 1681.6,862.0 1682.0,861.0 1682.4,862.3 1682.8,871.5 1683.2,863.9 1683.5,875.7 1683.9,866.9 1684.3,864.6 1684.7,866.5 1685.1,864.4 1685.5,860.9 1685.9,866.4 1686.3,872.5 1686.7,863.0 1687.1,867.7 1687.5,860.3 1687.9,861.9 1688.3,858.2 1688.7,862.6 1689.1,854.7 1689.5,861.6 1689.9,867.3 1690.3,861.1 1690.7,861.3 1691.1,857.8 1691.5,867.8 1691.9,861.7 1692.2,863.0 1692.6,863.0 1693.0,872.2 1693.4,860.7 1693.8,867.8 1694.2,862.7 1694.6,859.3 1695.0,859.2 1695.4,863.7 1695.8,869.8 1696.2,860.6 1696.6,856.1 1697.0,861.8 1697.4,859.9 1697.8,865.4 1698.2,866.0 1698.6,863.3 1699.0,858.1 1699.4,852.6 1699.8,860.9 1700.2,860.3 1700.6,860.5 1701.0,861.6 1701.3,864.1 1701.7,864.9 1702.1,861.7 1702.5,859.1 1702.9,859.8 1703.3,862.8 1703.7,860.4 1704.1,866.2 1704.5,856.1 1704.9,857.1 1705.3,864.6 1705.7,865.0 1706.1,860.5 1706.5,859.2 1706.9,864.6 1707.3,857.0 1707.7,859.5 1708.1,851.5 1708.5,853.0 1708.9,854.0 1709.3,854.9 1709.7,855.9 1710.0,854.9 1710.4,859.6 1710.8,856.2 1711.2,852.1 1711.6,852.5 1712.0,859.3 1712.4,853.7 1712.8,851.7 1713.2,856.2 1713.6,849.8 1714.0,855.1 1714.4,854.9 1714.8,853.4 1715.2,849.1 1715.6,851.9 1716.0,854.1 1716.4,844.5 1716.8,846.9 1717.2,848.1 1717.6,843.9 1718.0,847.2 1718.4,845.7 1718.8,841.6 1719.1,838.3 1719.5,843.4 1719.9,843.6 1720.3,841.7 1720.7,836.1 1721.1,834.8 1721.5,831.4 1721.9,836.9 1722.3,829.8 1722.7,835.5 1723.1,828.2 1723.5,830.2 1723.9,823.4 1724.3,824.7 1724.7,819.8 1725.1,822.2 1725.5,818.7 1725.9,818.0 1726.3,817.7 1726.7,817.2 1727.1,815.4 1727.5,808.7 1727.8,811.1 1728.2,807.8 1728.6,807.6 1729.0,805.6 1729.4,800.3 1729.8,801.1 1730.2,792.5 1730.6,798.2 1731.0,796.6 1731.4,796.9 1731.8,792.2 1732.2,795.6 1732.6,789.3 1733.0,788.9 1733.4,792.4 1733.8,792.1 1734.2,788.7 1734.6,791.2 1735.0,790.2 1735.4,792.0 1735.8,790.7 1736.2,790.1 1736.5,792.2 1736.9,791.6 1737.3,794.0 1737.7,795.7 1738.1,798.4 1738.5,796.8 1738.9,799.7 1739.3,796.7 1739.7,800.2 1740.1,799.3 1740.5,800.5 1740.9,806.1 1741.3,804.5 1741.7,810.4 1742.1,812.4 1742.5,810.9 1742.9,813.8 1743.3,814.5 1743.7,819.4 1744.1,816.9 1744.5,818.8 1744.9,818.8 1745.3,827.0 1745.6,825.8 1746.0,828.7 1746.4,830.9 1746.8,829.8 1747.2,827.7 1747.6,833.3 1748.0,833.0 1748.4,839.0 1748.8,838.1 1749.2,841.5 1749.6,841.2 1750.0,843.4 1750.4,843.4 1750.8,843.8 1751.2,841.3 1751.6,847.8 1752.0,847.7 1752.4,845.5 1752.8,846.1 1753.2,844.0 1753.6,851.1 1754.0,852.1 1754.3,851.7 1754.7,852.6 1755.1,852.4 1755.5,850.3 1755.9,849.9 1756.3,855.7 1756.7,850.7 1757.1,848.2 1757.5,855.2 1757.9,854.0 1758.3,849.8 1758.7,857.7 1759.1,856.5 1759.5,857.5 1759.9,852.8 1760.3,857.4 1760.7,853.0 1761.1,860.4 1761.5,855.4 1761.9,853.9 1762.3,860.2 1762.7,861.6 1763.0,856.7 1763.4,855.9 1763.8,864.0 1764.2,856.4 1764.6,859.6 1765.0,858.7 1765.4,855.5 1765.8,858.6 1766.2,854.1 1766.6,862.8 1767.0,860.9 1767.4,861.6 1767.8,862.4 1768.2,860.3 1768.6,855.8 1769.0,861.1 1769.4,860.6 1769.8,856.1 1770.2,862.9 1770.6,858.3 1771.0,859.2 1771.4,863.8 1771.8,853.2 1772.1,854.3 1772.5,861.6 1772.9,861.5 1773.3,861.9 1773.7,860.2 1774.1,859.9 1774.5,864.0 1774.9,856.0 1775.3,865.7 1775.7,859.6 1776.1,860.2 1776.5,862.2 1776.9,856.0 1777.3,859.0 1777.7,861.3 1778.1,858.9 1778.5,863.3 1778.9,862.9 1779.3,863.5 1779.7,867.7 1780.1,863.1 1780.5,862.2 1780.8,862.4 1781.2,858.0 1781.6,859.7 1782.0,861.0 1782.4,857.7 1782.8,865.3 1783.2,863.3 1783.6,863.8 1784.0,870.7 1784.4,858.0 1784.8,865.8 1785.2,871.1 1785.6,865.9 1786.0,863.0 1786.4,866.7 1786.8,870.3 1787.2,870.3 1787.6,862.1 1788.0,862.3 1788.4,860.6 1788.8,868.1 1789.2,862.2 1789.6,867.3 1789.9,863.2 1790.3,867.5 1790.7,866.5 1791.1,860.6 1791.5,867.2 1791.9,865.3 1792.3,867.1 1792.7,868.5 1793.1,866.0 1793.5,870.0 1793.9,870.4 1794.3,866.1 1794.7,864.3 1795.1,867.9 1795.5,867.7 1795.9,872.2 1796.3,869.3 1796.7,871.9 1797.1,870.9 1797.5,871.9 1797.9,873.4 1798.3,866.7 1798.6,866.6 1799.0,864.3 1799.4,864.5 1799.8,872.6 1800.2,861.9 1800.6,867.7 1801.0,865.3 1801.4,872.1 1801.8,865.4 1802.2,864.7 1802.6,870.8 1803.0,861.1 1803.4,867.5 1803.8,871.9 1804.2,858.8 1804.6,868.3 1805.0,868.5 1805.4,867.8 1805.8,865.3 1806.2,867.3 1806.6,866.7 1807.0,865.2 1807.3,864.7 1807.7,866.5 1808.1,860.3 1808.5,864.6 1808.9,875.0 1809.3,868.3 1809.7,873.0 1810.1,869.7 1810.5,865.5 1810.9,866.5 1811.3,875.4 1811.7,869.1 1812.1,871.3 1812.5,864.2 1812.9,865.1 1813.3,866.9 1813.7,872.4 1814.1,867.4 1814.5,865.1 1814.9,867.3 1815.3,874.9 1815.7,868.1 1816.1,873.8 1816.4,865.2 1816.8,869.3 1817.2,871.1 1817.6,871.3 1818.0,862.9 1818.4,866.2 1818.8,871.1 1819.2,869.1 1819.6,867.2 1820.0,871.1 1820.4,866.3 1820.8,873.1 1821.2,871.2 1821.6,871.0 1822.0,869.9 1822.4,875.3 1822.8,871.0 1823.2,869.6 1823.6,864.6 1824.0,869.0 1824.4,873.0 1824.8,863.8 1825.1,867.0 1825.5,865.4 1825.9,865.7 1826.3,867.4 1826.7,872.9 1827.1,870.0 1827.5,867.3 1827.9,865.2 1828.3,866.3 1828.7,872.5 1829.1,867.0 1829.5,864.8 1829.9,868.8 1830.3,867.9 1830.7,870.7 1831.1,866.2 1831.5,868.0 1831.9,867.1 1832.3,865.5 1832.7,865.2 1833.1,866.8 1833.5,873.5 1833.8,863.0 1834.2,869.7 1834.6,870.2 1835.0,868.8 1835.4,869.9 1835.8,872.1 1836.2,862.3 1836.6,866.2 1837.0,865.2 1837.4,872.2 1837.8,864.5 1838.2,862.4 1838.6,870.5 1839.0,872.8 1839.4,872.2 1839.8,864.4 1840.2,863.4 1840.6,869.9 1841.0,865.5 1841.4,866.1 1841.8,865.3 1842.2,862.5 1842.6,873.2 1842.9,866.8 1843.3,862.7 1843.7,874.0 1844.1,869.9 1844.5,861.7 1844.9,867.3 1845.3,866.8 1845.7,865.7 1846.1,868.6 1846.5,865.2 1846.9,863.4 1847.3,870.7 1847.7,865.7 1848.1,868.6 1848.5,871.5 1848.9,869.9 1849.3,866.0 1849.7,870.8 1850.1,866.9 1850.5,864.7 1850.9,872.1 1851.3,866.6 1851.6,863.6 1852.0,868.0 1852.4,867.6 1852.8,864.6 1853.2,871.8 1853.6,870.4 1854.0,871.7 1854.4,869.5 1854.8,866.5 1855.2,869.2 1855.6,865.3 1856.0,866.1 1856.4,870.0 1856.8,867.4 1857.2,862.9 1857.6,870.1 1858.0,867.7 1858.4,866.8 1858.8,863.6 1859.2,862.4 1859.6,868.4 1860.0,864.5 1860.3,868.4 1860.7,861.4 1861.1,863.1 1861.5,864.1 1861.9,866.1 1862.3,861.4 1862.7,871.3 1863.1,865.8 1863.5,871.4 1863.9,859.6 1864.3,864.2 1864.7,863.9 1865.1,862.3 1865.5,859.3 1865.9,872.8 1866.3,870.8 1866.7,872.8 1867.1,864.2 1867.5,867.6 1867.9,871.9 1868.3,867.8 1868.7,868.7 1869.1,865.8 1869.4,867.7 1869.8,870.4 1870.2,864.9 1870.6,867.1 1871.0,866.5 1871.4,864.5 1871.8,866.0 1872.2,859.3 1872.6,864.2 1873.0,862.3 1873.4,861.7 1873.8,866.9 1874.2,864.5 1874.6,859.7 1875.0,874.1 1875.4,861.9 1875.8,868.8 1876.2,861.7 1876.6,864.1 1877.0,871.7 1877.4,860.4 1877.8,870.2 1878.1,867.0 1878.5,864.1 1878.9,873.4 1879.3,862.6 1879.7,865.8 1880.1,862.6 1880.5,868.7 1880.9,865.1 1881.3,862.3 1881.7,864.6 1882.1,868.9 1882.5,858.7 1882.9,868.6 1883.3,862.3 1883.7,870.5 1884.1,866.3 1884.5,867.4 1884.9,867.4 1885.3,867.4 1885.7,872.3 1886.1,862.6 1886.5,867.8 1886.9,868.6 1887.2,860.4 1887.6,863.1 1888.0,861.9 1888.4,866.0 1888.8,864.0 1889.2,867.8 1889.6,868.2 1890.0,871.9 1890.4,864.6 1890.8,865.9 1891.2,874.4 1891.6,864.7 1892.0,868.8 1892.4,863.1 1892.8,871.3 1893.2,870.5 1893.6,865.5 1894.0,874.1 1894.4,865.6 1894.8,865.4 1895.2,862.4 1895.6,872.2 1895.9,872.8 1896.3,870.6 1896.7,873.0 1897.1,860.3 1897.5,873.5 1897.9,864.7 1898.3,869.5 1898.7,867.4 1899.1,867.6 1899.5,866.0 1899.9,870.6 1900.3,867.9 1900.7,868.0 1901.1,872.6 1901.5,864.1 1901.9,865.8 1902.3,867.6 1902.7,862.8 1903.1,866.0 1903.5,863.8 1903.9,871.7 1904.3,874.1 1904.6,875.2 1905.0,862.1 1905.4,872.2 1905.8,869.1 1906.2,867.7 1906.6,867.8 1907.0,870.0 1907.4,866.9 1907.8,869.7 1908.2,861.3 1908.6,874.1 1909.0,863.4"/>
<polygon fill="#0099ff" stroke="none" points="228.0,756.3 274.7,757.9 298.0,752.5 321.3,754.2 344.7,753.5 368.0,755.9 391.4,751.0 414.7,755.7 438.0,757.8 461.4,752.3 484.7,755.7 508.0,751.1 531.4,752.5 536.5,750.8 538.5,748.8 539.7,745.3 542.4,729.7 543.2,727.6 544.0,728.9 547.2,742.9 548.8,744.4 550.8,743.2 555.5,737.2 557.5,731.9 559.1,721.2 560.2,704.8 562.2,649.2 565.8,468.2 567.0,442.4 568.2,468.8 572.1,666.2 573.7,708.0 575.3,728.8 577.6,741.0 579.2,744.3 582.0,748.1 585.2,751.0 589.1,753.5 601.4,758.1 615.2,758.2 630.6,757.5 632.6,755.4 635.4,746.5 636.6,745.0 639.7,754.4 641.3,756.9 642.9,757.5 648.1,757.5 652.4,758.2 653.6,757.2 654.4,755.3 656.4,746.4 657.1,744.8 659.9,756.4 661.5,759.8 663.1,760.7 671.8,762.4 694.7,756.0 701.8,757.0 705.0,756.6 708.2,753.6 712.5,744.7 714.1,743.2 715.7,744.8 719.6,754.6 722.4,758.9 725.6,760.9 731.1,761.6 741.8,761.7 765.1,760.4 788.5,761.7 811.8,759.9 858.1,758.8 881.8,761.3 905.1,758.0 928.5,756.6 994.9,757.9 1000.5,757.7 1009.2,756.4 1015.5,754.5 1020.6,751.4 1025.0,746.7 1028.9,739.7 1032.1,731.7 1035.7,719.9 1047.1,673.0 1049.5,667.0 1050.7,665.5 1051.9,665.0 1053.9,666.8 1056.2,672.4 1069.3,722.7 1072.9,733.4 1076.4,741.3 1080.8,747.7 1085.5,751.8 1091.8,754.9 1101.3,757.5 1115.2,760.2 1138.5,757.7 1161.8,759.3 1185.2,758.3 1208.5,756.4 1234.2,759.6 1255.6,758.5 1265.9,756.5 1273.4,753.9 1278.1,751.1 1282.5,746.9 1285.6,741.8 1288.4,735.1 1293.2,716.0 1300.3,671.9 1301.9,666.0 1303.0,664.5 1304.2,665.8 1305.8,671.5 1312.9,714.9 1317.7,733.6 1320.5,740.1 1323.2,744.4 1328.8,750.1 1334.3,754.1 1341.4,757.6 1348.9,760.3 1371.9,756.8 1412.6,760.2 1428.4,760.2 1443.1,759.1 1457.7,756.0 1462.4,754.1 1466.8,751.3 1469.2,749.0 1471.5,745.2 1475.5,733.5 1478.7,715.8 1481.8,687.3 1484.6,652.2 1494.1,497.3 1496.5,474.3 1497.6,469.3 1498.4,468.7 1499.2,470.3 1500.4,476.7 1502.8,502.0 1511.5,645.6 1515.8,697.9 1518.6,719.1 1521.4,732.5 1524.5,741.2 1526.5,744.3 1528.9,746.6 1531.7,747.9 1535.6,748.7 1545.1,753.6 1558.6,758.7 1575.6,760.5 1582.3,761.0 1605.6,755.1 1629.0,757.4 1652.3,757.3 1678.4,760.6 1689.9,761.4 1697.8,761.3 1703.7,759.0 1710.0,754.8 1716.0,749.2 1727.5,735.6 1730.6,733.3 1733.4,732.7 1735.8,733.3 1738.1,734.7 1751.6,747.7 1759.1,752.6 1764.2,754.6 1773.7,757.0 1791.9,760.5 1815.7,755.5 1839.0,759.4 1862.3,755.9 1885.7,759.3 1909.0,758.6 1909.0,770.6 1885.7,771.3 1862.3,768.0 1839.0,771.4 1815.7,767.5 1792.3,772.4 1791.1,772.2 1773.3,768.6 1764.2,765.9 1759.1,763.6 1755.1,761.0 1751.2,757.5 1738.1,742.7 1735.8,741.0 1733.4,740.3 1730.6,740.9 1727.5,743.5 1715.6,759.5 1709.7,765.8 1702.5,770.9 1699.0,772.6 1696.6,772.9 1688.7,773.1 1677.6,772.4 1652.3,769.2 1629.0,769.3 1605.6,767.0 1582.3,772.8 1575.6,772.3 1558.6,770.2 1545.9,765.2 1535.6,759.4 1532.1,758.4 1529.7,757.0 1527.3,754.6 1525.3,751.3 1522.2,742.1 1519.0,725.9 1516.2,704.0 1511.5,645.9 1502.8,502.0 1500.4,476.7 1499.2,470.3 1498.4,468.7 1497.6,469.3 1496.5,474.3 1494.1,497.3 1484.2,658.4 1481.0,697.7 1477.9,725.3 1474.3,744.9 1470.4,756.3 1468.0,759.9 1464.4,763.2 1460.9,765.5 1456.1,767.5 1442.3,770.7 1425.3,772.0 1418.5,772.2 1407.1,771.6 1371.9,768.6 1348.9,771.8 1341.0,768.6 1333.9,764.7 1328.8,760.5 1323.6,754.2 1320.8,749.3 1318.1,742.0 1313.3,721.1 1305.8,672.0 1304.2,665.9 1303.0,664.5 1301.9,666.1 1300.3,672.4 1292.8,722.2 1288.0,743.5 1285.3,751.1 1281.7,757.4 1277.3,762.0 1272.6,765.1 1265.1,767.9 1255.6,770.0 1232.2,771.5 1208.5,768.2 1185.2,770.3 1161.8,771.2 1138.5,769.5 1115.2,771.9 1100.1,768.8 1091.4,766.0 1085.5,762.6 1080.8,757.8 1076.4,750.3 1072.9,741.1 1069.7,730.1 1057.0,675.1 1054.3,667.4 1053.1,665.7 1051.9,665.0 1050.7,665.5 1049.5,667.0 1046.7,674.4 1034.5,729.6 1031.3,741.0 1028.2,749.8 1024.6,756.8 1020.2,762.1 1015.5,765.5 1009.2,767.7 999.7,769.3 993.7,769.6 928.5,768.5 905.1,770.0 881.8,773.3 858.1,770.9 811.8,771.9 788.5,773.8 765.1,772.9 741.8,775.0 731.1,775.1 725.6,774.2 722.4,771.7 719.6,766.8 715.7,756.3 714.1,754.7 712.5,756.3 707.8,766.9 704.6,770.4 701.1,771.2 694.7,770.6 671.8,777.9 665.1,776.5 661.5,774.6 659.9,771.1 657.1,759.5 654.0,771.3 653.2,772.7 652.0,773.4 644.5,773.6 641.3,772.3 639.7,769.6 636.6,760.2 635.4,761.8 632.6,770.9 631.4,772.8 629.9,773.9 618.4,775.2 601.4,775.5 594.3,773.1 589.1,770.6 585.2,767.6 582.0,763.9 579.6,759.3 578.0,754.4 575.3,737.4 573.7,714.7 572.1,670.9 568.2,469.4 567.0,442.5 565.8,468.8 562.6,636.4 560.2,711.5 558.7,733.6 557.1,744.5 553.9,754.7 550.8,759.6 548.8,760.5 547.2,758.8 544.0,744.9 543.2,743.7 538.5,765.9 536.1,769.3 531.4,771.9 508.0,771.6 484.7,777.1 461.4,774.4 438.0,780.5 414.7,778.4 391.4,773.7 368.0,778.5 344.7,776.2 321.3,776.9 298.0,775.2 274.7,780.6 228.0,779.0"/>
<polyline stroke="#0099ff" stroke-width="3.4" points="228.0,758.4 228.4,769.6 228.8,775.4 229.2,765.1 229.6,774.7 230.0,771.4 230.4,761.1 230.8,762.5 231.2,761.6 231.6,773.6 232.0,767.6 232.4,769.4 232.7,763.7 233.1,753.1 233.5,775.4 233.9,763.1 234.3,760.2 234.7,766.4 235.1,752.8 235.5,759.2 235.9,761.6 236.3,755.4 236.7,766.1 237.1,761.9 237.5,762.4 237.9,766.5 238.3,775.5 238.7,767.7 239.1,766.9 239.5,753.8 239.9,770.3 240.3,768.0 240.7,774.5 241.1,769.6 241.4,756.1 241.8,778.2 242.2,764.5 242.6,777.9 243.0,774.8 243.4,785.1 243.8,777.0 244.2,781.2 244.6,754.3 245.0,758.1 245.4,771.9 245.8,775.9 246.2,768.0 246.6,772.4 247.0,760.2 247.4,782.1 247.8,768.3 248.2,757.8 248.6,772.0 249.0,778.2 249.4,769.6 249.8,767.0 250.1,779.0 250.5,768.6 250.9,778.2 251.3,766.0 251.7,773.9 252.1,783.5 252.5,748.3 252.9,779.1 253.3,765.3 253.7,762.4 254.1,770.7 254.5,760.3 254.9,773.1 255.3,753.3 255.7,758.5 256.1,760.6 256.5,776.8 256.9,759.0 257.3,766.3 257.7,782.3 258.1,768.1 258.5,762.9 258.9,769.5 259.2,771.3 259.6,768.2 260.0,764.9 260.4,773.5 260.8,751.7 261.2,775.4 261.6,757.3 262.0,774.6 262.4,779.1 262.8,767.4 263.2,767.3 263.6,779.2 264.0,773.5 264.4,772.1 264.8,758.3 265.2,754.4 265.6,774.7 266.0,767.0 266.4,764.2 266.8,774.4 267.2,766.1 267.6,760.8 267.9,769.8 268.3,746.6 268.7,765.9 269.1,758.1 269.5,767.4 269.9,759.4 270.3,771.6 270.7,764.0 271.1,760.9 271.5,783.6 271.9,779.7 272.3,757.9 272.7,775.3 273.1,776.9 273.5,760.8 273.9,772.2 274.3,762.9 274.7,754.7 275.1,772.6 275.5,754.8 275.9,774.1 276.3,755.0 276.7,778.5 277.0,776.5 277.4,757.7 277.8,766.3 278.2,748.2 278.6,761.4 279.0,758.0 279.4,756.0 279.8,779.0 280.2,766.0 280.6,754.3 281.0,770.6 281.4,771.9 281.8,767.8 282.2,762.3 282.6,754.7 283.0,758.1 283.4,770.5 283.8,779.4 284.2,759.4 284.6,760.9 285.0,763.4 285.4,760.3 285.7,763.7 286.1,764.9 286.5,766.3 286.9,754.7 287.3,760.2 287.7,758.1 288.1,768.4 288.5,758.4 288.9,775.9 289.3,765.4 289.7,758.9 290.1,782.0 290.5,756.6 290.9,767.2 291.3,774.9 291.7,763.2 292.1,771.9 292.5,752.7 292.9,771.2 293.3,767.4 293.7,767.3 294.1,756.8 294.4,765.4 294.8,755.8 295.2,758.2 295.6,769.0 296.0,761.7 296.4,738.6 296.8,761.9 297.2,760.8 297.6,765.6 298.0,752.0 298.4,773.4 298.8,752.3 299.2,777.0 299.6,771.8 300.0,758.6 300.4,757.1 300.8,781.3 301.2,748.1 301.6,761.4 302.0,760.5 302.4,762.8 302.8,773.9 303.2,774.3 303.5,770.2 303.9,753.7 304.3,760.5 304.7,765.8 305.1,762.7 305.5,766.5 305.9,770.6 306.3,764.2 306.7,761.9 307.1,768.9 307.5,761.5 307.9,766.7 308.3,768.1 308.7,748.3 309.1,767.1 309.5,770.2 309.9,768.7 310.3,761.3 310.7,776.4 311.1,767.7 311.5,755.0 311.9,757.2 312.2,773.1 312.6,759.8 313.0,767.1 313.4,777.3 313.8,768.0 314.2,758.0 314.6,759.8 315.0,754.5 315.4,765.4 315.8,772.1 316.2,776.7 316.6,772.8 317.0,760.3 317.4,771.6 317.8,774.8 318.2,768.2 318.6,773.4 319.0,761.1 319.4,766.2 319.8,776.5 320.2,772.5 320.6,769.1 320.9,772.2 321.3,778.4 321.7,761.7 322.1,765.2 322.5,767.4 322.9,766.9 323.3,759.3 323.7,770.7 324.1,765.5 324.5,761.9 324.9,768.3 325.3,753.8 325.7,746.6 326.1,771.2 326.5,755.3 326.9,760.9 327.3,772.0 327.7,776.6 328.1,776.3 328.5,763.5 328.9,759.6 329.3,759.6 329.7,769.2 330.0,764.6 330.4,771.0 330.8,773.0 331.2,772.4 331.6,768.6 332.0,777.3 332.4,770.3 332.8,759.5 333.2,772.9 333.6,754.4 334.0,782.6 334.4,757.5 334.8,775.1 335.2,766.9 335.6,757.8 336.0,763.6 336.4,772.5 336.8,756.9 337.2,757.2 337.6,763.5 338.0,757.1 338.4,778.1 338.7,764.2 339.1,757.8 339.5,751.2 339.9,760.8 340.3,767.7 340.7,753.2 341.1,758.3 341.5,757.2 341.9,771.5 342.3,764.8 342.7,782.2 343.1,777.0 343.5,769.8 343.9,757.8 344.3,761.3 344.7,759.4 345.1,764.1 345.5,760.1 345.9,779.7 346.3,763.7 346.7,769.9 347.1,761.6 347.4,762.5 347.8,759.9 348.2,771.8 348.6,756.6 349.0,776.1 349.4,763.3 349.8,759.7 350.2,777.4 350.6,763.7 351.0,766.7 351.4,774.2 351.8,760.2 352.2,776.6 352.6,767.0 353.0,760.3 353.4,753.2 353.8,780.4 354.2,760.7 354.6,772.2 355.0,751.3 355.4,772.1 355.8,766.5 356.2,771.0 356.5,756.3 356.9,768.6 357.3,771.4 357.7,764.0 358.1,759.2 358.5,752.0 358.9,769.2 359.3,768.1 359.7,775.1 360.1,771.4 360.5,760.8 360.9,753.3 361.3,780.8 361.7,769.9 362.1,758.3 362.5,762.5 362.9,763.4 363.3,754.1 363.7,783.9 364.1,773.9 364.5,761.2 364.9,763.4 365.2,767.8 365.6,767.4 366.0,769.2 366.4,775.8 366.8,779.6 367.2,773.4 367.6,781.2 368.0,769.0 368.4,766.4 368.8,755.4 369.2,781.3 369.6,759.2 370.0,777.7 370.4,759.7 370.8,765.6 371.2,761.6 371.6,764.8 372.0,767.0 372.4,776.7 372.8,754.8 373.2,762.0 373.6,778.7 374.0,764.3 374.3,752.6 374.7,750.4 375.1,774.5 375.5,749.6 375.9,748.3 376.3,757.3 376.7,765.8 377.1,774.6 377.5,752.5 377.9,759.9 378.3,763.6 378.7,770.8 379.1,768.4 379.5,768.8 379.9,778.5 380.3,774.8 380.7,763.8 381.1,767.7 381.5,770.7 381.9,769.6 382.3,771.4 382.7,781.8 383.0,759.7 383.4,746.8 383.8,763.9 384.2,768.9 384.6,764.2 385.0,758.8 385.4,762.4 385.8,760.9 386.2,767.9 386.6,753.6 387.0,775.2 387.4,766.6 387.8,770.3 388.2,762.3 388.6,768.3 389.0,756.2 389.4,753.5 389.8,752.8 390.2,764.0 390.6,752.6 391.0,762.9 391.4,771.6 391.7,760.2 392.1,759.8 392.5,749.0 392.9,772.0 393.3,759.7 393.7,759.5 394.1,753.8 394.5,764.9 394.9,777.5 395.3,754.2 395.7,755.3 396.1,751.2 396.5,754.5 396.9,777.5 397.3,756.3 397.7,748.6 398.1,751.4 398.5,771.2 398.9,770.5 399.3,776.8 399.7,764.5 400.1,762.9 400.5,762.3 400.8,758.7 401.2,773.9 401.6,756.6 402.0,771.1 402.4,759.6 402.8,752.6 403.2,769.1 403.6,762.5 404.0,775.6 404.4,775.7 404.8,757.9 405.2,775.7 405.6,768.4 406.0,757.7 406.4,746.7 406.8,755.7 407.2,753.4 407.6,772.1 408.0,749.2 408.4,766.4 408.8,783.7 409.2,768.2 409.5,771.7 409.9,756.8 410.3,765.6 410.7,772.4 411.1,769.2 411.5,778.1 411.9,773.6 412.3,757.9 412.7,767.8 413.1,764.7 413.5,765.5 413.9,761.9 414.3,772.0 414.7,762.5 415.1,779.7 415.5,780.5 415.9,772.5 416.3,764.9 416.7,760.4 417.1,751.1 417.5,782.7 417.9,762.1 418.2,751.8 418.6,759.0 419.0,760.0 419.4,769.2 419.8,775.1 420.2,772.7 420.6,777.5 421.0,765.5 421.4,765.2 421.8,779.3 422.2,764.0 422.6,765.9 423.0,770.5 423.4,754.6 423.8,763.7 424.2,764.9 424.6,757.7 425.0,772.4 425.4,769.0 425.8,771.8 426.2,778.2 426.6,762.5 427.0,768.3 427.3,759.4 427.7,772.4 428.1,776.7 428.5,768.5 428.9,764.1 429.3,764.7 429.7,768.3 430.1,765.0 430.5,761.5 430.9,772.3 431.3,765.7 431.7,778.5 432.1,778.6 432.5,768.6 432.9,787.3 433.3,774.6 433.7,760.3 434.1,761.6 434.5,768.8 434.9,779.5 435.3,772.6 435.7,771.1 436.0,773.2 436.4,758.2 436.8,780.5 437.2,771.7 437.6,765.5 438.0,761.9 438.4,775.2 438.8,751.6 439.2,769.0 439.6,777.0 440.0,783.5 440.4,782.9 440.8,758.9 441.2,755.0 441.6,781.5 442.0,760.7 442.4,783.8 442.8,755.7 443.2,766.0 443.6,766.0 444.0,765.3 444.4,767.8 444.8,768.1 445.1,761.6 445.5,777.2 445.9,767.6 446.3,751.7 446.7,762.9 447.1,758.2 447.5,781.6 447.9,762.6 448.3,766.3 448.7,763.5 449.1,758.6 449.5,753.6 449.9,771.9 450.3,760.2 450.7,759.7 451.1,760.8 451.5,765.0 451.9,775.3 452.3,767.8 452.7,764.9 453.1,769.8 453.5,762.4 453.8,759.4 454.2,753.8 454.6,760.0 455.0,773.7 455.4,753.1 455.8,766.3 456.2,766.9 456.6,763.8 457.0,777.3 457.4,762.1 457.8,776.1 458.2,773.5 458.6,779.9 459.0,763.6 459.4,761.5 459.8,766.9 460.2,765.7 460.6,763.3 461.0,765.1 461.4,770.6 461.8,757.0 462.2,755.9 462.5,759.7 462.9,758.4 463.3,762.9 463.7,771.0 464.1,760.9 464.5,766.4 464.9,752.4 465.3,761.5 465.7,770.7 466.1,760.5 466.5,763.7 466.9,758.4 467.3,770.8 467.7,764.8 468.1,756.3 468.5,763.5 468.9,770.1 469.3,761.4 469.7,775.9 470.1,760.3 470.5,770.0 470.9,767.8 471.3,779.4 471.6,756.5 472.0,777.3 472.4,765.3 472.8,755.4 473.2,768.8 473.6,753.8 474.0,771.8 474.4,776.4 474.8,776.5 475.2,750.2 475.6,759.4 476.0,757.5 476.4,775.0 476.8,775.4 477.2,774.1 477.6,752.3 478.0,773.5 478.4,763.0 478.8,763.5 479.2,762.2 479.6,764.8 480.0,770.2 480.3,769.0 480.7,766.6 481.1,761.5 481.5,759.1 481.9,778.9 482.3,760.8 482.7,769.4 483.1,764.7 483.5,748.0 483.9,761.0 484.3,762.6 484.7,759.1 485.1,751.1 485.5,764.8 485.9,755.5 486.3,763.9 486.7,778.0 487.1,752.3 487.5,772.1 487.9,777.5 488.3,778.7 488.7,767.9 489.0,764.0 489.4,776.1 489.8,773.8 490.2,755.8 490.6,775.8 491.0,764.8 491.4,762.4 491.8,779.9 492.2,760.8 492.6,769.7 493.0,753.0 493.4,773.7 493.8,762.5 494.2,768.0 494.6,757.6 495.0,762.4 495.4,764.5 495.8,776.0 496.2,775.9 496.6,775.5 497.0,765.7 497.4,774.2 497.8,773.8 498.1,776.3 498.5,771.7 498.9,770.7 499.3,762.8 499.7,758.0 500.1,755.4 500.5,756.8 500.9,763.8 501.3,771.4 501.7,759.6 502.1,768.1 502.5,772.4 502.9,767.5 503.3,767.9 503.7,765.1 504.1,761.3 504.5,746.5 504.9,767.8 505.3,748.1 505.7,778.2 506.1,754.3 506.5,765.3 506.8,754.5 507.2,753.9 507.6,762.6 508.0,753.8 508.4,759.7 508.8,761.8 509.2,770.7 509.6,756.8 510.0,765.6 510.4,761.5 510.8,761.0 511.2,755.4 511.6,756.1 512.0,754.1 512.4,766.0 512.8,755.9 513.2,748.2 513.6,775.5 514.0,751.2 514.4,761.4 514.8,769.1 515.2,753.1 515.5,764.0 515.9,756.7 516.3,767.7 516.7,753.0 517.1,757.5 517.5,769.1 517.9,762.6 518.3,761.1 518.7,759.2 519.1,760.1 519.5,765.8 519.9,751.1 520.3,772.0 520.7,756.8 521.1,752.8 521.5,754.2 521.9,747.4 522.3,766.2 522.7,752.6 523.1,761.7 523.5,772.5 523.9,757.0 524.3,756.4 524.6,761.0 525.0,753.8 525.4,750.0 525.8,769.2 526.2,773.1 526.6,763.4 527.0,756.6 527.4,765.8 527.8,775.0 528.2,756.2 528.6,750.9 529.0,769.0 529.4,764.1 529.8,763.4 530.2,756.1 530.6,749.3 531.0,759.2 531.4,756.0 531.8,766.1 532.2,759.3 532.6,756.9 533.0,765.3 533.3,769.7 533.7,752.4 534.1,758.5 534.5,761.7 534.9,763.5 535.3,760.1 535.7,758.2 536.1,756.3 536.5,760.0 536.9,766.5 537.3,761.2 537.7,759.8 538.1,747.2 538.5,762.3 538.9,756.0 539.3,769.8 539.7,761.9 540.1,755.7 540.5,749.9 540.9,741.8 541.3,749.6 541.7,750.2 542.1,743.7 542.4,740.8 542.8,736.3 543.2,730.2 543.6,740.9 544.0,743.4 544.4,748.0 544.8,732.5 545.2,741.7 545.6,749.4 546.0,736.2 546.4,754.5 546.8,761.9 547.2,743.3 547.6,757.8 548.0,755.2 548.4,752.4 548.8,757.6 549.2,749.2 549.6,739.3 550.0,734.5 550.4,747.5 550.8,759.4 551.1,760.5 551.5,759.7 551.9,742.7 552.3,742.1 552.7,752.0 553.1,749.5 553.5,744.9 553.9,750.9 554.3,746.7 554.7,753.7 555.1,734.4 555.5,745.0 555.9,744.3 556.3,739.0 556.7,741.9 557.1,738.5 557.5,746.4 557.9,742.1 558.3,731.0 558.7,733.3 559.1,725.8 559.5,718.9 559.8,716.3 560.2,708.8 560.6,700.4 561.0,692.6 561.4,681.3 561.8,666.5 562.2,648.1 562.6,636.2 563.0,615.4 563.4,601.0 563.8,573.0 564.2,552.3 564.6,533.0 565.0,506.6 565.4,486.7 565.8,469.6 566.2,453.6 566.6,443.5 567.0,439.3 567.4,448.3 567.8,451.2 568.2,467.5 568.6,488.5 568.9,504.6 569.3,527.8 569.7,553.4 570.1,572.3 570.5,602.9 570.9,618.5 571.3,639.2 571.7,654.6 572.1,676.2 572.5,679.4 572.9,693.4 573.3,706.6 573.7,710.1 574.1,713.8 574.5,725.9 574.9,724.6 575.3,727.2 575.7,744.6 576.1,732.8 576.5,741.7 576.9,747.6 577.3,738.2 577.6,753.5 578.0,746.1 578.4,747.1 578.8,748.3 579.2,748.0 579.6,757.2 580.0,746.4 580.4,750.8 580.8,760.1 581.2,746.8 581.6,758.0 582.0,757.1 582.4,760.6 582.8,754.0 583.2,760.1 583.6,763.4 584.0,757.8 584.4,759.0 584.8,747.6 585.2,765.3 585.6,757.7 586.0,759.3 586.3,750.7 586.7,759.1 587.1,767.7 587.5,755.3 587.9,762.2 588.3,759.4 588.7,762.5 589.1,757.8 589.5,753.2 589.9,752.8 590.3,773.8 590.7,765.5 591.1,753.7 591.5,771.0 591.9,764.5 592.3,759.3 592.7,768.2 593.1,770.6 593.5,769.1 593.9,757.2 594.3,772.5 594.7,767.1 595.1,764.2 595.4,774.6 595.8,759.1 596.2,768.1 596.6,767.8 597.0,764.1 597.4,752.0 597.8,751.5 598.2,770.4 598.6,765.6 599.0,753.2 599.4,757.4 599.8,769.4 600.2,771.4 600.6,763.8 601.0,755.3 601.4,771.1 601.8,762.6 602.2,759.5 602.6,758.8 603.0,755.6 603.4,762.2 603.8,767.9 604.1,770.1 604.5,772.0 604.9,774.9 605.3,780.0 605.7,761.9 606.1,775.3 606.5,787.2 606.9,770.8 607.3,772.3 607.7,770.2 608.1,765.8 608.5,773.7 608.9,762.8 609.3,770.6 609.7,774.7 610.1,765.7 610.5,769.7 610.9,766.0 611.3,760.7 611.7,763.9 612.1,767.9 612.5,760.7 612.9,770.2 613.2,766.7 613.6,762.8 614.0,767.0 614.4,768.7 614.8,766.1 615.2,772.9 615.6,768.9 616.0,769.3 616.4,767.9 616.8,767.9 617.2,766.4 617.6,763.4 618.0,760.6 618.4,760.4 618.8,767.0 619.2,769.5 619.6,768.3 620.0,775.7 620.4,771.1 620.8,762.4 621.2,771.1 621.6,761.4 621.9,775.4 622.3,761.2 622.7,758.8 623.1,765.1 623.5,777.2 623.9,772.9 624.3,772.0 624.7,765.1 625.1,762.4 625.5,758.8 625.9,768.0 626.3,760.1 626.7,766.9 627.1,770.8 627.5,754.7 627.9,773.8 628.3,757.1 628.7,771.0 629.1,777.6 629.5,774.4 629.9,759.3 630.3,767.2 630.6,778.4 631.0,771.4 631.4,759.5 631.8,758.6 632.2,763.0 632.6,767.7 633.0,756.7 633.4,758.5 633.8,769.8 634.2,759.8 634.6,765.3 635.0,764.3 635.4,755.4 635.8,759.0 636.2,755.4 636.6,754.7 637.0,750.8 637.4,752.7 637.8,756.8 638.2,762.1 638.6,758.4 639.0,757.1 639.4,770.5 639.7,759.4 640.1,754.5 640.5,773.2 640.9,758.9 641.3,767.8 641.7,767.0 642.1,767.7 642.5,772.7 642.9,766.2 643.3,760.8 643.7,765.2 644.1,765.4 644.5,769.3 644.9,759.0 645.3,771.6 645.7,770.2 646.1,772.8 646.5,772.2 646.9,770.8 647.3,759.7 647.7,760.6 648.1,761.3 648.4,756.6 648.8,763.3 649.2,755.4 649.6,770.2 650.0,759.3 650.4,763.8 650.8,764.0 651.2,756.3 651.6,761.6 652.0,769.2 652.4,767.5 652.8,762.5 653.2,774.1 653.6,764.2 654.0,755.1 654.4,764.6 654.8,755.8 655.2,770.4 655.6,759.3 656.0,757.3 656.4,761.8 656.8,755.2 657.1,758.1 657.5,747.9 657.9,754.2 658.3,751.1 658.7,756.2 659.1,758.8 659.5,761.3 659.9,767.6 660.3,770.7 660.7,765.5 661.1,763.5 661.5,759.5 661.9,771.8 662.3,773.7 662.7,768.4 663.1,772.3 663.5,763.4 663.9,777.5 664.3,778.3 664.7,777.1 665.1,775.5 665.5,771.0 665.9,779.2 666.2,770.0 666.6,773.3 667.0,774.7 667.4,779.0 667.8,769.4 668.2,766.0 668.6,768.0 669.0,780.7 669.4,765.5 669.8,773.0 670.2,766.9 670.6,772.6 671.0,771.5 671.4,769.4 671.8,770.4 672.2,762.3 672.6,776.5 673.0,763.1 673.4,762.1 673.8,764.6 674.2,765.9 674.6,766.6 674.9,772.0 675.3,767.9 675.7,764.7 676.1,767.4 676.5,773.2 676.9,774.2 677.3,768.5 677.7,764.6 678.1,761.9 678.5,764.8 678.9,763.9 679.3,778.3 679.7,763.8 680.1,763.8 680.5,773.1 680.9,771.8 681.3,772.3 681.7,761.8 682.1,762.2 682.5,770.1 682.9,762.5 683.3,762.7 683.6,775.1 684.0,767.6 684.4,755.7 684.8,774.5 685.2,764.4 685.6,764.7 686.0,766.7 686.4,757.3 686.8,762.1 687.2,773.2 687.6,768.9 688.0,767.4 688.4,758.4 688.8,760.0 689.2,766.4 689.6,760.2 690.0,761.8 690.4,759.4 690.8,767.0 691.2,769.0 691.6,767.5 692.0,762.2 692.4,767.7 692.7,765.6 693.1,770.8 693.5,765.1 693.9,778.5 694.3,771.0 694.7,766.1 695.1,756.0 695.5,757.0 695.9,762.2 696.3,761.5 696.7,759.9 697.1,761.8 697.5,764.7 697.9,753.2 698.3,765.9 698.7,761.4 699.1,763.0 699.5,764.2 699.9,752.2 700.3,759.2 700.7,767.8 701.1,753.4 701.4,760.2 701.8,775.6 702.2,760.5 702.6,769.3 703.0,758.1 703.4,755.3 703.8,770.0 704.2,770.2 704.6,756.6 705.0,757.7 705.4,753.4 705.8,750.6 706.2,758.7 706.6,761.8 707.0,761.1 707.4,759.3 707.8,761.7 708.2,753.7 708.6,756.6 709.0,755.1 709.4,751.6 709.8,754.2 710.2,764.3 710.5,756.2 710.9,762.2 711.3,754.5 711.7,750.4 712.1,752.8 712.5,752.3 712.9,744.3 713.3,744.1 713.7,747.0 714.1,743.4 714.5,755.8 714.9,741.0 715.3,741.3 715.7,751.0 716.1,757.5 716.5,746.7 716.9,755.8 717.3,753.8 717.7,758.8 718.1,754.7 718.5,762.3 718.9,754.0 719.2,755.5 719.6,755.2 720.0,751.4 720.4,770.1 720.8,759.4 721.2,766.9 721.6,763.5 722.0,766.5 722.4,768.4 722.8,770.6 723.2,773.2 723.6,765.4 724.0,764.7 724.4,764.2 724.8,774.0 725.2,761.0 725.6,762.6 726.0,760.1 726.4,760.1 726.8,766.6 727.2,770.3 727.6,763.9 727.9,777.4 728.3,775.9 728.7,770.9 729.1,771.4 729.5,771.2 729.9,766.1 730.3,764.3 730.7,763.4 731.1,775.7 731.5,764.7 731.9,774.3 732.3,768.7 732.7,775.2 733.1,764.5 733.5,766.7 733.9,757.8 734.3,774.5 734.7,767.2 735.1,769.0 735.5,763.7 735.9,768.7 736.3,766.1 736.7,772.3 737.0,771.9 737.4,772.3 737.8,776.1 738.2,774.2 738.6,764.1 739.0,770.7 739.4,769.5 739.8,770.1 740.2,772.1 740.6,767.0 741.0,771.4 741.4,775.8 741.8,774.5 742.2,777.4 742.6,762.5 743.0,761.2 743.4,773.0 743.8,768.0 744.2,768.4 744.6,757.8 745.0,770.7 745.4,763.4 745.7,771.3 746.1,763.7 746.5,765.3 746.9,759.6 747.3,768.0 747.7,771.9 748.1,768.5 748.5,770.6 748.9,767.5 749.3,766.3 749.7,765.9 750.1,766.7 750.5,772.1 750.9,760.1 751.3,771.1 751.7,764.5 752.1,771.1 752.5,769.9 752.9,761.9 753.3,768.4 753.7,771.2 754.1,771.2 754.4,762.8 754.8,775.1 755.2,771.0 755.6,777.4 756.0,765.4 756.4,762.6 756.8,772.3 757.2,775.3 757.6,767.1 758.0,771.4 758.4,767.8 758.8,759.8 759.2,764.4 759.6,764.7 760.0,764.0 760.4,766.3 760.8,766.8 761.2,771.8 761.6,771.3 762.0,760.7 762.4,759.5 762.8,768.9 763.2,767.7 763.5,762.4 763.9,760.5 764.3,760.2 764.7,773.0 765.1,768.6 765.5,772.6 765.9,761.5 766.3,769.6 766.7,761.3 767.1,766.3 767.5,768.1 767.9,762.3 768.3,760.4 768.7,763.8 769.1,768.3 769.5,764.3 769.9,762.0 770.3,772.1 770.7,773.5 771.1,768.8 771.5,770.4 771.9,768.8 772.2,765.7 772.6,773.5 773.0,766.9 773.4,765.3 773.8,768.7 774.2,765.1 774.6,774.7 775.0,775.1 775.4,764.0 775.8,763.6 776.2,768.1 776.6,763.0 777.0,760.6 777.4,766.8 777.8,767.7 778.2,764.0 778.6,765.6 779.0,765.2 779.4,763.7 779.8,769.4 780.2,770.0 780.6,769.0 781.0,767.2 781.3,773.9 781.7,768.9 782.1,761.1 782.5,760.4 782.9,768.1 783.3,764.6 783.7,756.1 784.1,769.3 784.5,768.7 784.9,762.3 785.3,773.6 785.7,773.8 786.1,764.6 786.5,770.3 786.9,766.2 787.3,757.9 787.7,760.8 788.1,761.8 788.5,766.2 788.9,771.2 789.3,770.2 789.7,763.7 790.0,772.1 790.4,768.2 790.8,765.5 791.2,768.6 791.6,767.8 792.0,772.3 792.4,763.0 792.8,769.3 793.2,762.0 793.6,762.4 794.0,763.9 794.4,770.7 794.8,767.6 795.2,762.9 795.6,769.4 796.0,768.7 796.4,762.9 796.8,767.4 797.2,766.9 797.6,764.7 798.0,771.8 798.4,768.1 798.7,764.8 799.1,761.1 799.5,772.1 799.9,773.1 800.3,771.4 800.7,771.4 801.1,773.9 801.5,769.6 801.9,773.1 802.3,761.4 802.7,771.6 803.1,775.3 803.5,770.6 803.9,762.8 804.3,763.5 804.7,764.5 805.1,762.1 805.5,768.2 805.9,769.1 806.3,762.8 806.7,768.0 807.1,765.2 807.5,758.7 807.8,768.2 808.2,766.9 808.6,770.0 809.0,763.6 809.4,761.1 809.8,762.6 810.2,761.7 810.6,769.3 811.0,762.8 811.4,765.6 811.8,763.2 812.2,769.1 812.6,765.0 813.0,771.0 813.4,772.0 813.8,768.2 814.2,769.8 814.6,771.5 815.0,759.8 815.4,758.4 815.8,769.8 816.2,761.1 816.5,771.4 816.9,770.9 817.3,762.4 817.7,767.5 818.1,759.3 818.5,773.0 818.9,768.7 819.3,766.4 819.7,774.1 820.1,768.9 820.5,759.2 820.9,761.1 821.3,766.4 821.7,760.8 822.1,758.6 822.5,764.1 822.9,772.8 823.3,769.3 823.7,764.2 824.1,765.7 824.5,767.9 824.9,761.4 825.2,761.2 825.6,764.8 826.0,759.5 826.4,764.0 826.8,774.6 827.2,764.9 827.6,766.9 828.0,770.0 828.4,775.6 828.8,771.5 829.2,770.0 829.6,768.7 830.0,768.9 830.4,765.9 830.8,766.3 831.2,762.5 831.6,764.3 832.0,770.4 832.4,770.9 832.8,759.0 833.2,766.1 833.6,766.0 834.0,767.7 834.3,764.8 834.7,765.1 835.1,761.0 835.5,755.7 835.9,760.1 836.3,775.8 836.7,764.0 837.1,762.6 837.5,765.1 837.9,759.9 838.3,772.4 838.7,763.0 839.1,775.8 839.5,766.8 839.9,763.3 840.3,769.4 840.7,769.1 841.1,759.7 841.5,763.8 841.9,761.8 842.3,760.5 842.7,764.8 843.0,761.9 843.4,762.6 843.8,768.6 844.2,760.7 844.6,759.5 845.0,762.6 845.4,760.8 845.8,761.8 846.2,765.7 846.6,764.2 847.0,763.0 847.4,760.6 847.8,760.6 848.2,760.4 848.6,766.1 849.0,770.0 849.4,760.2 849.8,759.4 850.2,768.4 850.6,767.2 851.0,773.5 851.4,761.6 851.7,762.7 852.1,766.2 852.5,762.3 852.9,769.3 853.3,758.5 853.7,757.0 854.1,760.2 854.5,767.4 854.9,763.6 855.3,764.4 855.7,776.0 856.1,766.7 856.5,758.9 856.9,765.4 857.3,764.4 857.7,760.6 858.1,771.7 858.5,764.9 858.9,778.6 859.3,757.5 859.7,764.5 860.1,771.2 860.5,769.3 860.8,763.0 861.2,771.1 861.6,760.9 862.0,760.7 862.4,760.3 862.8,766.0 863.2,770.3 863.6,764.6 864.0,768.5 864.4,764.2 864.8,769.5 865.2,760.5 865.6,769.2 866.0,764.2 866.4,758.6 866.8,770.4 867.2,764.6 867.6,768.7 868.0,767.7 868.4,760.2 868.8,764.8 869.2,767.2 869.5,764.0 869.9,763.7 870.3,761.5 870.7,760.9 871.1,760.1 871.5,768.0 871.9,762.9 872.3,762.4 872.7,771.4 873.1,767.2 873.5,760.1 873.9,763.9 874.3,766.4 874.7,761.1 875.1,766.9 875.5,770.5 875.9,761.7 876.3,767.0 876.7,761.8 877.1,770.6 877.5,769.0 877.9,763.5 878.3,762.3 878.6,772.2 879.0,774.6 879.4,764.4 879.8,759.2 880.2,773.3 880.6,761.5 881.0,772.0 881.4,764.7 881.8,766.9 882.2,763.4 882.6,763.7 883.0,767.1 883.4,773.9 883.8,766.5 884.2,765.6 884.6,776.3 885.0,768.1 885.4,768.5 885.8,766.7 886.2,763.8 886.6,770.6 887.0,762.0 887.3,768.2 887.7,772.1 888.1,768.6 888.5,759.5 888.9,771.8 889.3,762.1 889.7,759.8 890.1,762.2 890.5,761.7 890.9,773.4 891.3,770.1 891.7,769.8 892.1,771.3 892.5,773.0 892.9,766.4 893.3,763.5 893.7,768.0 894.1,765.5 894.5,771.3 894.9,772.8 895.3,767.9 895.7,762.0 896.0,777.2 896.4,767.3 896.8,764.2 897.2,771.9 897.6,757.9 898.0,769.0 898.4,763.2 898.8,762.9 899.2,759.5 899.6,768.9 900.0,763.2 900.4,770.5 900.8,762.2 901.2,767.5 901.6,759.1 902.0,762.7 902.4,770.4 902.8,769.3 903.2,767.5 903.6,762.4 904.0,762.0 904.4,765.1 904.8,761.2 905.1,763.3 905.5,758.9 905.9,764.1 906.3,760.2 906.7,768.6 907.1,759.5 907.5,762.6 907.9,759.8 908.3,770.0 908.7,760.2 909.1,764.9 909.5,764.8 909.9,761.2 910.3,760.6 910.7,768.6 911.1,768.8 911.5,760.1 911.9,757.9 912.3,771.6 912.7,760.4 913.1,763.3 913.5,757.8 913.8,761.4 914.2,760.9 914.6,764.3 915.0,771.5 915.4,759.7 915.8,769.9 916.2,766.6 916.6,766.3 917.0,773.1 917.4,764.9 917.8,767.0 918.2,763.5 918.6,763.6 919.0,764.9 919.4,774.3 919.8,769.4 920.2,760.4 920.6,766.4 921.0,766.4 921.4,762.2 921.8,765.8 922.2,763.0 922.5,759.5 922.9,767.5 923.3,773.0 923.7,762.7 924.1,758.7 924.5,759.6 924.9,765.7 925.3,768.1 925.7,765.1 926.1,759.9 926.5,765.8 926.9,770.0 927.3,762.8 927.7,768.2 928.1,760.4 928.5,767.9 928.9,756.7 929.3,757.3 929.7,763.6 930.1,762.6 930.5,758.5 930.9,757.3 931.3,754.9 931.6,765.6 932.0,769.6 932.4,762.7 932.8,760.3 933.2,764.6 933.6,765.3 934.0,754.8 934.4,762.5 934.8,764.4 935.2,765.5 935.6,770.6 936.0,758.7 936.4,761.9 936.8,767.1 937.2,758.3 937.6,763.4 938.0,765.0 938.4,751.6 938.8,763.5 939.2,758.4 939.6,760.1 940.0,760.9 940.3,763.1 940.7,767.5 941.1,769.8 941.5,758.5 941.9,769.1 942.3,765.4 942.7,768.6 943.1,755.3 943.5,764.1 943.9,759.2 944.3,758.6 944.7,765.6 945.1,759.2 945.5,760.2 945.9,761.1 946.3,757.5 946.7,758.7 947.1,761.3 947.5,763.0 947.9,766.0 948.3,761.5 948.7,760.0 949.1,764.7 949.4,761.9 949.8,769.8 950.2,767.1 950.6,759.2 951.0,770.0 951.4,757.9 951.8,755.5 952.2,768.3 952.6,764.4 953.0,761.2 953.4,760.3 953.8,759.0 954.2,755.9 954.6,760.9 955.0,762.6 955.4,757.9 955.8,754.7 956.2,756.2 956.6,762.9 957.0,767.9 957.4,763.2 957.8,770.9 958.1,759.5 958.5,761.3 958.9,761.1 959.3,767.2 959.7,764.8 960.1,763.5 960.5,764.8 960.9,758.6 961.3,764.3 961.7,762.4 962.1,764.5 962.5,766.5 962.9,766.6 963.3,770.2 963.7,757.9 964.1,763.5 964.5,763.5 964.9,761.3 965.3,769.5 965.7,765.3 966.1,753.5 966.5,762.6 966.8,770.5 967.2,761.0 967.6,763.9 968.0,765.3 968.4,765.9 968.8,768.2 969.2,758.8 969.6,756.6 970.0,764.3 970.4,761.9 970.8,764.3 971.2,763.7 971.6,757.2 972.0,764.8 972.4,761.9 972.8,762.4 973.2,765.8 973.6,765.0 974.0,764.2 974.4,763.5 974.8,757.6 975.2,766.4 975.6,764.9 975.9,765.9 976.3,754.2 976.7,766.6 977.1,763.6 977.5,763.9 977.9,761.8 978.3,762.2 978.7,759.1 979.1,764.4 979.5,765.0 979.9,769.1 980.3,760.3 980.7,760.8 981.1,757.4 981.5,770.1 981.9,767.4 982.3,762.2 982.7,757.6 983.1,771.0 983.5,757.1 983.9,761.4 984.3,761.9 984.6,759.8 985.0,762.1 985.4,760.1 985.8,761.3 986.2,756.9 986.6,756.6 987.0,756.0 987.4,757.3 987.8,758.1 988.2,764.7 988.6,761.8 989.0,761.3 989.4,754.8 989.8,765.7 990.2,762.0 990.6,765.4 991.0,760.9 991.4,764.1 991.8,754.1 992.2,762.5 992.6,767.1 993.0,766.5 993.3,761.5 993.7,769.3 994.1,765.9 994.5,759.6 994.9,767.6 995.3,762.3 995.7,769.4 996.1,757.1 996.5,762.5 996.9,769.2 997.3,763.1 997.7,765.2 998.1,760.4 998.5,765.3 998.9,762.3 999.3,766.4 999.7,755.5 1000.1,761.0 1000.5,758.8 1000.9,758.1 1001.3,762.7 1001.7,766.0 1002.1,766.5 1002.4,766.9 1002.8,758.2 1003.2,768.8 1003.6,760.9 1004.0,762.5 1004.4,763.8 1004.8,769.3 1005.2,756.6 1005.6,757.0 1006.0,755.5 1006.4,757.6 1006.8,767.5 1007.2,765.6 1007.6,768.6 1008.0,757.8 1008.4,755.6 1008.8,759.1 1009.2,765.0 1009.6,765.3 1010.0,758.6 1010.4,756.8 1010.8,762.3 1011.1,760.0 1011.5,753.1 1011.9,760.1 1012.3,764.9 1012.7,768.1 1013.1,759.6 1013.5,756.6 1013.9,761.8 1014.3,764.8 1014.7,765.2 1015.1,758.7 1015.5,758.0 1015.9,762.2 1016.3,752.2 1016.7,753.3 1017.1,756.0 1017.5,750.7 1017.9,759.3 1018.3,762.3 1018.7,756.7 1019.1,751.5 1019.5,765.4 1019.8,754.2 1020.2,760.2 1020.6,760.6 1021.0,757.2 1021.4,755.5 1021.8,761.0 1022.2,752.0 1022.6,760.7 1023.0,761.6 1023.4,754.2 1023.8,756.4 1024.2,750.5 1024.6,747.3 1025.0,755.6 1025.4,747.1 1025.8,744.2 1026.2,749.8 1026.6,745.8 1027.0,748.1 1027.4,746.7 1027.8,744.7 1028.2,748.0 1028.6,740.6 1028.9,744.8 1029.3,738.2 1029.7,744.3 1030.1,738.3 1030.5,735.7 1030.9,743.4 1031.3,739.8 1031.7,732.5 1032.1,729.0 1032.5,729.1 1032.9,737.2 1033.3,729.8 1033.7,726.8 1034.1,726.6 1034.5,728.1 1034.9,725.2 1035.3,721.9 1035.7,724.1 1036.1,721.2 1036.5,716.2 1036.9,713.6 1037.3,717.5 1037.6,709.7 1038.0,712.4 1038.4,712.2 1038.8,706.3 1039.2,705.4 1039.6,704.6 1040.0,703.6 1040.4,698.2 1040.8,698.1 1041.2,699.3 1041.6,696.7 1042.0,691.4 1042.4,692.2 1042.8,693.0 1043.2,687.6 1043.6,686.9 1044.0,687.4 1044.4,680.7 1044.8,680.1 1045.2,681.3 1045.6,678.8 1046.0,678.0 1046.4,677.3 1046.7,676.0 1047.1,671.9 1047.5,672.4 1047.9,672.3 1048.3,666.1 1048.7,670.5 1049.1,669.6 1049.5,668.8 1049.9,663.8 1050.3,665.9 1050.7,664.7 1051.1,663.7 1051.5,662.9 1051.9,666.5 1052.3,664.4 1052.7,664.2 1053.1,668.3 1053.5,664.7 1053.9,665.6 1054.3,670.9 1054.7,665.3 1055.1,671.0 1055.4,669.4 1055.8,671.9 1056.2,675.5 1056.6,675.1 1057.0,672.8 1057.4,675.2 1057.8,677.8 1058.2,677.3 1058.6,681.7 1059.0,682.7 1059.4,683.1 1059.8,687.1 1060.2,686.7 1060.6,688.4 1061.0,692.3 1061.4,692.3 1061.8,695.3 1062.2,700.8 1062.6,696.7 1063.0,696.9 1063.4,705.7 1063.8,705.6 1064.1,703.3 1064.5,709.4 1064.9,707.1 1065.3,712.3 1065.7,708.4 1066.1,710.6 1066.5,715.3 1066.9,716.7 1067.3,719.8 1067.7,719.9 1068.1,722.9 1068.5,718.9 1068.9,730.5 1069.3,725.8 1069.7,724.7 1070.1,730.7 1070.5,733.4 1070.9,730.7 1071.3,733.9 1071.7,732.2 1072.1,731.1 1072.5,739.1 1072.9,733.9 1073.2,733.8 1073.6,739.4 1074.0,746.7 1074.4,741.1 1074.8,750.8 1075.2,743.1 1075.6,743.9 1076.0,750.0 1076.4,746.6 1076.8,751.2 1077.2,743.4 1077.6,744.1 1078.0,748.8 1078.4,746.1 1078.8,754.4 1079.2,750.6 1079.6,758.2 1080.0,748.0 1080.4,745.0 1080.8,752.6 1081.2,752.9 1081.6,749.7 1081.9,754.1 1082.3,762.2 1082.7,757.5 1083.1,753.0 1083.5,750.9 1083.9,760.0 1084.3,752.3 1084.7,762.0 1085.1,761.8 1085.5,750.2 1085.9,753.9 1086.3,762.3 1086.7,758.1 1087.1,755.9 1087.5,754.4 1087.9,752.0 1088.3,758.8 1088.7,765.7 1089.1,764.9 1089.5,762.1 1089.9,766.6 1090.3,756.9 1090.6,752.4 1091.0,763.7 1091.4,754.8 1091.8,765.6 1092.2,754.3 1092.6,765.9 1093.0,762.1 1093.4,759.3 1093.8,759.7 1094.2,759.2 1094.6,763.3 1095.0,759.9 1095.4,756.2 1095.8,758.7 1096.2,754.0 1096.6,763.5 1097.0,754.3 1097.4,768.2 1097.8,768.6 1098.2,759.1 1098.6,768.2 1099.0,760.6 1099.4,766.1 1099.7,759.0 1100.1,766.2 1100.5,762.6 1100.9,765.4 1101.3,763.3 1101.7,761.9 1102.1,770.7 1102.5,760.3 1102.9,762.3 1103.3,760.4 1103.7,763.5 1104.1,768.4 1104.5,761.0 1104.9,760.7 1105.3,768.7 1105.7,767.5 1106.1,770.0 1106.5,756.4 1106.9,758.9 1107.3,768.8 1107.7,762.5 1108.1,769.5 1108.4,756.1 1108.8,764.5 1109.2,762.7 1109.6,769.2 1110.0,765.1 1110.4,764.0 1110.8,767.9 1111.2,761.7 1111.6,763.5 1112.0,761.6 1112.4,761.7 1112.8,770.9 1113.2,772.0 1113.6,763.5 1114.0,767.8 1114.4,764.8 1114.8,766.1 1115.2,762.0 1115.6,763.7 1116.0,764.3 1116.4,767.5 1116.8,768.7 1117.2,763.6 1117.5,759.2 1117.9,761.6 1118.3,771.7 1118.7,769.7 1119.1,763.9 1119.5,762.4 1119.9,764.7 1120.3,765.1 1120.7,769.9 1121.1,765.1 1121.5,767.7 1121.9,763.0 1122.3,757.1 1122.7,767.1 1123.1,766.0 1123.5,767.1 1123.9,763.4 1124.3,769.4 1124.7,770.2 1125.1,755.0 1125.5,757.6 1125.9,767.0 1126.2,769.7 1126.6,756.1 1127.0,765.9 1127.4,766.2 1127.8,770.4 1128.2,771.3 1128.6,756.9 1129.0,771.3 1129.4,755.9 1129.8,771.3 1130.2,766.8 1130.6,771.4 1131.0,758.3 1131.4,761.6 1131.8,766.1 1132.2,769.0 1132.6,756.8 1133.0,761.4 1133.4,765.6 1133.8,757.4 1134.2,766.7 1134.6,755.6 1134.9,757.0 1135.3,768.1 1135.7,767.6 1136.1,765.3 1136.5,766.5 1136.9,758.7 1137.3,765.6 1137.7,761.9 1138.1,759.5 1138.5,764.5 1138.9,763.6 1139.3,757.7 1139.7,768.8 1140.1,759.7 1140.5,763.9 1140.9,761.8 1141.3,762.3 1141.7,754.9 1142.1,753.9 1142.5,755.0 1142.9,762.7 1143.3,759.8 1143.7,758.5 1144.0,761.7 1144.4,756.4 1144.8,758.3 1145.2,767.0 1145.6,767.4 1146.0,763.6 1146.4,757.8 1146.8,760.8 1147.2,774.2 1147.6,770.3 1148.0,758.0 1148.4,766.4 1148.8,763.1 1149.2,765.4 1149.6,774.4 1150.0,762.3 1150.4,763.5 1150.8,766.9 1151.2,754.0 1151.6,767.4 1152.0,769.6 1152.4,769.8 1152.7,765.6 1153.1,764.4 1153.5,756.6 1153.9,766.0 1154.3,763.4 1154.7,760.8 1155.1,764.4 1155.5,761.1 1155.9,769.5 1156.3,757.9 1156.7,766.2 1157.1,766.8 1157.5,761.3 1157.9,762.5 1158.3,765.7 1158.7,764.7 1159.1,758.5 1159.5,759.3 1159.9,771.6 1160.3,764.9 1160.7,760.3 1161.1,763.2 1161.4,776.4 1161.8,761.7 1162.2,770.7 1162.6,767.1 1163.0,760.0 1163.4,766.6 1163.8,773.9 1164.2,758.4 1164.6,759.7 1165.0,771.0 1165.4,764.8 1165.8,764.4 1166.2,767.7 1166.6,765.2 1167.0,761.7 1167.4,761.3 1167.8,772.7 1168.2,767.8 1168.6,763.9 1169.0,764.6 1169.4,760.9 1169.8,765.5 1170.2,769.5 1170.5,767.9 1170.9,766.6 1171.3,761.8 1171.7,764.4 1172.1,770.0 1172.5,770.5 1172.9,761.0 1173.3,766.3 1173.7,763.7 1174.1,769.1 1174.5,771.4 1174.9,771.4 1175.3,765.2 1175.7,757.3 1176.1,762.6 1176.5,756.3 1176.9,765.4 1177.3,767.8 1177.7,766.2 1178.1,765.4 1178.5,764.9 1178.9,766.7 1179.2,762.6 1179.6,765.0 1180.0,768.3 1180.4,762.1 1180.8,769.7 1181.2,771.5 1181.6,765.8 1182.0,756.9 1182.4,766.1 1182.8,756.1 1183.2,759.0 1183.6,762.6 1184.0,770.0 1184.4,768.2 1184.8,762.4 1185.2,763.5 1185.6,770.2 1186.0,754.6 1186.4,761.0 1186.8,771.4 1187.2,760.3 1187.6,766.1 1187.9,764.3 1188.3,755.8 1188.7,768.8 1189.1,761.0 1189.5,771.0 1189.9,769.0 1190.3,765.3 1190.7,764.1 1191.1,759.2 1191.5,762.7 1191.9,754.6 1192.3,770.0 1192.7,762.2 1193.1,764.9 1193.5,759.6 1193.9,761.0 1194.3,769.5 1194.7,766.2 1195.1,766.8 1195.5,767.6 1195.9,757.2 1196.3,762.7 1196.7,760.5 1197.0,763.5 1197.4,757.2 1197.8,765.6 1198.2,763.8 1198.6,760.6 1199.0,760.1 1199.4,766.8 1199.8,761.9 1200.2,759.3 1200.6,768.7 1201.0,768.0 1201.4,766.8 1201.8,759.2 1202.2,759.6 1202.6,765.5 1203.0,757.9 1203.4,767.5 1203.8,769.7 1204.2,764.1 1204.6,761.7 1205.0,771.3 1205.4,753.6 1205.7,760.2 1206.1,762.2 1206.5,765.3 1206.9,768.1 1207.3,766.5 1207.7,766.2 1208.1,767.9 1208.5,768.4 1208.9,762.4 1209.3,758.8 1209.7,758.4 1210.1,758.0 1210.5,761.3 1210.9,759.4 1211.3,761.0 1211.7,758.4 1212.1,756.3 1212.5,766.0 1212.9,767.8 1213.3,767.6 1213.7,760.8 1214.1,758.5 1214.5,762.7 1214.8,768.6 1215.2,768.0 1215.6,763.8 1216.0,762.3 1216.4,764.2 1216.8,760.7 1217.2,754.4 1217.6,762.7 1218.0,763.9 1218.4,769.7 1218.8,759.2 1219.2,764.9 1219.6,759.3 1220.0,768.9 1220.4,769.8 1220.8,764.7 1221.2,768.2 1221.6,764.9 1222.0,764.8 1222.4,759.5 1222.8,760.7 1223.2,761.2 1223.5,759.0 1223.9,771.1 1224.3,764.3 1224.7,761.7 1225.1,765.9 1225.5,768.2 1225.9,763.6 1226.3,758.0 1226.7,769.9 1227.1,757.3 1227.5,770.2 1227.9,761.5 1228.3,762.3 1228.7,769.3 1229.1,761.2 1229.5,756.8 1229.9,763.2 1230.3,768.9 1230.7,766.2 1231.1,765.4 1231.5,767.1 1231.9,765.8 1232.2,767.5 1232.6,772.2 1233.0,769.6 1233.4,766.4 1233.8,768.0 1234.2,772.3 1234.6,766.6 1235.0,763.6 1235.4,769.8 1235.8,762.1 1236.2,767.8 1236.6,769.7 1237.0,760.3 1237.4,757.8 1237.8,765.9 1238.2,764.4 1238.6,771.1 1239.0,763.9 1239.4,762.9 1239.8,760.8 1240.2,765.1 1240.6,762.3 1241.0,771.4 1241.3,764.6 1241.7,762.6 1242.1,768.5 1242.5,769.3 1242.9,768.8 1243.3,763.6 1243.7,765.1 1244.1,765.1 1244.5,757.3 1244.9,763.3 1245.3,760.3 1245.7,765.0 1246.1,757.2 1246.5,766.2 1246.9,769.8 1247.3,763.6 1247.7,761.0 1248.1,764.3 1248.5,769.8 1248.9,756.9 1249.3,761.5 1249.7,773.0 1250.0,770.0 1250.4,763.2 1250.8,765.8 1251.2,760.5 1251.6,758.2 1252.0,770.2 1252.4,763.6 1252.8,763.3 1253.2,757.3 1253.6,774.0 1254.0,768.3 1254.4,760.6 1254.8,756.7 1255.2,770.0 1255.6,765.1 1256.0,775.2 1256.4,764.9 1256.8,759.6 1257.2,759.2 1257.6,763.0 1258.0,764.6 1258.4,765.7 1258.7,761.0 1259.1,767.5 1259.5,760.8 1259.9,757.2 1260.3,763.0 1260.7,756.8 1261.1,765.7 1261.5,766.2 1261.9,766.6 1262.3,763.7 1262.7,763.1 1263.1,765.6 1263.5,759.0 1263.9,761.5 1264.3,758.0 1264.7,766.3 1265.1,768.0 1265.5,757.3 1265.9,768.1 1266.3,768.2 1266.7,763.5 1267.1,767.1 1267.5,767.3 1267.8,758.7 1268.2,755.1 1268.6,764.6 1269.0,761.7 1269.4,767.0 1269.8,759.5 1270.2,764.4 1270.6,761.8 1271.0,764.6 1271.4,753.6 1271.8,763.0 1272.2,759.0 1272.6,760.8 1273.0,756.4 1273.4,760.6 1273.8,762.7 1274.2,756.1 1274.6,761.7 1275.0,759.2 1275.4,760.6 1275.8,752.4 1276.2,748.9 1276.5,754.8 1276.9,759.7 1277.3,766.9 1277.7,751.8 1278.1,758.0 1278.5,757.0 1278.9,760.6 1279.3,754.3 1279.7,757.3 1280.1,748.5 1280.5,748.2 1280.9,756.4 1281.3,759.6 1281.7,747.6 1282.1,748.1 1282.5,752.6 1282.9,749.4 1283.3,753.1 1283.7,748.6 1284.1,754.9 1284.5,743.9 1284.9,750.1 1285.3,750.2 1285.6,743.6 1286.0,747.1 1286.4,748.6 1286.8,743.0 1287.2,742.7 1287.6,737.3 1288.0,735.2 1288.4,732.5 1288.8,738.8 1289.2,735.1 1289.6,736.7 1290.0,731.5 1290.4,737.6 1290.8,731.7 1291.2,729.2 1291.6,724.1 1292.0,725.2 1292.4,725.4 1292.8,724.6 1293.2,716.2 1293.6,712.5 1294.0,710.2 1294.3,713.4 1294.7,704.3 1295.1,708.1 1295.5,702.5 1295.9,699.1 1296.3,695.4 1296.7,699.4 1297.1,693.1 1297.5,690.2 1297.9,684.9 1298.3,686.1 1298.7,683.5 1299.1,677.2 1299.5,675.6 1299.9,671.1 1300.3,673.1 1300.7,667.8 1301.1,668.6 1301.5,665.6 1301.9,664.4 1302.3,663.6 1302.7,667.1 1303.0,665.6 1303.4,665.2 1303.8,664.8 1304.2,664.1 1304.6,663.4 1305.0,666.6 1305.4,668.8 1305.8,673.1 1306.2,670.9 1306.6,673.6 1307.0,681.9 1307.4,684.0 1307.8,681.6 1308.2,690.7 1308.6,688.6 1309.0,690.3 1309.4,697.4 1309.8,699.7 1310.2,699.4 1310.6,699.7 1311.0,704.7 1311.4,704.6 1311.8,710.4 1312.1,712.6 1312.5,713.3 1312.9,719.4 1313.3,720.9 1313.7,718.3 1314.1,726.0 1314.5,720.6 1314.9,727.5 1315.3,727.5 1315.7,729.8 1316.1,730.3 1316.5,734.2 1316.9,728.7 1317.3,732.3 1317.7,738.3 1318.1,742.3 1318.5,736.5 1318.9,740.5 1319.3,739.1 1319.7,741.3 1320.1,745.3 1320.5,738.5 1320.8,740.3 1321.2,739.8 1321.6,743.0 1322.0,752.9 1322.4,747.3 1322.8,745.4 1323.2,757.3 1323.6,753.7 1324.0,753.1 1324.4,756.0 1324.8,756.0 1325.2,749.7 1325.6,755.6 1326.0,757.4 1326.4,748.0 1326.8,760.2 1327.2,758.7 1327.6,759.8 1328.0,753.0 1328.4,754.9 1328.8,754.3 1329.2,762.3 1329.5,758.4 1329.9,754.6 1330.3,756.8 1330.7,754.6 1331.1,760.3 1331.5,760.8 1331.9,757.2 1332.3,761.7 1332.7,765.4 1333.1,753.5 1333.5,757.6 1333.9,763.6 1334.3,756.9 1334.7,759.3 1335.1,752.8 1335.5,770.0 1335.9,762.0 1336.3,764.1 1336.7,758.5 1337.1,764.6 1337.5,762.8 1337.9,757.6 1338.3,760.1 1338.6,763.5 1339.0,765.9 1339.4,764.1 1339.8,756.8 1340.2,759.6 1340.6,759.7 1341.0,762.3 1341.4,763.6 1341.8,760.8 1342.2,756.9 1342.6,761.3 1343.0,758.1 1343.4,765.7 1343.8,766.2 1344.2,766.2 1344.6,755.4 1345.0,762.2 1345.4,762.6 1345.8,767.9 1346.2,764.8 1346.6,770.2 1347.0,757.6 1347.3,762.9 1347.7,764.2 1348.1,765.0 1348.5,765.7 1348.9,765.5 1349.3,765.9 1349.7,765.2 1350.1,761.4 1350.5,771.8 1350.9,765.2 1351.3,764.9 1351.7,765.6 1352.1,769.3 1352.5,766.5 1352.9,760.6 1353.3,773.1 1353.7,766.7 1354.1,762.5 1354.5,771.6 1354.9,764.2 1355.3,766.5 1355.7,759.5 1356.0,767.9 1356.4,770.9 1356.8,766.5 1357.2,763.2 1357.6,761.8 1358.0,760.7 1358.4,764.3 1358.8,767.4 1359.2,773.9 1359.6,765.3 1360.0,765.7 1360.4,764.2 1360.8,769.4 1361.2,764.1 1361.6,765.6 1362.0,767.4 1362.4,766.0 1362.8,766.3 1363.2,766.2 1363.6,771.7 1364.0,768.0 1364.4,762.9 1364.8,765.2 1365.1,760.1 1365.5,763.3 1365.9,769.5 1366.3,769.9 1366.7,763.2 1367.1,762.6 1367.5,761.9 1367.9,767.9 1368.3,761.9 1368.7,764.1 1369.1,769.2 1369.5,758.8 1369.9,764.5 1370.3,769.9 1370.7,758.9 1371.1,757.5 1371.5,757.3 1371.9,758.3 1372.3,770.6 1372.7,767.3 1373.1,760.5 1373.5,761.9 1373.8,763.6 1374.2,770.7 1374.6,767.7 1375.0,768.9 1375.4,758.5 1375.8,764.6 1376.2,761.1 1376.6,768.1 1377.0,767.5 1377.4,760.6 1377.8,763.0 1378.2,762.9 1378.6,764.7 1379.0,758.2 1379.4,769.6 1379.8,756.9 1380.2,766.6 1380.6,764.0 1381.0,766.2 1381.4,769.9 1381.8,761.9 1382.2,761.6 1382.6,763.5 1382.9,763.2 1383.3,773.1 1383.7,770.3 1384.1,768.0 1384.5,761.1 1384.9,762.3 1385.3,763.3 1385.7,763.7 1386.1,760.9 1386.5,767.8 1386.9,764.4 1387.3,759.6 1387.7,764.6 1388.1,762.3 1388.5,765.2 1388.9,753.4 1389.3,762.4 1389.7,760.4 1390.1,758.3 1390.5,764.1 1390.9,766.9 1391.3,759.2 1391.6,768.4 1392.0,769.6 1392.4,765.9 1392.8,762.1 1393.2,759.8 1393.6,765.2 1394.0,760.1 1394.4,767.9 1394.8,767.2 1395.2,757.3 1395.6,755.8 1396.0,774.8 1396.4,767.7 1396.8,772.4 1397.2,770.0 1397.6,770.6 1398.0,764.7 1398.4,767.9 1398.8,770.6 1399.2,765.1 1399.6,763.6 1400.0,771.9 1400.3,763.3 1400.7,769.6 1401.1,760.5 1401.5,771.2 1401.9,768.0 1402.3,765.0 1402.7,760.9 1403.1,766.1 1403.5,764.5 1403.9,756.9 1404.3,769.1 1404.7,760.2 1405.1,764.9 1405.5,770.5 1405.9,767.4 1406.3,760.8 1406.7,772.3 1407.1,763.0 1407.5,763.7 1407.9,769.4 1408.3,772.2 1408.7,767.7 1409.1,759.6 1409.4,763.1 1409.8,764.0 1410.2,769.0 1410.6,765.1 1411.0,759.0 1411.4,761.4 1411.8,761.1 1412.2,761.7 1412.6,770.5 1413.0,759.4 1413.4,761.9 1413.8,757.1 1414.2,762.2 1414.6,765.1 1415.0,759.5 1415.4,771.0 1415.8,762.3 1416.2,771.3 1416.6,767.4 1417.0,766.6 1417.4,765.9 1417.8,767.1 1418.1,762.8 1418.5,772.9 1418.9,760.8 1419.3,767.7 1419.7,764.6 1420.1,768.7 1420.5,772.1 1420.9,761.1 1421.3,760.6 1421.7,770.6 1422.1,765.0 1422.5,769.6 1422.9,770.8 1423.3,771.7 1423.7,766.2 1424.1,771.4 1424.5,764.0 1424.9,760.7 1425.3,764.9 1425.7,768.1 1426.1,758.5 1426.5,766.2 1426.8,768.6 1427.2,770.9 1427.6,764.8 1428.0,769.2 1428.4,772.9 1428.8,764.0 1429.2,761.4 1429.6,761.0 1430.0,763.9 1430.4,769.2 1430.8,761.5 1431.2,763.0 1431.6,765.1 1432.0,770.2 1432.4,761.6 1432.8,762.8 1433.2,761.1 1433.6,762.5 1434.0,766.3 1434.4,762.8 1434.8,771.8 1435.2,769.3 1435.6,767.0 1435.9,767.2 1436.3,771.5 1436.7,765.0 1437.1,773.2 1437.5,770.2 1437.9,761.4 1438.3,771.1 1438.7,771.8 1439.1,761.6 1439.5,761.2 1439.9,764.9 1440.3,762.2 1440.7,765.6 1441.1,764.8 1441.5,767.0 1441.9,769.0 1442.3,771.3 1442.7,765.5 1443.1,759.5 1443.5,761.0 1443.9,777.6 1444.3,770.5 1444.6,762.9 1445.0,761.5 1445.4,770.7 1445.8,763.4 1446.2,770.5 1446.6,761.3 1447.0,764.3 1447.4,764.4 1447.8,762.2 1448.2,767.7 1448.6,770.8 1449.0,767.7 1449.4,766.8 1449.8,764.1 1450.2,761.7 1450.6,763.7 1451.0,770.9 1451.4,771.3 1451.8,760.2 1452.2,764.7 1452.6,760.6 1453.0,762.8 1453.4,771.3 1453.7,759.2 1454.1,760.9 1454.5,763.0 1454.9,757.2 1455.3,764.3 1455.7,754.7 1456.1,756.3 1456.5,762.1 1456.9,757.6 1457.3,765.6 1457.7,762.3 1458.1,762.3 1458.5,761.6 1458.9,761.2 1459.3,766.5 1459.7,760.8 1460.1,758.4 1460.5,754.0 1460.9,761.2 1461.3,768.6 1461.7,758.9 1462.1,760.2 1462.4,758.6 1462.8,760.0 1463.2,759.1 1463.6,762.4 1464.0,764.5 1464.4,759.9 1464.8,754.5 1465.2,757.1 1465.6,755.6 1466.0,759.5 1466.4,757.8 1466.8,751.3 1467.2,758.1 1467.6,751.5 1468.0,753.2 1468.4,751.8 1468.8,752.7 1469.2,750.2 1469.6,753.2 1470.0,749.4 1470.4,746.9 1470.8,752.2 1471.1,753.9 1471.5,750.8 1471.9,746.2 1472.3,742.0 1472.7,746.8 1473.1,744.9 1473.5,743.3 1473.9,736.7 1474.3,739.4 1474.7,737.6 1475.1,738.0 1475.5,737.0 1475.9,732.9 1476.3,733.1 1476.7,732.6 1477.1,731.2 1477.5,721.5 1477.9,723.1 1478.3,722.6 1478.7,715.5 1479.1,714.8 1479.5,712.8 1479.9,704.6 1480.2,702.2 1480.6,699.6 1481.0,696.8 1481.4,695.0 1481.8,688.2 1482.2,685.3 1482.6,679.1 1483.0,670.9 1483.4,669.5 1483.8,665.4 1484.2,658.2 1484.6,656.5 1485.0,645.8 1485.4,638.9 1485.8,634.8 1486.2,628.3 1486.6,620.7 1487.0,616.6 1487.4,609.7 1487.8,600.8 1488.2,594.3 1488.6,586.8 1488.9,579.8 1489.3,571.1 1489.7,567.3 1490.1,561.6 1490.5,554.0 1490.9,544.9 1491.3,541.7 1491.7,531.7 1492.1,527.5 1492.5,521.4 1492.9,512.1 1493.3,505.5 1493.7,501.7 1494.1,498.4 1494.5,491.3 1494.9,487.5 1495.3,481.9 1495.7,482.9 1496.1,475.2 1496.5,471.9 1496.9,473.4 1497.3,471.8 1497.6,467.5 1498.0,466.1 1498.4,470.0 1498.8,468.2 1499.2,467.6 1499.6,470.3 1500.0,474.1 1500.4,476.1 1500.8,479.5 1501.2,486.4 1501.6,486.8 1502.0,491.6 1502.4,496.7 1502.8,503.5 1503.2,509.1 1503.6,510.8 1504.0,516.8 1504.4,525.2 1504.8,529.6 1505.2,536.6 1505.6,544.0 1506.0,552.1 1506.4,556.7 1506.7,566.0 1507.1,573.8 1507.5,581.8 1507.9,586.3 1508.3,592.5 1508.7,597.7 1509.1,606.4 1509.5,615.0 1509.9,620.4 1510.3,627.2 1510.7,632.5 1511.1,643.0 1511.5,644.5 1511.9,652.9 1512.3,658.7 1512.7,661.0 1513.1,667.5 1513.5,672.2 1513.9,678.2 1514.3,680.1 1514.7,689.0 1515.1,690.1 1515.4,693.1 1515.8,705.7 1516.2,698.7 1516.6,709.3 1517.0,708.4 1517.4,711.7 1517.8,713.7 1518.2,720.3 1518.6,723.5 1519.0,728.0 1519.4,731.3 1519.8,728.9 1520.2,733.3 1520.6,730.4 1521.0,736.8 1521.4,730.3 1521.8,745.1 1522.2,742.9 1522.6,746.0 1523.0,744.9 1523.4,738.6 1523.8,744.7 1524.1,746.3 1524.5,742.7 1524.9,744.9 1525.3,755.9 1525.7,745.1 1526.1,740.1 1526.5,747.4 1526.9,754.1 1527.3,761.3 1527.7,754.0 1528.1,743.0 1528.5,742.8 1528.9,740.0 1529.3,753.0 1529.7,743.6 1530.1,753.1 1530.5,747.1 1530.9,757.1 1531.3,751.7 1531.7,754.6 1532.1,756.6 1532.5,751.0 1532.9,753.7 1533.2,752.7 1533.6,746.8 1534.0,756.2 1534.4,751.2 1534.8,749.0 1535.2,753.9 1535.6,751.5 1536.0,759.6 1536.4,755.4 1536.8,757.1 1537.2,753.3 1537.6,751.1 1538.0,761.9 1538.4,752.8 1538.8,750.6 1539.2,754.2 1539.6,761.0 1540.0,764.0 1540.4,749.2 1540.8,763.1 1541.2,753.2 1541.6,752.5 1541.9,759.9 1542.3,758.9 1542.7,758.7 1543.1,761.2 1543.5,753.9 1543.9,756.4 1544.3,759.9 1544.7,763.4 1545.1,764.3 1545.5,753.5 1545.9,759.9 1546.3,758.2 1546.7,769.1 1547.1,754.0 1547.5,757.9 1547.9,757.1 1548.3,760.5 1548.7,758.4 1549.1,755.2 1549.5,764.0 1549.9,755.0 1550.3,752.5 1550.7,759.6 1551.0,761.1 1551.4,762.8 1551.8,764.4 1552.2,753.0 1552.6,757.0 1553.0,766.3 1553.4,759.1 1553.8,762.3 1554.2,760.8 1554.6,766.5 1555.0,765.7 1555.4,768.8 1555.8,759.8 1556.2,763.9 1556.6,771.4 1557.0,764.2 1557.4,768.6 1557.8,762.4 1558.2,762.6 1558.6,761.0 1559.0,760.9 1559.4,764.6 1559.7,760.6 1560.1,762.2 1560.5,769.6 1560.9,760.6 1561.3,766.9 1561.7,760.3 1562.1,764.8 1562.5,766.4 1562.9,759.4 1563.3,766.9 1563.7,764.0 1564.1,764.7 1564.5,765.9 1564.9,768.9 1565.3,764.5 1565.7,771.7 1566.1,758.0 1566.5,772.1 1566.9,764.5 1567.3,766.1 1567.7,770.5 1568.1,760.5 1568.4,771.2 1568.8,763.4 1569.2,775.9 1569.6,762.3 1570.0,774.5 1570.4,764.9 1570.8,764.2 1571.2,772.0 1571.6,769.6 1572.0,770.2 1572.4,767.8 1572.8,764.7 1573.2,766.4 1573.6,760.4 1574.0,772.7 1574.4,760.4 1574.8,767.8 1575.2,762.0 1575.6,769.6 1576.0,767.7 1576.4,767.0 1576.8,765.7 1577.2,769.1 1577.5,770.3 1577.9,766.5 1578.3,770.7 1578.7,765.3 1579.1,764.1 1579.5,769.6 1579.9,766.2 1580.3,771.4 1580.7,771.7 1581.1,766.3 1581.5,768.7 1581.9,774.4 1582.3,762.3 1582.7,763.5 1583.1,764.1 1583.5,768.7 1583.9,758.8 1584.3,769.0 1584.7,774.9 1585.1,770.0 1585.5,764.2 1585.9,763.6 1586.2,769.8 1586.6,765.1 1587.0,760.9 1587.4,767.2 1587.8,767.8 1588.2,766.2 1588.6,767.7 1589.0,763.2 1589.4,766.4 1589.8,762.1 1590.2,765.0 1590.6,768.4 1591.0,766.8 1591.4,765.5 1591.8,772.3 1592.2,764.2 1592.6,766.0 1593.0,771.2 1593.4,763.4 1593.8,765.2 1594.2,773.2 1594.6,769.2 1594.9,760.5 1595.3,761.7 1595.7,760.8 1596.1,765.1 1596.5,767.4 1596.9,768.8 1597.3,769.5 1597.7,775.9 1598.1,772.4 1598.5,757.5 1598.9,762.3 1599.3,763.2 1599.7,756.8 1600.1,768.7 1600.5,763.2 1600.9,754.8 1601.3,761.8 1601.7,765.4 1602.1,765.3 1602.5,770.7 1602.9,760.0 1603.3,768.9 1603.7,757.0 1604.0,768.0 1604.4,762.1 1604.8,756.7 1605.2,766.3 1605.6,768.0 1606.0,754.3 1606.4,756.3 1606.8,768.7 1607.2,766.5 1607.6,751.9 1608.0,758.9 1608.4,761.3 1608.8,758.9 1609.2,759.5 1609.6,755.5 1610.0,763.2 1610.4,763.9 1610.8,762.5 1611.2,767.3 1611.6,764.7 1612.0,759.1 1612.4,760.7 1612.7,762.4 1613.1,768.6 1613.5,762.2 1613.9,758.6 1614.3,755.1 1614.7,760.0 1615.1,759.2 1615.5,758.6 1615.9,757.7 1616.3,765.8 1616.7,764.9 1617.1,754.2 1617.5,762.2 1617.9,766.9 1618.3,759.9 1618.7,760.8 1619.1,760.6 1619.5,756.8 1619.9,767.3 1620.3,758.5 1620.7,766.3 1621.1,767.2 1621.5,759.4 1621.8,762.5 1622.2,760.8 1622.6,760.0 1623.0,761.3 1623.4,758.5 1623.8,765.9 1624.2,766.0 1624.6,766.1 1625.0,753.6 1625.4,755.7 1625.8,758.0 1626.2,765.5 1626.6,770.7 1627.0,767.2 1627.4,761.0 1627.8,766.5 1628.2,765.0 1628.6,764.4 1629.0,759.2 1629.4,760.5 1629.8,764.7 1630.2,765.7 1630.5,766.1 1630.9,758.3 1631.3,761.4 1631.7,762.2 1632.1,770.0 1632.5,761.0 1632.9,762.0 1633.3,770.9 1633.7,762.4 1634.1,759.7 1634.5,767.7 1634.9,769.9 1635.3,755.1 1635.7,763.4 1636.1,769.2 1636.5,760.4 1636.9,769.2 1637.3,768.3 1637.7,762.5 1638.1,769.7 1638.5,760.8 1638.9,768.5 1639.2,756.7 1639.6,765.4 1640.0,764.8 1640.4,757.8 1640.8,764.1 1641.2,756.8 1641.6,766.9 1642.0,760.7 1642.4,767.6 1642.8,762.9 1643.2,757.9 1643.6,763.4 1644.0,767.6 1644.4,759.6 1644.8,764.8 1645.2,774.8 1645.6,759.7 1646.0,760.2 1646.4,764.9 1646.8,766.5 1647.2,764.8 1647.6,765.4 1648.0,771.4 1648.3,762.3 1648.7,763.8 1649.1,768.9 1649.5,754.0 1649.9,757.2 1650.3,758.7 1650.7,766.1 1651.1,759.4 1651.5,768.0 1651.9,762.6 1652.3,766.4 1652.7,761.2 1653.1,758.8 1653.5,761.5 1653.9,767.5 1654.3,769.1 1654.7,765.0 1655.1,771.3 1655.5,766.5 1655.9,765.6 1656.3,765.2 1656.7,765.3 1657.0,758.0 1657.4,770.3 1657.8,769.6 1658.2,765.9 1658.6,762.6 1659.0,771.8 1659.4,768.4 1659.8,761.0 1660.2,764.1 1660.6,761.9 1661.0,767.7 1661.4,759.6 1661.8,761.2 1662.2,770.1 1662.6,762.2 1663.0,772.7 1663.4,753.2 1663.8,764.9 1664.2,759.2 1664.6,767.0 1665.0,763.0 1665.4,765.2 1665.7,761.9 1666.1,764.4 1666.5,769.9 1666.9,764.3 1667.3,762.6 1667.7,763.3 1668.1,767.3 1668.5,767.0 1668.9,763.1 1669.3,764.5 1669.7,758.2 1670.1,760.3 1670.5,759.4 1670.9,757.1 1671.3,766.5 1671.7,769.0 1672.1,763.5 1672.5,760.3 1672.9,763.5 1673.3,768.9 1673.7,764.3 1674.1,763.3 1674.5,772.9 1674.8,762.2 1675.2,769.0 1675.6,765.1 1676.0,762.5 1676.4,766.9 1676.8,758.2 1677.2,761.5 1677.6,762.2 1678.0,772.8 1678.4,767.6 1678.8,766.8 1679.2,761.4 1679.6,763.5 1680.0,767.4 1680.4,766.9 1680.8,765.0 1681.2,768.6 1681.6,772.6 1682.0,762.5 1682.4,758.5 1682.8,770.0 1683.2,761.7 1683.5,766.7 1683.9,760.1 1684.3,762.2 1684.7,764.3 1685.1,761.8 1685.5,769.3 1685.9,760.6 1686.3,768.5 1686.7,774.2 1687.1,759.1 1687.5,768.3 1687.9,767.3 1688.3,770.2 1688.7,772.3 1689.1,775.9 1689.5,765.9 1689.9,760.7 1690.3,764.0 1690.7,772.2 1691.1,769.1 1691.5,767.7 1691.9,773.7 1692.2,766.9 1692.6,766.4 1693.0,768.1 1693.4,770.6 1693.8,767.0 1694.2,767.5 1694.6,765.1 1695.0,763.5 1695.4,773.1 1695.8,770.6 1696.2,767.0 1696.6,765.0 1697.0,762.6 1697.4,766.6 1697.8,766.7 1698.2,762.2 1698.6,761.5 1699.0,763.7 1699.4,769.4 1699.8,768.9 1700.2,762.8 1700.6,766.3 1701.0,754.7 1701.3,763.7 1701.7,762.3 1702.1,759.4 1702.5,765.3 1702.9,769.9 1703.3,766.7 1703.7,759.0 1704.1,762.5 1704.5,760.9 1704.9,759.4 1705.3,767.2 1705.7,763.6 1706.1,771.0 1706.5,765.0 1706.9,765.1 1707.3,765.6 1707.7,753.1 1708.1,764.9 1708.5,760.1 1708.9,761.5 1709.3,759.1 1709.7,763.3 1710.0,760.4 1710.4,759.9 1710.8,755.3 1711.2,760.5 1711.6,761.4 1712.0,760.0 1712.4,747.6 1712.8,757.3 1713.2,754.0 1713.6,756.6 1714.0,758.2 1714.4,756.2 1714.8,759.1 1715.2,757.0 1715.6,752.7 1716.0,752.2 1716.4,752.2 1716.8,755.2 1717.2,753.2 1717.6,747.9 1718.0,759.6 1718.4,747.9 1718.8,746.4 1719.1,745.2 1719.5,746.6 1719.9,748.4 1720.3,741.8 1720.7,751.0 1721.1,749.5 1721.5,744.6 1721.9,745.3 1722.3,746.7 1722.7,740.1 1723.1,744.0 1723.5,753.1 1723.9,741.4 1724.3,739.1 1724.7,743.8 1725.1,739.5 1725.5,735.8 1725.9,744.9 1726.3,740.9 1726.7,740.8 1727.1,738.4 1727.5,736.4 1727.8,735.9 1728.2,742.7 1728.6,741.1 1729.0,742.1 1729.4,734.6 1729.8,736.6 1730.2,735.2 1730.6,738.9 1731.0,736.4 1731.4,736.3 1731.8,737.3 1732.2,736.8 1732.6,738.6 1733.0,732.0 1733.4,739.4 1733.8,736.5 1734.2,736.2 1734.6,735.2 1735.0,741.6 1735.4,732.4 1735.8,738.4 1736.2,740.1 1736.5,739.1 1736.9,734.8 1737.3,740.8 1737.7,741.7 1738.1,740.8 1738.5,739.0 1738.9,743.5 1739.3,738.0 1739.7,746.0 1740.1,741.4 1740.5,741.0 1740.9,738.8 1741.3,745.8 1741.7,744.5 1742.1,745.4 1742.5,736.6 1742.9,745.0 1743.3,739.6 1743.7,743.4 1744.1,747.2 1744.5,744.6 1744.9,744.0 1745.3,741.9 1745.6,748.1 1746.0,740.8 1746.4,750.0 1746.8,749.0 1747.2,744.2 1747.6,744.2 1748.0,752.6 1748.4,752.9 1748.8,749.4 1749.2,754.8 1749.6,750.9 1750.0,754.6 1750.4,752.7 1750.8,747.3 1751.2,759.7 1751.6,752.9 1752.0,757.2 1752.4,748.6 1752.8,750.0 1753.2,762.1 1753.6,748.0 1754.0,745.9 1754.3,755.5 1754.7,755.0 1755.1,763.4 1755.5,751.1 1755.9,750.1 1756.3,756.4 1756.7,752.6 1757.1,750.6 1757.5,755.1 1757.9,761.4 1758.3,752.0 1758.7,760.9 1759.1,757.1 1759.5,758.8 1759.9,759.9 1760.3,766.8 1760.7,762.9 1761.1,763.4 1761.5,752.5 1761.9,757.8 1762.3,752.8 1762.7,760.9 1763.0,761.2 1763.4,763.5 1763.8,754.2 1764.2,766.9 1764.6,762.5 1765.0,760.7 1765.4,767.6 1765.8,766.5 1766.2,756.5 1766.6,753.6 1767.0,762.7 1767.4,762.8 1767.8,766.5 1768.2,760.7 1768.6,759.3 1769.0,764.5 1769.4,762.3 1769.8,759.9 1770.2,765.9 1770.6,758.0 1771.0,757.6 1771.4,760.5 1771.8,760.3 1772.1,760.5 1772.5,764.0 1772.9,766.5 1773.3,768.6 1773.7,760.8 1774.1,762.3 1774.5,770.4 1774.9,768.8 1775.3,771.4 1775.7,756.1 1776.1,754.3 1776.5,764.1 1776.9,757.5 1777.3,760.4 1777.7,765.6 1778.1,759.6 1778.5,755.1 1778.9,766.0 1779.3,767.1 1779.7,764.1 1780.1,767.0 1780.5,771.0 1780.8,764.6 1781.2,762.8 1781.6,761.2 1782.0,757.9 1782.4,769.0 1782.8,761.4 1783.2,767.8 1783.6,763.7 1784.0,766.5 1784.4,758.2 1784.8,764.6 1785.2,761.6 1785.6,765.9 1786.0,755.5 1786.4,769.0 1786.8,758.3 1787.2,775.2 1787.6,770.7 1788.0,763.3 1788.4,758.4 1788.8,762.7 1789.2,767.3 1789.6,766.4 1789.9,772.3 1790.3,769.8 1790.7,769.2 1791.1,763.3 1791.5,764.9 1791.9,767.5 1792.3,768.3 1792.7,764.7 1793.1,761.4 1793.5,761.7 1793.9,761.3 1794.3,771.2 1794.7,772.9 1795.1,766.5 1795.5,772.0 1795.9,772.9 1796.3,767.0 1796.7,768.5 1797.1,768.7 1797.5,754.4 1797.9,767.5 1798.3,765.9 1798.6,768.1 1799.0,764.3 1799.4,768.5 1799.8,765.9 1800.2,767.4 1800.6,762.1 1801.0,761.1 1801.4,766.3 1801.8,760.4 1802.2,759.9 1802.6,768.2 1803.0,764.7 1803.4,769.1 1803.8,763.1 1804.2,754.6 1804.6,768.2 1805.0,757.9 1805.4,766.8 1805.8,760.7 1806.2,760.2 1806.6,763.9 1807.0,770.8 1807.3,763.3 1807.7,764.0 1808.1,760.0 1808.5,760.5 1808.9,762.7 1809.3,765.3 1809.7,762.9 1810.1,761.9 1810.5,771.1 1810.9,761.0 1811.3,765.4 1811.7,762.1 1812.1,759.2 1812.5,757.4 1812.9,757.5 1813.3,757.1 1813.7,762.1 1814.1,757.5 1814.5,758.2 1814.9,768.1 1815.3,766.1 1815.7,767.1 1816.1,766.5 1816.4,756.8 1816.8,756.6 1817.2,769.5 1817.6,757.7 1818.0,767.3 1818.4,765.2 1818.8,767.6 1819.2,770.8 1819.6,762.8 1820.0,768.3 1820.4,769.1 1820.8,757.4 1821.2,757.1 1821.6,764.8 1822.0,756.8 1822.4,755.0 1822.8,759.5 1823.2,760.8 1823.6,762.8 1824.0,761.2 1824.4,761.0 1824.8,763.3 1825.1,765.4 1825.5,762.7 1825.9,762.2 1826.3,759.6 1826.7,768.5 1827.1,758.3 1827.5,760.8 1827.9,765.2 1828.3,769.0 1828.7,762.3 1829.1,763.4 1829.5,760.1 1829.9,768.1 1830.3,761.1 1830.7,757.9 1831.1,765.2 1831.5,767.0 1831.9,760.0 1832.3,767.2 1832.7,769.2 1833.1,758.7 1833.5,771.8 1833.8,754.7 1834.2,769.2 1834.6,760.1 1835.0,759.7 1835.4,763.6 1835.8,758.8 1836.2,762.6 1836.6,774.7 1837.0,761.2 1837.4,767.1 1837.8,762.5 1838.2,766.5 1838.6,768.2 1839.0,763.2 1839.4,765.3 1839.8,763.3 1840.2,762.2 1840.6,769.8 1841.0,756.7 1841.4,769.8 1841.8,771.0 1842.2,765.2 1842.6,758.8 1842.9,771.9 1843.3,765.4 1843.7,767.0 1844.1,770.0 1844.5,767.5 1844.9,762.1 1845.3,761.4 1845.7,764.8 1846.1,760.2 1846.5,765.1 1846.9,771.4 1847.3,763.1 1847.7,760.8 1848.1,766.0 1848.5,766.7 1848.9,767.5 1849.3,762.5 1849.7,769.2 1850.1,759.2 1850.5,760.8 1850.9,762.1 1851.3,766.3 1851.6,764.7 1852.0,764.1 1852.4,755.5 1852.8,769.8 1853.2,763.4 1853.6,760.8 1854.0,756.2 1854.4,767.5 1854.8,760.4 1855.2,753.6 1855.6,755.4 1856.0,762.7 1856.4,755.9 1856.8,761.8 1857.2,761.0 1857.6,769.6 1858.0,758.4 1858.4,757.6 1858.8,757.8 1859.2,764.9 1859.6,764.1 1860.0,760.4 1860.3,758.1 1860.7,770.8 1861.1,759.9 1861.5,757.0 1861.9,761.8 1862.3,766.1 1862.7,759.2 1863.1,767.1 1863.5,767.1 1863.9,765.6 1864.3,761.1 1864.7,768.5 1865.1,762.2 1865.5,762.4 1865.9,768.8 1866.3,766.9 1866.7,760.6 1867.1,758.1 1867.5,757.5 1867.9,767.5 1868.3,763.3 1868.7,766.0 1869.1,760.5 1869.4,761.4 1869.8,766.7 1870.2,760.5 1870.6,761.3 1871.0,759.8 1871.4,768.0 1871.8,767.4 1872.2,765.6 1872.6,762.0 1873.0,757.1 1873.4,765.1 1873.8,760.1 1874.2,761.8 1874.6,763.2 1875.0,768.6 1875.4,764.6 1875.8,760.8 1876.2,763.8 1876.6,768.3 1877.0,762.2 1877.4,767.9 1877.8,758.4 1878.1,769.6 1878.5,769.5 1878.9,769.3 1879.3,764.5 1879.7,762.9 1880.1,760.8 1880.5,762.9 1880.9,760.9 1881.3,763.9 1881.7,767.1 1882.1,760.0 1882.5,769.2 1882.9,768.2 1883.3,767.6 1883.7,764.6 1884.1,761.3 1884.5,767.1 1884.9,762.4 1885.3,767.7 1885.7,758.3 1886.1,763.2 1886.5,766.6 1886.9,770.5 1887.2,764.9 1887.6,772.7 1888.0,772.0 1888.4,770.7 1888.8,766.9 1889.2,768.8 1889.6,773.4 1890.0,768.1 1890.4,759.9 1890.8,756.7 1891.2,760.0 1891.6,756.2 1892.0,765.9 1892.4,773.3 1892.8,771.0 1893.2,758.9 1893.6,761.8 1894.0,764.8 1894.4,762.7 1894.8,764.9 1895.2,772.4 1895.6,769.2 1895.9,758.9 1896.3,763.0 1896.7,755.2 1897.1,767.8 1897.5,768.7 1897.9,766.2 1898.3,759.4 1898.7,760.5 1899.1,767.7 1899.5,758.8 1899.9,770.0 1900.3,760.1 1900.7,767.9 1901.1,764.2 1901.5,764.8 1901.9,765.2 1902.3,759.5 1902.7,770.1 1903.1,767.7 1903.5,768.0 1903.9,764.2 1904.3,766.6 1904.6,768.6 1905.0,766.7 1905.4,758.7 1905.8,758.1 1906.2,761.7 1906.6,760.4 1907.0,764.5 1907.4,761.8 1907.8,764.4 1908.2,766.2 1908.6,761.0 1909.0,768.7"/>
<polygon fill="#ff6600" stroke="none" points="228.0,659.0 274.7,661.4 298.0,663.3 321.3,659.4 344.7,657.7 368.0,658.3 391.4,660.6 438.0,658.0 447.5,657.9 449.1,657.0 449.9,651.8 451.1,616.1 451.5,616.1 452.7,651.8 453.5,656.9 454.6,657.6 500.5,656.0 541.3,652.3 543.6,651.0 545.2,648.6 549.6,634.0 550.8,632.3 551.9,633.8 555.5,642.4 557.1,642.9 558.7,641.3 561.0,634.1 563.0,618.6 564.6,591.6 565.8,556.7 568.2,433.6 571.7,165.1 573.3,105.8 573.7,105.8 574.1,112.3 574.9,142.7 579.6,483.4 582.4,592.3 584.0,619.5 586.3,637.1 587.9,642.1 589.9,645.8 593.1,649.7 596.6,652.5 608.9,658.1 624.7,662.9 648.4,656.4 671.8,657.3 694.7,659.5 699.5,659.1 706.6,657.4 715.7,652.1 718.5,651.3 721.2,652.2 731.1,658.2 741.4,660.5 765.1,660.5 788.5,662.5 811.8,659.3 858.5,663.5 881.8,659.7 928.5,662.9 951.8,661.5 1000.9,655.8 1011.5,653.4 1019.1,650.4 1022.6,648.1 1025.4,645.4 1029.7,637.9 1033.3,626.3 1036.5,609.2 1039.2,587.0 1042.0,557.4 1051.9,421.9 1053.9,405.4 1055.1,400.5 1055.8,399.5 1056.6,400.5 1057.8,405.4 1059.8,421.8 1069.7,557.3 1072.5,587.4 1075.2,610.1 1078.4,627.8 1081.9,640.0 1086.3,648.3 1091.8,653.8 1096.2,655.7 1101.7,657.2 1116.0,659.0 1138.5,659.6 1161.8,656.0 1185.6,660.4 1208.5,659.9 1231.9,660.0 1255.2,656.7 1272.2,657.2 1278.5,656.6 1282.1,655.6 1286.8,653.2 1290.8,649.6 1294.0,644.6 1296.7,637.7 1301.1,619.2 1307.0,580.5 1308.2,575.6 1309.4,573.7 1310.6,575.2 1311.8,579.6 1317.7,616.3 1321.6,633.0 1324.0,639.3 1327.2,644.8 1330.3,648.3 1334.3,651.0 1342.2,653.8 1356.4,655.9 1371.9,657.0 1389.7,657.0 1439.9,653.7 1444.3,652.6 1453.7,648.7 1470.0,639.3 1473.1,636.1 1475.5,632.0 1477.9,625.3 1479.9,616.1 1483.4,586.3 1486.6,538.3 1489.7,463.7 1500.0,118.8 1502.4,71.6 1503.6,60.6 1504.4,58.4 1505.2,60.5 1506.4,71.3 1508.7,118.1 1519.0,462.3 1522.6,544.8 1526.5,600.6 1527.3,636.0 1528.1,613.5 1532.5,631.6 1535.2,637.7 1538.4,641.8 1539.6,657.7 1540.8,643.7 1551.0,648.6 1565.7,652.7 1587.0,656.2 1605.6,658.4 1652.3,658.5 1697.8,656.6 1710.4,654.7 1722.3,651.5 1735.8,652.4 1740.9,653.4 1745.6,655.0 1763.8,656.4 1778.1,657.2 1792.3,656.8 1815.7,658.5 1862.3,665.0 1885.7,663.0 1909.0,658.6 1909.0,666.0 1885.7,670.4 1862.3,672.4 1815.7,665.8 1792.3,664.1 1772.9,664.1 1745.6,661.5 1740.9,659.8 1736.2,659.0 1722.3,658.4 1710.0,661.8 1697.0,663.8 1652.3,665.7 1605.6,665.4 1586.6,663.0 1565.7,659.2 1551.4,654.8 1540.8,649.3 1539.6,663.2 1538.4,647.1 1535.2,642.5 1532.9,636.9 1530.9,629.7 1528.1,615.8 1527.3,638.0 1526.5,602.3 1522.6,545.4 1519.0,462.3 1508.7,118.1 1506.4,71.3 1505.2,60.5 1504.4,58.4 1503.6,60.6 1502.4,71.6 1500.4,108.9 1489.7,463.7 1486.6,538.6 1483.0,592.0 1479.5,620.8 1477.1,631.5 1474.7,638.0 1472.3,642.0 1469.2,645.2 1459.7,651.6 1452.2,655.7 1442.3,659.8 1437.1,660.6 1402.7,663.4 1386.1,664.1 1371.9,664.1 1354.9,662.7 1341.8,660.4 1334.3,657.4 1330.3,654.4 1327.2,650.5 1324.4,645.2 1322.0,638.6 1318.1,621.1 1311.8,580.1 1310.6,575.5 1309.4,573.9 1308.2,575.9 1307.0,581.0 1300.7,624.0 1296.3,643.4 1293.6,650.7 1290.4,655.9 1286.4,659.8 1281.7,662.3 1278.1,663.4 1271.8,664.2 1255.2,663.8 1231.9,667.2 1208.5,667.1 1185.6,667.7 1161.8,663.2 1138.5,666.8 1116.4,666.0 1101.7,663.9 1096.2,662.2 1091.8,660.1 1086.3,654.0 1081.9,644.8 1078.4,631.2 1075.2,612.2 1072.5,588.5 1069.7,557.7 1060.2,426.1 1057.8,405.4 1056.6,400.5 1055.8,399.5 1055.1,400.5 1053.9,405.4 1051.9,421.9 1042.0,557.8 1039.2,588.1 1036.1,614.0 1032.9,631.6 1029.3,643.7 1025.0,651.6 1022.2,654.5 1018.7,657.0 1009.2,660.8 995.3,663.6 951.8,668.8 928.5,670.2 881.8,667.1 858.5,670.8 811.8,666.7 788.5,669.8 765.1,668.2 741.8,668.6 735.9,667.8 731.5,666.5 727.9,664.7 721.2,660.1 718.5,659.1 715.3,660.2 706.6,665.9 699.1,668.0 694.7,668.5 671.8,666.8 648.4,666.3 624.7,673.1 609.3,668.5 597.8,663.1 593.9,659.9 590.7,655.8 588.3,650.6 586.7,645.0 584.4,628.4 582.4,595.4 579.6,484.7 574.9,142.7 574.1,112.3 573.7,105.8 573.3,105.8 571.7,165.1 568.2,434.5 565.8,559.0 564.2,603.6 562.6,627.6 560.6,642.0 557.9,650.2 556.3,651.3 555.1,650.3 551.9,642.5 550.8,641.2 549.6,643.0 544.8,659.5 542.8,662.4 540.1,663.9 517.1,667.2 485.9,669.9 459.4,670.9 454.6,670.2 453.5,669.5 452.7,664.4 451.5,628.7 451.1,628.7 449.5,668.4 448.7,670.2 444.4,671.5 391.4,674.5 368.0,672.2 344.7,671.6 321.3,673.3 298.0,677.3 274.7,675.4 228.0,673.0"/>
<polyline stroke="#ff6600" stroke-width="3.0" points="228.0,665.2 228.4,664.2 228.8,669.5 229.2,663.6 229.6,667.0 230.0,671.8 230.4,669.2 230.8,662.2 231.2,659.6 231.6,663.5 232.0,664.1 232.4,672.3 232.7,666.4 233.1,670.3 233.5,663.0 233.9,666.6 234.3,662.6 234.7,666.0 235.1,668.3 235.5,653.7 235.9,663.0 236.3,667.4 236.7,663.6 237.1,670.8 237.5,678.3 237.9,671.8 238.3,675.2 238.7,671.0 239.1,659.0 239.5,653.3 239.9,659.2 240.3,664.9 240.7,668.5 241.1,668.3 241.4,667.2 241.8,664.7 242.2,674.5 242.6,672.0 243.0,659.9 243.4,673.9 243.8,664.0 244.2,665.5 244.6,655.8 245.0,667.4 245.4,668.7 245.8,671.3 246.2,665.1 246.6,664.7 247.0,672.4 247.4,664.7 247.8,667.2 248.2,673.1 248.6,662.4 249.0,674.5 249.4,664.3 249.8,662.7 250.1,663.4 250.5,667.1 250.9,667.7 251.3,664.6 251.7,660.1 252.1,664.0 252.5,674.0 252.9,670.6 253.3,662.5 253.7,662.2 254.1,666.7 254.5,671.4 254.9,671.0 255.3,660.8 255.7,662.1 256.1,670.0 256.5,661.8 256.9,663.1 257.3,676.9 257.7,673.6 258.1,669.7 258.5,678.1 258.9,657.8 259.2,673.6 259.6,669.4 260.0,671.5 260.4,668.4 260.8,667.6 261.2,665.7 261.6,672.3 262.0,668.3 262.4,669.6 262.8,668.9 263.2,658.4 263.6,669.7 264.0,663.9 264.4,661.6 264.8,670.8 265.2,669.9 265.6,671.1 266.0,658.0 266.4,674.7 266.8,662.7 267.2,674.8 267.6,671.7 267.9,665.5 268.3,678.1 268.7,669.9 269.1,656.9 269.5,661.6 269.9,663.6 270.3,678.3 270.7,670.4 271.1,658.7 271.5,670.4 271.9,673.1 272.3,671.9 272.7,666.2 273.1,669.6 273.5,676.1 273.9,668.4 274.3,664.8 274.7,666.6 275.1,659.2 275.5,665.0 275.9,670.6 276.3,665.3 276.7,667.4 277.0,665.7 277.4,664.7 277.8,657.8 278.2,667.1 278.6,671.8 279.0,668.6 279.4,664.5 279.8,657.5 280.2,657.8 280.6,667.4 281.0,676.5 281.4,661.6 281.8,673.8 282.2,665.1 282.6,658.5 283.0,665.1 283.4,669.9 283.8,672.6 284.2,680.8 284.6,662.2 285.0,674.6 285.4,670.3 285.7,665.2 286.1,662.6 286.5,670.8 286.9,665.6 287.3,666.6 287.7,663.9 288.1,660.6 288.5,673.7 288.9,659.8 289.3,679.2 289.7,664.9 290.1,669.5 290.5,671.6 290.9,667.4 291.3,662.8 291.7,676.6 292.1,658.2 292.5,667.9 292.9,670.8 293.3,659.2 293.7,674.1 294.1,670.9 294.4,664.8 294.8,668.3 295.2,672.3 295.6,670.9 296.0,671.2 296.4,666.2 296.8,664.4 297.2,674.9 297.6,678.8 298.0,665.8 298.4,672.0 298.8,668.1 299.2,667.8 299.6,675.4 300.0,668.4 300.4,669.2 300.8,677.2 301.2,665.8 301.6,673.0 302.0,674.4 302.4,675.9 302.8,673.8 303.2,672.8 303.5,659.5 303.9,674.0 304.3,672.8 304.7,675.7 305.1,661.9 305.5,669.8 305.9,660.5 306.3,672.3 306.7,673.6 307.1,659.6 307.5,661.2 307.9,667.9 308.3,668.3 308.7,662.3 309.1,667.0 309.5,668.4 309.9,672.8 310.3,665.2 310.7,660.1 311.1,665.9 311.5,665.3 311.9,663.2 312.2,672.7 312.6,663.5 313.0,664.5 313.4,668.3 313.8,668.3 314.2,676.3 314.6,667.2 315.0,669.1 315.4,662.8 315.8,673.1 316.2,671.6 316.6,658.8 317.0,658.0 317.4,664.5 317.8,664.9 318.2,660.6 318.6,663.6 319.0,669.8 319.4,658.6 319.8,672.2 320.2,670.5 320.6,670.9 320.9,674.0 321.3,657.0 321.7,671.7 322.1,668.1 322.5,665.6 322.9,662.6 323.3,671.5 323.7,652.8 324.1,658.9 324.5,671.4 324.9,668.5 325.3,676.1 325.7,668.3 326.1,674.5 326.5,669.3 326.9,660.8 327.3,668.5 327.7,670.6 328.1,662.2 328.5,669.0 328.9,651.3 329.3,674.2 329.7,669.4 330.0,671.0 330.4,674.9 330.8,665.8 331.2,665.7 331.6,667.7 332.0,661.1 332.4,662.2 332.8,667.8 333.2,658.0 333.6,663.7 334.0,670.6 334.4,670.7 334.8,659.3 335.2,663.4 335.6,673.8 336.0,661.6 336.4,660.1 336.8,663.2 337.2,671.9 337.6,660.1 338.0,663.2 338.4,661.2 338.7,662.2 339.1,659.3 339.5,656.8 339.9,667.7 340.3,657.2 340.7,660.6 341.1,663.1 341.5,671.1 341.9,667.9 342.3,669.3 342.7,668.5 343.1,658.2 343.5,665.0 343.9,657.9 344.3,666.6 344.7,667.2 345.1,657.9 345.5,661.0 345.9,667.9 346.3,667.1 346.7,666.4 347.1,663.0 347.4,655.4 347.8,659.2 348.2,665.5 348.6,661.7 349.0,667.1 349.4,662.9 349.8,661.6 350.2,658.5 350.6,664.5 351.0,673.3 351.4,670.2 351.8,658.7 352.2,663.8 352.6,671.1 353.0,665.7 353.4,662.3 353.8,659.7 354.2,666.6 354.6,674.8 355.0,666.0 355.4,674.9 355.8,670.9 356.2,665.3 356.5,661.0 356.9,668.8 357.3,661.1 357.7,677.8 358.1,668.4 358.5,665.6 358.9,667.7 359.3,662.1 359.7,665.8 360.1,662.5 360.5,664.9 360.9,666.4 361.3,656.7 361.7,659.6 362.1,675.7 362.5,671.0 362.9,658.4 363.3,659.6 363.7,665.0 364.1,666.0 364.5,664.0 364.9,658.7 365.2,664.7 365.6,657.5 366.0,667.2 366.4,668.2 366.8,656.4 367.2,673.5 367.6,665.1 368.0,670.8 368.4,659.4 368.8,668.4 369.2,668.5 369.6,670.7 370.0,658.6 370.4,678.4 370.8,671.7 371.2,674.3 371.6,665.9 372.0,666.1 372.4,666.9 372.8,670.6 373.2,658.6 373.6,665.6 374.0,673.4 374.3,663.0 374.7,659.8 375.1,669.8 375.5,668.7 375.9,675.8 376.3,664.0 376.7,676.0 377.1,666.4 377.5,672.1 377.9,663.3 378.3,665.0 378.7,661.1 379.1,658.7 379.5,672.0 379.9,664.0 380.3,673.6 380.7,668.6 381.1,663.2 381.5,662.3 381.9,661.3 382.3,666.8 382.7,672.3 383.0,673.5 383.4,670.0 383.8,670.6 384.2,659.9 384.6,670.4 385.0,669.9 385.4,658.9 385.8,672.7 386.2,661.5 386.6,664.4 387.0,663.5 387.4,663.2 387.8,660.4 388.2,672.3 388.6,660.9 389.0,667.9 389.4,669.0 389.8,669.6 390.2,667.9 390.6,667.9 391.0,660.2 391.4,662.7 391.7,664.0 392.1,675.3 392.5,666.4 392.9,675.8 393.3,665.7 393.7,672.2 394.1,657.7 394.5,674.8 394.9,670.0 395.3,671.7 395.7,659.8 396.1,656.1 396.5,670.4 396.9,668.5 397.3,657.7 397.7,659.4 398.1,675.9 398.5,664.0 398.9,667.7 399.3,669.7 399.7,666.8 400.1,679.5 400.5,669.6 400.8,671.6 401.2,672.8 401.6,674.4 402.0,668.4 402.4,677.3 402.8,670.3 403.2,657.8 403.6,664.4 404.0,666.8 404.4,659.7 404.8,657.7 405.2,662.3 405.6,675.7 406.0,665.2 406.4,665.9 406.8,659.3 407.2,679.1 407.6,669.0 408.0,668.9 408.4,672.8 408.8,667.8 409.2,662.1 409.5,670.0 409.9,662.3 410.3,671.2 410.7,675.2 411.1,667.3 411.5,661.4 411.9,660.2 412.3,672.4 412.7,673.6 413.1,672.1 413.5,658.4 413.9,658.9 414.3,666.0 414.7,668.7 415.1,663.2 415.5,673.8 415.9,663.4 416.3,671.4 416.7,657.5 417.1,662.2 417.5,674.2 417.9,662.5 418.2,679.8 418.6,667.5 419.0,666.9 419.4,669.2 419.8,663.5 420.2,663.3 420.6,664.1 421.0,659.8 421.4,656.1 421.8,664.5 422.2,663.7 422.6,671.5 423.0,662.8 423.4,662.0 423.8,675.9 424.2,661.4 424.6,675.0 425.0,667.1 425.4,669.9 425.8,664.9 426.2,661.6 426.6,661.4 427.0,668.9 427.3,664.8 427.7,663.7 428.1,659.4 428.5,660.6 428.9,670.0 429.3,668.1 429.7,665.7 430.1,668.9 430.5,666.2 430.9,659.5 431.3,664.0 431.7,660.0 432.1,668.0 432.5,667.2 432.9,654.0 433.3,657.2 433.7,660.2 434.1,665.9 434.5,670.7 434.9,654.2 435.3,658.1 435.7,673.0 436.0,669.4 436.4,665.3 436.8,659.5 437.2,663.8 437.6,657.0 438.0,672.2 438.4,662.5 438.8,656.5 439.2,656.5 439.6,663.4 440.0,657.2 440.4,650.6 440.8,662.9 441.2,662.8 441.6,667.0 442.0,672.2 442.4,668.3 442.8,661.4 443.2,657.2 443.6,675.7 444.0,657.8 444.4,660.8 444.8,666.7 445.1,664.9 445.5,659.9 445.9,656.6 446.3,662.3 446.7,653.5 447.1,670.4 447.5,666.7 447.9,669.3 448.3,656.0 448.7,664.8 449.1,659.5 449.5,663.8 449.9,656.5 450.3,647.9 450.7,629.4 451.1,620.6 451.5,626.0 451.9,629.8 452.3,651.5 452.7,663.4 453.1,662.8 453.5,666.7 453.8,670.5 454.2,673.3 454.6,660.2 455.0,666.3 455.4,661.5 455.8,656.5 456.2,672.1 456.6,666.4 457.0,667.2 457.4,671.0 457.8,660.7 458.2,659.7 458.6,660.9 459.0,654.1 459.4,669.6 459.8,653.6 460.2,671.6 460.6,662.1 461.0,664.2 461.4,663.3 461.8,668.0 462.2,672.5 462.5,672.0 462.9,670.5 463.3,663.2 463.7,660.2 464.1,658.5 464.5,666.0 464.9,666.2 465.3,668.9 465.7,670.5 466.1,657.1 466.5,662.4 466.9,667.2 467.3,654.8 467.7,656.9 468.1,653.9 468.5,667.5 468.9,665.5 469.3,672.9 469.7,662.9 470.1,670.2 470.5,668.2 470.9,655.7 471.3,665.5 471.6,658.8 472.0,661.2 472.4,656.0 472.8,657.5 473.2,658.8 473.6,668.5 474.0,661.7 474.4,667.0 474.8,665.4 475.2,662.4 475.6,669.0 476.0,660.0 476.4,652.0 476.8,656.2 477.2,659.9 477.6,656.2 478.0,668.9 478.4,663.5 478.8,663.1 479.2,670.6 479.6,665.3 480.0,653.5 480.3,665.4 480.7,660.9 481.1,666.1 481.5,656.7 481.9,659.3 482.3,670.2 482.7,661.7 483.1,656.9 483.5,660.5 483.9,663.5 484.3,668.6 484.7,664.6 485.1,662.0 485.5,667.9 485.9,661.8 486.3,660.5 486.7,664.8 487.1,657.9 487.5,661.8 487.9,669.7 488.3,666.7 488.7,661.7 489.0,664.4 489.4,658.9 489.8,655.2 490.2,662.8 490.6,660.0 491.0,660.4 491.4,653.9 491.8,667.1 492.2,670.3 492.6,662.6 493.0,659.3 493.4,664.7 493.8,660.3 494.2,663.2 494.6,659.2 495.0,659.2 495.4,654.4 495.8,658.3 496.2,662.7 496.6,669.2 497.0,662.0 497.4,666.8 497.8,662.5 498.1,656.4 498.5,666.0 498.9,666.0 499.3,657.9 499.7,656.3 500.1,666.7 500.5,663.2 500.9,665.2 501.3,660.2 501.7,660.8 502.1,659.1 502.5,662.1 502.9,660.3 503.3,661.6 503.7,666.6 504.1,668.6 504.5,661.0 504.9,668.7 505.3,666.2 505.7,660.8 506.1,665.1 506.5,657.6 506.8,656.2 507.2,661.1 507.6,663.4 508.0,656.4 508.4,665.4 508.8,657.2 509.2,661.3 509.6,664.9 510.0,664.6 510.4,653.6 510.8,658.2 511.2,666.1 511.6,654.3 512.0,670.6 512.4,658.8 512.8,666.3 513.2,668.1 513.6,664.6 514.0,661.4 514.4,660.2 514.8,657.1 515.2,656.3 515.5,660.3 515.9,654.5 516.3,664.8 516.7,664.1 517.1,657.8 517.5,661.6 517.9,657.8 518.3,657.2 518.7,662.3 519.1,658.7 519.5,660.0 519.9,661.9 520.3,659.3 520.7,654.6 521.1,662.8 521.5,658.8 521.9,656.2 522.3,666.3 522.7,663.3 523.1,656.2 523.5,655.5 523.9,662.7 524.3,660.6 524.6,654.1 525.0,661.1 525.4,658.5 525.8,658.7 526.2,662.3 526.6,664.3 527.0,663.7 527.4,650.6 527.8,654.2 528.2,664.7 528.6,654.4 529.0,661.6 529.4,651.4 529.8,665.0 530.2,657.9 530.6,661.0 531.0,660.5 531.4,659.5 531.8,661.2 532.2,658.5 532.6,657.5 533.0,659.9 533.3,657.1 533.7,660.5 534.1,658.2 534.5,655.4 534.9,664.3 535.3,650.7 535.7,661.6 536.1,664.5 536.5,666.2 536.9,658.9 537.3,651.0 537.7,655.0 538.1,654.6 538.5,659.0 538.9,656.5 539.3,656.5 539.7,657.9 540.1,652.7 540.5,657.4 540.9,650.3 541.3,660.6 541.7,653.0 542.1,659.2 542.4,651.9 542.8,652.9 543.2,658.9 543.6,650.9 544.0,654.6 544.4,661.9 544.8,646.6 545.2,647.8 545.6,652.4 546.0,652.0 546.4,653.1 546.8,653.3 547.2,641.8 547.6,649.5 548.0,644.4 548.4,643.7 548.8,635.1 549.2,635.0 549.6,640.9 550.0,634.9 550.4,639.6 550.8,631.3 551.1,639.7 551.5,636.0 551.9,639.7 552.3,635.3 552.7,644.0 553.1,635.0 553.5,645.6 553.9,637.9 554.3,636.6 554.7,644.3 555.1,653.3 555.5,651.3 555.9,654.2 556.3,645.7 556.7,649.4 557.1,653.4 557.5,643.6 557.9,647.7 558.3,644.2 558.7,643.3 559.1,644.6 559.5,642.9 559.8,643.1 560.2,639.1 560.6,641.8 561.0,634.5 561.4,635.2 561.8,636.3 562.2,631.8 562.6,629.5 563.0,622.8 563.4,614.0 563.8,604.1 564.2,595.3 564.6,596.2 565.0,584.6 565.4,569.9 565.8,556.7 566.2,542.0 566.6,526.3 567.0,505.4 567.4,485.0 567.8,463.1 568.2,433.6 568.6,408.8 568.9,377.2 569.3,345.2 569.7,311.9 570.1,284.3 570.5,247.9 570.9,216.0 571.3,190.3 571.7,163.8 572.1,141.2 572.5,125.3 572.9,114.2 573.3,103.1 573.7,108.9 574.1,114.8 574.5,126.1 574.9,143.0 575.3,166.6 575.7,193.8 576.1,221.5 576.5,252.6 576.9,282.9 577.3,315.5 577.6,344.0 578.0,377.8 578.4,407.7 578.8,435.3 579.2,462.3 579.6,487.4 580.0,504.4 580.4,524.3 580.8,544.4 581.2,559.5 581.6,570.9 582.0,584.9 582.4,593.4 582.8,602.1 583.2,610.9 583.6,614.7 584.0,622.6 584.4,628.8 584.8,630.5 585.2,640.0 585.6,635.7 586.0,640.3 586.3,634.0 586.7,648.7 587.1,636.5 587.5,640.2 587.9,644.2 588.3,646.2 588.7,654.7 589.1,645.7 589.5,655.0 589.9,654.7 590.3,651.6 590.7,652.8 591.1,649.0 591.5,654.2 591.9,660.1 592.3,655.0 592.7,653.5 593.1,656.6 593.5,659.8 593.9,657.0 594.3,655.5 594.7,652.7 595.1,649.5 595.4,661.0 595.8,664.1 596.2,662.6 596.6,656.2 597.0,658.8 597.4,659.7 597.8,656.5 598.2,664.4 598.6,662.1 599.0,663.3 599.4,662.0 599.8,650.8 600.2,658.2 600.6,658.8 601.0,665.1 601.4,661.7 601.8,657.1 602.2,662.3 602.6,658.3 603.0,660.4 603.4,658.9 603.8,661.0 604.1,662.8 604.5,657.5 604.9,660.6 605.3,661.1 605.7,661.0 606.1,667.7 606.5,659.4 606.9,659.5 607.3,660.5 607.7,663.8 608.1,664.0 608.5,660.0 608.9,657.0 609.3,658.2 609.7,668.4 610.1,662.4 610.5,671.4 610.9,659.0 611.3,667.1 611.7,672.1 612.1,663.0 612.5,663.2 612.9,669.3 613.2,662.7 613.6,665.4 614.0,660.4 614.4,664.4 614.8,660.5 615.2,668.3 615.6,669.3 616.0,669.0 616.4,660.1 616.8,659.3 617.2,664.2 617.6,664.5 618.0,671.4 618.4,661.2 618.8,668.6 619.2,667.5 619.6,659.8 620.0,675.1 620.4,667.6 620.8,672.3 621.2,662.9 621.6,670.7 621.9,664.1 622.3,670.7 622.7,672.5 623.1,669.3 623.5,658.0 623.9,669.3 624.3,669.7 624.7,671.6 625.1,662.9 625.5,671.7 625.9,670.9 626.3,673.4 626.7,660.1 627.1,677.2 627.5,667.8 627.9,667.9 628.3,664.4 628.7,666.7 629.1,670.5 629.5,670.0 629.9,664.1 630.3,669.2 630.6,664.4 631.0,658.5 631.4,662.9 631.8,672.0 632.2,666.5 632.6,669.4 633.0,665.6 633.4,663.8 633.8,670.0 634.2,667.9 634.6,661.9 635.0,661.1 635.4,663.5 635.8,664.9 636.2,666.4 636.6,669.3 637.0,666.8 637.4,668.4 637.8,671.3 638.2,670.0 638.6,667.4 639.0,657.1 639.4,667.2 639.7,666.4 640.1,657.9 640.5,661.7 640.9,660.8 641.3,660.4 641.7,659.9 642.1,658.7 642.5,665.0 642.9,662.5 643.3,667.9 643.7,665.0 644.1,664.8 644.5,663.0 644.9,656.2 645.3,663.9 645.7,663.3 646.1,656.8 646.5,659.0 646.9,667.9 647.3,656.8 647.7,657.0 648.1,661.3 648.4,656.4 648.8,658.7 649.2,663.5 649.6,663.5 650.0,664.7 650.4,661.5 650.8,654.4 651.2,659.7 651.6,662.0 652.0,660.1 652.4,665.7 652.8,661.0 653.2,661.2 653.6,657.3 654.0,659.8 654.4,661.1 654.8,664.2 655.2,656.8 655.6,667.9 656.0,655.5 656.4,662.0 656.8,654.0 657.1,665.0 657.5,659.7 657.9,661.2 658.3,657.5 658.7,664.3 659.1,666.9 659.5,660.5 659.9,661.3 660.3,662.9 660.7,664.3 661.1,664.6 661.5,664.3 661.9,654.4 662.3,667.0 662.7,658.7 663.1,662.7 663.5,656.6 663.9,657.7 664.3,660.2 664.7,659.3 665.1,661.1 665.5,659.2 665.9,661.9 666.2,668.0 666.6,656.2 667.0,666.7 667.4,665.9 667.8,654.7 668.2,657.7 668.6,669.6 669.0,665.4 669.4,659.3 669.8,657.7 670.2,662.5 670.6,655.7 671.0,663.7 671.4,660.6 671.8,661.4 672.2,663.3 672.6,668.0 673.0,662.9 673.4,664.2 673.8,660.9 674.2,658.9 674.6,659.9 674.9,661.5 675.3,662.4 675.7,664.4 676.1,665.4 676.5,659.9 676.9,662.4 677.3,664.3 677.7,665.1 678.1,660.5 678.5,660.7 678.9,664.2 679.3,669.1 679.7,660.7 680.1,662.2 680.5,660.0 680.9,664.7 681.3,661.4 681.7,667.4 682.1,661.0 682.5,660.9 682.9,668.1 683.3,663.5 683.6,659.2 684.0,659.2 684.4,659.2 684.8,667.4 685.2,659.8 685.6,665.8 686.0,658.5 686.4,668.4 686.8,666.2 687.2,664.6 687.6,656.7 688.0,663.2 688.4,661.3 688.8,660.8 689.2,666.6 689.6,662.3 690.0,664.4 690.4,663.6 690.8,665.6 691.2,667.5 691.6,663.2 692.0,659.2 692.4,661.3 692.7,667.1 693.1,661.2 693.5,666.5 693.9,669.8 694.3,672.6 694.7,667.4 695.1,659.0 695.5,657.5 695.9,665.6 696.3,658.2 696.7,663.7 697.1,670.6 697.5,658.5 697.9,666.8 698.3,661.1 698.7,667.9 699.1,661.5 699.5,661.9 699.9,659.0 700.3,660.8 700.7,664.2 701.1,658.5 701.4,660.1 701.8,660.4 702.2,658.6 702.6,656.7 703.0,658.9 703.4,657.0 703.8,664.4 704.2,668.1 704.6,666.8 705.0,656.7 705.4,659.8 705.8,661.3 706.2,661.6 706.6,663.1 707.0,667.8 707.4,656.6 707.8,664.3 708.2,658.9 708.6,662.8 709.0,659.0 709.4,658.1 709.8,666.5 710.2,658.9 710.5,662.3 710.9,659.2 711.3,661.0 711.7,660.7 712.1,658.3 712.5,652.1 712.9,656.7 713.3,659.3 713.7,655.3 714.1,652.5 714.5,657.3 714.9,661.6 715.3,660.0 715.7,655.0 716.1,649.9 716.5,650.4 716.9,660.0 717.3,654.9 717.7,650.8 718.1,657.8 718.5,657.9 718.9,663.4 719.2,654.3 719.6,657.2 720.0,652.9 720.4,653.3 720.8,651.4 721.2,654.7 721.6,653.4 722.0,654.3 722.4,660.4 722.8,659.3 723.2,661.9 723.6,660.2 724.0,657.7 724.4,664.6 724.8,659.8 725.2,657.7 725.6,659.5 726.0,661.6 726.4,653.8 726.8,658.2 727.2,659.1 727.6,661.7 727.9,657.1 728.3,661.4 728.7,660.1 729.1,661.5 729.5,663.7 729.9,664.5 730.3,659.0 730.7,658.2 731.1,666.9 731.5,659.4 731.9,657.9 732.3,662.6 732.7,665.9 733.1,667.1 733.5,666.9 733.9,663.2 734.3,660.7 734.7,664.6 735.1,663.9 735.5,668.0 735.9,657.2 736.3,665.5 736.7,665.0 737.0,660.1 737.4,661.4 737.8,663.6 738.2,662.4 738.6,659.4 739.0,666.0 739.4,660.4 739.8,659.6 740.2,669.1 740.6,660.6 741.0,664.9 741.4,667.5 741.8,668.4 742.2,664.4 742.6,661.9 743.0,664.9 743.4,662.4 743.8,659.3 744.2,663.2 744.6,663.6 745.0,663.6 745.4,664.3 745.7,662.7 746.1,657.9 746.5,661.1 746.9,668.8 747.3,658.7 747.7,663.6 748.1,659.5 748.5,661.4 748.9,662.9 749.3,667.2 749.7,659.9 750.1,661.8 750.5,659.4 750.9,670.0 751.3,663.1 751.7,667.0 752.1,670.0 752.5,665.6 752.9,659.2 753.3,662.5 753.7,666.2 754.1,661.8 754.4,660.3 754.8,665.8 755.2,668.3 755.6,660.9 756.0,663.0 756.4,662.9 756.8,662.4 757.2,669.2 757.6,667.8 758.0,667.0 758.4,661.9 758.8,668.7 759.2,667.1 759.6,666.8 760.0,667.1 760.4,666.9 760.8,664.3 761.2,660.0 761.6,671.4 762.0,664.9 762.4,665.1 762.8,660.5 763.2,661.1 763.5,663.8 763.9,668.0 764.3,665.2 764.7,659.5 765.1,660.8 765.5,667.2 765.9,665.5 766.3,657.9 766.7,665.6 767.1,668.5 767.5,664.5 767.9,667.4 768.3,664.9 768.7,667.8 769.1,667.7 769.5,663.0 769.9,667.1 770.3,666.8 770.7,666.1 771.1,667.5 771.5,666.7 771.9,661.5 772.2,663.3 772.6,660.2 773.0,666.8 773.4,659.0 773.8,668.5 774.2,669.9 774.6,668.3 775.0,659.7 775.4,663.4 775.8,662.6 776.2,660.1 776.6,667.0 777.0,666.1 777.4,660.0 777.8,665.7 778.2,670.0 778.6,668.9 779.0,664.2 779.4,666.1 779.8,663.4 780.2,667.2 780.6,670.3 781.0,665.0 781.3,665.7 781.7,661.7 782.1,670.6 782.5,665.8 782.9,664.9 783.3,663.6 783.7,666.5 784.1,665.5 784.5,663.0 784.9,666.2 785.3,667.8 785.7,667.1 786.1,665.8 786.5,662.8 786.9,663.1 787.3,660.7 787.7,666.1 788.1,665.0 788.5,663.2 788.9,661.4 789.3,668.1 789.7,662.2 790.0,668.0 790.4,661.9 790.8,663.0 791.2,662.9 791.6,664.8 792.0,665.4 792.4,664.1 792.8,659.5 793.2,661.7 793.6,666.8 794.0,662.1 794.4,666.9 794.8,664.1 795.2,662.9 795.6,661.6 796.0,661.4 796.4,663.8 796.8,661.8 797.2,668.8 797.6,664.3 798.0,665.1 798.4,670.2 798.7,665.5 799.1,665.6 799.5,659.7 799.9,663.4 800.3,669.5 800.7,662.9 801.1,661.5 801.5,664.6 801.9,663.0 802.3,665.6 802.7,659.6 803.1,667.5 803.5,667.0 803.9,661.0 804.3,656.7 804.7,667.5 805.1,661.6 805.5,664.0 805.9,663.3 806.3,663.3 806.7,666.9 807.1,660.1 807.5,667.0 807.8,661.9 808.2,662.7 808.6,666.0 809.0,667.6 809.4,665.3 809.8,659.2 810.2,658.8 810.6,661.5 811.0,666.2 811.4,664.1 811.8,664.2 812.2,662.8 812.6,662.5 813.0,659.7 813.4,666.4 813.8,662.4 814.2,664.2 814.6,663.0 815.0,662.2 815.4,665.8 815.8,663.7 816.2,663.3 816.5,660.5 816.9,663.2 817.3,662.9 817.7,667.8 818.1,663.7 818.5,661.4 818.9,664.9 819.3,661.5 819.7,667.7 820.1,666.5 820.5,664.7 820.9,670.7 821.3,666.2 821.7,660.2 822.1,667.6 822.5,669.4 822.9,666.1 823.3,668.6 823.7,659.7 824.1,666.7 824.5,662.9 824.9,661.3 825.2,659.8 825.6,670.8 826.0,667.9 826.4,669.9 826.8,664.6 827.2,669.0 827.6,661.7 828.0,662.5 828.4,668.8 828.8,666.6 829.2,667.6 829.6,661.1 830.0,664.9 830.4,666.2 830.8,660.3 831.2,660.3 831.6,667.7 832.0,666.2 832.4,664.6 832.8,660.8 833.2,669.6 833.6,666.5 834.0,669.7 834.3,667.1 834.7,667.7 835.1,664.5 835.5,661.2 835.9,664.8 836.3,667.1 836.7,664.7 837.1,662.7 837.5,666.2 837.9,660.6 838.3,662.9 838.7,668.3 839.1,665.6 839.5,666.3 839.9,662.2 840.3,668.3 840.7,663.8 841.1,661.5 841.5,669.4 841.9,664.4 842.3,667.7 842.7,662.0 843.0,666.0 843.4,662.8 843.8,665.0 844.2,671.4 844.6,663.3 845.0,667.7 845.4,667.0 845.8,663.3 846.2,665.0 846.6,663.7 847.0,666.7 847.4,665.1 847.8,667.8 848.2,666.9 848.6,667.6 849.0,670.8 849.4,663.6 849.8,665.9 850.2,671.1 850.6,663.2 851.0,667.1 851.4,671.0 851.7,667.9 852.1,666.5 852.5,665.5 852.9,666.7 853.3,661.7 853.7,667.7 854.1,664.1 854.5,668.6 854.9,664.0 855.3,668.8 855.7,662.1 856.1,666.7 856.5,664.7 856.9,667.8 857.3,669.0 857.7,671.4 858.1,662.9 858.5,663.7 858.9,665.4 859.3,666.1 859.7,666.5 860.1,670.1 860.5,668.9 860.8,669.6 861.2,663.9 861.6,666.1 862.0,668.0 862.4,665.9 862.8,667.0 863.2,666.8 863.6,662.7 864.0,670.2 864.4,665.8 864.8,667.0 865.2,663.2 865.6,666.3 866.0,666.2 866.4,668.3 866.8,666.4 867.2,663.3 867.6,666.2 868.0,665.1 868.4,663.6 868.8,661.4 869.2,659.0 869.5,659.8 869.9,661.7 870.3,665.5 870.7,663.6 871.1,662.8 871.5,664.8 871.9,666.3 872.3,663.4 872.7,666.2 873.1,666.2 873.5,665.5 873.9,668.4 874.3,661.7 874.7,664.8 875.1,669.1 875.5,662.5 875.9,661.1 876.3,668.2 876.7,665.4 877.1,665.3 877.5,659.1 877.9,662.9 878.3,662.9 878.6,663.2 879.0,666.3 879.4,667.6 879.8,660.7 880.2,663.5 880.6,665.7 881.0,662.1 881.4,660.7 881.8,665.9 882.2,658.3 882.6,660.6 883.0,663.6 883.4,665.9 883.8,665.7 884.2,662.5 884.6,662.2 885.0,658.0 885.4,663.4 885.8,663.8 886.2,665.9 886.6,667.5 887.0,662.4 887.3,668.2 887.7,668.0 888.1,664.9 888.5,659.5 888.9,664.2 889.3,666.4 889.7,666.9 890.1,662.1 890.5,661.8 890.9,663.7 891.3,664.3 891.7,661.2 892.1,660.0 892.5,662.6 892.9,661.7 893.3,668.6 893.7,663.6 894.1,663.3 894.5,659.1 894.9,667.7 895.3,666.1 895.7,665.7 896.0,666.9 896.4,665.0 896.8,666.5 897.2,664.4 897.6,666.8 898.0,663.8 898.4,667.4 898.8,661.2 899.2,663.0 899.6,668.7 900.0,661.5 900.4,662.0 900.8,659.2 901.2,666.8 901.6,662.5 902.0,666.4 902.4,666.2 902.8,665.5 903.2,660.9 903.6,657.2 904.0,664.7 904.4,662.0 904.8,665.3 905.1,662.4 905.5,665.5 905.9,666.1 906.3,664.6 906.7,660.0 907.1,664.1 907.5,667.4 907.9,662.7 908.3,667.3 908.7,661.1 909.1,663.3 909.5,666.3 909.9,664.4 910.3,668.5 910.7,662.9 911.1,661.4 911.5,667.0 911.9,666.3 912.3,662.7 912.7,666.7 913.1,660.3 913.5,667.0 913.8,671.9 914.2,663.5 914.6,667.6 915.0,668.7 915.4,663.0 915.8,670.3 916.2,667.8 916.6,664.2 917.0,668.4 917.4,671.2 917.8,662.7 918.2,666.6 918.6,665.5 919.0,667.9 919.4,666.0 919.8,667.3 920.2,661.4 920.6,665.2 921.0,667.2 921.4,667.7 921.8,662.0 922.2,661.9 922.5,665.4 922.9,666.6 923.3,667.7 923.7,665.9 924.1,666.4 924.5,674.4 924.9,667.8 925.3,665.8 925.7,665.9 926.1,662.8 926.5,671.4 926.9,668.8 927.3,666.7 927.7,662.2 928.1,668.6 928.5,666.6 928.9,667.4 929.3,669.0 929.7,670.5 930.1,664.5 930.5,667.2 930.9,667.4 931.3,661.3 931.6,668.1 932.0,666.6 932.4,668.7 932.8,670.0 933.2,667.7 933.6,665.6 934.0,663.6 934.4,662.3 934.8,669.4 935.2,659.9 935.6,665.9 936.0,664.6 936.4,666.8 936.8,666.8 937.2,667.9 937.6,670.6 938.0,666.6 938.4,661.4 938.8,664.7 939.2,667.6 939.6,669.4 940.0,665.3 940.3,666.3 940.7,668.1 941.1,668.3 941.5,671.2 941.9,662.5 942.3,668.3 942.7,663.6 943.1,667.5 943.5,665.9 943.9,667.1 944.3,671.1 944.7,672.2 945.1,667.3 945.5,665.4 945.9,664.7 946.3,666.6 946.7,663.1 947.1,665.0 947.5,668.3 947.9,661.2 948.3,668.9 948.7,661.9 949.1,667.0 949.4,666.2 949.8,666.9 950.2,666.1 950.6,662.5 951.0,667.1 951.4,662.8 951.8,670.7 952.2,666.1 952.6,671.0 953.0,664.1 953.4,661.9 953.8,661.5 954.2,663.2 954.6,670.1 955.0,665.2 955.4,666.0 955.8,665.5 956.2,659.8 956.6,660.4 957.0,662.6 957.4,666.9 957.8,667.3 958.1,666.7 958.5,661.3 958.9,667.0 959.3,662.9 959.7,664.1 960.1,668.2 960.5,669.1 960.9,666.0 961.3,661.5 961.7,660.8 962.1,666.1 962.5,662.4 962.9,666.0 963.3,663.0 963.7,664.2 964.1,664.1 964.5,664.1 964.9,663.2 965.3,665.1 965.7,663.9 966.1,661.0 966.5,664.9 966.8,666.4 967.2,662.5 967.6,666.4 968.0,659.8 968.4,660.6 968.8,664.6 969.2,664.1 969.6,665.6 970.0,661.4 970.4,669.4 970.8,663.1 971.2,665.5 971.6,667.0 972.0,662.1 972.4,662.2 972.8,664.7 973.2,663.3 973.6,658.3 974.0,665.2 974.4,663.8 974.8,664.1 975.2,664.6 975.6,660.8 975.9,663.0 976.3,656.2 976.7,666.6 977.1,661.2 977.5,658.9 977.9,655.7 978.3,659.5 978.7,665.1 979.1,657.1 979.5,663.0 979.9,660.9 980.3,658.8 980.7,659.5 981.1,662.4 981.5,662.7 981.9,664.3 982.3,659.3 982.7,657.5 983.1,663.5 983.5,661.4 983.9,662.4 984.3,661.5 984.6,668.1 985.0,659.3 985.4,665.2 985.8,663.0 986.2,659.4 986.6,658.8 987.0,666.1 987.4,662.4 987.8,664.5 988.2,659.1 988.6,660.4 989.0,665.5 989.4,657.2 989.8,661.5 990.2,661.8 990.6,664.9 991.0,660.4 991.4,664.7 991.8,664.5 992.2,660.5 992.6,663.1 993.0,663.2 993.3,657.2 993.7,660.9 994.1,659.1 994.5,661.8 994.9,663.8 995.3,656.2 995.7,662.9 996.1,659.4 996.5,660.8 996.9,658.6 997.3,656.7 997.7,660.3 998.1,659.1 998.5,664.9 998.9,662.0 999.3,658.4 999.7,659.5 1000.1,657.9 1000.5,656.8 1000.9,661.6 1001.3,661.3 1001.7,662.2 1002.1,655.4 1002.4,655.2 1002.8,662.8 1003.2,663.1 1003.6,655.5 1004.0,655.3 1004.4,663.0 1004.8,662.2 1005.2,660.6 1005.6,659.2 1006.0,660.6 1006.4,660.6 1006.8,657.2 1007.2,661.6 1007.6,653.2 1008.0,659.3 1008.4,663.1 1008.8,655.5 1009.2,658.7 1009.6,659.9 1010.0,657.0 1010.4,655.4 1010.8,653.0 1011.1,656.9 1011.5,658.3 1011.9,654.0 1012.3,655.5 1012.7,655.8 1013.1,653.9 1013.5,655.6 1013.9,650.9 1014.3,652.6 1014.7,658.1 1015.1,659.8 1015.5,651.6 1015.9,654.0 1016.3,652.6 1016.7,654.8 1017.1,653.5 1017.5,655.1 1017.9,653.4 1018.3,657.9 1018.7,655.4 1019.1,655.8 1019.5,652.4 1019.8,654.0 1020.2,649.0 1020.6,655.1 1021.0,650.5 1021.4,652.7 1021.8,652.1 1022.2,650.6 1022.6,655.1 1023.0,652.9 1023.4,653.8 1023.8,651.8 1024.2,647.6 1024.6,651.6 1025.0,645.7 1025.4,649.9 1025.8,643.7 1026.2,646.5 1026.6,650.7 1027.0,646.9 1027.4,644.3 1027.8,646.6 1028.2,644.3 1028.6,640.5 1028.9,644.3 1029.3,641.0 1029.7,642.7 1030.1,639.3 1030.5,640.5 1030.9,635.1 1031.3,637.2 1031.7,633.7 1032.1,631.8 1032.5,631.2 1032.9,632.2 1033.3,625.1 1033.7,626.7 1034.1,622.6 1034.5,620.1 1034.9,619.0 1035.3,620.5 1035.7,614.7 1036.1,610.3 1036.5,610.0 1036.9,607.0 1037.3,603.8 1037.6,601.6 1038.0,598.4 1038.4,594.1 1038.8,591.7 1039.2,587.1 1039.6,583.7 1040.0,580.6 1040.4,577.4 1040.8,572.9 1041.2,566.2 1041.6,560.5 1042.0,556.2 1042.4,552.8 1042.8,548.0 1043.2,544.8 1043.6,537.8 1044.0,533.5 1044.4,525.9 1044.8,521.2 1045.2,514.6 1045.6,507.7 1046.0,504.0 1046.4,497.3 1046.7,493.1 1047.1,486.7 1047.5,479.7 1047.9,476.1 1048.3,468.6 1048.7,461.8 1049.1,455.4 1049.5,452.5 1049.9,445.8 1050.3,438.8 1050.7,435.2 1051.1,430.9 1051.5,427.9 1051.9,420.5 1052.3,417.4 1052.7,415.6 1053.1,411.5 1053.5,409.8 1053.9,406.2 1054.3,405.2 1054.7,402.4 1055.1,400.9 1055.4,399.3 1055.8,397.3 1056.2,397.4 1056.6,400.0 1057.0,403.4 1057.4,404.4 1057.8,405.7 1058.2,409.4 1058.6,410.5 1059.0,414.3 1059.4,417.3 1059.8,421.1 1060.2,426.2 1060.6,431.6 1061.0,434.6 1061.4,442.6 1061.8,446.1 1062.2,450.0 1062.6,457.0 1063.0,462.8 1063.4,468.4 1063.8,473.3 1064.1,481.0 1064.5,485.9 1064.9,490.8 1065.3,498.6 1065.7,501.8 1066.1,507.3 1066.5,514.2 1066.9,522.0 1067.3,524.4 1067.7,530.3 1068.1,538.6 1068.5,541.5 1068.9,546.1 1069.3,553.4 1069.7,556.9 1070.1,560.4 1070.5,565.8 1070.9,573.0 1071.3,574.1 1071.7,581.8 1072.1,586.3 1072.5,587.9 1072.9,592.6 1073.2,594.4 1073.6,597.0 1074.0,601.0 1074.4,606.6 1074.8,607.0 1075.2,608.1 1075.6,612.9 1076.0,618.9 1076.4,616.7 1076.8,621.3 1077.2,619.7 1077.6,627.0 1078.0,624.6 1078.4,629.6 1078.8,630.5 1079.2,635.5 1079.6,637.4 1080.0,635.8 1080.4,637.6 1080.8,638.8 1081.2,637.3 1081.6,644.2 1081.9,644.3 1082.3,647.1 1082.7,649.1 1083.1,642.7 1083.5,648.2 1083.9,644.1 1084.3,644.7 1084.7,646.2 1085.1,649.4 1085.5,651.8 1085.9,656.4 1086.3,648.9 1086.7,654.0 1087.1,649.7 1087.5,651.6 1087.9,651.5 1088.3,655.3 1088.7,654.4 1089.1,650.9 1089.5,655.5 1089.9,654.2 1090.3,652.9 1090.6,657.1 1091.0,660.0 1091.4,653.5 1091.8,661.2 1092.2,654.3 1092.6,657.6 1093.0,659.6 1093.4,659.1 1093.8,655.4 1094.2,657.5 1094.6,659.0 1095.0,658.0 1095.4,659.9 1095.8,663.3 1096.2,659.9 1096.6,656.7 1097.0,659.5 1097.4,659.4 1097.8,658.9 1098.2,660.4 1098.6,654.9 1099.0,657.4 1099.4,655.3 1099.7,665.5 1100.1,655.8 1100.5,656.4 1100.9,654.9 1101.3,659.6 1101.7,661.8 1102.1,658.8 1102.5,660.1 1102.9,665.4 1103.3,664.8 1103.7,658.9 1104.1,660.9 1104.5,658.9 1104.9,664.2 1105.3,660.0 1105.7,661.0 1106.1,665.7 1106.5,655.6 1106.9,658.1 1107.3,663.3 1107.7,662.0 1108.1,662.6 1108.4,660.1 1108.8,666.3 1109.2,662.5 1109.6,661.5 1110.0,659.8 1110.4,662.9 1110.8,664.9 1111.2,663.8 1111.6,658.6 1112.0,659.9 1112.4,666.0 1112.8,665.5 1113.2,661.5 1113.6,661.5 1114.0,662.8 1114.4,661.3 1114.8,661.9 1115.2,663.1 1115.6,661.3 1116.0,669.4 1116.4,663.9 1116.8,662.0 1117.2,664.4 1117.5,660.5 1117.9,664.9 1118.3,657.5 1118.7,664.2 1119.1,658.0 1119.5,663.3 1119.9,663.3 1120.3,663.1 1120.7,660.0 1121.1,660.9 1121.5,660.8 1121.9,664.3 1122.3,664.5 1122.7,661.9 1123.1,666.3 1123.5,666.2 1123.9,661.6 1124.3,660.6 1124.7,661.9 1125.1,665.6 1125.5,663.7 1125.9,661.9 1126.2,660.3 1126.6,663.7 1127.0,667.4 1127.4,659.2 1127.8,661.2 1128.2,666.9 1128.6,662.7 1129.0,665.8 1129.4,658.0 1129.8,665.4 1130.2,657.6 1130.6,662.4 1131.0,662.2 1131.4,669.3 1131.8,662.5 1132.2,662.9 1132.6,658.5 1133.0,662.1 1133.4,664.4 1133.8,660.8 1134.2,664.0 1134.6,663.5 1134.9,662.5 1135.3,659.7 1135.7,664.9 1136.1,661.1 1136.5,666.0 1136.9,667.3 1137.3,663.8 1137.7,663.5 1138.1,663.4 1138.5,661.4 1138.9,663.3 1139.3,660.9 1139.7,660.3 1140.1,665.2 1140.5,660.7 1140.9,660.1 1141.3,661.2 1141.7,666.8 1142.1,661.7 1142.5,662.6 1142.9,660.3 1143.3,665.1 1143.7,666.1 1144.0,668.9 1144.4,665.8 1144.8,660.7 1145.2,666.6 1145.6,663.3 1146.0,660.5 1146.4,662.5 1146.8,661.7 1147.2,665.4 1147.6,662.0 1148.0,659.7 1148.4,662.7 1148.8,656.6 1149.2,666.3 1149.6,665.5 1150.0,657.1 1150.4,658.9 1150.8,658.9 1151.2,658.0 1151.6,657.2 1152.0,662.0 1152.4,656.4 1152.7,660.1 1153.1,655.9 1153.5,662.4 1153.9,664.7 1154.3,659.7 1154.7,665.2 1155.1,664.3 1155.5,660.6 1155.9,661.3 1156.3,661.9 1156.7,664.9 1157.1,663.4 1157.5,661.2 1157.9,660.3 1158.3,656.7 1158.7,662.1 1159.1,664.2 1159.5,662.7 1159.9,660.5 1160.3,664.5 1160.7,652.3 1161.1,660.1 1161.4,660.5 1161.8,661.2 1162.2,664.2 1162.6,660.0 1163.0,657.3 1163.4,660.3 1163.8,660.4 1164.2,660.4 1164.6,658.8 1165.0,661.1 1165.4,656.6 1165.8,662.6 1166.2,657.2 1166.6,664.3 1167.0,658.9 1167.4,659.9 1167.8,658.5 1168.2,658.1 1168.6,660.1 1169.0,660.9 1169.4,664.1 1169.8,665.5 1170.2,657.4 1170.5,663.1 1170.9,662.8 1171.3,660.0 1171.7,658.1 1172.1,660.7 1172.5,664.8 1172.9,662.9 1173.3,662.6 1173.7,664.5 1174.1,662.3 1174.5,656.4 1174.9,661.4 1175.3,667.4 1175.7,662.5 1176.1,662.3 1176.5,668.9 1176.9,666.8 1177.3,659.0 1177.7,666.7 1178.1,662.3 1178.5,661.7 1178.9,659.8 1179.2,668.1 1179.6,669.6 1180.0,657.2 1180.4,657.2 1180.8,662.1 1181.2,666.7 1181.6,660.1 1182.0,658.3 1182.4,662.3 1182.8,665.4 1183.2,664.9 1183.6,661.0 1184.0,660.1 1184.4,663.6 1184.8,663.4 1185.2,661.5 1185.6,666.9 1186.0,662.9 1186.4,661.3 1186.8,659.0 1187.2,666.2 1187.6,665.0 1187.9,662.5 1188.3,664.5 1188.7,659.7 1189.1,661.6 1189.5,666.0 1189.9,664.7 1190.3,667.5 1190.7,662.4 1191.1,664.7 1191.5,663.7 1191.9,660.7 1192.3,662.2 1192.7,662.0 1193.1,664.8 1193.5,664.1 1193.9,662.5 1194.3,661.2 1194.7,663.4 1195.1,661.4 1195.5,662.3 1195.9,659.6 1196.3,661.6 1196.7,658.7 1197.0,660.5 1197.4,665.7 1197.8,668.5 1198.2,666.2 1198.6,664.4 1199.0,662.0 1199.4,666.5 1199.8,664.4 1200.2,662.2 1200.6,665.2 1201.0,664.6 1201.4,664.3 1201.8,661.3 1202.2,661.1 1202.6,662.2 1203.0,668.4 1203.4,661.7 1203.8,663.7 1204.2,662.7 1204.6,665.1 1205.0,661.4 1205.4,660.4 1205.7,667.4 1206.1,662.5 1206.5,662.5 1206.9,658.2 1207.3,660.7 1207.7,664.1 1208.1,664.2 1208.5,666.6 1208.9,661.7 1209.3,662.6 1209.7,664.0 1210.1,665.1 1210.5,666.0 1210.9,662.0 1211.3,666.6 1211.7,661.1 1212.1,665.1 1212.5,669.5 1212.9,665.7 1213.3,667.8 1213.7,662.3 1214.1,659.3 1214.5,663.0 1214.8,665.7 1215.2,660.7 1215.6,663.5 1216.0,661.9 1216.4,661.5 1216.8,668.6 1217.2,661.2 1217.6,666.3 1218.0,662.5 1218.4,665.5 1218.8,663.6 1219.2,660.4 1219.6,665.6 1220.0,664.6 1220.4,665.8 1220.8,668.4 1221.2,664.7 1221.6,659.9 1222.0,660.4 1222.4,666.8 1222.8,667.5 1223.2,664.3 1223.5,663.1 1223.9,659.8 1224.3,663.2 1224.7,662.8 1225.1,664.3 1225.5,664.9 1225.9,666.7 1226.3,664.3 1226.7,661.4 1227.1,660.9 1227.5,668.1 1227.9,664.4 1228.3,664.3 1228.7,666.0 1229.1,661.2 1229.5,666.0 1229.9,660.4 1230.3,663.8 1230.7,659.2 1231.1,661.9 1231.5,665.4 1231.9,663.2 1232.2,660.5 1232.6,663.1 1233.0,661.3 1233.4,666.6 1233.8,664.8 1234.2,662.3 1234.6,667.4 1235.0,658.7 1235.4,660.1 1235.8,661.8 1236.2,662.0 1236.6,656.6 1237.0,665.8 1237.4,663.4 1237.8,662.2 1238.2,665.2 1238.6,660.9 1239.0,661.3 1239.4,658.8 1239.8,660.2 1240.2,662.3 1240.6,664.7 1241.0,662.3 1241.3,659.9 1241.7,662.3 1242.1,662.4 1242.5,665.6 1242.9,660.8 1243.3,664.4 1243.7,664.3 1244.1,663.2 1244.5,661.9 1244.9,657.5 1245.3,659.3 1245.7,660.1 1246.1,659.4 1246.5,658.6 1246.9,663.3 1247.3,663.0 1247.7,664.1 1248.1,663.9 1248.5,661.0 1248.9,661.8 1249.3,665.2 1249.7,664.1 1250.0,659.9 1250.4,664.9 1250.8,659.9 1251.2,663.6 1251.6,662.3 1252.0,664.4 1252.4,661.1 1252.8,662.6 1253.2,657.0 1253.6,663.3 1254.0,658.9 1254.4,657.2 1254.8,660.8 1255.2,662.3 1255.6,663.4 1256.0,665.2 1256.4,659.4 1256.8,658.1 1257.2,657.4 1257.6,664.7 1258.0,662.2 1258.4,663.1 1258.7,664.9 1259.1,657.0 1259.5,657.5 1259.9,662.9 1260.3,659.1 1260.7,661.7 1261.1,660.6 1261.5,665.6 1261.9,663.6 1262.3,662.2 1262.7,658.5 1263.1,662.1 1263.5,657.3 1263.9,664.8 1264.3,659.4 1264.7,658.8 1265.1,657.2 1265.5,660.1 1265.9,664.1 1266.3,660.3 1266.7,659.1 1267.1,662.1 1267.5,660.9 1267.8,659.1 1268.2,661.4 1268.6,659.1 1269.0,658.5 1269.4,660.4 1269.8,662.8 1270.2,658.3 1270.6,657.5 1271.0,659.8 1271.4,665.0 1271.8,657.6 1272.2,653.7 1272.6,661.3 1273.0,656.4 1273.4,656.8 1273.8,659.5 1274.2,660.0 1274.6,665.7 1275.0,662.0 1275.4,664.8 1275.8,665.0 1276.2,660.6 1276.5,664.2 1276.9,661.9 1277.3,660.9 1277.7,655.5 1278.1,656.1 1278.5,656.1 1278.9,659.1 1279.3,659.5 1279.7,654.6 1280.1,657.0 1280.5,662.1 1280.9,656.4 1281.3,654.9 1281.7,658.6 1282.1,656.1 1282.5,659.0 1282.9,665.5 1283.3,658.5 1283.7,655.3 1284.1,659.1 1284.5,662.8 1284.9,655.7 1285.3,658.0 1285.6,653.0 1286.0,660.1 1286.4,656.2 1286.8,651.6 1287.2,655.2 1287.6,655.6 1288.0,654.9 1288.4,654.6 1288.8,654.9 1289.2,656.6 1289.6,652.2 1290.0,654.6 1290.4,657.4 1290.8,654.8 1291.2,654.2 1291.6,648.2 1292.0,654.2 1292.4,650.9 1292.8,651.0 1293.2,649.2 1293.6,649.4 1294.0,644.7 1294.3,644.5 1294.7,646.3 1295.1,644.5 1295.5,644.9 1295.9,642.3 1296.3,637.3 1296.7,637.9 1297.1,637.6 1297.5,636.4 1297.9,636.8 1298.3,633.9 1298.7,633.8 1299.1,632.8 1299.5,630.8 1299.9,626.6 1300.3,625.5 1300.7,619.9 1301.1,621.7 1301.5,615.6 1301.9,614.9 1302.3,610.0 1302.7,612.4 1303.0,608.4 1303.4,606.3 1303.8,603.6 1304.2,600.9 1304.6,597.8 1305.0,594.4 1305.4,589.7 1305.8,588.5 1306.2,586.5 1306.6,582.3 1307.0,581.9 1307.4,581.7 1307.8,577.5 1308.2,576.7 1308.6,574.9 1309.0,573.6 1309.4,574.2 1309.8,573.8 1310.2,574.5 1310.6,574.0 1311.0,576.4 1311.4,579.2 1311.8,579.9 1312.1,582.8 1312.5,584.4 1312.9,588.3 1313.3,587.8 1313.7,592.8 1314.1,594.2 1314.5,597.0 1314.9,599.2 1315.3,601.2 1315.7,607.2 1316.1,606.7 1316.5,611.2 1316.9,611.3 1317.3,615.7 1317.7,618.1 1318.1,618.5 1318.5,623.0 1318.9,620.4 1319.3,624.3 1319.7,626.2 1320.1,629.9 1320.5,628.8 1320.8,635.9 1321.2,632.5 1321.6,633.5 1322.0,638.9 1322.4,637.2 1322.8,639.4 1323.2,637.3 1323.6,641.2 1324.0,640.8 1324.4,641.2 1324.8,644.5 1325.2,645.9 1325.6,648.3 1326.0,647.4 1326.4,647.4 1326.8,644.9 1327.2,650.2 1327.6,646.9 1328.0,647.3 1328.4,646.2 1328.8,644.9 1329.2,647.5 1329.5,651.4 1329.9,647.9 1330.3,656.8 1330.7,647.4 1331.1,652.9 1331.5,651.3 1331.9,653.3 1332.3,650.9 1332.7,653.7 1333.1,648.8 1333.5,651.6 1333.9,653.9 1334.3,650.8 1334.7,655.1 1335.1,660.2 1335.5,656.4 1335.9,656.1 1336.3,654.6 1336.7,655.3 1337.1,658.0 1337.5,655.6 1337.9,656.8 1338.3,654.9 1338.6,658.6 1339.0,656.2 1339.4,657.9 1339.8,659.9 1340.2,655.9 1340.6,660.8 1341.0,659.6 1341.4,654.5 1341.8,650.3 1342.2,651.8 1342.6,661.5 1343.0,659.1 1343.4,661.2 1343.8,653.9 1344.2,654.0 1344.6,657.1 1345.0,660.2 1345.4,662.5 1345.8,662.8 1346.2,655.6 1346.6,653.4 1347.0,656.4 1347.3,655.6 1347.7,655.1 1348.1,659.5 1348.5,659.5 1348.9,660.1 1349.3,660.9 1349.7,653.9 1350.1,661.9 1350.5,657.4 1350.9,652.3 1351.3,660.7 1351.7,660.0 1352.1,658.3 1352.5,661.1 1352.9,657.9 1353.3,663.2 1353.7,660.7 1354.1,661.7 1354.5,657.8 1354.9,661.8 1355.3,654.2 1355.7,659.1 1356.0,665.6 1356.4,663.8 1356.8,661.0 1357.2,655.9 1357.6,663.3 1358.0,655.8 1358.4,661.6 1358.8,663.9 1359.2,659.4 1359.6,658.0 1360.0,659.3 1360.4,657.4 1360.8,664.4 1361.2,657.1 1361.6,659.0 1362.0,656.1 1362.4,655.4 1362.8,663.1 1363.2,662.6 1363.6,658.5 1364.0,657.6 1364.4,663.2 1364.8,664.7 1365.1,663.1 1365.5,660.0 1365.9,662.5 1366.3,661.7 1366.7,662.0 1367.1,660.9 1367.5,662.2 1367.9,660.3 1368.3,655.2 1368.7,656.7 1369.1,663.7 1369.5,664.0 1369.9,659.7 1370.3,663.0 1370.7,663.9 1371.1,659.5 1371.5,663.0 1371.9,663.2 1372.3,659.2 1372.7,662.4 1373.1,660.1 1373.5,665.9 1373.8,658.7 1374.2,656.9 1374.6,664.3 1375.0,660.4 1375.4,658.8 1375.8,657.4 1376.2,658.4 1376.6,658.3 1377.0,661.6 1377.4,658.5 1377.8,663.9 1378.2,665.0 1378.6,659.5 1379.0,657.6 1379.4,663.8 1379.8,659.9 1380.2,663.8 1380.6,661.0 1381.0,654.6 1381.4,661.1 1381.8,661.8 1382.2,663.3 1382.6,659.2 1382.9,658.3 1383.3,662.6 1383.7,663.0 1384.1,660.9 1384.5,658.9 1384.9,663.9 1385.3,660.4 1385.7,656.9 1386.1,656.6 1386.5,658.2 1386.9,658.8 1387.3,664.6 1387.7,660.1 1388.1,661.6 1388.5,664.9 1388.9,661.5 1389.3,661.3 1389.7,657.9 1390.1,657.4 1390.5,663.6 1390.9,665.3 1391.3,658.9 1391.6,661.1 1392.0,662.4 1392.4,665.6 1392.8,659.0 1393.2,657.6 1393.6,662.1 1394.0,657.2 1394.4,659.3 1394.8,655.3 1395.2,661.7 1395.6,658.0 1396.0,660.5 1396.4,664.3 1396.8,661.7 1397.2,660.0 1397.6,661.7 1398.0,659.6 1398.4,660.9 1398.8,663.2 1399.2,659.3 1399.6,655.8 1400.0,661.1 1400.3,662.9 1400.7,663.5 1401.1,657.8 1401.5,662.4 1401.9,662.3 1402.3,661.1 1402.7,662.0 1403.1,657.7 1403.5,660.1 1403.9,663.7 1404.3,659.9 1404.7,662.2 1405.1,663.9 1405.5,663.3 1405.9,662.8 1406.3,664.3 1406.7,662.1 1407.1,656.7 1407.5,658.1 1407.9,659.9 1408.3,663.5 1408.7,663.8 1409.1,655.9 1409.4,657.2 1409.8,657.3 1410.2,662.3 1410.6,660.0 1411.0,657.8 1411.4,662.4 1411.8,658.3 1412.2,663.9 1412.6,656.7 1413.0,657.9 1413.4,656.3 1413.8,661.9 1414.2,658.5 1414.6,664.5 1415.0,658.3 1415.4,654.8 1415.8,656.2 1416.2,662.1 1416.6,660.6 1417.0,656.4 1417.4,657.3 1417.8,660.6 1418.1,651.6 1418.5,656.0 1418.9,659.7 1419.3,662.9 1419.7,658.6 1420.1,654.7 1420.5,654.3 1420.9,655.1 1421.3,654.2 1421.7,655.8 1422.1,656.4 1422.5,660.4 1422.9,659.1 1423.3,663.5 1423.7,662.8 1424.1,655.7 1424.5,662.5 1424.9,655.8 1425.3,663.9 1425.7,660.7 1426.1,656.1 1426.5,660.4 1426.8,655.5 1427.2,658.8 1427.6,654.7 1428.0,656.1 1428.4,660.1 1428.8,654.0 1429.2,654.5 1429.6,659.7 1430.0,661.2 1430.4,660.9 1430.8,658.3 1431.2,654.5 1431.6,656.7 1432.0,654.2 1432.4,659.2 1432.8,656.4 1433.2,662.2 1433.6,657.0 1434.0,660.5 1434.4,655.9 1434.8,655.9 1435.2,655.7 1435.6,660.0 1435.9,658.8 1436.3,662.8 1436.7,660.5 1437.1,654.7 1437.5,656.1 1437.9,654.7 1438.3,657.2 1438.7,657.0 1439.1,658.0 1439.5,655.7 1439.9,660.3 1440.3,658.9 1440.7,660.6 1441.1,653.6 1441.5,654.5 1441.9,654.4 1442.3,652.5 1442.7,658.4 1443.1,654.5 1443.5,654.5 1443.9,657.8 1444.3,656.5 1444.6,651.3 1445.0,661.6 1445.4,654.1 1445.8,659.1 1446.2,657.3 1446.6,656.8 1447.0,651.7 1447.4,656.7 1447.8,652.2 1448.2,655.5 1448.6,654.0 1449.0,656.0 1449.4,653.6 1449.8,653.3 1450.2,653.9 1450.6,656.0 1451.0,658.5 1451.4,655.0 1451.8,650.3 1452.2,652.5 1452.6,651.5 1453.0,650.0 1453.4,654.6 1453.7,653.8 1454.1,651.9 1454.5,652.3 1454.9,651.4 1455.3,652.0 1455.7,651.8 1456.1,652.8 1456.5,649.8 1456.9,649.4 1457.3,648.6 1457.7,644.7 1458.1,648.4 1458.5,647.5 1458.9,648.8 1459.3,648.6 1459.7,646.2 1460.1,645.5 1460.5,648.4 1460.9,650.7 1461.3,649.0 1461.7,650.5 1462.1,648.4 1462.4,644.6 1462.8,649.7 1463.2,648.4 1463.6,649.8 1464.0,646.7 1464.4,648.7 1464.8,646.9 1465.2,642.4 1465.6,645.7 1466.0,643.4 1466.4,645.4 1466.8,645.2 1467.2,643.2 1467.6,644.5 1468.0,642.3 1468.4,640.9 1468.8,643.6 1469.2,642.5 1469.6,638.4 1470.0,646.2 1470.4,638.6 1470.8,637.7 1471.1,637.5 1471.5,644.0 1471.9,643.4 1472.3,638.4 1472.7,642.4 1473.1,638.8 1473.5,636.8 1473.9,638.5 1474.3,636.1 1474.7,636.3 1475.1,635.3 1475.5,636.9 1475.9,631.1 1476.3,630.0 1476.7,631.7 1477.1,626.1 1477.5,630.5 1477.9,629.0 1478.3,625.2 1478.7,621.3 1479.1,625.2 1479.5,616.9 1479.9,619.0 1480.2,613.0 1480.6,611.8 1481.0,609.2 1481.4,606.9 1481.8,603.5 1482.2,597.9 1482.6,596.9 1483.0,593.4 1483.4,585.6 1483.8,583.4 1484.2,577.5 1484.6,571.3 1485.0,565.9 1485.4,558.7 1485.8,552.3 1486.2,547.1 1486.6,539.7 1487.0,529.9 1487.4,523.1 1487.8,512.6 1488.2,505.2 1488.6,495.6 1488.9,487.0 1489.3,474.7 1489.7,464.4 1490.1,453.4 1490.5,441.0 1490.9,428.0 1491.3,415.3 1491.7,404.6 1492.1,389.6 1492.5,377.1 1492.9,364.0 1493.3,346.9 1493.7,333.6 1494.1,322.3 1494.5,306.9 1494.9,289.7 1495.3,279.4 1495.7,261.7 1496.1,245.9 1496.5,233.3 1496.9,218.4 1497.3,205.9 1497.6,191.4 1498.0,177.9 1498.4,166.5 1498.8,153.4 1499.2,139.9 1499.6,131.4 1500.0,117.5 1500.4,107.8 1500.8,100.4 1501.2,90.7 1501.6,81.0 1502.0,78.4 1502.4,70.9 1502.8,68.4 1503.2,65.7 1503.6,63.0 1504.0,59.8 1504.4,58.6 1504.8,58.9 1505.2,60.8 1505.6,65.3 1506.0,68.0 1506.4,71.1 1506.7,78.4 1507.1,84.5 1507.5,92.1 1507.9,96.6 1508.3,109.8 1508.7,117.2 1509.1,129.2 1509.5,138.5 1509.9,152.0 1510.3,165.7 1510.7,176.0 1511.1,189.1 1511.5,202.8 1511.9,216.5 1512.3,231.6 1512.7,248.9 1513.1,258.0 1513.5,273.9 1513.9,288.4 1514.3,304.6 1514.7,320.5 1515.1,333.9 1515.4,347.2 1515.8,362.5 1516.2,373.8 1516.6,390.6 1517.0,401.1 1517.4,416.2 1517.8,427.2 1518.2,438.6 1518.6,449.1 1519.0,460.6 1519.4,474.8 1519.8,485.1 1520.2,492.9 1520.6,504.3 1521.0,513.3 1521.4,522.5 1521.8,527.2 1522.2,537.4 1522.6,546.4 1523.0,550.4 1523.4,557.4 1523.8,563.9 1524.1,573.5 1524.5,576.5 1524.9,582.7 1525.3,589.0 1525.7,593.8 1526.1,596.3 1526.5,602.7 1526.9,617.7 1527.3,638.9 1527.7,627.4 1528.1,615.5 1528.5,618.3 1528.9,615.9 1529.3,622.7 1529.7,623.1 1530.1,626.2 1530.5,628.3 1530.9,624.5 1531.3,632.8 1531.7,628.4 1532.1,632.7 1532.5,636.0 1532.9,634.2 1533.2,639.9 1533.6,634.7 1534.0,639.0 1534.4,638.9 1534.8,638.1 1535.2,643.7 1535.6,644.6 1536.0,644.4 1536.4,643.3 1536.8,644.9 1537.2,639.2 1537.6,641.2 1538.0,644.5 1538.4,643.4 1538.8,643.8 1539.2,656.7 1539.6,659.4 1540.0,654.7 1540.4,645.4 1540.8,647.5 1541.2,647.4 1541.6,647.4 1541.9,646.9 1542.3,649.6 1542.7,647.7 1543.1,645.4 1543.5,648.7 1543.9,650.5 1544.3,649.9 1544.7,648.8 1545.1,645.4 1545.5,651.3 1545.9,651.5 1546.3,652.6 1546.7,652.1 1547.1,649.7 1547.5,647.6 1547.9,650.7 1548.3,647.8 1548.7,649.5 1549.1,648.6 1549.5,646.3 1549.9,650.7 1550.3,651.5 1550.7,653.4 1551.0,649.9 1551.4,657.4 1551.8,651.7 1552.2,649.5 1552.6,653.8 1553.0,652.9 1553.4,656.2 1553.8,651.2 1554.2,651.9 1554.6,656.7 1555.0,651.4 1555.4,653.6 1555.8,650.8 1556.2,653.1 1556.6,651.2 1557.0,653.7 1557.4,652.2 1557.8,652.7 1558.2,652.3 1558.6,657.6 1559.0,655.4 1559.4,651.3 1559.7,650.2 1560.1,648.2 1560.5,655.1 1560.9,652.6 1561.3,653.0 1561.7,658.4 1562.1,655.3 1562.5,653.3 1562.9,656.4 1563.3,660.0 1563.7,649.1 1564.1,655.0 1564.5,656.4 1564.9,657.0 1565.3,651.5 1565.7,659.9 1566.1,655.6 1566.5,655.9 1566.9,657.7 1567.3,658.6 1567.7,657.5 1568.1,658.3 1568.4,654.1 1568.8,647.5 1569.2,658.7 1569.6,655.6 1570.0,659.2 1570.4,651.7 1570.8,656.2 1571.2,661.6 1571.6,655.7 1572.0,654.9 1572.4,656.5 1572.8,653.3 1573.2,657.1 1573.6,658.2 1574.0,662.4 1574.4,661.7 1574.8,658.0 1575.2,655.5 1575.6,650.5 1576.0,656.1 1576.4,660.5 1576.8,658.6 1577.2,657.7 1577.5,657.0 1577.9,654.8 1578.3,656.2 1578.7,655.8 1579.1,656.5 1579.5,656.5 1579.9,653.5 1580.3,656.9 1580.7,657.7 1581.1,656.2 1581.5,659.8 1581.9,661.7 1582.3,662.7 1582.7,653.4 1583.1,664.6 1583.5,654.1 1583.9,658.4 1584.3,656.3 1584.7,657.4 1585.1,657.1 1585.5,661.0 1585.9,656.9 1586.2,666.8 1586.6,663.6 1587.0,662.1 1587.4,664.5 1587.8,660.0 1588.2,662.2 1588.6,658.4 1589.0,655.6 1589.4,658.6 1589.8,659.9 1590.2,658.3 1590.6,658.9 1591.0,663.3 1591.4,658.7 1591.8,664.0 1592.2,659.7 1592.6,657.3 1593.0,658.2 1593.4,659.6 1593.8,659.2 1594.2,663.4 1594.6,663.6 1594.9,665.8 1595.3,658.9 1595.7,658.9 1596.1,663.6 1596.5,662.1 1596.9,659.9 1597.3,661.3 1597.7,662.5 1598.1,662.9 1598.5,659.9 1598.9,659.2 1599.3,660.5 1599.7,664.0 1600.1,665.4 1600.5,659.5 1600.9,658.2 1601.3,664.2 1601.7,661.9 1602.1,663.2 1602.5,658.0 1602.9,660.1 1603.3,662.5 1603.7,658.9 1604.0,658.3 1604.4,663.4 1604.8,657.9 1605.2,663.9 1605.6,661.6 1606.0,661.2 1606.4,660.0 1606.8,660.1 1607.2,665.9 1607.6,666.1 1608.0,661.9 1608.4,658.4 1608.8,662.7 1609.2,661.8 1609.6,662.4 1610.0,660.2 1610.4,664.9 1610.8,664.8 1611.2,660.2 1611.6,666.4 1612.0,664.1 1612.4,660.4 1612.7,659.8 1613.1,662.3 1613.5,658.3 1613.9,659.3 1614.3,661.8 1614.7,665.2 1615.1,663.4 1615.5,662.2 1615.9,658.9 1616.3,658.2 1616.7,664.4 1617.1,661.6 1617.5,662.9 1617.9,657.4 1618.3,657.2 1618.7,663.0 1619.1,660.8 1619.5,662.9 1619.9,657.9 1620.3,658.4 1620.7,662.1 1621.1,662.9 1621.5,663.5 1621.8,657.7 1622.2,667.4 1622.6,664.8 1623.0,659.3 1623.4,658.5 1623.8,663.9 1624.2,657.2 1624.6,660.6 1625.0,665.9 1625.4,664.7 1625.8,656.7 1626.2,665.0 1626.6,662.4 1627.0,661.4 1627.4,663.5 1627.8,662.2 1628.2,662.1 1628.6,657.5 1629.0,659.0 1629.4,659.8 1629.8,666.5 1630.2,663.0 1630.5,659.4 1630.9,661.7 1631.3,657.0 1631.7,662.2 1632.1,663.3 1632.5,664.2 1632.9,659.6 1633.3,664.6 1633.7,662.8 1634.1,661.4 1634.5,660.4 1634.9,659.8 1635.3,663.5 1635.7,661.0 1636.1,665.7 1636.5,664.8 1636.9,659.2 1637.3,663.5 1637.7,657.7 1638.1,666.6 1638.5,663.1 1638.9,659.5 1639.2,664.5 1639.6,660.7 1640.0,661.6 1640.4,660.9 1640.8,658.1 1641.2,661.2 1641.6,658.0 1642.0,661.0 1642.4,666.2 1642.8,656.9 1643.2,658.8 1643.6,660.1 1644.0,666.2 1644.4,660.0 1644.8,666.9 1645.2,667.9 1645.6,658.0 1646.0,659.3 1646.4,665.6 1646.8,663.1 1647.2,660.8 1647.6,662.3 1648.0,666.3 1648.3,666.2 1648.7,661.0 1649.1,661.5 1649.5,656.9 1649.9,664.4 1650.3,661.1 1650.7,661.5 1651.1,662.0 1651.5,668.1 1651.9,661.3 1652.3,666.2 1652.7,662.0 1653.1,660.5 1653.5,667.1 1653.9,658.0 1654.3,666.5 1654.7,658.7 1655.1,661.4 1655.5,664.4 1655.9,662.9 1656.3,661.2 1656.7,662.0 1657.0,665.2 1657.4,662.2 1657.8,657.7 1658.2,656.7 1658.6,660.5 1659.0,657.6 1659.4,657.4 1659.8,662.6 1660.2,657.9 1660.6,663.8 1661.0,661.6 1661.4,659.8 1661.8,664.2 1662.2,662.5 1662.6,663.8 1663.0,659.2 1663.4,660.9 1663.8,660.3 1664.2,662.0 1664.6,662.4 1665.0,664.8 1665.4,658.9 1665.7,658.8 1666.1,659.3 1666.5,664.6 1666.9,663.6 1667.3,661.9 1667.7,657.5 1668.1,664.1 1668.5,659.8 1668.9,658.2 1669.3,665.2 1669.7,664.4 1670.1,662.8 1670.5,654.3 1670.9,663.9 1671.3,660.2 1671.7,660.1 1672.1,662.3 1672.5,663.0 1672.9,664.4 1673.3,662.1 1673.7,658.4 1674.1,660.8 1674.5,660.0 1674.8,661.4 1675.2,657.9 1675.6,663.5 1676.0,662.7 1676.4,662.2 1676.8,663.0 1677.2,662.9 1677.6,658.6 1678.0,657.0 1678.4,660.1 1678.8,660.0 1679.2,660.0 1679.6,657.5 1680.0,662.0 1680.4,662.1 1680.8,657.8 1681.2,662.6 1681.6,662.8 1682.0,662.5 1682.4,657.8 1682.8,662.9 1683.2,665.8 1683.5,659.8 1683.9,658.9 1684.3,657.4 1684.7,660.4 1685.1,658.0 1685.5,657.3 1685.9,663.1 1686.3,661.7 1686.7,655.1 1687.1,660.9 1687.5,658.6 1687.9,661.2 1688.3,655.6 1688.7,662.6 1689.1,665.2 1689.5,657.8 1689.9,663.5 1690.3,657.7 1690.7,658.7 1691.1,664.3 1691.5,658.4 1691.9,657.8 1692.2,656.6 1692.6,660.3 1693.0,665.4 1693.4,656.8 1693.8,660.8 1694.2,659.2 1694.6,659.8 1695.0,663.8 1695.4,659.2 1695.8,655.8 1696.2,657.5 1696.6,661.3 1697.0,656.9 1697.4,665.2 1697.8,662.5 1698.2,660.3 1698.6,662.0 1699.0,660.5 1699.4,662.8 1699.8,657.7 1700.2,656.5 1700.6,656.3 1701.0,658.9 1701.3,653.7 1701.7,656.3 1702.1,654.0 1702.5,660.4 1702.9,660.6 1703.3,661.7 1703.7,658.9 1704.1,658.2 1704.5,662.5 1704.9,660.8 1705.3,659.9 1705.7,661.0 1706.1,655.0 1706.5,656.5 1706.9,658.4 1707.3,660.4 1707.7,657.1 1708.1,662.1 1708.5,662.8 1708.9,659.2 1709.3,658.2 1709.7,660.1 1710.0,657.8 1710.4,656.6 1710.8,653.9 1711.2,660.1 1711.6,661.1 1712.0,662.4 1712.4,655.9 1712.8,655.0 1713.2,654.1 1713.6,660.8 1714.0,661.1 1714.4,656.4 1714.8,659.5 1715.2,656.3 1715.6,658.7 1716.0,656.2 1716.4,653.8 1716.8,655.0 1717.2,652.2 1717.6,658.3 1718.0,656.4 1718.4,649.4 1718.8,656.1 1719.1,652.3 1719.5,655.3 1719.9,657.3 1720.3,656.9 1720.7,649.3 1721.1,655.3 1721.5,655.1 1721.9,656.6 1722.3,655.3 1722.7,654.1 1723.1,656.8 1723.5,654.5 1723.9,652.2 1724.3,660.0 1724.7,664.4 1725.1,657.0 1725.5,650.6 1725.9,658.0 1726.3,655.8 1726.7,657.6 1727.1,651.9 1727.5,658.3 1727.8,657.0 1728.2,656.3 1728.6,660.1 1729.0,654.9 1729.4,654.1 1729.8,653.3 1730.2,652.9 1730.6,649.8 1731.0,653.6 1731.4,652.3 1731.8,657.5 1732.2,657.3 1732.6,650.4 1733.0,654.1 1733.4,659.7 1733.8,654.9 1734.2,655.6 1734.6,655.5 1735.0,659.3 1735.4,656.3 1735.8,656.1 1736.2,658.9 1736.5,654.9 1736.9,659.6 1737.3,656.3 1737.7,655.6 1738.1,655.1 1738.5,659.0 1738.9,658.9 1739.3,655.8 1739.7,655.0 1740.1,657.3 1740.5,660.8 1740.9,661.2 1741.3,654.0 1741.7,654.9 1742.1,652.1 1742.5,651.8 1742.9,658.9 1743.3,659.6 1743.7,657.2 1744.1,654.5 1744.5,657.7 1744.9,656.9 1745.3,656.1 1745.6,661.4 1746.0,656.6 1746.4,656.0 1746.8,660.3 1747.2,655.3 1747.6,661.2 1748.0,659.4 1748.4,661.5 1748.8,655.7 1749.2,662.6 1749.6,657.5 1750.0,657.6 1750.4,658.7 1750.8,656.0 1751.2,654.3 1751.6,659.5 1752.0,659.8 1752.4,660.7 1752.8,657.3 1753.2,660.3 1753.6,656.9 1754.0,655.3 1754.3,660.4 1754.7,657.9 1755.1,660.2 1755.5,657.8 1755.9,656.1 1756.3,652.3 1756.7,660.2 1757.1,652.6 1757.5,664.3 1757.9,658.1 1758.3,656.4 1758.7,660.3 1759.1,659.4 1759.5,658.7 1759.9,655.8 1760.3,656.2 1760.7,662.6 1761.1,658.8 1761.5,658.1 1761.9,657.1 1762.3,656.9 1762.7,661.0 1763.0,662.3 1763.4,657.9 1763.8,662.7 1764.2,656.0 1764.6,662.7 1765.0,664.0 1765.4,661.1 1765.8,656.2 1766.2,659.7 1766.6,661.3 1767.0,658.5 1767.4,659.7 1767.8,663.8 1768.2,657.6 1768.6,657.9 1769.0,662.2 1769.4,658.7 1769.8,658.1 1770.2,656.2 1770.6,660.6 1771.0,661.1 1771.4,660.9 1771.8,659.0 1772.1,659.4 1772.5,658.1 1772.9,658.3 1773.3,663.0 1773.7,660.1 1774.1,661.8 1774.5,660.2 1774.9,661.7 1775.3,662.4 1775.7,657.2 1776.1,660.0 1776.5,663.1 1776.9,662.5 1777.3,655.8 1777.7,660.7 1778.1,664.2 1778.5,664.9 1778.9,659.4 1779.3,662.8 1779.7,660.6 1780.1,662.8 1780.5,662.7 1780.8,659.7 1781.2,658.7 1781.6,659.0 1782.0,661.2 1782.4,660.4 1782.8,664.8 1783.2,662.7 1783.6,663.9 1784.0,660.7 1784.4,663.5 1784.8,659.8 1785.2,661.5 1785.6,660.0 1786.0,661.4 1786.4,657.7 1786.8,663.6 1787.2,660.2 1787.6,662.9 1788.0,660.3 1788.4,657.8 1788.8,659.1 1789.2,652.4 1789.6,659.7 1789.9,658.8 1790.3,652.9 1790.7,660.7 1791.1,662.9 1791.5,662.3 1791.9,656.4 1792.3,658.9 1792.7,660.8 1793.1,659.0 1793.5,658.6 1793.9,659.8 1794.3,659.1 1794.7,659.3 1795.1,666.1 1795.5,658.5 1795.9,656.5 1796.3,661.0 1796.7,660.9 1797.1,660.6 1797.5,663.7 1797.9,661.2 1798.3,656.2 1798.6,664.8 1799.0,661.2 1799.4,665.1 1799.8,665.5 1800.2,657.0 1800.6,663.9 1801.0,663.8 1801.4,658.5 1801.8,659.7 1802.2,660.1 1802.6,654.9 1803.0,658.0 1803.4,666.2 1803.8,660.2 1804.2,660.8 1804.6,667.0 1805.0,665.1 1805.4,660.0 1805.8,660.8 1806.2,662.0 1806.6,659.3 1807.0,662.9 1807.3,660.3 1807.7,658.5 1808.1,669.0 1808.5,660.7 1808.9,661.9 1809.3,656.7 1809.7,661.8 1810.1,662.2 1810.5,659.5 1810.9,664.4 1811.3,665.3 1811.7,657.6 1812.1,660.6 1812.5,661.6 1812.9,658.1 1813.3,664.5 1813.7,665.5 1814.1,663.1 1814.5,665.1 1814.9,661.3 1815.3,660.7 1815.7,666.0 1816.1,665.1 1816.4,657.4 1816.8,660.9 1817.2,662.5 1817.6,661.5 1818.0,666.2 1818.4,658.1 1818.8,662.1 1819.2,668.7 1819.6,664.0 1820.0,666.4 1820.4,663.2 1820.8,665.1 1821.2,661.1 1821.6,668.1 1822.0,663.3 1822.4,663.0 1822.8,667.4 1823.2,661.0 1823.6,672.0 1824.0,665.9 1824.4,667.0 1824.8,664.2 1825.1,661.5 1825.5,669.5 1825.9,663.4 1826.3,663.1 1826.7,661.1 1827.1,666.8 1827.5,662.8 1827.9,662.4 1828.3,662.4 1828.7,658.1 1829.1,665.4 1829.5,662.8 1829.9,664.9 1830.3,662.3 1830.7,665.8 1831.1,659.6 1831.5,664.2 1831.9,665.1 1832.3,664.1 1832.7,662.7 1833.1,665.4 1833.5,665.2 1833.8,661.9 1834.2,667.9 1834.6,665.4 1835.0,668.2 1835.4,668.9 1835.8,663.5 1836.2,663.7 1836.6,662.0 1837.0,662.1 1837.4,669.7 1837.8,663.8 1838.2,668.0 1838.6,666.4 1839.0,662.6 1839.4,663.7 1839.8,665.8 1840.2,666.6 1840.6,663.9 1841.0,662.2 1841.4,663.3 1841.8,664.2 1842.2,664.9 1842.6,667.8 1842.9,665.0 1843.3,667.8 1843.7,671.9 1844.1,663.9 1844.5,667.0 1844.9,666.8 1845.3,664.2 1845.7,665.8 1846.1,664.6 1846.5,665.2 1846.9,662.7 1847.3,663.7 1847.7,664.4 1848.1,665.0 1848.5,664.7 1848.9,669.6 1849.3,669.3 1849.7,671.5 1850.1,673.4 1850.5,662.0 1850.9,669.1 1851.3,665.8 1851.6,669.3 1852.0,669.5 1852.4,670.9 1852.8,667.8 1853.2,663.7 1853.6,671.6 1854.0,666.6 1854.4,668.0 1854.8,666.5 1855.2,664.4 1855.6,666.6 1856.0,665.6 1856.4,664.5 1856.8,668.6 1857.2,669.9 1857.6,669.0 1858.0,671.1 1858.4,667.3 1858.8,668.4 1859.2,663.5 1859.6,665.9 1860.0,665.5 1860.3,672.2 1860.7,670.3 1861.1,673.8 1861.5,663.4 1861.9,669.0 1862.3,667.6 1862.7,665.9 1863.1,668.3 1863.5,665.6 1863.9,669.6 1864.3,670.2 1864.7,665.4 1865.1,672.0 1865.5,673.4 1865.9,671.0 1866.3,663.4 1866.7,671.3 1867.1,668.8 1867.5,666.2 1867.9,665.3 1868.3,670.8 1868.7,666.6 1869.1,663.1 1869.4,663.2 1869.8,664.1 1870.2,665.8 1870.6,667.0 1871.0,667.5 1871.4,668.2 1871.8,665.1 1872.2,673.4 1872.6,664.9 1873.0,661.5 1873.4,670.0 1873.8,671.0 1874.2,668.0 1874.6,665.0 1875.0,669.0 1875.4,669.5 1875.8,668.0 1876.2,667.6 1876.6,664.1 1877.0,668.9 1877.4,672.5 1877.8,667.2 1878.1,670.9 1878.5,668.5 1878.9,672.3 1879.3,668.4 1879.7,666.4 1880.1,662.6 1880.5,663.5 1880.9,660.9 1881.3,668.7 1881.7,669.1 1882.1,666.2 1882.5,663.0 1882.9,667.7 1883.3,667.3 1883.7,667.6 1884.1,670.8 1884.5,671.2 1884.9,664.1 1885.3,668.3 1885.7,667.2 1886.1,662.8 1886.5,664.4 1886.9,665.1 1887.2,664.1 1887.6,664.3 1888.0,664.4 1888.4,662.5 1888.8,663.8 1889.2,664.4 1889.6,664.1 1890.0,660.2 1890.4,663.8 1890.8,665.7 1891.2,662.6 1891.6,668.5 1892.0,665.2 1892.4,665.8 1892.8,665.6 1893.2,660.9 1893.6,658.3 1894.0,669.2 1894.4,662.1 1894.8,665.0 1895.2,668.3 1895.6,659.6 1895.9,667.1 1896.3,665.6 1896.7,661.3 1897.1,662.6 1897.5,664.7 1897.9,664.5 1898.3,662.6 1898.7,666.8 1899.1,663.8 1899.5,668.4 1899.9,664.3 1900.3,664.1 1900.7,666.6 1901.1,660.3 1901.5,662.5 1901.9,664.7 1902.3,657.6 1902.7,663.2 1903.1,663.3 1903.5,661.8 1903.9,660.6 1904.3,663.8 1904.6,662.5 1905.0,663.0 1905.4,664.6 1905.8,662.6 1906.2,663.8 1906.6,669.0 1907.0,661.4 1907.4,665.3 1907.8,664.1 1908.2,668.6 1908.6,662.1 1909.0,659.8"/>
</g>
<line x1="1909.7" y1="665" x2="1909.7" y2="1054" stroke="#ff6600" stroke-width="2.0"/>
<g font-family="'Liberation Sans', sans-serif" font-size="40" fill="#000">
<text x="195.3" y="1183.8" text-anchor="end">0</text>
<text x="195.3" y="1082.6" text-anchor="end">2000</text>
<text x="195.3" y="981.4" text-anchor="end">4000</text>
<text x="195.3" y="880.2" text-anchor="end">6000</text>
<text x="195.3" y="779.0" text-anchor="end">8000</text>
<text x="195.3" y="677.8" text-anchor="end">10000</text>
<text x="195.3" y="576.6" text-anchor="end">12000</text>
<text x="195.3" y="475.4" text-anchor="end">14000</text>
<text x="195.3" y="374.2" text-anchor="end">16000</text>
<text x="195.3" y="273.0" text-anchor="end">18000</text>
<text x="195.3" y="171.8" text-anchor="end">20000</text>
<text x="195.3" y="70.6" text-anchor="end">22000</text>
<text x="228.0" y="1231" text-anchor="middle">35</text>
<text x="326.9" y="1231" text-anchor="middle">40</text>
<text x="425.8" y="1231" text-anchor="middle">45</text>
<text x="524.6" y="1231" text-anchor="middle">50</text>
<text x="623.5" y="1231" text-anchor="middle">55</text>
<text x="722.4" y="1231" text-anchor="middle">60</text>
<text x="821.3" y="1231" text-anchor="middle">65</text>
<text x="920.2" y="1231" text-anchor="middle">70</text>
<text x="1019.1" y="1231" text-anchor="middle">75</text>
<text x="1117.9" y="1231" text-anchor="middle">80</text>
<text x="1216.8" y="1231" text-anchor="middle">85</text>
<text x="1315.7" y="1231" text-anchor="middle">90</text>
<text x="1414.6" y="1231" text-anchor="middle">95</text>
<text x="1513.5" y="1231" text-anchor="middle">100</text>
<text x="1612.4" y="1231" text-anchor="middle">105</text>
<text x="1711.2" y="1231" text-anchor="middle">110</text>
<text x="1810.1" y="1231" text-anchor="middle">115</text>
<text x="1909.0" y="1231" text-anchor="middle">120</text>
</g>
<g font-family="'Liberation Sans', sans-serif" font-size="46" fill="#000">
<text x="1068" y="1292" text-anchor="middle">2θ (º)</text>
<text transform="translate(56,613) rotate(-90)" text-anchor="middle">Intensity (counts)</text>
</g>
<g font-family="'Liberation Serif', serif" font-size="52" fill="#000" stroke="#fff" stroke-width="0.5">
<text transform="translate(640,292.3) rotate(-90) scale(1.03,1)">(110) α'</text>
<text transform="translate(528.5,478.2) rotate(-90) scale(1.03,1)">(111) γ</text>
<text transform="translate(783,527) rotate(-90) scale(1.03,1)">(200) γ</text>
<text transform="translate(1130.5,496.6) rotate(-90) scale(1.03,1)">(200) α'</text>
<text transform="translate(1376,442.2) rotate(-90) scale(1.03,1)">(220) γ</text>
<text transform="translate(1580.8,346.8) rotate(-90) scale(1.03,1)">(211) α'</text>
<text transform="translate(1803,437.5) rotate(-90) scale(1.03,1)">(311) γ</text>
<text transform="translate(241.5,549.8) scale(1.03,1)">(100) ε</text>
<text transform="translate(284.5,726.8) scale(1.03,1)">(002) ε</text>
<text transform="translate(778.5,620.8) scale(1.03,1)">(101) ε</text>
<text transform="translate(837.5,735.2) scale(1.03,1)">(102) ε</text>
</g>
<g stroke="#000" stroke-width="2.0" fill="none">
<line x1="402.3" y1="554.2" x2="446.8" y2="628.3"/>
<line x1="527.9" y1="502.7" x2="544.2" y2="623.1"/>
<line x1="447" y1="735.4" x2="525.2" y2="814.4"/>
<line x1="817.5" y1="636.6" x2="646.3" y2="729.7"/>
<line x1="909" y1="745.4" x2="875.8" y2="819.5"/>
</g>
<g fill="#000">
<polygon points="441.9,633.5 452.9,622.5 463.9,633.5 452.9,644.5"/>
<polygon points="432.5,833.2 443.5,822.2 454.5,833.2 443.5,844.2"/>
<polygon points="519.4,827 530.4,816 541.4,827 530.4,838"/>
<polygon points="623.8,734.5 634.8,723.5 645.8,734.5 634.8,745.5"/>
<polygon points="625.8,831.1 636.8,820.1 647.8,831.1 636.8,842.1"/>
<polygon points="861,836.8 872,825.8 883,836.8 872,847.8"/>
<polygon points="870.1,941.2 881.1,930.2 892.1,941.2 881.1,952.2"/>
</g>
<g font-family="'Liberation Serif', serif" font-size="49" fill="#000" stroke="#fff" stroke-width="0.5">
<text x="1942.5" y="655.0">ε<tspan font-size="32" dy="12">E</tspan><tspan font-size="32" dy="-28" dx="0">F</tspan><tspan dy="16" dx="0">= </tspan><tspan dx="1.8">0.52</tspan></text>
<text x="1942.5" y="773.1">ε<tspan font-size="32" dy="12">E</tspan><tspan dy="-12" dx="0">= </tspan><tspan dx="1.8">0.40</tspan></text>
<text x="1942.5" y="873.5">ε<tspan font-size="32" dy="12">E</tspan><tspan dy="-12" dx="0">= </tspan><tspan dx="1.8">0.30</tspan></text>
<text x="1942.5" y="972.7">ε<tspan font-size="32" dy="12">E</tspan><tspan dy="-12" dx="0">= </tspan><tspan dx="1.8">0.20</tspan></text>
<text x="1942.5" y="1073.1">ε<tspan font-size="32" dy="12">E</tspan><tspan dy="-12" dx="0">= </tspan><tspan dx="1.8">0.10</tspan></text>
<text x="1942.5" y="1173.5">ε<tspan font-size="32" dy="12">E</tspan><tspan dy="-12" dx="0">= </tspan><tspan dx="1.8">0 (IM)</tspan></text>
</g>
</svg>
</body></html>
